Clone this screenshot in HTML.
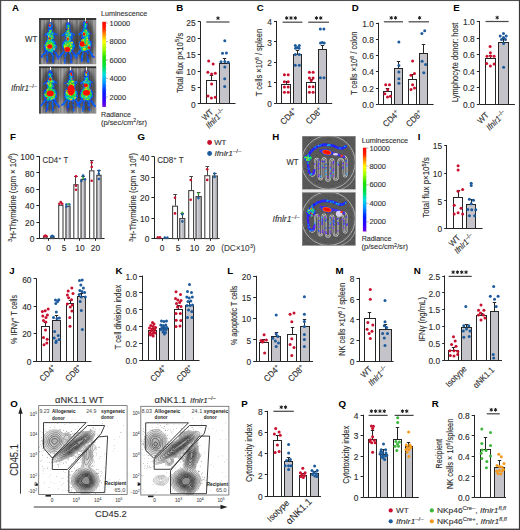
<!DOCTYPE html>
<html><head><meta charset="utf-8"><style>
html,body{margin:0;padding:0;background:#fff;}
svg{display:block;font-family:"Liberation Sans", sans-serif;}
</style></head><body>
<svg width="520" height="530" viewBox="0 0 520 530">
<rect width="520" height="530" fill="#fff"/>
<defs><filter id="blur04" x="-20%" y="-20%" width="140%" height="140%"><feGaussianBlur stdDeviation="0.4"/></filter><filter id="blur06" x="-20%" y="-20%" width="140%" height="140%"><feGaussianBlur stdDeviation="0.55"/></filter><filter id="blur1" x="-30%" y="-30%" width="160%" height="160%"><feGaussianBlur stdDeviation="1.2"/></filter><filter id="blur15" x="-30%" y="-30%" width="160%" height="160%"><feGaussianBlur stdDeviation="1.8"/></filter></defs>
<text x="12.10" y="10.80" font-size="9.7" fill="#000" font-weight="bold" >A</text>
<defs><clipPath id="clipA1"><rect x="39.1" y="18.1" width="57.199999999999996" height="46.49999999999999"/></clipPath></defs>
<g clip-path="url(#clipA1)">
<rect x="39.10" y="18.10" width="57.20" height="46.50" fill="#828282"/>
<rect x="39.1" y="18.1" width="0.7" height="46.49999999999999" fill="#626262" opacity="0.75"/>
<rect x="40.7" y="18.1" width="0.8" height="46.49999999999999" fill="#a4a4a4" opacity="0.75"/>
<rect x="42.0" y="18.1" width="1.4" height="46.49999999999999" fill="#a4a4a4" opacity="0.75"/>
<rect x="45.1" y="18.1" width="0.7" height="46.49999999999999" fill="#b8b8b8" opacity="0.75"/>
<rect x="46.4" y="18.1" width="0.5" height="46.49999999999999" fill="#9c9c9c" opacity="0.75"/>
<rect x="48.6" y="18.1" width="1.0" height="46.49999999999999" fill="#787878" opacity="0.75"/>
<rect x="51.0" y="18.1" width="0.8" height="46.49999999999999" fill="#787878" opacity="0.75"/>
<rect x="53.1" y="18.1" width="1.0" height="46.49999999999999" fill="#626262" opacity="0.75"/>
<rect x="55.5" y="18.1" width="0.9" height="46.49999999999999" fill="#acacac" opacity="0.75"/>
<rect x="56.7" y="18.1" width="0.9" height="46.49999999999999" fill="#acacac" opacity="0.75"/>
<rect x="58.9" y="18.1" width="1.2" height="46.49999999999999" fill="#9c9c9c" opacity="0.75"/>
<rect x="60.3" y="18.1" width="1.3" height="46.49999999999999" fill="#6c6c6c" opacity="0.75"/>
<rect x="62.1" y="18.1" width="1.5" height="46.49999999999999" fill="#acacac" opacity="0.75"/>
<rect x="64.0" y="18.1" width="1.3" height="46.49999999999999" fill="#acacac" opacity="0.75"/>
<rect x="66.3" y="18.1" width="0.7" height="46.49999999999999" fill="#6c6c6c" opacity="0.75"/>
<rect x="68.0" y="18.1" width="1.4" height="46.49999999999999" fill="#6c6c6c" opacity="0.75"/>
<rect x="70.8" y="18.1" width="0.7" height="46.49999999999999" fill="#a4a4a4" opacity="0.75"/>
<rect x="73.2" y="18.1" width="1.3" height="46.49999999999999" fill="#a4a4a4" opacity="0.75"/>
<rect x="76.1" y="18.1" width="1.6" height="46.49999999999999" fill="#6c6c6c" opacity="0.75"/>
<rect x="78.1" y="18.1" width="1.0" height="46.49999999999999" fill="#a4a4a4" opacity="0.75"/>
<rect x="80.0" y="18.1" width="0.9" height="46.49999999999999" fill="#787878" opacity="0.75"/>
<rect x="82.5" y="18.1" width="1.0" height="46.49999999999999" fill="#9c9c9c" opacity="0.75"/>
<rect x="85.1" y="18.1" width="1.1" height="46.49999999999999" fill="#9c9c9c" opacity="0.75"/>
<rect x="88.0" y="18.1" width="0.9" height="46.49999999999999" fill="#6c6c6c" opacity="0.75"/>
<rect x="90.4" y="18.1" width="0.7" height="46.49999999999999" fill="#626262" opacity="0.75"/>
<rect x="92.9" y="18.1" width="1.0" height="46.49999999999999" fill="#acacac" opacity="0.75"/>
<rect x="94.3" y="18.1" width="1.2" height="46.49999999999999" fill="#b8b8b8" opacity="0.75"/>
<rect x="96.0" y="18.1" width="1.2" height="46.49999999999999" fill="#b8b8b8" opacity="0.75"/>
<rect x="39.1" y="18.1" width="57.199999999999996" height="1.8" fill="#2e2e2e"/>
<rect x="39.1" y="18.1" width="1.6" height="46.49999999999999" fill="#3a3a3a"/>
<ellipse cx="50.3" cy="42.6" rx="9.5" ry="21" fill="#2a2a2a" opacity="0.6" filter="url(#blur15)"/>
<ellipse cx="68.3" cy="42.6" rx="9.5" ry="21" fill="#2a2a2a" opacity="0.6" filter="url(#blur15)"/>
<ellipse cx="85.2" cy="41.6" rx="9.5" ry="21" fill="#2a2a2a" opacity="0.6" filter="url(#blur15)"/>
<line x1="50.50" y1="19.00" x2="50.50" y2="23.20" stroke="#f4f4f4" stroke-width="1.0"/>
<g filter="url(#blur04)">
<g opacity="0.55">
<ellipse cx="50.3" cy="26.2" rx="2.3" ry="4.1" fill="#2a2aff"/>
<ellipse cx="50.3" cy="31.1" rx="2.5" ry="2.9" fill="#2a2aff"/>
<ellipse cx="50.6" cy="37.1" rx="4.0" ry="5.5" fill="#2a2aff"/>
<ellipse cx="50.3" cy="46.1" rx="6.5" ry="7.1" fill="#2a2aff"/>
<line x1="48.3" y1="32.6" x2="44.5" y2="35.4" stroke="#2a2aff" stroke-width="1.5" stroke-linecap="round"/>
<line x1="52.6" y1="32.4" x2="56.3" y2="34.6" stroke="#2a2aff" stroke-width="1.5" stroke-linecap="round"/>
<line x1="46.3" y1="51.1" x2="41.3" y2="57.1" stroke="#2a2aff" stroke-width="1.5" stroke-linecap="round"/>
<line x1="47.8" y1="53.1" x2="46.8" y2="62.6" stroke="#2a2aff" stroke-width="1.4" stroke-linecap="round"/>
<line x1="54.3" y1="51.1" x2="58.8" y2="58.6" stroke="#2a2aff" stroke-width="1.5" stroke-linecap="round"/>
<line x1="52.3" y1="53.6" x2="53.3" y2="62.6" stroke="#2a2aff" stroke-width="1.3" stroke-linecap="round"/>
</g>
<path fill="#006eff" d="M50.0 22.7h1.35v1.35h-1.35zM51.3 25.8h1.35v1.35h-1.35zM48.2 28.7h1.35v1.35h-1.35zM50.2 29.0h1.35v1.35h-1.35zM50.9 30.6h1.35v1.35h-1.35zM45.2 33.1h1.35v1.35h-1.35zM54.2 33.2h1.35v1.35h-1.35zM45.8 34.0h1.35v1.35h-1.35zM54.1 33.7h1.35v1.35h-1.35zM46.9 35.8h1.35v1.35h-1.35zM52.6 36.2h1.35v1.35h-1.35zM51.2 37.2h1.35v1.35h-1.35zM53.0 37.3h1.35v1.35h-1.35zM47.0 38.1h1.35v1.35h-1.35zM47.2 39.2h1.35v1.35h-1.35zM53.6 40.5h1.35v1.35h-1.35zM54.1 41.6h1.35v1.35h-1.35zM55.6 45.8h1.35v1.35h-1.35zM44.0 46.4h1.35v1.35h-1.35zM48.4 48.9h1.35v1.35h-1.35zM53.4 50.1h1.35v1.35h-1.35zM46.3 50.5h1.35v1.35h-1.35zM47.2 50.9h1.35v1.35h-1.35zM44.0 52.8h1.35v1.35h-1.35zM46.7 52.8h1.35v1.35h-1.35zM51.3 52.8h1.35v1.35h-1.35zM41.7 54.1h1.35v1.35h-1.35zM43.0 53.7h1.35v1.35h-1.35zM51.3 54.0h1.35v1.35h-1.35zM52.5 54.8h1.35v1.35h-1.35zM46.2 55.8h1.35v1.35h-1.35zM46.9 57.0h1.35v1.35h-1.35zM52.4 57.4h1.35v1.35h-1.35zM46.9 57.9h1.35v1.35h-1.35z"/>
<path fill="#caf000" d="M49.2 23.8h1.35v1.35h-1.35zM48.2 38.5h1.35v1.35h-1.35zM46.8 43.7h1.35v1.35h-1.35zM47.2 45.9h1.35v1.35h-1.35zM51.2 45.7h1.35v1.35h-1.35zM52.6 45.2h1.35v1.35h-1.35zM53.3 45.6h1.35v1.35h-1.35zM47.9 47.5h1.35v1.35h-1.35zM48.9 47.7h1.35v1.35h-1.35z"/>
<path fill="#ff2f00" d="M49.3 24.8h1.35v1.35h-1.35zM49.2 44.6h1.35v1.35h-1.35zM50.0 44.7h1.35v1.35h-1.35zM48.9 45.4h1.35v1.35h-1.35z"/>
<path fill="#00e646" d="M50.2 24.4h1.35v1.35h-1.35zM49.3 30.7h1.35v1.35h-1.35zM48.0 33.1h1.35v1.35h-1.35zM51.5 34.1h1.35v1.35h-1.35zM50.2 36.4h1.35v1.35h-1.35zM48.3 37.4h1.35v1.35h-1.35zM49.9 40.5h1.35v1.35h-1.35zM52.3 40.3h1.35v1.35h-1.35zM46.3 41.6h1.35v1.35h-1.35zM47.8 42.7h1.35v1.35h-1.35zM49.3 42.6h1.35v1.35h-1.35zM52.5 42.2h1.35v1.35h-1.35zM48.3 43.2h1.35v1.35h-1.35zM52.5 43.8h1.35v1.35h-1.35zM52.3 44.4h1.35v1.35h-1.35zM53.3 44.3h1.35v1.35h-1.35zM52.6 47.9h1.35v1.35h-1.35zM49.4 48.6h1.35v1.35h-1.35zM51.9 49.5h1.35v1.35h-1.35z"/>
<path fill="#0555ff" d="M51.5 24.6h1.35v1.35h-1.35zM47.9 25.5h1.35v1.35h-1.35zM48.2 27.0h1.35v1.35h-1.35zM50.5 26.6h1.35v1.35h-1.35zM49.9 28.0h1.35v1.35h-1.35zM51.0 27.8h1.35v1.35h-1.35zM49.0 28.7h1.35v1.35h-1.35zM48.3 29.6h1.35v1.35h-1.35zM51.0 29.5h1.35v1.35h-1.35zM47.0 31.7h1.35v1.35h-1.35zM52.0 31.6h1.35v1.35h-1.35zM53.7 32.6h1.35v1.35h-1.35zM52.3 33.9h1.35v1.35h-1.35zM55.3 33.7h1.35v1.35h-1.35zM56.2 33.8h1.35v1.35h-1.35zM47.2 35.1h1.35v1.35h-1.35zM53.5 36.4h1.35v1.35h-1.35zM52.5 38.4h1.35v1.35h-1.35zM46.3 40.3h1.35v1.35h-1.35zM45.2 41.3h1.35v1.35h-1.35zM53.2 41.0h1.35v1.35h-1.35zM44.8 43.3h1.35v1.35h-1.35zM54.3 43.6h1.35v1.35h-1.35zM43.9 44.4h1.35v1.35h-1.35zM43.6 45.4h1.35v1.35h-1.35zM54.5 45.8h1.35v1.35h-1.35zM55.6 46.9h1.35v1.35h-1.35zM44.8 48.0h1.35v1.35h-1.35zM54.6 47.6h1.35v1.35h-1.35zM44.6 48.7h1.35v1.35h-1.35zM54.2 48.9h1.35v1.35h-1.35zM44.8 49.5h1.35v1.35h-1.35zM44.9 50.6h1.35v1.35h-1.35zM44.7 51.9h1.35v1.35h-1.35zM47.2 52.2h1.35v1.35h-1.35zM49.0 51.6h1.35v1.35h-1.35zM50.2 52.1h1.35v1.35h-1.35zM51.0 52.0h1.35v1.35h-1.35zM54.4 51.9h1.35v1.35h-1.35zM55.3 51.9h1.35v1.35h-1.35zM43.0 53.2h1.35v1.35h-1.35zM55.6 52.8h1.35v1.35h-1.35zM56.2 54.2h1.35v1.35h-1.35zM56.5 55.1h1.35v1.35h-1.35zM41.0 55.8h1.35v1.35h-1.35zM41.7 56.2h1.35v1.35h-1.35zM52.4 56.0h1.35v1.35h-1.35zM56.7 55.9h1.35v1.35h-1.35zM51.9 57.9h1.35v1.35h-1.35zM57.4 58.2h1.35v1.35h-1.35zM52.5 59.5h1.35v1.35h-1.35zM46.9 60.1h1.35v1.35h-1.35zM52.2 60.2h1.35v1.35h-1.35zM52.5 61.3h1.35v1.35h-1.35z"/>
<path fill="#ff7400" d="M49.3 25.5h1.35v1.35h-1.35zM49.0 33.9h1.35v1.35h-1.35zM49.3 37.5h1.35v1.35h-1.35zM50.3 45.9h1.35v1.35h-1.35zM50.0 46.9h1.35v1.35h-1.35z"/>
<path fill="#00e2c4" d="M49.3 26.6h1.35v1.35h-1.35zM47.0 33.9h1.35v1.35h-1.35zM52.2 35.4h1.35v1.35h-1.35zM49.0 39.1h1.35v1.35h-1.35zM51.3 39.4h1.35v1.35h-1.35zM48.8 40.1h1.35v1.35h-1.35zM47.3 41.7h1.35v1.35h-1.35zM52.0 41.6h1.35v1.35h-1.35zM46.2 43.8h1.35v1.35h-1.35zM53.4 43.7h1.35v1.35h-1.35zM46.7 49.6h1.35v1.35h-1.35zM50.3 50.7h1.35v1.35h-1.35z"/>
<path fill="#00e485" d="M49.0 30.1h1.35v1.35h-1.35zM50.4 31.0h1.35v1.35h-1.35zM51.5 33.2h1.35v1.35h-1.35zM48.4 34.3h1.35v1.35h-1.35zM49.0 35.4h1.35v1.35h-1.35zM50.3 38.2h1.35v1.35h-1.35zM50.2 39.2h1.35v1.35h-1.35zM46.9 40.3h1.35v1.35h-1.35zM49.1 41.3h1.35v1.35h-1.35zM51.1 41.2h1.35v1.35h-1.35zM51.3 42.4h1.35v1.35h-1.35zM53.5 42.2h1.35v1.35h-1.35zM45.6 44.6h1.35v1.35h-1.35zM54.5 44.8h1.35v1.35h-1.35zM46.0 47.5h1.35v1.35h-1.35zM45.9 48.6h1.35v1.35h-1.35zM50.3 48.7h1.35v1.35h-1.35zM50.0 49.6h1.35v1.35h-1.35z"/>
<path fill="#88ef06" d="M50.3 29.7h1.35v1.35h-1.35zM48.2 32.2h1.35v1.35h-1.35zM50.0 31.6h1.35v1.35h-1.35zM51.2 35.2h1.35v1.35h-1.35zM50.3 37.2h1.35v1.35h-1.35zM52.1 37.4h1.35v1.35h-1.35zM47.0 42.5h1.35v1.35h-1.35zM50.5 42.4h1.35v1.35h-1.35zM49.4 43.6h1.35v1.35h-1.35zM50.3 43.3h1.35v1.35h-1.35zM51.2 43.8h1.35v1.35h-1.35zM44.8 44.5h1.35v1.35h-1.35zM47.2 44.4h1.35v1.35h-1.35zM51.5 44.7h1.35v1.35h-1.35zM46.0 45.3h1.35v1.35h-1.35zM51.1 46.4h1.35v1.35h-1.35zM49.3 49.4h1.35v1.35h-1.35z"/>
<path fill="#44ea26" d="M48.8 31.9h1.35v1.35h-1.35zM52.3 32.7h1.35v1.35h-1.35zM50.0 34.4h1.35v1.35h-1.35zM51.2 36.2h1.35v1.35h-1.35zM51.1 37.9h1.35v1.35h-1.35zM47.9 40.2h1.35v1.35h-1.35zM47.9 41.7h1.35v1.35h-1.35zM50.4 41.3h1.35v1.35h-1.35zM45.8 42.5h1.35v1.35h-1.35zM52.3 46.6h1.35v1.35h-1.35zM54.3 47.0h1.35v1.35h-1.35zM47.1 47.5h1.35v1.35h-1.35zM51.0 47.4h1.35v1.35h-1.35zM46.9 49.1h1.35v1.35h-1.35zM48.1 50.1h1.35v1.35h-1.35zM51.4 51.1h1.35v1.35h-1.35z"/>
<path fill="#009df6" d="M51.0 32.0h1.35v1.35h-1.35zM47.2 32.8h1.35v1.35h-1.35zM50.0 32.9h1.35v1.35h-1.35zM45.1 45.9h1.35v1.35h-1.35zM53.1 46.4h1.35v1.35h-1.35z"/>
<path fill="#00cdee" d="M48.9 33.2h1.35v1.35h-1.35zM48.0 34.9h1.35v1.35h-1.35zM50.0 35.4h1.35v1.35h-1.35zM48.8 35.8h1.35v1.35h-1.35zM51.0 40.4h1.35v1.35h-1.35zM53.1 47.8h1.35v1.35h-1.35zM51.1 48.5h1.35v1.35h-1.35zM52.2 48.9h1.35v1.35h-1.35zM51.3 50.0h1.35v1.35h-1.35z"/>
<path fill="#ffe500" d="M48.0 35.8h1.35v1.35h-1.35zM48.3 44.3h1.35v1.35h-1.35zM45.8 47.0h1.35v1.35h-1.35zM50.0 47.6h1.35v1.35h-1.35zM53.6 48.5h1.35v1.35h-1.35z"/>
<path fill="#ffad00" d="M49.0 38.4h1.35v1.35h-1.35zM47.8 45.6h1.35v1.35h-1.35zM47.3 46.5h1.35v1.35h-1.35zM47.8 46.3h1.35v1.35h-1.35z"/>
<path fill="#0b3cff" d="M52.0 39.3h1.35v1.35h-1.35zM54.2 42.7h1.35v1.35h-1.35zM46.3 50.0h1.35v1.35h-1.35z"/>
<path fill="#ff0c00" d="M49.1 46.9h1.35v1.35h-1.35z"/>
<ellipse cx="49.8" cy="25.6" rx="1.0" ry="1.2" fill="#ff0a00"/>
<ellipse cx="49.8" cy="38.5" rx="0.9" ry="1.0" fill="#ff0a00"/>
<ellipse cx="49.8" cy="46.5" rx="2.5" ry="2.2" fill="#ff0a00"/>
</g>
<line x1="68.50" y1="19.00" x2="68.50" y2="23.20" stroke="#f4f4f4" stroke-width="1.0"/>
<g filter="url(#blur04)">
<g opacity="0.55">
<ellipse cx="68.3" cy="26.2" rx="2.3" ry="4.1" fill="#2a2aff"/>
<ellipse cx="68.3" cy="31.1" rx="2.5" ry="2.9" fill="#2a2aff"/>
<ellipse cx="68.6" cy="37.1" rx="4.0" ry="5.5" fill="#2a2aff"/>
<ellipse cx="68.3" cy="46.1" rx="6.5" ry="7.1" fill="#2a2aff"/>
<line x1="66.3" y1="32.6" x2="62.5" y2="35.4" stroke="#2a2aff" stroke-width="1.5" stroke-linecap="round"/>
<line x1="70.6" y1="32.4" x2="74.3" y2="34.6" stroke="#2a2aff" stroke-width="1.5" stroke-linecap="round"/>
<line x1="64.3" y1="51.1" x2="59.3" y2="57.1" stroke="#2a2aff" stroke-width="1.5" stroke-linecap="round"/>
<line x1="65.8" y1="53.1" x2="64.8" y2="62.6" stroke="#2a2aff" stroke-width="1.4" stroke-linecap="round"/>
<line x1="72.3" y1="51.1" x2="76.8" y2="58.6" stroke="#2a2aff" stroke-width="1.5" stroke-linecap="round"/>
<line x1="70.3" y1="53.6" x2="71.3" y2="62.6" stroke="#2a2aff" stroke-width="1.3" stroke-linecap="round"/>
</g>
<path fill="#0555ff" d="M67.0 22.5h1.35v1.35h-1.35zM68.5 23.5h1.35v1.35h-1.35zM66.3 24.6h1.35v1.35h-1.35zM69.0 24.6h1.35v1.35h-1.35zM66.8 26.5h1.35v1.35h-1.35zM67.3 28.4h1.35v1.35h-1.35zM68.2 28.4h1.35v1.35h-1.35zM65.8 30.2h1.35v1.35h-1.35zM69.6 29.5h1.35v1.35h-1.35zM66.0 30.8h1.35v1.35h-1.35zM64.3 32.2h1.35v1.35h-1.35zM70.5 31.9h1.35v1.35h-1.35zM63.6 33.1h1.35v1.35h-1.35zM71.2 32.9h1.35v1.35h-1.35zM73.6 34.3h1.35v1.35h-1.35zM61.6 35.1h1.35v1.35h-1.35zM62.8 34.7h1.35v1.35h-1.35zM70.3 34.9h1.35v1.35h-1.35zM70.4 36.4h1.35v1.35h-1.35zM65.0 37.1h1.35v1.35h-1.35zM70.2 38.5h1.35v1.35h-1.35zM71.1 38.0h1.35v1.35h-1.35zM63.9 40.4h1.35v1.35h-1.35zM64.7 40.1h1.35v1.35h-1.35zM71.3 40.4h1.35v1.35h-1.35zM64.0 41.2h1.35v1.35h-1.35zM72.6 41.5h1.35v1.35h-1.35zM62.1 42.4h1.35v1.35h-1.35zM63.2 42.2h1.35v1.35h-1.35zM72.6 42.1h1.35v1.35h-1.35zM72.6 43.3h1.35v1.35h-1.35zM62.1 44.3h1.35v1.35h-1.35zM73.7 45.3h1.35v1.35h-1.35zM61.9 46.3h1.35v1.35h-1.35zM72.5 46.6h1.35v1.35h-1.35zM73.6 46.4h1.35v1.35h-1.35zM72.5 47.4h1.35v1.35h-1.35zM70.5 50.7h1.35v1.35h-1.35zM71.0 50.6h1.35v1.35h-1.35zM72.1 52.0h1.35v1.35h-1.35zM61.1 52.7h1.35v1.35h-1.35zM59.9 54.0h1.35v1.35h-1.35zM60.6 54.1h1.35v1.35h-1.35zM65.3 54.2h1.35v1.35h-1.35zM70.0 54.2h1.35v1.35h-1.35zM74.6 54.1h1.35v1.35h-1.35zM64.2 55.1h1.35v1.35h-1.35zM70.2 55.0h1.35v1.35h-1.35zM58.5 55.7h1.35v1.35h-1.35zM70.6 56.3h1.35v1.35h-1.35zM70.3 57.3h1.35v1.35h-1.35zM75.5 57.4h1.35v1.35h-1.35zM70.2 58.2h1.35v1.35h-1.35zM64.3 59.3h1.35v1.35h-1.35zM63.8 60.2h1.35v1.35h-1.35zM70.4 60.4h1.35v1.35h-1.35z"/>
<path fill="#006eff" d="M66.4 23.5h1.35v1.35h-1.35zM66.8 23.4h1.35v1.35h-1.35zM66.8 24.2h1.35v1.35h-1.35zM66.1 25.9h1.35v1.35h-1.35zM66.0 27.0h1.35v1.35h-1.35zM68.9 26.3h1.35v1.35h-1.35zM68.3 30.5h1.35v1.35h-1.35zM64.7 31.9h1.35v1.35h-1.35zM64.9 32.7h1.35v1.35h-1.35zM69.3 33.2h1.35v1.35h-1.35zM72.3 32.9h1.35v1.35h-1.35zM62.0 33.9h1.35v1.35h-1.35zM70.5 34.3h1.35v1.35h-1.35zM64.9 35.4h1.35v1.35h-1.35zM71.2 35.1h1.35v1.35h-1.35zM71.2 35.9h1.35v1.35h-1.35zM71.5 37.1h1.35v1.35h-1.35zM63.2 41.4h1.35v1.35h-1.35zM61.8 43.8h1.35v1.35h-1.35zM62.9 43.4h1.35v1.35h-1.35zM73.6 44.5h1.35v1.35h-1.35zM72.0 48.6h1.35v1.35h-1.35zM62.2 51.7h1.35v1.35h-1.35zM62.6 51.6h1.35v1.35h-1.35zM66.1 52.0h1.35v1.35h-1.35zM69.1 51.7h1.35v1.35h-1.35zM62.2 52.9h1.35v1.35h-1.35zM65.1 52.8h1.35v1.35h-1.35zM69.3 52.8h1.35v1.35h-1.35zM73.4 54.2h1.35v1.35h-1.35zM59.5 55.0h1.35v1.35h-1.35zM74.5 54.7h1.35v1.35h-1.35zM59.5 56.4h1.35v1.35h-1.35zM64.7 55.9h1.35v1.35h-1.35zM64.8 60.0h1.35v1.35h-1.35zM70.5 61.3h1.35v1.35h-1.35zM71.1 61.6h1.35v1.35h-1.35zM64.0 62.4h1.35v1.35h-1.35z"/>
<path fill="#00e646" d="M67.8 24.8h1.35v1.35h-1.35zM66.8 30.0h1.35v1.35h-1.35zM65.1 33.8h1.35v1.35h-1.35zM66.1 41.2h1.35v1.35h-1.35zM69.1 41.6h1.35v1.35h-1.35zM68.5 42.2h1.35v1.35h-1.35zM65.9 43.2h1.35v1.35h-1.35zM69.3 43.2h1.35v1.35h-1.35zM72.1 44.9h1.35v1.35h-1.35zM63.1 45.3h1.35v1.35h-1.35zM66.9 45.4h1.35v1.35h-1.35zM68.1 45.4h1.35v1.35h-1.35zM71.0 45.8h1.35v1.35h-1.35zM63.1 46.5h1.35v1.35h-1.35zM69.1 46.3h1.35v1.35h-1.35zM70.0 46.5h1.35v1.35h-1.35zM69.4 48.0h1.35v1.35h-1.35zM71.1 47.9h1.35v1.35h-1.35zM69.3 50.0h1.35v1.35h-1.35z"/>
<path fill="#44ea26" d="M67.2 25.4h1.35v1.35h-1.35zM67.9 26.9h1.35v1.35h-1.35zM67.9 27.8h1.35v1.35h-1.35zM68.2 29.7h1.35v1.35h-1.35zM67.2 35.2h1.35v1.35h-1.35zM68.3 35.0h1.35v1.35h-1.35zM65.9 37.3h1.35v1.35h-1.35zM69.4 38.5h1.35v1.35h-1.35zM67.1 40.4h1.35v1.35h-1.35zM64.8 41.4h1.35v1.35h-1.35zM70.3 42.3h1.35v1.35h-1.35zM67.0 43.3h1.35v1.35h-1.35zM64.0 44.7h1.35v1.35h-1.35zM66.1 44.2h1.35v1.35h-1.35zM64.8 45.8h1.35v1.35h-1.35zM70.3 45.7h1.35v1.35h-1.35zM64.7 46.9h1.35v1.35h-1.35zM71.1 46.7h1.35v1.35h-1.35zM65.0 50.7h1.35v1.35h-1.35zM69.4 51.0h1.35v1.35h-1.35z"/>
<path fill="#00e485" d="M68.2 25.5h1.35v1.35h-1.35zM67.9 32.1h1.35v1.35h-1.35zM67.4 33.9h1.35v1.35h-1.35zM69.4 34.8h1.35v1.35h-1.35zM66.8 36.4h1.35v1.35h-1.35zM68.4 38.0h1.35v1.35h-1.35zM68.3 40.3h1.35v1.35h-1.35zM67.3 41.6h1.35v1.35h-1.35zM68.1 41.5h1.35v1.35h-1.35zM70.4 41.2h1.35v1.35h-1.35zM64.3 42.3h1.35v1.35h-1.35zM67.3 42.1h1.35v1.35h-1.35zM64.3 43.3h1.35v1.35h-1.35zM70.2 43.4h1.35v1.35h-1.35zM63.2 44.3h1.35v1.35h-1.35zM68.3 44.2h1.35v1.35h-1.35zM69.3 44.2h1.35v1.35h-1.35zM71.3 44.7h1.35v1.35h-1.35z"/>
<path fill="#ffad00" d="M67.5 27.9h1.35v1.35h-1.35zM66.9 39.1h1.35v1.35h-1.35zM64.0 46.8h1.35v1.35h-1.35zM65.2 47.7h1.35v1.35h-1.35zM67.5 47.7h1.35v1.35h-1.35z"/>
<path fill="#caf000" d="M67.4 30.9h1.35v1.35h-1.35zM66.3 33.8h1.35v1.35h-1.35zM69.5 34.1h1.35v1.35h-1.35zM65.9 36.0h1.35v1.35h-1.35zM67.9 37.3h1.35v1.35h-1.35zM66.3 39.0h1.35v1.35h-1.35zM69.3 42.3h1.35v1.35h-1.35zM71.4 42.3h1.35v1.35h-1.35zM67.2 44.2h1.35v1.35h-1.35zM65.7 46.9h1.35v1.35h-1.35zM64.2 47.7h1.35v1.35h-1.35zM68.1 47.4h1.35v1.35h-1.35zM69.0 48.7h1.35v1.35h-1.35zM66.9 50.7h1.35v1.35h-1.35z"/>
<path fill="#88ef06" d="M66.4 31.6h1.35v1.35h-1.35zM68.9 32.2h1.35v1.35h-1.35zM67.8 32.8h1.35v1.35h-1.35zM68.1 36.4h1.35v1.35h-1.35zM67.8 39.1h1.35v1.35h-1.35zM66.4 42.7h1.35v1.35h-1.35zM64.8 43.2h1.35v1.35h-1.35zM68.0 43.6h1.35v1.35h-1.35zM64.9 44.8h1.35v1.35h-1.35zM69.1 45.8h1.35v1.35h-1.35zM68.1 46.7h1.35v1.35h-1.35zM64.3 48.9h1.35v1.35h-1.35zM70.2 50.0h1.35v1.35h-1.35zM68.2 50.5h1.35v1.35h-1.35z"/>
<path fill="#009df6" d="M67.2 32.0h1.35v1.35h-1.35zM67.1 33.3h1.35v1.35h-1.35zM70.5 33.1h1.35v1.35h-1.35zM69.3 36.1h1.35v1.35h-1.35zM69.2 37.0h1.35v1.35h-1.35zM65.9 40.3h1.35v1.35h-1.35zM72.5 45.4h1.35v1.35h-1.35zM71.1 48.6h1.35v1.35h-1.35z"/>
<path fill="#00cdee" d="M66.4 32.9h1.35v1.35h-1.35zM66.4 35.4h1.35v1.35h-1.35zM69.3 39.6h1.35v1.35h-1.35zM69.1 40.0h1.35v1.35h-1.35z"/>
<path fill="#00e2c4" d="M68.3 34.3h1.35v1.35h-1.35zM65.9 38.4h1.35v1.35h-1.35zM65.2 42.5h1.35v1.35h-1.35zM71.0 43.3h1.35v1.35h-1.35zM70.4 49.0h1.35v1.35h-1.35z"/>
<path fill="#0b3cff" d="M65.2 36.4h1.35v1.35h-1.35zM70.6 40.4h1.35v1.35h-1.35zM62.9 47.7h1.35v1.35h-1.35zM71.3 49.7h1.35v1.35h-1.35zM73.4 52.6h1.35v1.35h-1.35zM70.3 62.0h1.35v1.35h-1.35z"/>
<path fill="#ffe500" d="M67.1 37.3h1.35v1.35h-1.35zM71.3 41.7h1.35v1.35h-1.35zM70.0 44.6h1.35v1.35h-1.35zM64.1 45.7h1.35v1.35h-1.35zM66.1 45.5h1.35v1.35h-1.35zM67.0 46.9h1.35v1.35h-1.35zM70.5 47.9h1.35v1.35h-1.35zM65.1 49.5h1.35v1.35h-1.35zM68.3 50.0h1.35v1.35h-1.35z"/>
<path fill="#ff2f00" d="M66.8 38.2h1.35v1.35h-1.35zM67.4 48.7h1.35v1.35h-1.35zM68.3 49.0h1.35v1.35h-1.35z"/>
<path fill="#ff7400" d="M66.0 47.8h1.35v1.35h-1.35zM65.2 48.9h1.35v1.35h-1.35zM65.8 49.7h1.35v1.35h-1.35zM67.0 49.8h1.35v1.35h-1.35z"/>
<path fill="#ff0000" d="M66.4 48.4h1.35v1.35h-1.35z"/>
<ellipse cx="67.8" cy="39.0" rx="0.9" ry="1.5" fill="#ff0a00"/>
<ellipse cx="67.4" cy="49.5" rx="2.8" ry="2.4" fill="#ff0a00"/>
</g>
<line x1="85.50" y1="18.00" x2="85.50" y2="22.20" stroke="#f4f4f4" stroke-width="1.0"/>
<g filter="url(#blur04)">
<g opacity="0.55">
<ellipse cx="85.2" cy="25.2" rx="2.4" ry="4.1" fill="#2a2aff"/>
<ellipse cx="85.2" cy="30.1" rx="2.6" ry="2.9" fill="#2a2aff"/>
<ellipse cx="85.5" cy="36.1" rx="4.2" ry="5.5" fill="#2a2aff"/>
<ellipse cx="85.2" cy="45.1" rx="6.8" ry="7.1" fill="#2a2aff"/>
<line x1="83.2" y1="31.6" x2="79.4" y2="34.4" stroke="#2a2aff" stroke-width="1.5" stroke-linecap="round"/>
<line x1="87.5" y1="31.4" x2="91.2" y2="33.6" stroke="#2a2aff" stroke-width="1.5" stroke-linecap="round"/>
<line x1="81.2" y1="50.1" x2="76.2" y2="56.1" stroke="#2a2aff" stroke-width="1.5" stroke-linecap="round"/>
<line x1="82.7" y1="52.1" x2="81.7" y2="61.6" stroke="#2a2aff" stroke-width="1.4" stroke-linecap="round"/>
<line x1="89.2" y1="50.1" x2="93.7" y2="57.6" stroke="#2a2aff" stroke-width="1.5" stroke-linecap="round"/>
<line x1="87.2" y1="52.6" x2="88.2" y2="61.6" stroke="#2a2aff" stroke-width="1.3" stroke-linecap="round"/>
</g>
<path fill="#0555ff" d="M83.1 21.7h1.35v1.35h-1.35zM83.8 21.7h1.35v1.35h-1.35zM85.3 21.7h1.35v1.35h-1.35zM83.3 22.5h1.35v1.35h-1.35zM82.9 28.1h1.35v1.35h-1.35zM84.2 27.5h1.35v1.35h-1.35zM85.9 28.5h1.35v1.35h-1.35zM81.7 30.8h1.35v1.35h-1.35zM79.9 32.0h1.35v1.35h-1.35zM78.7 33.1h1.35v1.35h-1.35zM87.0 33.1h1.35v1.35h-1.35zM88.0 34.8h1.35v1.35h-1.35zM82.0 36.2h1.35v1.35h-1.35zM81.8 37.4h1.35v1.35h-1.35zM82.0 38.0h1.35v1.35h-1.35zM87.1 38.0h1.35v1.35h-1.35zM89.5 40.7h1.35v1.35h-1.35zM79.6 41.4h1.35v1.35h-1.35zM88.9 41.3h1.35v1.35h-1.35zM90.2 41.1h1.35v1.35h-1.35zM89.5 42.8h1.35v1.35h-1.35zM79.1 43.3h1.35v1.35h-1.35zM79.0 45.9h1.35v1.35h-1.35zM79.6 50.1h1.35v1.35h-1.35zM83.2 49.8h1.35v1.35h-1.35zM85.3 50.6h1.35v1.35h-1.35zM85.8 51.1h1.35v1.35h-1.35zM78.6 52.2h1.35v1.35h-1.35zM87.0 52.1h1.35v1.35h-1.35zM89.6 51.7h1.35v1.35h-1.35zM76.7 53.1h1.35v1.35h-1.35zM78.5 52.9h1.35v1.35h-1.35zM87.2 53.0h1.35v1.35h-1.35zM91.1 52.9h1.35v1.35h-1.35zM91.6 55.3h1.35v1.35h-1.35zM75.9 56.0h1.35v1.35h-1.35zM81.1 55.8h1.35v1.35h-1.35zM86.4 56.3h1.35v1.35h-1.35zM92.1 55.8h1.35v1.35h-1.35zM80.9 56.9h1.35v1.35h-1.35zM87.2 57.2h1.35v1.35h-1.35zM81.7 58.0h1.35v1.35h-1.35zM80.7 59.3h1.35v1.35h-1.35zM81.8 59.3h1.35v1.35h-1.35zM81.0 60.3h1.35v1.35h-1.35zM86.9 60.1h1.35v1.35h-1.35zM87.2 61.5h1.35v1.35h-1.35z"/>
<path fill="#00cdee" d="M84.3 22.6h1.35v1.35h-1.35zM85.2 24.6h1.35v1.35h-1.35zM87.2 35.4h1.35v1.35h-1.35zM83.3 35.9h1.35v1.35h-1.35zM86.4 35.9h1.35v1.35h-1.35zM83.9 40.4h1.35v1.35h-1.35zM87.3 48.6h1.35v1.35h-1.35z"/>
<path fill="#00e646" d="M85.0 22.7h1.35v1.35h-1.35zM83.9 24.9h1.35v1.35h-1.35zM84.3 26.9h1.35v1.35h-1.35zM83.9 28.8h1.35v1.35h-1.35zM85.3 28.7h1.35v1.35h-1.35zM86.4 31.7h1.35v1.35h-1.35zM86.3 33.9h1.35v1.35h-1.35zM83.7 35.1h1.35v1.35h-1.35zM85.2 36.3h1.35v1.35h-1.35zM84.3 37.5h1.35v1.35h-1.35zM86.9 37.2h1.35v1.35h-1.35zM84.0 39.6h1.35v1.35h-1.35zM82.1 40.5h1.35v1.35h-1.35zM85.2 40.1h1.35v1.35h-1.35zM85.8 43.6h1.35v1.35h-1.35zM87.2 43.4h1.35v1.35h-1.35zM83.9 44.3h1.35v1.35h-1.35zM85.3 45.4h1.35v1.35h-1.35zM81.0 47.0h1.35v1.35h-1.35zM83.0 47.0h1.35v1.35h-1.35zM85.3 46.5h1.35v1.35h-1.35zM80.6 47.5h1.35v1.35h-1.35zM81.7 47.5h1.35v1.35h-1.35zM86.3 47.7h1.35v1.35h-1.35zM87.5 47.8h1.35v1.35h-1.35zM82.2 49.1h1.35v1.35h-1.35zM85.0 49.7h1.35v1.35h-1.35z"/>
<path fill="#0b3cff" d="M86.0 22.5h1.35v1.35h-1.35zM82.8 24.6h1.35v1.35h-1.35zM81.2 37.0h1.35v1.35h-1.35zM84.3 50.6h1.35v1.35h-1.35zM93.4 56.2h1.35v1.35h-1.35z"/>
<path fill="#006eff" d="M83.7 23.3h1.35v1.35h-1.35zM86.0 23.3h1.35v1.35h-1.35zM85.8 25.4h1.35v1.35h-1.35zM85.2 26.6h1.35v1.35h-1.35zM85.1 27.6h1.35v1.35h-1.35zM83.2 28.6h1.35v1.35h-1.35zM82.9 29.5h1.35v1.35h-1.35zM87.5 30.7h1.35v1.35h-1.35zM81.1 32.3h1.35v1.35h-1.35zM81.6 31.8h1.35v1.35h-1.35zM78.7 33.8h1.35v1.35h-1.35zM88.2 34.2h1.35v1.35h-1.35zM81.8 35.2h1.35v1.35h-1.35zM84.3 36.3h1.35v1.35h-1.35zM88.3 36.2h1.35v1.35h-1.35zM82.9 36.9h1.35v1.35h-1.35zM88.5 36.9h1.35v1.35h-1.35zM88.0 39.2h1.35v1.35h-1.35zM79.1 41.3h1.35v1.35h-1.35zM78.6 42.3h1.35v1.35h-1.35zM90.3 42.5h1.35v1.35h-1.35zM90.5 43.5h1.35v1.35h-1.35zM78.7 44.9h1.35v1.35h-1.35zM78.9 46.4h1.35v1.35h-1.35zM79.7 47.9h1.35v1.35h-1.35zM89.6 47.5h1.35v1.35h-1.35zM80.9 50.0h1.35v1.35h-1.35zM86.2 50.0h1.35v1.35h-1.35zM88.4 49.9h1.35v1.35h-1.35zM78.6 50.8h1.35v1.35h-1.35zM79.7 51.1h1.35v1.35h-1.35zM77.8 52.1h1.35v1.35h-1.35zM90.1 51.6h1.35v1.35h-1.35zM82.2 52.8h1.35v1.35h-1.35zM90.2 53.1h1.35v1.35h-1.35zM82.2 53.7h1.35v1.35h-1.35zM91.3 54.1h1.35v1.35h-1.35zM74.8 55.3h1.35v1.35h-1.35zM75.4 55.0h1.35v1.35h-1.35zM76.5 55.2h1.35v1.35h-1.35zM81.1 55.4h1.35v1.35h-1.35zM81.7 55.1h1.35v1.35h-1.35zM81.7 56.2h1.35v1.35h-1.35zM87.3 59.0h1.35v1.35h-1.35zM88.0 60.3h1.35v1.35h-1.35z"/>
<path fill="#88ef06" d="M84.9 23.9h1.35v1.35h-1.35zM85.1 31.9h1.35v1.35h-1.35zM88.3 33.2h1.35v1.35h-1.35zM83.2 34.8h1.35v1.35h-1.35zM86.0 38.3h1.35v1.35h-1.35zM81.7 39.3h1.35v1.35h-1.35zM86.1 40.2h1.35v1.35h-1.35zM82.8 41.4h1.35v1.35h-1.35zM88.5 41.4h1.35v1.35h-1.35zM84.1 43.3h1.35v1.35h-1.35zM88.0 45.6h1.35v1.35h-1.35zM84.8 47.5h1.35v1.35h-1.35zM83.0 48.6h1.35v1.35h-1.35zM84.8 48.8h1.35v1.35h-1.35z"/>
<path fill="#009df6" d="M84.3 25.5h1.35v1.35h-1.35zM83.9 45.9h1.35v1.35h-1.35zM80.0 46.6h1.35v1.35h-1.35zM86.4 46.7h1.35v1.35h-1.35z"/>
<path fill="#00e2c4" d="M84.8 25.8h1.35v1.35h-1.35zM83.2 31.2h1.35v1.35h-1.35zM86.4 31.2h1.35v1.35h-1.35zM87.3 32.3h1.35v1.35h-1.35zM81.9 32.9h1.35v1.35h-1.35zM86.2 32.9h1.35v1.35h-1.35zM85.4 35.4h1.35v1.35h-1.35zM86.5 35.2h1.35v1.35h-1.35zM87.0 36.4h1.35v1.35h-1.35zM83.9 38.1h1.35v1.35h-1.35zM88.1 40.4h1.35v1.35h-1.35zM88.5 42.8h1.35v1.35h-1.35zM88.3 43.6h1.35v1.35h-1.35zM89.2 43.7h1.35v1.35h-1.35zM89.2 44.3h1.35v1.35h-1.35zM86.0 45.5h1.35v1.35h-1.35zM87.5 45.7h1.35v1.35h-1.35zM89.1 45.6h1.35v1.35h-1.35zM84.3 46.4h1.35v1.35h-1.35z"/>
<path fill="#44ea26" d="M84.3 30.1h1.35v1.35h-1.35zM85.2 30.8h1.35v1.35h-1.35zM85.0 33.2h1.35v1.35h-1.35zM85.0 38.5h1.35v1.35h-1.35zM85.9 39.3h1.35v1.35h-1.35zM84.7 41.2h1.35v1.35h-1.35zM86.9 41.4h1.35v1.35h-1.35zM83.7 42.3h1.35v1.35h-1.35zM87.5 44.3h1.35v1.35h-1.35zM87.2 47.0h1.35v1.35h-1.35zM86.4 48.6h1.35v1.35h-1.35zM84.0 49.6h1.35v1.35h-1.35z"/>
<path fill="#caf000" d="M85.8 30.2h1.35v1.35h-1.35zM85.0 34.2h1.35v1.35h-1.35zM86.4 37.1h1.35v1.35h-1.35zM81.0 40.4h1.35v1.35h-1.35zM83.0 40.4h1.35v1.35h-1.35zM83.2 42.3h1.35v1.35h-1.35zM85.3 43.4h1.35v1.35h-1.35zM79.6 44.7h1.35v1.35h-1.35zM82.7 44.8h1.35v1.35h-1.35zM81.2 45.3h1.35v1.35h-1.35zM83.2 45.7h1.35v1.35h-1.35zM84.0 47.5h1.35v1.35h-1.35zM88.5 47.9h1.35v1.35h-1.35z"/>
<path fill="#00e485" d="M84.2 30.9h1.35v1.35h-1.35zM83.7 31.8h1.35v1.35h-1.35zM86.9 33.9h1.35v1.35h-1.35zM85.0 37.0h1.35v1.35h-1.35zM84.8 39.3h1.35v1.35h-1.35zM87.1 40.5h1.35v1.35h-1.35zM83.8 41.5h1.35v1.35h-1.35zM84.8 42.3h1.35v1.35h-1.35zM87.3 42.5h1.35v1.35h-1.35zM86.1 44.7h1.35v1.35h-1.35zM79.9 45.7h1.35v1.35h-1.35zM82.1 46.9h1.35v1.35h-1.35zM81.0 48.7h1.35v1.35h-1.35zM82.1 50.1h1.35v1.35h-1.35z"/>
<path fill="#ffad00" d="M83.2 32.1h1.35v1.35h-1.35zM83.2 34.1h1.35v1.35h-1.35zM84.1 33.9h1.35v1.35h-1.35zM81.2 41.6h1.35v1.35h-1.35zM82.1 41.8h1.35v1.35h-1.35zM79.7 42.6h1.35v1.35h-1.35zM86.3 42.8h1.35v1.35h-1.35zM79.7 43.6h1.35v1.35h-1.35zM82.0 44.6h1.35v1.35h-1.35zM83.7 49.1h1.35v1.35h-1.35z"/>
<path fill="#ff2f00" d="M83.8 33.3h1.35v1.35h-1.35zM85.0 44.4h1.35v1.35h-1.35z"/>
<path fill="#ffe500" d="M82.9 39.2h1.35v1.35h-1.35zM86.9 39.1h1.35v1.35h-1.35zM86.0 41.5h1.35v1.35h-1.35zM83.2 43.6h1.35v1.35h-1.35zM88.1 44.8h1.35v1.35h-1.35zM81.8 45.4h1.35v1.35h-1.35zM82.9 48.1h1.35v1.35h-1.35z"/>
<path fill="#ff0000" d="M81.1 42.5h1.35v1.35h-1.35zM82.2 42.8h1.35v1.35h-1.35z"/>
<path fill="#ff0c00" d="M80.9 43.6h1.35v1.35h-1.35zM82.3 43.6h1.35v1.35h-1.35zM88.1 46.9h1.35v1.35h-1.35z"/>
<path fill="#ff7400" d="M80.5 44.5h1.35v1.35h-1.35z"/>
<ellipse cx="86.5" cy="22.4" rx="0.8" ry="1.0" fill="#ff0a00"/>
<ellipse cx="84.0" cy="34.0" rx="1.2" ry="1.5" fill="#ff0a00"/>
<ellipse cx="82.2" cy="43.9" rx="2.4" ry="2.7" fill="#ff0a00"/>
<ellipse cx="89.0" cy="47.6" rx="1.4" ry="1.4" fill="#ff0a00"/>
</g>
</g>
<rect x="39.10" y="64.60" width="57.20" height="1.70" fill="#ececec"/>
<defs><clipPath id="clipA2"><rect x="39.1" y="66.3" width="57.199999999999996" height="47.400000000000006"/></clipPath></defs>
<g clip-path="url(#clipA2)">
<rect x="39.10" y="66.30" width="57.20" height="47.40" fill="#828282"/>
<rect x="39.1" y="66.3" width="1.6" height="47.400000000000006" fill="#787878" opacity="0.75"/>
<rect x="41.2" y="66.3" width="1.2" height="47.400000000000006" fill="#acacac" opacity="0.75"/>
<rect x="42.9" y="66.3" width="0.6" height="47.400000000000006" fill="#626262" opacity="0.75"/>
<rect x="45.1" y="66.3" width="1.4" height="47.400000000000006" fill="#6c6c6c" opacity="0.75"/>
<rect x="47.1" y="66.3" width="1.6" height="47.400000000000006" fill="#9c9c9c" opacity="0.75"/>
<rect x="50.4" y="66.3" width="0.7" height="47.400000000000006" fill="#b8b8b8" opacity="0.75"/>
<rect x="52.4" y="66.3" width="1.5" height="47.400000000000006" fill="#626262" opacity="0.75"/>
<rect x="55.5" y="66.3" width="1.1" height="47.400000000000006" fill="#6c6c6c" opacity="0.75"/>
<rect x="57.8" y="66.3" width="0.8" height="47.400000000000006" fill="#787878" opacity="0.75"/>
<rect x="59.1" y="66.3" width="0.6" height="47.400000000000006" fill="#b8b8b8" opacity="0.75"/>
<rect x="61.5" y="66.3" width="1.4" height="47.400000000000006" fill="#b8b8b8" opacity="0.75"/>
<rect x="63.1" y="66.3" width="0.9" height="47.400000000000006" fill="#9c9c9c" opacity="0.75"/>
<rect x="64.6" y="66.3" width="1.6" height="47.400000000000006" fill="#9c9c9c" opacity="0.75"/>
<rect x="67.8" y="66.3" width="1.5" height="47.400000000000006" fill="#626262" opacity="0.75"/>
<rect x="70.3" y="66.3" width="0.8" height="47.400000000000006" fill="#9c9c9c" opacity="0.75"/>
<rect x="72.3" y="66.3" width="0.7" height="47.400000000000006" fill="#6c6c6c" opacity="0.75"/>
<rect x="73.8" y="66.3" width="1.5" height="47.400000000000006" fill="#acacac" opacity="0.75"/>
<rect x="77.0" y="66.3" width="1.1" height="47.400000000000006" fill="#b8b8b8" opacity="0.75"/>
<rect x="79.6" y="66.3" width="0.9" height="47.400000000000006" fill="#787878" opacity="0.75"/>
<rect x="81.3" y="66.3" width="0.9" height="47.400000000000006" fill="#b8b8b8" opacity="0.75"/>
<rect x="82.4" y="66.3" width="1.1" height="47.400000000000006" fill="#b8b8b8" opacity="0.75"/>
<rect x="84.6" y="66.3" width="1.0" height="47.400000000000006" fill="#626262" opacity="0.75"/>
<rect x="87.2" y="66.3" width="1.0" height="47.400000000000006" fill="#6c6c6c" opacity="0.75"/>
<rect x="90.0" y="66.3" width="0.9" height="47.400000000000006" fill="#acacac" opacity="0.75"/>
<rect x="92.3" y="66.3" width="0.6" height="47.400000000000006" fill="#a4a4a4" opacity="0.75"/>
<rect x="94.6" y="66.3" width="1.1" height="47.400000000000006" fill="#acacac" opacity="0.75"/>
<rect x="95.9" y="66.3" width="1.0" height="47.400000000000006" fill="#787878" opacity="0.75"/>
<rect x="39.1" y="66.3" width="57.199999999999996" height="1.8" fill="#2e2e2e"/>
<rect x="39.1" y="66.3" width="1.6" height="47.400000000000006" fill="#3a3a3a"/>
<ellipse cx="50.2" cy="90.8" rx="9.5" ry="21" fill="#2a2a2a" opacity="0.6" filter="url(#blur15)"/>
<ellipse cx="71.0" cy="90.8" rx="9.5" ry="21" fill="#2a2a2a" opacity="0.6" filter="url(#blur15)"/>
<ellipse cx="86.5" cy="90.8" rx="9.5" ry="21" fill="#2a2a2a" opacity="0.6" filter="url(#blur15)"/>
<line x1="50.50" y1="67.20" x2="50.50" y2="71.40" stroke="#f4f4f4" stroke-width="1.0"/>
<g filter="url(#blur04)">
<g opacity="0.55">
<ellipse cx="50.2" cy="74.4" rx="2.4" ry="4.1" fill="#2a2aff"/>
<ellipse cx="50.2" cy="79.3" rx="2.6" ry="2.9" fill="#2a2aff"/>
<ellipse cx="50.5" cy="85.3" rx="4.2" ry="5.5" fill="#2a2aff"/>
<ellipse cx="50.2" cy="94.3" rx="6.8" ry="7.1" fill="#2a2aff"/>
<line x1="48.2" y1="80.8" x2="44.4" y2="83.6" stroke="#2a2aff" stroke-width="1.5" stroke-linecap="round"/>
<line x1="52.5" y1="80.6" x2="56.2" y2="82.8" stroke="#2a2aff" stroke-width="1.5" stroke-linecap="round"/>
<line x1="46.2" y1="99.3" x2="41.2" y2="105.3" stroke="#2a2aff" stroke-width="1.5" stroke-linecap="round"/>
<line x1="47.7" y1="101.3" x2="46.7" y2="110.8" stroke="#2a2aff" stroke-width="1.4" stroke-linecap="round"/>
<line x1="54.2" y1="99.3" x2="58.7" y2="106.8" stroke="#2a2aff" stroke-width="1.5" stroke-linecap="round"/>
<line x1="52.2" y1="101.8" x2="53.2" y2="110.8" stroke="#2a2aff" stroke-width="1.3" stroke-linecap="round"/>
</g>
<path fill="#0555ff" d="M49.2 70.3h1.35v1.35h-1.35zM49.0 71.4h1.35v1.35h-1.35zM50.3 71.4h1.35v1.35h-1.35zM50.9 72.6h1.35v1.35h-1.35zM48.2 73.6h1.35v1.35h-1.35zM50.4 74.6h1.35v1.35h-1.35zM47.7 75.7h1.35v1.35h-1.35zM50.8 76.2h1.35v1.35h-1.35zM46.8 80.0h1.35v1.35h-1.35zM54.1 81.5h1.35v1.35h-1.35zM55.0 81.5h1.35v1.35h-1.35zM44.5 82.3h1.35v1.35h-1.35zM46.2 83.1h1.35v1.35h-1.35zM47.0 84.6h1.35v1.35h-1.35zM47.3 85.5h1.35v1.35h-1.35zM47.0 86.3h1.35v1.35h-1.35zM47.6 87.3h1.35v1.35h-1.35zM53.1 88.2h1.35v1.35h-1.35zM44.5 89.9h1.35v1.35h-1.35zM45.6 89.3h1.35v1.35h-1.35zM43.7 90.8h1.35v1.35h-1.35zM54.1 90.4h1.35v1.35h-1.35zM44.6 91.5h1.35v1.35h-1.35zM55.7 91.5h1.35v1.35h-1.35zM43.7 94.1h1.35v1.35h-1.35zM43.6 95.6h1.35v1.35h-1.35zM55.4 95.9h1.35v1.35h-1.35zM44.1 97.3h1.35v1.35h-1.35zM44.9 97.0h1.35v1.35h-1.35zM54.4 96.9h1.35v1.35h-1.35zM45.9 99.2h1.35v1.35h-1.35zM53.4 98.8h1.35v1.35h-1.35zM47.7 100.1h1.35v1.35h-1.35zM50.3 100.0h1.35v1.35h-1.35zM54.5 101.1h1.35v1.35h-1.35zM42.9 102.1h1.35v1.35h-1.35zM55.0 102.3h1.35v1.35h-1.35zM56.1 102.3h1.35v1.35h-1.35zM41.8 103.3h1.35v1.35h-1.35zM55.6 103.0h1.35v1.35h-1.35zM47.2 104.1h1.35v1.35h-1.35zM40.4 105.1h1.35v1.35h-1.35zM52.5 105.1h1.35v1.35h-1.35zM45.9 106.0h1.35v1.35h-1.35zM58.2 106.7h1.35v1.35h-1.35zM46.9 108.2h1.35v1.35h-1.35zM51.9 108.3h1.35v1.35h-1.35zM53.0 109.6h1.35v1.35h-1.35zM45.6 110.5h1.35v1.35h-1.35z"/>
<path fill="#006eff" d="M49.8 70.6h1.35v1.35h-1.35zM51.3 73.6h1.35v1.35h-1.35zM47.8 74.8h1.35v1.35h-1.35zM48.8 76.8h1.35v1.35h-1.35zM50.9 76.9h1.35v1.35h-1.35zM51.0 77.8h1.35v1.35h-1.35zM47.8 79.1h1.35v1.35h-1.35zM52.0 80.2h1.35v1.35h-1.35zM53.3 80.1h1.35v1.35h-1.35zM51.4 82.4h1.35v1.35h-1.35zM55.6 82.5h1.35v1.35h-1.35zM43.6 83.2h1.35v1.35h-1.35zM52.9 84.2h1.35v1.35h-1.35zM52.5 86.5h1.35v1.35h-1.35zM55.0 90.4h1.35v1.35h-1.35zM55.1 92.7h1.35v1.35h-1.35zM55.6 93.7h1.35v1.35h-1.35zM55.4 95.1h1.35v1.35h-1.35zM55.3 96.7h1.35v1.35h-1.35zM46.0 98.0h1.35v1.35h-1.35zM48.7 98.1h1.35v1.35h-1.35zM54.1 97.9h1.35v1.35h-1.35zM54.2 98.7h1.35v1.35h-1.35zM43.7 100.1h1.35v1.35h-1.35zM44.7 99.9h1.35v1.35h-1.35zM46.8 100.0h1.35v1.35h-1.35zM49.3 100.1h1.35v1.35h-1.35zM55.1 99.9h1.35v1.35h-1.35zM43.8 101.5h1.35v1.35h-1.35zM52.0 101.0h1.35v1.35h-1.35zM52.3 102.2h1.35v1.35h-1.35zM46.8 103.4h1.35v1.35h-1.35zM51.4 103.4h1.35v1.35h-1.35zM40.9 104.0h1.35v1.35h-1.35zM51.9 104.3h1.35v1.35h-1.35zM56.0 104.0h1.35v1.35h-1.35zM57.7 104.3h1.35v1.35h-1.35zM47.0 105.0h1.35v1.35h-1.35zM46.9 106.1h1.35v1.35h-1.35zM51.9 106.4h1.35v1.35h-1.35zM52.2 109.8h1.35v1.35h-1.35z"/>
<path fill="#ff7400" d="M49.4 73.0h1.35v1.35h-1.35zM48.9 82.1h1.35v1.35h-1.35zM50.3 90.5h1.35v1.35h-1.35zM47.7 91.7h1.35v1.35h-1.35zM51.0 91.9h1.35v1.35h-1.35zM51.5 93.8h1.35v1.35h-1.35zM54.2 93.7h1.35v1.35h-1.35zM49.2 94.6h1.35v1.35h-1.35z"/>
<path fill="#0b3cff" d="M50.2 72.5h1.35v1.35h-1.35zM49.1 76.1h1.35v1.35h-1.35zM45.6 81.2h1.35v1.35h-1.35zM53.0 82.3h1.35v1.35h-1.35zM52.5 83.1h1.35v1.35h-1.35zM44.8 99.3h1.35v1.35h-1.35zM54.2 100.4h1.35v1.35h-1.35zM47.0 101.9h1.35v1.35h-1.35zM58.3 105.6h1.35v1.35h-1.35zM46.0 108.8h1.35v1.35h-1.35z"/>
<path fill="#44ea26" d="M48.8 73.6h1.35v1.35h-1.35zM50.2 79.2h1.35v1.35h-1.35zM50.2 79.9h1.35v1.35h-1.35zM49.9 82.3h1.35v1.35h-1.35zM51.0 83.4h1.35v1.35h-1.35zM50.8 88.6h1.35v1.35h-1.35zM51.4 89.4h1.35v1.35h-1.35zM46.0 90.7h1.35v1.35h-1.35zM47.3 90.7h1.35v1.35h-1.35zM53.0 91.0h1.35v1.35h-1.35zM53.3 93.7h1.35v1.35h-1.35zM44.6 95.1h1.35v1.35h-1.35zM47.0 95.2h1.35v1.35h-1.35zM52.1 94.9h1.35v1.35h-1.35zM54.3 94.5h1.35v1.35h-1.35zM51.4 96.9h1.35v1.35h-1.35zM52.1 97.1h1.35v1.35h-1.35zM48.0 98.0h1.35v1.35h-1.35zM50.3 97.9h1.35v1.35h-1.35z"/>
<path fill="#00e485" d="M50.2 74.0h1.35v1.35h-1.35zM49.3 74.9h1.35v1.35h-1.35zM49.7 76.3h1.35v1.35h-1.35zM51.0 79.4h1.35v1.35h-1.35zM49.1 81.0h1.35v1.35h-1.35zM51.2 81.4h1.35v1.35h-1.35zM51.9 81.1h1.35v1.35h-1.35zM49.3 83.2h1.35v1.35h-1.35zM50.9 84.3h1.35v1.35h-1.35zM47.7 86.5h1.35v1.35h-1.35zM49.9 87.6h1.35v1.35h-1.35zM53.4 89.6h1.35v1.35h-1.35zM45.2 95.9h1.35v1.35h-1.35zM46.0 95.6h1.35v1.35h-1.35zM48.3 96.0h1.35v1.35h-1.35zM47.1 97.2h1.35v1.35h-1.35zM48.1 96.6h1.35v1.35h-1.35zM49.8 97.0h1.35v1.35h-1.35zM46.9 97.8h1.35v1.35h-1.35zM52.0 97.8h1.35v1.35h-1.35z"/>
<path fill="#88ef06" d="M49.8 77.2h1.35v1.35h-1.35zM48.0 80.1h1.35v1.35h-1.35zM49.9 81.0h1.35v1.35h-1.35zM49.9 83.5h1.35v1.35h-1.35zM47.7 84.1h1.35v1.35h-1.35zM49.2 84.6h1.35v1.35h-1.35zM50.3 84.4h1.35v1.35h-1.35zM50.1 86.5h1.35v1.35h-1.35zM46.7 88.7h1.35v1.35h-1.35zM48.0 88.3h1.35v1.35h-1.35zM50.3 88.6h1.35v1.35h-1.35zM51.1 90.4h1.35v1.35h-1.35zM46.2 92.8h1.35v1.35h-1.35zM45.9 94.0h1.35v1.35h-1.35zM53.2 95.1h1.35v1.35h-1.35zM47.0 96.0h1.35v1.35h-1.35zM49.2 95.7h1.35v1.35h-1.35zM50.4 96.0h1.35v1.35h-1.35zM52.0 95.8h1.35v1.35h-1.35zM53.3 95.9h1.35v1.35h-1.35zM53.5 97.1h1.35v1.35h-1.35zM50.3 99.0h1.35v1.35h-1.35z"/>
<path fill="#ffad00" d="M49.0 78.3h1.35v1.35h-1.35zM48.9 90.7h1.35v1.35h-1.35zM50.0 94.6h1.35v1.35h-1.35z"/>
<path fill="#caf000" d="M50.3 77.8h1.35v1.35h-1.35zM51.1 80.3h1.35v1.35h-1.35zM49.1 85.6h1.35v1.35h-1.35zM49.8 85.3h1.35v1.35h-1.35zM47.1 89.8h1.35v1.35h-1.35zM47.1 91.5h1.35v1.35h-1.35zM44.5 93.8h1.35v1.35h-1.35zM51.9 93.8h1.35v1.35h-1.35zM47.7 94.5h1.35v1.35h-1.35z"/>
<path fill="#ff2f00" d="M49.0 79.0h1.35v1.35h-1.35zM50.1 91.4h1.35v1.35h-1.35zM51.8 92.5h1.35v1.35h-1.35zM47.7 93.5h1.35v1.35h-1.35zM46.0 97.1h1.35v1.35h-1.35z"/>
<path fill="#009df6" d="M48.7 80.4h1.35v1.35h-1.35z"/>
<path fill="#00cdee" d="M48.1 80.9h1.35v1.35h-1.35zM53.0 81.4h1.35v1.35h-1.35zM50.8 87.4h1.35v1.35h-1.35zM49.1 96.8h1.35v1.35h-1.35zM52.9 97.8h1.35v1.35h-1.35z"/>
<path fill="#ffe500" d="M46.7 82.4h1.35v1.35h-1.35zM47.7 83.0h1.35v1.35h-1.35zM52.1 91.7h1.35v1.35h-1.35zM47.0 93.0h1.35v1.35h-1.35zM53.1 93.0h1.35v1.35h-1.35zM47.2 93.8h1.35v1.35h-1.35zM50.8 94.8h1.35v1.35h-1.35zM51.4 97.9h1.35v1.35h-1.35z"/>
<path fill="#00e2c4" d="M48.0 82.1h1.35v1.35h-1.35zM51.3 85.6h1.35v1.35h-1.35zM52.5 89.9h1.35v1.35h-1.35zM54.2 92.7h1.35v1.35h-1.35zM51.1 95.9h1.35v1.35h-1.35zM50.8 98.8h1.35v1.35h-1.35z"/>
<path fill="#00e646" d="M48.0 85.7h1.35v1.35h-1.35zM52.0 85.5h1.35v1.35h-1.35zM48.8 86.4h1.35v1.35h-1.35zM50.8 86.5h1.35v1.35h-1.35zM48.9 87.8h1.35v1.35h-1.35zM49.2 88.2h1.35v1.35h-1.35zM52.3 88.9h1.35v1.35h-1.35zM48.3 89.7h1.35v1.35h-1.35zM49.2 89.8h1.35v1.35h-1.35zM50.0 89.8h1.35v1.35h-1.35zM47.7 90.5h1.35v1.35h-1.35zM52.3 90.8h1.35v1.35h-1.35zM45.9 92.0h1.35v1.35h-1.35zM53.3 91.5h1.35v1.35h-1.35zM54.2 91.7h1.35v1.35h-1.35zM44.6 92.4h1.35v1.35h-1.35zM45.9 94.6h1.35v1.35h-1.35zM47.1 99.1h1.35v1.35h-1.35zM47.7 98.7h1.35v1.35h-1.35z"/>
<path fill="#ff0000" d="M49.3 91.9h1.35v1.35h-1.35zM48.9 92.9h1.35v1.35h-1.35zM49.9 92.8h1.35v1.35h-1.35zM50.0 93.6h1.35v1.35h-1.35z"/>
<path fill="#ff0c00" d="M48.1 93.0h1.35v1.35h-1.35zM50.9 92.6h1.35v1.35h-1.35zM49.2 93.8h1.35v1.35h-1.35z"/>
<ellipse cx="50.2" cy="79.2" rx="1.1" ry="1.5" fill="#ff0a00"/>
<ellipse cx="50.2" cy="93.4" rx="3.6" ry="2.8" fill="#ff0a00"/>
</g>
<line x1="70.50" y1="67.20" x2="70.50" y2="71.40" stroke="#f4f4f4" stroke-width="1.0"/>
<g filter="url(#blur04)">
<g opacity="0.55">
<ellipse cx="71.0" cy="74.4" rx="2.5" ry="4.1" fill="#2a2aff"/>
<ellipse cx="71.0" cy="79.3" rx="2.7" ry="2.9" fill="#2a2aff"/>
<ellipse cx="71.3" cy="85.3" rx="4.4" ry="5.5" fill="#2a2aff"/>
<ellipse cx="71.0" cy="94.3" rx="7.1" ry="7.1" fill="#2a2aff"/>
<line x1="69.0" y1="80.8" x2="65.2" y2="83.6" stroke="#2a2aff" stroke-width="1.5" stroke-linecap="round"/>
<line x1="73.3" y1="80.6" x2="77.0" y2="82.8" stroke="#2a2aff" stroke-width="1.5" stroke-linecap="round"/>
<line x1="67.0" y1="99.3" x2="62.0" y2="105.3" stroke="#2a2aff" stroke-width="1.5" stroke-linecap="round"/>
<line x1="68.5" y1="101.3" x2="67.5" y2="110.8" stroke="#2a2aff" stroke-width="1.4" stroke-linecap="round"/>
<line x1="75.0" y1="99.3" x2="79.5" y2="106.8" stroke="#2a2aff" stroke-width="1.5" stroke-linecap="round"/>
<line x1="73.0" y1="101.8" x2="74.0" y2="110.8" stroke="#2a2aff" stroke-width="1.3" stroke-linecap="round"/>
</g>
<path fill="#0555ff" d="M70.0 70.7h1.35v1.35h-1.35zM70.6 70.8h1.35v1.35h-1.35zM71.7 73.0h1.35v1.35h-1.35zM69.1 75.1h1.35v1.35h-1.35zM71.6 74.7h1.35v1.35h-1.35zM69.6 75.9h1.35v1.35h-1.35zM72.1 76.0h1.35v1.35h-1.35zM68.8 77.0h1.35v1.35h-1.35zM71.1 77.1h1.35v1.35h-1.35zM72.1 78.4h1.35v1.35h-1.35zM67.6 80.0h1.35v1.35h-1.35zM73.0 80.3h1.35v1.35h-1.35zM74.1 81.1h1.35v1.35h-1.35zM64.2 82.4h1.35v1.35h-1.35zM74.2 84.1h1.35v1.35h-1.35zM73.7 87.5h1.35v1.35h-1.35zM66.6 88.4h1.35v1.35h-1.35zM74.2 88.5h1.35v1.35h-1.35zM64.9 90.9h1.35v1.35h-1.35zM64.6 92.0h1.35v1.35h-1.35zM75.9 91.3h1.35v1.35h-1.35zM64.7 92.4h1.35v1.35h-1.35zM76.4 92.5h1.35v1.35h-1.35zM64.5 93.8h1.35v1.35h-1.35zM74.9 95.8h1.35v1.35h-1.35zM76.3 96.1h1.35v1.35h-1.35zM64.7 96.8h1.35v1.35h-1.35zM65.9 99.1h1.35v1.35h-1.35zM71.9 99.1h1.35v1.35h-1.35zM73.2 98.9h1.35v1.35h-1.35zM75.0 98.8h1.35v1.35h-1.35zM64.8 99.8h1.35v1.35h-1.35zM67.8 99.9h1.35v1.35h-1.35zM68.7 100.2h1.35v1.35h-1.35zM72.7 99.9h1.35v1.35h-1.35zM76.1 101.1h1.35v1.35h-1.35zM76.0 102.0h1.35v1.35h-1.35zM77.3 103.2h1.35v1.35h-1.35zM61.4 104.1h1.35v1.35h-1.35zM68.0 104.3h1.35v1.35h-1.35zM72.2 104.4h1.35v1.35h-1.35zM68.0 105.3h1.35v1.35h-1.35zM67.7 106.3h1.35v1.35h-1.35zM73.0 106.7h1.35v1.35h-1.35zM79.3 106.1h1.35v1.35h-1.35zM72.7 108.6h1.35v1.35h-1.35z"/>
<path fill="#0b3cff" d="M69.7 71.4h1.35v1.35h-1.35zM66.6 84.4h1.35v1.35h-1.35zM75.8 99.8h1.35v1.35h-1.35zM66.7 106.3h1.35v1.35h-1.35z"/>
<path fill="#006eff" d="M71.0 71.5h1.35v1.35h-1.35zM71.7 73.7h1.35v1.35h-1.35zM68.8 75.7h1.35v1.35h-1.35zM68.9 77.9h1.35v1.35h-1.35zM69.8 78.9h1.35v1.35h-1.35zM75.4 80.9h1.35v1.35h-1.35zM75.3 82.3h1.35v1.35h-1.35zM75.8 82.1h1.35v1.35h-1.35zM67.6 83.6h1.35v1.35h-1.35zM74.3 83.6h1.35v1.35h-1.35zM74.0 85.2h1.35v1.35h-1.35zM74.0 86.7h1.35v1.35h-1.35zM73.2 87.2h1.35v1.35h-1.35zM65.5 88.8h1.35v1.35h-1.35zM65.7 89.5h1.35v1.35h-1.35zM76.2 95.0h1.35v1.35h-1.35zM64.2 95.9h1.35v1.35h-1.35zM74.3 95.9h1.35v1.35h-1.35zM76.0 97.0h1.35v1.35h-1.35zM65.8 97.8h1.35v1.35h-1.35zM69.1 97.8h1.35v1.35h-1.35zM72.9 98.0h1.35v1.35h-1.35zM74.8 97.8h1.35v1.35h-1.35zM67.4 98.8h1.35v1.35h-1.35zM65.6 99.9h1.35v1.35h-1.35zM70.7 99.9h1.35v1.35h-1.35zM75.3 100.0h1.35v1.35h-1.35zM64.3 101.3h1.35v1.35h-1.35zM68.0 101.1h1.35v1.35h-1.35zM72.1 100.8h1.35v1.35h-1.35zM64.3 101.8h1.35v1.35h-1.35zM77.0 101.9h1.35v1.35h-1.35zM62.4 103.0h1.35v1.35h-1.35zM63.4 103.3h1.35v1.35h-1.35zM67.5 102.9h1.35v1.35h-1.35zM62.5 104.0h1.35v1.35h-1.35zM72.9 104.5h1.35v1.35h-1.35zM78.6 105.0h1.35v1.35h-1.35zM78.2 106.2h1.35v1.35h-1.35zM72.7 109.3h1.35v1.35h-1.35zM72.9 110.2h1.35v1.35h-1.35z"/>
<path fill="#88ef06" d="M69.9 73.1h1.35v1.35h-1.35zM72.2 80.4h1.35v1.35h-1.35zM73.3 81.1h1.35v1.35h-1.35zM66.8 83.0h1.35v1.35h-1.35zM72.7 83.3h1.35v1.35h-1.35zM68.5 84.3h1.35v1.35h-1.35zM72.1 84.5h1.35v1.35h-1.35zM72.8 86.7h1.35v1.35h-1.35zM74.3 91.6h1.35v1.35h-1.35zM66.6 92.8h1.35v1.35h-1.35zM74.1 92.6h1.35v1.35h-1.35zM66.3 94.1h1.35v1.35h-1.35zM70.6 94.7h1.35v1.35h-1.35zM73.1 95.6h1.35v1.35h-1.35zM68.5 97.0h1.35v1.35h-1.35zM74.3 96.9h1.35v1.35h-1.35zM67.8 97.7h1.35v1.35h-1.35zM74.0 98.1h1.35v1.35h-1.35z"/>
<path fill="#ff7400" d="M70.6 72.9h1.35v1.35h-1.35zM70.8 73.8h1.35v1.35h-1.35zM71.2 77.8h1.35v1.35h-1.35zM69.9 86.4h1.35v1.35h-1.35zM71.2 86.2h1.35v1.35h-1.35zM72.1 86.7h1.35v1.35h-1.35zM71.9 87.7h1.35v1.35h-1.35zM65.7 90.3h1.35v1.35h-1.35zM71.0 91.6h1.35v1.35h-1.35zM68.8 92.6h1.35v1.35h-1.35z"/>
<path fill="#44ea26" d="M69.5 74.0h1.35v1.35h-1.35zM70.6 81.1h1.35v1.35h-1.35zM68.7 83.1h1.35v1.35h-1.35zM69.8 83.5h1.35v1.35h-1.35zM70.5 83.3h1.35v1.35h-1.35zM71.8 83.3h1.35v1.35h-1.35zM69.9 84.0h1.35v1.35h-1.35zM73.3 84.1h1.35v1.35h-1.35zM68.6 85.0h1.35v1.35h-1.35zM73.8 89.8h1.35v1.35h-1.35zM74.3 90.3h1.35v1.35h-1.35zM66.4 91.5h1.35v1.35h-1.35zM72.0 94.1h1.35v1.35h-1.35zM75.2 94.1h1.35v1.35h-1.35zM66.5 94.8h1.35v1.35h-1.35zM73.2 94.8h1.35v1.35h-1.35zM74.1 94.6h1.35v1.35h-1.35zM71.6 96.8h1.35v1.35h-1.35z"/>
<path fill="#00e2c4" d="M70.0 74.5h1.35v1.35h-1.35zM67.9 81.3h1.35v1.35h-1.35zM65.8 93.5h1.35v1.35h-1.35zM65.9 96.8h1.35v1.35h-1.35zM72.8 97.3h1.35v1.35h-1.35zM71.8 98.3h1.35v1.35h-1.35z"/>
<path fill="#ff2f00" d="M71.0 74.9h1.35v1.35h-1.35zM69.5 87.3h1.35v1.35h-1.35zM68.6 88.4h1.35v1.35h-1.35zM72.3 88.7h1.35v1.35h-1.35zM68.9 90.9h1.35v1.35h-1.35zM69.8 90.8h1.35v1.35h-1.35z"/>
<path fill="#00cdee" d="M70.8 75.9h1.35v1.35h-1.35zM69.9 77.9h1.35v1.35h-1.35zM75.0 92.4h1.35v1.35h-1.35zM74.8 94.5h1.35v1.35h-1.35z"/>
<path fill="#00e485" d="M70.2 76.7h1.35v1.35h-1.35zM69.0 79.9h1.35v1.35h-1.35zM75.4 91.7h1.35v1.35h-1.35zM65.4 93.0h1.35v1.35h-1.35zM65.4 94.5h1.35v1.35h-1.35zM68.5 95.1h1.35v1.35h-1.35zM68.4 95.6h1.35v1.35h-1.35zM67.0 96.9h1.35v1.35h-1.35zM67.5 96.7h1.35v1.35h-1.35zM70.9 98.0h1.35v1.35h-1.35z"/>
<path fill="#caf000" d="M71.0 79.4h1.35v1.35h-1.35zM72.8 85.1h1.35v1.35h-1.35zM66.7 89.9h1.35v1.35h-1.35zM68.0 89.6h1.35v1.35h-1.35zM73.3 89.6h1.35v1.35h-1.35zM68.0 90.8h1.35v1.35h-1.35zM73.0 90.7h1.35v1.35h-1.35zM67.8 91.9h1.35v1.35h-1.35zM67.8 92.7h1.35v1.35h-1.35zM70.8 93.0h1.35v1.35h-1.35zM72.1 92.6h1.35v1.35h-1.35zM68.6 93.5h1.35v1.35h-1.35zM69.9 94.0h1.35v1.35h-1.35z"/>
<path fill="#00e646" d="M70.1 80.4h1.35v1.35h-1.35zM71.2 80.1h1.35v1.35h-1.35zM69.0 81.0h1.35v1.35h-1.35zM69.8 81.0h1.35v1.35h-1.35zM68.6 82.4h1.35v1.35h-1.35zM70.6 82.2h1.35v1.35h-1.35zM72.0 82.3h1.35v1.35h-1.35zM67.9 85.2h1.35v1.35h-1.35zM66.4 90.4h1.35v1.35h-1.35zM73.3 94.1h1.35v1.35h-1.35zM74.3 94.1h1.35v1.35h-1.35zM67.5 94.8h1.35v1.35h-1.35zM72.3 94.5h1.35v1.35h-1.35zM68.1 95.7h1.35v1.35h-1.35zM69.9 95.9h1.35v1.35h-1.35zM70.6 95.6h1.35v1.35h-1.35zM71.9 95.6h1.35v1.35h-1.35zM70.7 96.7h1.35v1.35h-1.35zM66.7 97.9h1.35v1.35h-1.35zM68.5 98.7h1.35v1.35h-1.35z"/>
<path fill="#ffe500" d="M71.6 81.1h1.35v1.35h-1.35zM70.9 84.2h1.35v1.35h-1.35zM72.0 85.2h1.35v1.35h-1.35zM72.7 88.3h1.35v1.35h-1.35zM65.7 91.9h1.35v1.35h-1.35zM72.7 91.7h1.35v1.35h-1.35zM69.7 92.8h1.35v1.35h-1.35zM73.2 93.0h1.35v1.35h-1.35zM67.9 93.7h1.35v1.35h-1.35zM70.9 93.7h1.35v1.35h-1.35zM69.7 94.6h1.35v1.35h-1.35zM74.8 96.7h1.35v1.35h-1.35zM69.9 98.0h1.35v1.35h-1.35zM69.6 98.9h1.35v1.35h-1.35z"/>
<path fill="#ffad00" d="M69.7 82.6h1.35v1.35h-1.35zM69.8 85.7h1.35v1.35h-1.35zM70.5 85.3h1.35v1.35h-1.35zM68.7 86.6h1.35v1.35h-1.35zM68.5 87.2h1.35v1.35h-1.35zM67.9 88.6h1.35v1.35h-1.35zM68.8 89.7h1.35v1.35h-1.35zM68.9 91.7h1.35v1.35h-1.35zM71.8 91.6h1.35v1.35h-1.35zM70.8 98.9h1.35v1.35h-1.35z"/>
<path fill="#ff0000" d="M71.2 87.5h1.35v1.35h-1.35zM71.2 88.7h1.35v1.35h-1.35zM69.6 89.7h1.35v1.35h-1.35zM70.8 89.3h1.35v1.35h-1.35zM71.9 90.6h1.35v1.35h-1.35z"/>
<path fill="#ff0c00" d="M69.6 88.4h1.35v1.35h-1.35zM71.9 89.7h1.35v1.35h-1.35zM70.7 90.4h1.35v1.35h-1.35zM70.0 91.4h1.35v1.35h-1.35z"/>
<path fill="#009df6" d="M75.2 90.9h1.35v1.35h-1.35zM65.5 96.0h1.35v1.35h-1.35zM67.0 95.9h1.35v1.35h-1.35zM69.6 97.1h1.35v1.35h-1.35z"/>
<ellipse cx="71.3" cy="74.0" rx="0.9" ry="1.4" fill="#ff0a00"/>
<ellipse cx="71.1" cy="90.0" rx="3.6" ry="5.6" fill="#ff0a00"/>
</g>
<line x1="86.50" y1="67.20" x2="86.50" y2="71.40" stroke="#f4f4f4" stroke-width="1.0"/>
<g filter="url(#blur04)">
<g opacity="0.55">
<ellipse cx="86.5" cy="74.4" rx="2.4" ry="4.1" fill="#2a2aff"/>
<ellipse cx="86.5" cy="79.3" rx="2.6" ry="2.9" fill="#2a2aff"/>
<ellipse cx="86.8" cy="85.3" rx="4.2" ry="5.5" fill="#2a2aff"/>
<ellipse cx="86.5" cy="94.3" rx="6.8" ry="7.1" fill="#2a2aff"/>
<line x1="84.5" y1="80.8" x2="80.7" y2="83.6" stroke="#2a2aff" stroke-width="1.5" stroke-linecap="round"/>
<line x1="88.8" y1="80.6" x2="92.5" y2="82.8" stroke="#2a2aff" stroke-width="1.5" stroke-linecap="round"/>
<line x1="82.5" y1="99.3" x2="77.5" y2="105.3" stroke="#2a2aff" stroke-width="1.5" stroke-linecap="round"/>
<line x1="84.0" y1="101.3" x2="83.0" y2="110.8" stroke="#2a2aff" stroke-width="1.4" stroke-linecap="round"/>
<line x1="90.5" y1="99.3" x2="95.0" y2="106.8" stroke="#2a2aff" stroke-width="1.5" stroke-linecap="round"/>
<line x1="88.5" y1="101.8" x2="89.5" y2="110.8" stroke="#2a2aff" stroke-width="1.3" stroke-linecap="round"/>
</g>
<path fill="#0555ff" d="M84.0 72.1h1.35v1.35h-1.35zM85.3 71.5h1.35v1.35h-1.35zM84.5 72.8h1.35v1.35h-1.35zM87.6 72.8h1.35v1.35h-1.35zM84.0 73.7h1.35v1.35h-1.35zM84.4 74.6h1.35v1.35h-1.35zM86.7 74.8h1.35v1.35h-1.35zM86.3 76.2h1.35v1.35h-1.35zM87.7 78.2h1.35v1.35h-1.35zM87.5 79.2h1.35v1.35h-1.35zM83.4 80.5h1.35v1.35h-1.35zM91.3 81.3h1.35v1.35h-1.35zM80.4 82.2h1.35v1.35h-1.35zM82.1 81.9h1.35v1.35h-1.35zM83.3 85.1h1.35v1.35h-1.35zM84.1 87.6h1.35v1.35h-1.35zM88.3 87.2h1.35v1.35h-1.35zM81.3 90.6h1.35v1.35h-1.35zM90.7 90.6h1.35v1.35h-1.35zM80.9 91.6h1.35v1.35h-1.35zM91.7 92.0h1.35v1.35h-1.35zM80.3 92.4h1.35v1.35h-1.35zM91.8 92.5h1.35v1.35h-1.35zM91.5 95.6h1.35v1.35h-1.35zM80.3 97.0h1.35v1.35h-1.35zM91.3 97.0h1.35v1.35h-1.35zM81.3 98.3h1.35v1.35h-1.35zM82.0 99.0h1.35v1.35h-1.35zM88.4 99.0h1.35v1.35h-1.35zM81.4 100.2h1.35v1.35h-1.35zM85.4 100.1h1.35v1.35h-1.35zM90.2 100.4h1.35v1.35h-1.35zM91.3 100.3h1.35v1.35h-1.35zM80.0 101.3h1.35v1.35h-1.35zM90.9 101.1h1.35v1.35h-1.35zM78.2 102.1h1.35v1.35h-1.35zM79.2 102.0h1.35v1.35h-1.35zM79.9 102.1h1.35v1.35h-1.35zM83.2 102.3h1.35v1.35h-1.35zM87.4 101.9h1.35v1.35h-1.35zM91.7 102.2h1.35v1.35h-1.35zM78.8 103.2h1.35v1.35h-1.35zM92.5 104.0h1.35v1.35h-1.35zM93.7 104.6h1.35v1.35h-1.35zM76.6 105.2h1.35v1.35h-1.35zM94.6 105.3h1.35v1.35h-1.35zM82.0 106.4h1.35v1.35h-1.35zM83.2 108.3h1.35v1.35h-1.35zM88.2 108.6h1.35v1.35h-1.35z"/>
<path fill="#caf000" d="M86.2 71.5h1.35v1.35h-1.35zM83.3 82.0h1.35v1.35h-1.35zM86.3 82.5h1.35v1.35h-1.35zM84.3 83.4h1.35v1.35h-1.35zM85.0 83.4h1.35v1.35h-1.35zM84.5 86.2h1.35v1.35h-1.35zM87.4 87.4h1.35v1.35h-1.35zM85.6 88.2h1.35v1.35h-1.35zM88.7 91.7h1.35v1.35h-1.35zM89.4 91.4h1.35v1.35h-1.35zM88.6 92.7h1.35v1.35h-1.35zM86.4 95.6h1.35v1.35h-1.35zM89.3 95.5h1.35v1.35h-1.35zM85.3 98.7h1.35v1.35h-1.35z"/>
<path fill="#88ef06" d="M85.2 72.7h1.35v1.35h-1.35zM85.1 73.5h1.35v1.35h-1.35zM86.6 85.5h1.35v1.35h-1.35zM86.2 86.2h1.35v1.35h-1.35zM87.6 86.1h1.35v1.35h-1.35zM85.3 87.2h1.35v1.35h-1.35zM88.5 88.4h1.35v1.35h-1.35zM86.7 89.6h1.35v1.35h-1.35zM87.6 90.3h1.35v1.35h-1.35zM83.3 92.7h1.35v1.35h-1.35zM82.5 94.1h1.35v1.35h-1.35zM83.2 93.9h1.35v1.35h-1.35zM81.3 94.9h1.35v1.35h-1.35zM85.1 94.8h1.35v1.35h-1.35zM86.3 95.1h1.35v1.35h-1.35zM87.5 95.1h1.35v1.35h-1.35zM82.0 96.0h1.35v1.35h-1.35zM85.6 96.9h1.35v1.35h-1.35zM87.3 96.6h1.35v1.35h-1.35zM86.7 99.0h1.35v1.35h-1.35zM87.5 99.2h1.35v1.35h-1.35z"/>
<path fill="#00e485" d="M86.3 74.1h1.35v1.35h-1.35zM87.4 83.1h1.35v1.35h-1.35zM87.5 84.6h1.35v1.35h-1.35zM88.3 86.1h1.35v1.35h-1.35zM87.6 88.5h1.35v1.35h-1.35zM82.1 89.7h1.35v1.35h-1.35zM89.7 90.3h1.35v1.35h-1.35zM90.5 92.5h1.35v1.35h-1.35zM82.1 94.7h1.35v1.35h-1.35zM83.4 94.6h1.35v1.35h-1.35zM88.8 94.9h1.35v1.35h-1.35zM87.4 96.2h1.35v1.35h-1.35zM86.1 97.8h1.35v1.35h-1.35zM84.6 98.8h1.35v1.35h-1.35z"/>
<path fill="#006eff" d="M87.2 73.7h1.35v1.35h-1.35zM87.6 74.8h1.35v1.35h-1.35zM84.1 77.1h1.35v1.35h-1.35zM87.6 77.0h1.35v1.35h-1.35zM84.5 78.1h1.35v1.35h-1.35zM84.0 79.8h1.35v1.35h-1.35zM88.6 80.5h1.35v1.35h-1.35zM81.8 81.2h1.35v1.35h-1.35zM85.4 81.4h1.35v1.35h-1.35zM87.5 81.4h1.35v1.35h-1.35zM80.8 82.1h1.35v1.35h-1.35zM89.2 82.3h1.35v1.35h-1.35zM89.6 83.1h1.35v1.35h-1.35zM83.5 84.1h1.35v1.35h-1.35zM88.7 85.5h1.35v1.35h-1.35zM83.3 87.3h1.35v1.35h-1.35zM82.4 88.8h1.35v1.35h-1.35zM90.3 89.6h1.35v1.35h-1.35zM91.5 95.2h1.35v1.35h-1.35zM79.8 95.6h1.35v1.35h-1.35zM81.1 97.0h1.35v1.35h-1.35zM90.2 97.1h1.35v1.35h-1.35zM81.0 99.0h1.35v1.35h-1.35zM79.8 99.9h1.35v1.35h-1.35zM83.5 100.2h1.35v1.35h-1.35zM87.2 100.0h1.35v1.35h-1.35zM79.3 101.0h1.35v1.35h-1.35zM83.3 101.0h1.35v1.35h-1.35zM88.4 101.1h1.35v1.35h-1.35zM88.3 102.0h1.35v1.35h-1.35zM92.5 102.4h1.35v1.35h-1.35zM77.2 103.2h1.35v1.35h-1.35zM88.3 103.4h1.35v1.35h-1.35zM93.0 103.5h1.35v1.35h-1.35zM77.7 104.0h1.35v1.35h-1.35zM83.2 104.0h1.35v1.35h-1.35zM87.6 104.5h1.35v1.35h-1.35zM88.3 104.1h1.35v1.35h-1.35zM88.5 105.2h1.35v1.35h-1.35zM94.0 105.0h1.35v1.35h-1.35zM83.5 106.1h1.35v1.35h-1.35zM82.1 108.6h1.35v1.35h-1.35zM89.4 109.6h1.35v1.35h-1.35zM81.9 110.4h1.35v1.35h-1.35z"/>
<path fill="#ffe500" d="M85.7 74.6h1.35v1.35h-1.35zM85.2 79.8h1.35v1.35h-1.35zM85.4 86.4h1.35v1.35h-1.35zM84.5 88.7h1.35v1.35h-1.35zM86.1 88.6h1.35v1.35h-1.35zM84.4 89.9h1.35v1.35h-1.35zM88.4 90.8h1.35v1.35h-1.35zM82.9 91.6h1.35v1.35h-1.35zM84.0 93.8h1.35v1.35h-1.35zM87.6 94.0h1.35v1.35h-1.35zM85.4 96.1h1.35v1.35h-1.35zM84.5 96.8h1.35v1.35h-1.35z"/>
<path fill="#0b3cff" d="M85.2 76.3h1.35v1.35h-1.35zM89.6 80.3h1.35v1.35h-1.35zM89.8 84.6h1.35v1.35h-1.35zM78.1 103.5h1.35v1.35h-1.35zM87.6 103.2h1.35v1.35h-1.35z"/>
<path fill="#00cdee" d="M85.6 77.3h1.35v1.35h-1.35zM83.0 81.3h1.35v1.35h-1.35zM86.3 81.4h1.35v1.35h-1.35zM85.1 82.1h1.35v1.35h-1.35zM87.4 82.2h1.35v1.35h-1.35zM84.5 95.9h1.35v1.35h-1.35zM81.9 96.6h1.35v1.35h-1.35zM86.7 97.1h1.35v1.35h-1.35zM88.7 97.3h1.35v1.35h-1.35zM89.6 96.8h1.35v1.35h-1.35zM85.0 97.9h1.35v1.35h-1.35z"/>
<path fill="#009df6" d="M86.1 76.8h1.35v1.35h-1.35zM85.3 79.0h1.35v1.35h-1.35zM88.2 95.7h1.35v1.35h-1.35zM84.2 97.7h1.35v1.35h-1.35z"/>
<path fill="#00e2c4" d="M85.4 78.1h1.35v1.35h-1.35zM86.2 80.2h1.35v1.35h-1.35zM84.1 81.1h1.35v1.35h-1.35zM81.1 92.5h1.35v1.35h-1.35zM89.2 94.7h1.35v1.35h-1.35zM83.3 95.9h1.35v1.35h-1.35z"/>
<path fill="#44ea26" d="M86.6 77.8h1.35v1.35h-1.35zM87.8 80.4h1.35v1.35h-1.35zM88.4 81.2h1.35v1.35h-1.35zM88.3 84.5h1.35v1.35h-1.35zM86.6 87.5h1.35v1.35h-1.35zM83.3 88.2h1.35v1.35h-1.35zM83.3 89.8h1.35v1.35h-1.35zM88.2 89.6h1.35v1.35h-1.35zM81.8 91.4h1.35v1.35h-1.35zM82.1 92.8h1.35v1.35h-1.35zM89.5 92.5h1.35v1.35h-1.35zM80.8 93.9h1.35v1.35h-1.35zM88.2 93.6h1.35v1.35h-1.35zM90.4 93.5h1.35v1.35h-1.35zM84.1 94.8h1.35v1.35h-1.35zM81.2 95.9h1.35v1.35h-1.35zM83.0 96.8h1.35v1.35h-1.35zM87.3 97.8h1.35v1.35h-1.35zM88.4 98.3h1.35v1.35h-1.35z"/>
<path fill="#00e646" d="M86.3 78.8h1.35v1.35h-1.35zM89.6 81.4h1.35v1.35h-1.35zM86.5 83.2h1.35v1.35h-1.35zM87.4 89.4h1.35v1.35h-1.35zM82.5 90.4h1.35v1.35h-1.35zM83.3 90.6h1.35v1.35h-1.35zM89.5 93.7h1.35v1.35h-1.35zM90.5 95.1h1.35v1.35h-1.35zM83.2 97.9h1.35v1.35h-1.35z"/>
<path fill="#ff7400" d="M84.0 84.2h1.35v1.35h-1.35zM86.2 84.5h1.35v1.35h-1.35zM85.2 85.4h1.35v1.35h-1.35zM84.3 91.4h1.35v1.35h-1.35zM87.2 92.5h1.35v1.35h-1.35zM83.5 98.8h1.35v1.35h-1.35z"/>
<path fill="#ffad00" d="M85.5 84.1h1.35v1.35h-1.35zM84.4 85.4h1.35v1.35h-1.35zM87.2 85.3h1.35v1.35h-1.35zM85.6 89.5h1.35v1.35h-1.35zM89.2 89.7h1.35v1.35h-1.35zM85.0 90.3h1.35v1.35h-1.35zM86.4 90.3h1.35v1.35h-1.35zM85.6 93.7h1.35v1.35h-1.35zM86.7 93.7h1.35v1.35h-1.35z"/>
<path fill="#ff2f00" d="M84.2 90.9h1.35v1.35h-1.35zM87.4 91.7h1.35v1.35h-1.35zM84.6 92.4h1.35v1.35h-1.35z"/>
<path fill="#ff0000" d="M85.0 92.0h1.35v1.35h-1.35zM86.5 91.7h1.35v1.35h-1.35z"/>
<path fill="#ff0c00" d="M85.1 92.7h1.35v1.35h-1.35zM86.3 92.5h1.35v1.35h-1.35z"/>
<ellipse cx="86.3" cy="72.5" rx="0.8" ry="1.1" fill="#ff0a00"/>
<ellipse cx="85.8" cy="85.4" rx="2.0" ry="1.8" fill="#ff0a00"/>
<ellipse cx="86.5" cy="92.8" rx="3.6" ry="2.8" fill="#ff0a00"/>
</g>
</g>
<text x="37.20" y="42.00" font-size="8.2" fill="#333" stroke="#333" stroke-width="0.12" text-anchor="end" textLength="12.20" lengthAdjust="spacingAndGlyphs" >WT</text>
<text x="37.00" y="90.60" font-size="8.2" fill="#333" stroke="#333" stroke-width="0.12" text-anchor="end" textLength="26.00" lengthAdjust="spacingAndGlyphs" ><tspan font-style="italic">Ifnlr1</tspan><tspan dy="-2.95" font-size="5.74">–/–</tspan></text>
<defs><linearGradient id="cbA" x1="0" y1="0" x2="0" y2="1"><stop offset="0" stop-color="#ff0000"/><stop offset="0.08" stop-color="#ff2000"/><stop offset="0.15" stop-color="#ff9000"/><stop offset="0.23" stop-color="#ffff00"/><stop offset="0.32" stop-color="#a0ff00"/><stop offset="0.42" stop-color="#20e000"/><stop offset="0.52" stop-color="#00e040"/><stop offset="0.62" stop-color="#00e0e0"/><stop offset="0.72" stop-color="#0090ff"/><stop offset="0.82" stop-color="#0020ff"/><stop offset="0.92" stop-color="#3000ff"/><stop offset="1" stop-color="#7000e0"/></linearGradient></defs>
<rect x="102.30" y="21.80" width="3.60" height="85.10" fill="url(#cbA)"/>
<line x1="105.90" y1="21.80" x2="106.80" y2="21.80" stroke="#999" stroke-width="0.4"/>
<line x1="105.90" y1="26.05" x2="106.80" y2="26.05" stroke="#999" stroke-width="0.4"/>
<line x1="105.90" y1="30.31" x2="106.80" y2="30.31" stroke="#999" stroke-width="0.4"/>
<line x1="105.90" y1="34.56" x2="106.80" y2="34.56" stroke="#999" stroke-width="0.4"/>
<line x1="105.90" y1="38.82" x2="106.80" y2="38.82" stroke="#999" stroke-width="0.4"/>
<line x1="105.90" y1="43.08" x2="106.80" y2="43.08" stroke="#999" stroke-width="0.4"/>
<line x1="105.90" y1="47.33" x2="106.80" y2="47.33" stroke="#999" stroke-width="0.4"/>
<line x1="105.90" y1="51.59" x2="106.80" y2="51.59" stroke="#999" stroke-width="0.4"/>
<line x1="105.90" y1="55.84" x2="106.80" y2="55.84" stroke="#999" stroke-width="0.4"/>
<line x1="105.90" y1="60.09" x2="106.80" y2="60.09" stroke="#999" stroke-width="0.4"/>
<line x1="105.90" y1="64.35" x2="106.80" y2="64.35" stroke="#999" stroke-width="0.4"/>
<line x1="105.90" y1="68.61" x2="106.80" y2="68.61" stroke="#999" stroke-width="0.4"/>
<line x1="105.90" y1="72.86" x2="106.80" y2="72.86" stroke="#999" stroke-width="0.4"/>
<line x1="105.90" y1="77.12" x2="106.80" y2="77.12" stroke="#999" stroke-width="0.4"/>
<line x1="105.90" y1="81.37" x2="106.80" y2="81.37" stroke="#999" stroke-width="0.4"/>
<line x1="105.90" y1="85.63" x2="106.80" y2="85.63" stroke="#999" stroke-width="0.4"/>
<line x1="105.90" y1="89.88" x2="106.80" y2="89.88" stroke="#999" stroke-width="0.4"/>
<line x1="105.90" y1="94.14" x2="106.80" y2="94.14" stroke="#999" stroke-width="0.4"/>
<line x1="105.90" y1="98.39" x2="106.80" y2="98.39" stroke="#999" stroke-width="0.4"/>
<line x1="105.90" y1="102.64" x2="106.80" y2="102.64" stroke="#999" stroke-width="0.4"/>
<line x1="105.90" y1="106.90" x2="106.80" y2="106.90" stroke="#999" stroke-width="0.4"/>
<line x1="105.90" y1="23.00" x2="108.10" y2="23.00" stroke="#777" stroke-width="0.5"/>
<text x="109.60" y="25.60" font-size="7.3" fill="#333" stroke="#333" stroke-width="0.12" textLength="20.60" lengthAdjust="spacingAndGlyphs" >10000</text>
<line x1="105.90" y1="41.50" x2="108.10" y2="41.50" stroke="#777" stroke-width="0.5"/>
<text x="109.60" y="44.10" font-size="7.3" fill="#333" stroke="#333" stroke-width="0.12" textLength="16.50" lengthAdjust="spacingAndGlyphs" >8000</text>
<line x1="105.90" y1="60.00" x2="108.10" y2="60.00" stroke="#777" stroke-width="0.5"/>
<text x="109.60" y="62.60" font-size="7.3" fill="#333" stroke="#333" stroke-width="0.12" textLength="16.50" lengthAdjust="spacingAndGlyphs" >6000</text>
<line x1="105.90" y1="78.50" x2="108.10" y2="78.50" stroke="#777" stroke-width="0.5"/>
<text x="109.60" y="81.10" font-size="7.3" fill="#333" stroke="#333" stroke-width="0.12" textLength="16.50" lengthAdjust="spacingAndGlyphs" >4000</text>
<line x1="105.90" y1="97.00" x2="108.10" y2="97.00" stroke="#777" stroke-width="0.5"/>
<text x="109.60" y="99.60" font-size="7.3" fill="#333" stroke="#333" stroke-width="0.12" textLength="16.50" lengthAdjust="spacingAndGlyphs" >2000</text>
<text x="101.10" y="15.50" font-size="7.2" fill="#333" stroke="#333" stroke-width="0.12" textLength="46.20" lengthAdjust="spacingAndGlyphs" >Luminescence</text>
<text x="101.10" y="116.90" font-size="7.2" fill="#333" stroke="#333" stroke-width="0.12" textLength="29.80" lengthAdjust="spacingAndGlyphs" >Radiance</text>
<text x="100.90" y="124.70" font-size="7.2" fill="#333" stroke="#333" stroke-width="0.12" textLength="46.20" lengthAdjust="spacingAndGlyphs" >(p/sec/cm<tspan dy="-2.59" font-size="5.04">2</tspan><tspan dy="2.59">/sr)</tspan></text>
<text x="176.20" y="10.80" font-size="9.7" fill="#000" font-weight="bold" >B</text>
<line x1="200.50" y1="21.40" x2="200.50" y2="103.90" stroke="#262626" stroke-width="1"/>
<line x1="197.70" y1="103.50" x2="200.50" y2="103.50" stroke="#262626" stroke-width="1"/>
<text x="195.60" y="107.52" font-size="8.4" fill="#2c2c2c" stroke="#2c2c2c" stroke-width="0.12" text-anchor="end" >0</text>
<line x1="197.70" y1="87.50" x2="200.50" y2="87.50" stroke="#262626" stroke-width="1"/>
<text x="195.60" y="91.12" font-size="8.4" fill="#2c2c2c" stroke="#2c2c2c" stroke-width="0.12" text-anchor="end" >5</text>
<line x1="197.70" y1="71.50" x2="200.50" y2="71.50" stroke="#262626" stroke-width="1"/>
<text x="195.60" y="74.72" font-size="8.4" fill="#2c2c2c" stroke="#2c2c2c" stroke-width="0.12" text-anchor="end" >10</text>
<line x1="197.70" y1="54.50" x2="200.50" y2="54.50" stroke="#262626" stroke-width="1"/>
<text x="195.60" y="58.32" font-size="8.4" fill="#2c2c2c" stroke="#2c2c2c" stroke-width="0.12" text-anchor="end" >15</text>
<line x1="197.70" y1="38.50" x2="200.50" y2="38.50" stroke="#262626" stroke-width="1"/>
<text x="195.60" y="41.92" font-size="8.4" fill="#2c2c2c" stroke="#2c2c2c" stroke-width="0.12" text-anchor="end" >20</text>
<line x1="197.70" y1="21.50" x2="200.50" y2="21.50" stroke="#262626" stroke-width="1"/>
<text x="195.60" y="25.52" font-size="8.4" fill="#2c2c2c" stroke="#2c2c2c" stroke-width="0.12" text-anchor="end" >25</text>
<line x1="200.50" y1="103.50" x2="235.50" y2="103.50" stroke="#262626" stroke-width="1"/>
<rect x="206.50" y="80.50" width="10.00" height="23.00" fill="#fff" stroke="#262626" stroke-width="1"/>
<line x1="211.50" y1="75.30" x2="211.50" y2="80.50" stroke="#262626" stroke-width="1"/>
<line x1="209.80" y1="75.50" x2="213.20" y2="75.50" stroke="#262626" stroke-width="1"/>
<rect x="219.50" y="63.50" width="10.00" height="40.00" fill="#c3c3c9" stroke="#262626" stroke-width="1"/>
<line x1="224.50" y1="58.20" x2="224.50" y2="63.50" stroke="#262626" stroke-width="1"/>
<line x1="222.80" y1="58.50" x2="226.20" y2="58.50" stroke="#262626" stroke-width="1"/>
<circle cx="208.70" cy="61.10" r="1.5" fill="#c8102e"/>
<circle cx="213.20" cy="64.00" r="1.5" fill="#c8102e"/>
<circle cx="207.90" cy="72.30" r="1.5" fill="#c8102e"/>
<circle cx="211.60" cy="73.90" r="1.5" fill="#c8102e"/>
<circle cx="215.30" cy="73.20" r="1.5" fill="#c8102e"/>
<circle cx="211.60" cy="84.00" r="1.5" fill="#c8102e"/>
<circle cx="208.00" cy="95.90" r="1.5" fill="#c8102e"/>
<circle cx="211.40" cy="98.10" r="1.5" fill="#c8102e"/>
<circle cx="215.30" cy="97.20" r="1.5" fill="#c8102e"/>
<circle cx="224.80" cy="40.70" r="1.5" fill="#1d5b9c"/>
<circle cx="222.50" cy="53.20" r="1.5" fill="#1d5b9c"/>
<circle cx="226.40" cy="52.90" r="1.5" fill="#1d5b9c"/>
<circle cx="221.00" cy="61.80" r="1.5" fill="#1d5b9c"/>
<circle cx="224.80" cy="61.50" r="1.5" fill="#1d5b9c"/>
<circle cx="228.20" cy="62.20" r="1.5" fill="#1d5b9c"/>
<circle cx="224.80" cy="66.90" r="1.5" fill="#1d5b9c"/>
<circle cx="224.70" cy="78.80" r="1.5" fill="#1d5b9c"/>
<circle cx="224.70" cy="86.60" r="1.5" fill="#1d5b9c"/>
<line x1="206.30" y1="22.00" x2="229.50" y2="22.00" stroke="#4a4a4a" stroke-width="1.25"/>
<text x="217.90" y="23.40" font-size="7.5" fill="#333" stroke="#333" stroke-width="0.12" text-anchor="middle" ></text>
<path d="M218.00,16.75L218.00,19.65M219.26,17.48L216.74,18.93M219.26,18.93L216.74,17.48" stroke="#222" stroke-width="1.0" stroke-linecap="round"/>
<circle cx="218.00" cy="18.20" r="0.8" fill="#222"/>
<text x="0" y="0" font-size="8.8" fill="#2c2c2c" stroke="#2c2c2c" stroke-width="0.12" text-anchor="middle" textLength="60.20" lengthAdjust="spacingAndGlyphs" transform="translate(182.50,63.00) rotate(-90)" >Total flux p×10<tspan dy="-3.17" font-size="6.16">5</tspan><tspan dy="3.17">/s</tspan></text>
<text x="0" y="0" font-size="8.6" fill="#2c2c2c" stroke="#2c2c2c" stroke-width="0.12" text-anchor="end" textLength="12.20" lengthAdjust="spacingAndGlyphs" transform="translate(213.90,112.50) rotate(-45)" >WT</text>
<text x="0" y="0" font-size="8.6" fill="#2c2c2c" stroke="#2c2c2c" stroke-width="0.12" text-anchor="end" textLength="23.80" lengthAdjust="spacingAndGlyphs" transform="translate(226.10,112.20) rotate(-45)" ><tspan font-style="italic">Ifnlr1</tspan><tspan dy="-3.10" font-size="6.02">–/–</tspan></text>
<text x="256.80" y="10.80" font-size="9.7" fill="#000" font-weight="bold" >C</text>
<line x1="276.50" y1="20.90" x2="276.50" y2="103.40" stroke="#262626" stroke-width="1"/>
<line x1="274.00" y1="103.50" x2="276.80" y2="103.50" stroke="#262626" stroke-width="1"/>
<text x="271.90" y="107.02" font-size="8.4" fill="#2c2c2c" stroke="#2c2c2c" stroke-width="0.12" text-anchor="end" >0</text>
<line x1="274.00" y1="82.50" x2="276.80" y2="82.50" stroke="#262626" stroke-width="1"/>
<text x="271.90" y="86.52" font-size="8.4" fill="#2c2c2c" stroke="#2c2c2c" stroke-width="0.12" text-anchor="end" >1</text>
<line x1="274.00" y1="62.50" x2="276.80" y2="62.50" stroke="#262626" stroke-width="1"/>
<text x="271.90" y="66.02" font-size="8.4" fill="#2c2c2c" stroke="#2c2c2c" stroke-width="0.12" text-anchor="end" >2</text>
<line x1="274.00" y1="41.50" x2="276.80" y2="41.50" stroke="#262626" stroke-width="1"/>
<text x="271.90" y="45.52" font-size="8.4" fill="#2c2c2c" stroke="#2c2c2c" stroke-width="0.12" text-anchor="end" >3</text>
<line x1="274.00" y1="21.50" x2="276.80" y2="21.50" stroke="#262626" stroke-width="1"/>
<text x="271.90" y="25.02" font-size="8.4" fill="#2c2c2c" stroke="#2c2c2c" stroke-width="0.12" text-anchor="end" >4</text>
<line x1="276.80" y1="103.50" x2="332.20" y2="103.50" stroke="#262626" stroke-width="1"/>
<rect x="281.50" y="84.50" width="9.00" height="19.00" fill="#fff" stroke="#262626" stroke-width="1"/>
<line x1="286.50" y1="81.50" x2="286.50" y2="84.50" stroke="#262626" stroke-width="1"/>
<line x1="284.80" y1="81.50" x2="288.20" y2="81.50" stroke="#262626" stroke-width="1"/>
<rect x="293.50" y="54.50" width="8.00" height="49.00" fill="#c3c3c9" stroke="#262626" stroke-width="1"/>
<line x1="297.50" y1="50.50" x2="297.50" y2="54.50" stroke="#262626" stroke-width="1"/>
<line x1="295.80" y1="50.50" x2="299.20" y2="50.50" stroke="#262626" stroke-width="1"/>
<rect x="306.50" y="82.50" width="9.00" height="21.00" fill="#fff" stroke="#262626" stroke-width="1"/>
<line x1="311.50" y1="79.70" x2="311.50" y2="82.50" stroke="#262626" stroke-width="1"/>
<line x1="309.80" y1="79.50" x2="313.20" y2="79.50" stroke="#262626" stroke-width="1"/>
<rect x="318.50" y="49.50" width="8.00" height="54.00" fill="#c3c3c9" stroke="#262626" stroke-width="1"/>
<line x1="322.50" y1="45.40" x2="322.50" y2="49.50" stroke="#262626" stroke-width="1"/>
<line x1="320.80" y1="45.50" x2="324.20" y2="45.50" stroke="#262626" stroke-width="1"/>
<circle cx="284.40" cy="74.70" r="1.5" fill="#c8102e"/>
<circle cx="288.20" cy="74.70" r="1.5" fill="#c8102e"/>
<circle cx="284.40" cy="81.70" r="1.5" fill="#c8102e"/>
<circle cx="288.20" cy="81.70" r="1.5" fill="#c8102e"/>
<circle cx="284.40" cy="87.10" r="1.5" fill="#c8102e"/>
<circle cx="288.20" cy="87.10" r="1.5" fill="#c8102e"/>
<circle cx="284.40" cy="92.20" r="1.5" fill="#c8102e"/>
<circle cx="288.20" cy="92.20" r="1.5" fill="#c8102e"/>
<circle cx="295.30" cy="45.40" r="1.5" fill="#1d5b9c"/>
<circle cx="299.30" cy="45.40" r="1.5" fill="#1d5b9c"/>
<circle cx="297.30" cy="47.50" r="1.5" fill="#1d5b9c"/>
<circle cx="295.60" cy="48.20" r="1.5" fill="#1d5b9c"/>
<circle cx="299.00" cy="48.20" r="1.5" fill="#1d5b9c"/>
<circle cx="295.30" cy="54.50" r="1.5" fill="#1d5b9c"/>
<circle cx="299.30" cy="54.50" r="1.5" fill="#1d5b9c"/>
<circle cx="295.30" cy="65.20" r="1.5" fill="#1d5b9c"/>
<circle cx="299.30" cy="65.20" r="1.5" fill="#1d5b9c"/>
<circle cx="309.40" cy="72.30" r="1.5" fill="#c8102e"/>
<circle cx="313.10" cy="72.30" r="1.5" fill="#c8102e"/>
<circle cx="309.40" cy="78.00" r="1.5" fill="#c8102e"/>
<circle cx="313.10" cy="78.00" r="1.5" fill="#c8102e"/>
<circle cx="311.20" cy="80.50" r="1.5" fill="#c8102e"/>
<circle cx="309.40" cy="86.70" r="1.5" fill="#c8102e"/>
<circle cx="313.10" cy="86.70" r="1.5" fill="#c8102e"/>
<circle cx="309.40" cy="92.20" r="1.5" fill="#c8102e"/>
<circle cx="313.10" cy="92.20" r="1.5" fill="#c8102e"/>
<circle cx="320.30" cy="28.90" r="1.5" fill="#1d5b9c"/>
<circle cx="323.90" cy="28.90" r="1.5" fill="#1d5b9c"/>
<circle cx="320.50" cy="43.00" r="1.5" fill="#1d5b9c"/>
<circle cx="322.30" cy="42.60" r="1.5" fill="#1d5b9c"/>
<circle cx="324.20" cy="43.00" r="1.5" fill="#1d5b9c"/>
<circle cx="320.40" cy="77.70" r="1.5" fill="#1d5b9c"/>
<circle cx="324.00" cy="77.70" r="1.5" fill="#1d5b9c"/>
<line x1="282.60" y1="22.20" x2="302.40" y2="22.20" stroke="#4a4a4a" stroke-width="1.25"/>
<text x="292.50" y="23.60" font-size="7.5" fill="#333" stroke="#333" stroke-width="0.12" text-anchor="middle" ></text>
<path d="M286.70,16.55L286.70,19.45M287.96,17.27L285.44,18.73M287.96,18.72L285.44,17.28" stroke="#222" stroke-width="1.0" stroke-linecap="round"/>
<circle cx="286.70" cy="18.00" r="0.8" fill="#222"/>
<path d="M291.00,16.55L291.00,19.45M292.26,17.27L289.74,18.73M292.26,18.72L289.74,17.28" stroke="#222" stroke-width="1.0" stroke-linecap="round"/>
<circle cx="291.00" cy="18.00" r="0.8" fill="#222"/>
<path d="M295.30,16.55L295.30,19.45M296.56,17.27L294.04,18.73M296.56,18.72L294.04,17.28" stroke="#222" stroke-width="1.0" stroke-linecap="round"/>
<circle cx="295.30" cy="18.00" r="0.8" fill="#222"/>
<line x1="308.20" y1="22.20" x2="329.00" y2="22.20" stroke="#4a4a4a" stroke-width="1.25"/>
<text x="318.60" y="23.60" font-size="7.5" fill="#333" stroke="#333" stroke-width="0.12" text-anchor="middle" ></text>
<path d="M316.45,16.55L316.45,19.45M317.71,17.27L315.19,18.73M317.71,18.72L315.19,17.28" stroke="#222" stroke-width="1.0" stroke-linecap="round"/>
<circle cx="316.45" cy="18.00" r="0.8" fill="#222"/>
<path d="M320.75,16.55L320.75,19.45M322.01,17.27L319.49,18.73M322.01,18.72L319.49,17.28" stroke="#222" stroke-width="1.0" stroke-linecap="round"/>
<circle cx="320.75" cy="18.00" r="0.8" fill="#222"/>
<text x="0" y="0" font-size="8.8" fill="#2c2c2c" stroke="#2c2c2c" stroke-width="0.12" text-anchor="middle" textLength="67.40" lengthAdjust="spacingAndGlyphs" transform="translate(262.20,62.55) rotate(-90)" >T cells ×10<tspan dy="-3.17" font-size="6.16">6</tspan><tspan dy="3.17"> / spleen</tspan></text>
<text x="0" y="0" font-size="8.6" fill="#2c2c2c" stroke="#2c2c2c" stroke-width="0.12" text-anchor="end" textLength="19.20" lengthAdjust="spacingAndGlyphs" transform="translate(297.20,111.70) rotate(-45)" >CD4<tspan dy="-3.10" font-size="6.02">+</tspan></text>
<text x="0" y="0" font-size="8.6" fill="#2c2c2c" stroke="#2c2c2c" stroke-width="0.12" text-anchor="end" textLength="19.20" lengthAdjust="spacingAndGlyphs" transform="translate(322.90,111.20) rotate(-45)" >CD8<tspan dy="-3.10" font-size="6.02">+</tspan></text>
<text x="351.80" y="10.80" font-size="9.7" fill="#000" font-weight="bold" >D</text>
<line x1="378.50" y1="22.70" x2="378.50" y2="104.20" stroke="#262626" stroke-width="1"/>
<line x1="375.90" y1="104.50" x2="378.70" y2="104.50" stroke="#262626" stroke-width="1"/>
<text x="373.80" y="107.82" font-size="8.4" fill="#2c2c2c" stroke="#2c2c2c" stroke-width="0.12" text-anchor="end" >0.0</text>
<line x1="375.90" y1="88.50" x2="378.70" y2="88.50" stroke="#262626" stroke-width="1"/>
<text x="373.80" y="91.62" font-size="8.4" fill="#2c2c2c" stroke="#2c2c2c" stroke-width="0.12" text-anchor="end" >0.2</text>
<line x1="375.90" y1="71.50" x2="378.70" y2="71.50" stroke="#262626" stroke-width="1"/>
<text x="373.80" y="75.42" font-size="8.4" fill="#2c2c2c" stroke="#2c2c2c" stroke-width="0.12" text-anchor="end" >0.4</text>
<line x1="375.90" y1="55.50" x2="378.70" y2="55.50" stroke="#262626" stroke-width="1"/>
<text x="373.80" y="59.22" font-size="8.4" fill="#2c2c2c" stroke="#2c2c2c" stroke-width="0.12" text-anchor="end" >0.6</text>
<line x1="375.90" y1="39.50" x2="378.70" y2="39.50" stroke="#262626" stroke-width="1"/>
<text x="373.80" y="43.02" font-size="8.4" fill="#2c2c2c" stroke="#2c2c2c" stroke-width="0.12" text-anchor="end" >0.8</text>
<line x1="375.90" y1="23.50" x2="378.70" y2="23.50" stroke="#262626" stroke-width="1"/>
<text x="373.80" y="26.82" font-size="8.4" fill="#2c2c2c" stroke="#2c2c2c" stroke-width="0.12" text-anchor="end" >1.0</text>
<line x1="378.70" y1="104.50" x2="433.60" y2="104.50" stroke="#262626" stroke-width="1"/>
<rect x="383.50" y="91.50" width="8.00" height="13.00" fill="#fff" stroke="#262626" stroke-width="1"/>
<line x1="387.50" y1="88.50" x2="387.50" y2="91.50" stroke="#262626" stroke-width="1"/>
<line x1="385.80" y1="88.50" x2="389.20" y2="88.50" stroke="#262626" stroke-width="1"/>
<rect x="394.50" y="68.50" width="8.00" height="36.00" fill="#c3c3c9" stroke="#262626" stroke-width="1"/>
<line x1="398.50" y1="61.10" x2="398.50" y2="68.50" stroke="#262626" stroke-width="1"/>
<line x1="396.80" y1="61.50" x2="400.20" y2="61.50" stroke="#262626" stroke-width="1"/>
<rect x="408.50" y="79.50" width="8.00" height="25.00" fill="#fff" stroke="#262626" stroke-width="1"/>
<line x1="412.50" y1="74.30" x2="412.50" y2="79.50" stroke="#262626" stroke-width="1"/>
<line x1="410.80" y1="74.50" x2="414.20" y2="74.50" stroke="#262626" stroke-width="1"/>
<rect x="419.50" y="53.50" width="8.00" height="51.00" fill="#c3c3c9" stroke="#262626" stroke-width="1"/>
<line x1="423.50" y1="44.40" x2="423.50" y2="53.50" stroke="#262626" stroke-width="1"/>
<line x1="421.80" y1="44.50" x2="425.20" y2="44.50" stroke="#262626" stroke-width="1"/>
<circle cx="385.70" cy="84.80" r="1.5" fill="#c8102e"/>
<circle cx="389.50" cy="84.80" r="1.5" fill="#c8102e"/>
<circle cx="384.80" cy="93.80" r="1.5" fill="#c8102e"/>
<circle cx="387.50" cy="96.90" r="1.5" fill="#c8102e"/>
<circle cx="390.40" cy="96.30" r="1.5" fill="#c8102e"/>
<circle cx="387.70" cy="89.80" r="1.5" fill="#c8102e"/>
<circle cx="398.90" cy="42.00" r="1.5" fill="#1d5b9c"/>
<circle cx="398.90" cy="65.60" r="1.5" fill="#1d5b9c"/>
<circle cx="398.90" cy="72.00" r="1.5" fill="#1d5b9c"/>
<circle cx="398.90" cy="78.80" r="1.5" fill="#1d5b9c"/>
<circle cx="398.90" cy="83.30" r="1.5" fill="#1d5b9c"/>
<circle cx="412.60" cy="60.90" r="1.5" fill="#c8102e"/>
<circle cx="411.00" cy="75.30" r="1.5" fill="#c8102e"/>
<circle cx="414.50" cy="73.60" r="1.5" fill="#c8102e"/>
<circle cx="412.60" cy="84.80" r="1.5" fill="#c8102e"/>
<circle cx="411.00" cy="89.40" r="1.5" fill="#c8102e"/>
<circle cx="414.50" cy="88.00" r="1.5" fill="#c8102e"/>
<circle cx="422.10" cy="61.30" r="1.5" fill="#1d5b9c"/>
<circle cx="425.60" cy="64.50" r="1.5" fill="#1d5b9c"/>
<circle cx="423.80" cy="72.70" r="1.5" fill="#1d5b9c"/>
<circle cx="421.90" cy="33.60" r="1.5" fill="#1d5b9c"/>
<circle cx="424.70" cy="30.70" r="1.5" fill="#1d5b9c"/>
<line x1="383.90" y1="21.80" x2="403.00" y2="21.80" stroke="#4a4a4a" stroke-width="1.25"/>
<text x="393.45" y="23.20" font-size="7.5" fill="#333" stroke="#333" stroke-width="0.12" text-anchor="middle" ></text>
<path d="M391.25,16.35L391.25,19.25M392.51,17.07L389.99,18.53M392.51,18.52L389.99,17.08" stroke="#222" stroke-width="1.0" stroke-linecap="round"/>
<circle cx="391.25" cy="17.80" r="0.8" fill="#222"/>
<path d="M395.55,16.35L395.55,19.25M396.81,17.07L394.29,18.53M396.81,18.52L394.29,17.08" stroke="#222" stroke-width="1.0" stroke-linecap="round"/>
<circle cx="395.55" cy="17.80" r="0.8" fill="#222"/>
<line x1="408.60" y1="21.80" x2="429.00" y2="21.80" stroke="#4a4a4a" stroke-width="1.25"/>
<text x="418.80" y="23.20" font-size="7.5" fill="#333" stroke="#333" stroke-width="0.12" text-anchor="middle" ></text>
<path d="M419.60,16.35L419.60,19.25M420.86,17.07L418.34,18.53M420.86,18.52L418.34,17.08" stroke="#222" stroke-width="1.0" stroke-linecap="round"/>
<circle cx="419.60" cy="17.80" r="0.8" fill="#222"/>
<text x="0" y="0" font-size="8.8" fill="#2c2c2c" stroke="#2c2c2c" stroke-width="0.12" text-anchor="middle" textLength="63.40" lengthAdjust="spacingAndGlyphs" transform="translate(356.90,63.35) rotate(-90)" >T cells ×10<tspan dy="-3.17" font-size="6.16">6</tspan><tspan dy="3.17"> / colon</tspan></text>
<text x="0" y="0" font-size="8.6" fill="#2c2c2c" stroke="#2c2c2c" stroke-width="0.12" text-anchor="end" textLength="19.20" lengthAdjust="spacingAndGlyphs" transform="translate(399.90,114.00) rotate(-45)" >CD4<tspan dy="-3.10" font-size="6.02">+</tspan></text>
<text x="0" y="0" font-size="8.6" fill="#2c2c2c" stroke="#2c2c2c" stroke-width="0.12" text-anchor="end" textLength="19.20" lengthAdjust="spacingAndGlyphs" transform="translate(423.00,114.00) rotate(-45)" >CD8<tspan dy="-3.10" font-size="6.02">+</tspan></text>
<text x="453.30" y="10.80" font-size="9.7" fill="#000" font-weight="bold" >E</text>
<line x1="479.50" y1="20.95" x2="479.50" y2="104.20" stroke="#262626" stroke-width="1"/>
<line x1="476.80" y1="104.50" x2="479.60" y2="104.50" stroke="#262626" stroke-width="1"/>
<text x="474.70" y="107.82" font-size="8.4" fill="#2c2c2c" stroke="#2c2c2c" stroke-width="0.12" text-anchor="end" >0.0</text>
<line x1="476.80" y1="87.50" x2="479.60" y2="87.50" stroke="#262626" stroke-width="1"/>
<text x="474.70" y="91.27" font-size="8.4" fill="#2c2c2c" stroke="#2c2c2c" stroke-width="0.12" text-anchor="end" >0.2</text>
<line x1="476.80" y1="71.50" x2="479.60" y2="71.50" stroke="#262626" stroke-width="1"/>
<text x="474.70" y="74.72" font-size="8.4" fill="#2c2c2c" stroke="#2c2c2c" stroke-width="0.12" text-anchor="end" >0.4</text>
<line x1="476.80" y1="54.50" x2="479.60" y2="54.50" stroke="#262626" stroke-width="1"/>
<text x="474.70" y="58.17" font-size="8.4" fill="#2c2c2c" stroke="#2c2c2c" stroke-width="0.12" text-anchor="end" >0.6</text>
<line x1="476.80" y1="38.50" x2="479.60" y2="38.50" stroke="#262626" stroke-width="1"/>
<text x="474.70" y="41.62" font-size="8.4" fill="#2c2c2c" stroke="#2c2c2c" stroke-width="0.12" text-anchor="end" >0.8</text>
<line x1="476.80" y1="21.50" x2="479.60" y2="21.50" stroke="#262626" stroke-width="1"/>
<text x="474.70" y="25.07" font-size="8.4" fill="#2c2c2c" stroke="#2c2c2c" stroke-width="0.12" text-anchor="end" >1.0</text>
<line x1="479.60" y1="104.50" x2="514.90" y2="104.50" stroke="#262626" stroke-width="1"/>
<rect x="485.50" y="58.50" width="10.00" height="46.00" fill="#fff" stroke="#262626" stroke-width="1"/>
<line x1="490.50" y1="55.20" x2="490.50" y2="58.50" stroke="#262626" stroke-width="1"/>
<line x1="488.80" y1="55.50" x2="492.20" y2="55.50" stroke="#262626" stroke-width="1"/>
<rect x="498.50" y="42.50" width="10.00" height="62.00" fill="#c3c3c9" stroke="#262626" stroke-width="1"/>
<line x1="503.50" y1="38.40" x2="503.50" y2="42.50" stroke="#262626" stroke-width="1"/>
<line x1="501.80" y1="38.50" x2="505.20" y2="38.50" stroke="#262626" stroke-width="1"/>
<circle cx="490.10" cy="46.50" r="1.5" fill="#c8102e"/>
<circle cx="490.40" cy="52.80" r="1.5" fill="#c8102e"/>
<circle cx="487.00" cy="56.20" r="1.5" fill="#c8102e"/>
<circle cx="490.60" cy="55.90" r="1.5" fill="#c8102e"/>
<circle cx="494.10" cy="56.20" r="1.5" fill="#c8102e"/>
<circle cx="486.60" cy="63.60" r="1.5" fill="#c8102e"/>
<circle cx="490.40" cy="66.00" r="1.5" fill="#c8102e"/>
<circle cx="494.10" cy="64.00" r="1.5" fill="#c8102e"/>
<circle cx="503.50" cy="33.40" r="1.5" fill="#1d5b9c"/>
<circle cx="500.20" cy="36.10" r="1.5" fill="#1d5b9c"/>
<circle cx="506.20" cy="36.10" r="1.5" fill="#1d5b9c"/>
<circle cx="503.50" cy="37.50" r="1.5" fill="#1d5b9c"/>
<circle cx="501.50" cy="39.50" r="1.5" fill="#1d5b9c"/>
<circle cx="505.50" cy="39.50" r="1.5" fill="#1d5b9c"/>
<circle cx="503.60" cy="43.40" r="1.5" fill="#1d5b9c"/>
<circle cx="503.60" cy="67.20" r="1.5" fill="#1d5b9c"/>
<line x1="485.50" y1="21.50" x2="508.60" y2="21.50" stroke="#4a4a4a" stroke-width="1.25"/>
<text x="497.05" y="22.90" font-size="7.5" fill="#333" stroke="#333" stroke-width="0.12" text-anchor="middle" ></text>
<path d="M497.20,16.15L497.20,19.05M498.46,16.88L495.94,18.33M498.46,18.32L495.94,16.88" stroke="#222" stroke-width="1.0" stroke-linecap="round"/>
<circle cx="497.20" cy="17.60" r="0.8" fill="#222"/>
<text x="0" y="0" font-size="8.8" fill="#2c2c2c" stroke="#2c2c2c" stroke-width="0.12" text-anchor="middle" textLength="79.40" lengthAdjust="spacingAndGlyphs" transform="translate(458.00,62.35) rotate(-90)" >Lymphocyte donor: host</text>
<text x="0" y="0" font-size="8.6" fill="#2c2c2c" stroke="#2c2c2c" stroke-width="0.12" text-anchor="end" textLength="12.20" lengthAdjust="spacingAndGlyphs" transform="translate(489.40,115.70) rotate(-45)" >WT</text>
<text x="0" y="0" font-size="8.6" fill="#2c2c2c" stroke="#2c2c2c" stroke-width="0.12" text-anchor="end" textLength="23.80" lengthAdjust="spacingAndGlyphs" transform="translate(506.70,114.20) rotate(-45)" ><tspan font-style="italic">Ifnlr1</tspan><tspan dy="-3.10" font-size="6.02">–/–</tspan></text>
<text x="9.90" y="140.20" font-size="9.7" fill="#000" font-weight="bold" >F</text>
<line x1="39.50" y1="156.10" x2="39.50" y2="238.60" stroke="#262626" stroke-width="1"/>
<line x1="36.40" y1="238.50" x2="39.20" y2="238.50" stroke="#262626" stroke-width="1"/>
<text x="34.30" y="242.22" font-size="8.4" fill="#2c2c2c" stroke="#2c2c2c" stroke-width="0.12" text-anchor="end" >0</text>
<line x1="36.40" y1="222.50" x2="39.20" y2="222.50" stroke="#262626" stroke-width="1"/>
<text x="34.30" y="225.82" font-size="8.4" fill="#2c2c2c" stroke="#2c2c2c" stroke-width="0.12" text-anchor="end" >20</text>
<line x1="36.40" y1="205.50" x2="39.20" y2="205.50" stroke="#262626" stroke-width="1"/>
<text x="34.30" y="209.42" font-size="8.4" fill="#2c2c2c" stroke="#2c2c2c" stroke-width="0.12" text-anchor="end" >40</text>
<line x1="36.40" y1="189.50" x2="39.20" y2="189.50" stroke="#262626" stroke-width="1"/>
<text x="34.30" y="193.02" font-size="8.4" fill="#2c2c2c" stroke="#2c2c2c" stroke-width="0.12" text-anchor="end" >60</text>
<line x1="36.40" y1="172.50" x2="39.20" y2="172.50" stroke="#262626" stroke-width="1"/>
<text x="34.30" y="176.62" font-size="8.4" fill="#2c2c2c" stroke="#2c2c2c" stroke-width="0.12" text-anchor="end" >80</text>
<line x1="36.40" y1="156.50" x2="39.20" y2="156.50" stroke="#262626" stroke-width="1"/>
<text x="34.30" y="160.22" font-size="8.4" fill="#2c2c2c" stroke="#2c2c2c" stroke-width="0.12" text-anchor="end" >100</text>
<line x1="37.00" y1="238.50" x2="104.60" y2="238.50" stroke="#262626" stroke-width="1"/>
<line x1="48.50" y1="238.60" x2="48.50" y2="240.80" stroke="#262626" stroke-width="1"/>
<line x1="64.50" y1="238.60" x2="64.50" y2="240.80" stroke="#262626" stroke-width="1"/>
<line x1="79.50" y1="238.60" x2="79.50" y2="240.80" stroke="#262626" stroke-width="1"/>
<line x1="95.50" y1="238.60" x2="95.50" y2="240.80" stroke="#262626" stroke-width="1"/>
<rect x="43.50" y="237.10" width="3.70" height="1.50" fill="#fff" stroke="#444" stroke-width="1.1"/>
<rect x="50.50" y="237.30" width="3.60" height="1.30" fill="#bdbdc4" stroke="#444" stroke-width="1.1"/>
<rect x="51.60" y="238.00" width="1.00" height="0.10" fill="#d8d8de"/>
<rect x="58.70" y="205.30" width="4.30" height="33.30" fill="#fff" stroke="#444" stroke-width="1.1"/>
<rect x="65.90" y="206.40" width="4.20" height="32.20" fill="#bdbdc4" stroke="#444" stroke-width="1.1"/>
<rect x="67.00" y="207.10" width="1.00" height="31.00" fill="#d8d8de"/>
<rect x="73.80" y="184.70" width="4.30" height="53.90" fill="#fff" stroke="#444" stroke-width="1.1"/>
<line x1="75.50" y1="176.30" x2="75.50" y2="184.20" stroke="#444" stroke-width="1"/>
<line x1="74.15" y1="176.50" x2="77.75" y2="176.50" stroke="#444" stroke-width="1"/>
<rect x="81.00" y="179.40" width="4.10" height="59.20" fill="#bdbdc4" stroke="#444" stroke-width="1.1"/>
<rect x="82.10" y="180.10" width="1.00" height="58.00" fill="#d8d8de"/>
<line x1="83.50" y1="176.50" x2="83.50" y2="178.90" stroke="#444" stroke-width="1"/>
<line x1="81.25" y1="176.50" x2="84.85" y2="176.50" stroke="#444" stroke-width="1"/>
<rect x="89.60" y="170.80" width="4.30" height="67.80" fill="#fff" stroke="#444" stroke-width="1.1"/>
<line x1="91.50" y1="160.40" x2="91.50" y2="170.30" stroke="#444" stroke-width="1"/>
<line x1="89.95" y1="160.50" x2="93.55" y2="160.50" stroke="#444" stroke-width="1"/>
<rect x="96.80" y="175.30" width="4.30" height="63.30" fill="#bdbdc4" stroke="#444" stroke-width="1.1"/>
<rect x="97.90" y="176.00" width="1.00" height="62.10" fill="#d8d8de"/>
<line x1="98.50" y1="170.40" x2="98.50" y2="174.80" stroke="#444" stroke-width="1"/>
<line x1="97.15" y1="170.50" x2="100.75" y2="170.50" stroke="#444" stroke-width="1"/>
<circle cx="44.20" cy="236.20" r="1.2" fill="#c8102e"/>
<circle cx="45.40" cy="235.40" r="1.2" fill="#c8102e"/>
<circle cx="46.60" cy="236.20" r="1.2" fill="#c8102e"/>
<circle cx="51.20" cy="236.40" r="1.2" fill="#1d5b9c"/>
<circle cx="52.30" cy="235.60" r="1.2" fill="#1d5b9c"/>
<circle cx="53.40" cy="236.40" r="1.2" fill="#1d5b9c"/>
<circle cx="60.80" cy="202.10" r="1.3" fill="#c8102e"/>
<circle cx="59.30" cy="203.80" r="1.3" fill="#c8102e"/>
<circle cx="62.20" cy="203.80" r="1.3" fill="#c8102e"/>
<circle cx="66.40" cy="204.50" r="1.3" fill="#1d5b9c"/>
<circle cx="69.40" cy="204.50" r="1.3" fill="#1d5b9c"/>
<circle cx="66.40" cy="206.50" r="1.3" fill="#1d5b9c"/>
<circle cx="68.30" cy="204.00" r="1.1" fill="#3cb63c"/>
<circle cx="76.00" cy="176.30" r="1.3" fill="#c8102e"/>
<circle cx="76.00" cy="185.70" r="1.3" fill="#c8102e"/>
<circle cx="76.00" cy="189.80" r="1.3" fill="#c8102e"/>
<circle cx="83.10" cy="175.60" r="1.3" fill="#1d5b9c"/>
<circle cx="81.40" cy="180.90" r="1.3" fill="#1d5b9c"/>
<circle cx="85.00" cy="179.20" r="1.3" fill="#1d5b9c"/>
<circle cx="83.10" cy="178.00" r="1.1" fill="#3cb63c"/>
<circle cx="91.70" cy="166.90" r="1.3" fill="#c8102e"/>
<circle cx="91.70" cy="162.50" r="1.3" fill="#c8102e"/>
<circle cx="91.70" cy="180.70" r="1.3" fill="#c8102e"/>
<circle cx="98.90" cy="170.80" r="1.3" fill="#1d5b9c"/>
<circle cx="98.90" cy="173.70" r="1.3" fill="#1d5b9c"/>
<circle cx="98.90" cy="179.00" r="1.3" fill="#1d5b9c"/>
<text x="48.50" y="250.60" font-size="8.4" fill="#2c2c2c" stroke="#2c2c2c" stroke-width="0.12" text-anchor="middle" >0</text>
<text x="64.20" y="250.60" font-size="8.4" fill="#2c2c2c" stroke="#2c2c2c" stroke-width="0.12" text-anchor="middle" >5</text>
<text x="80.00" y="250.60" font-size="8.4" fill="#2c2c2c" stroke="#2c2c2c" stroke-width="0.12" text-anchor="middle" >10</text>
<text x="95.40" y="250.60" font-size="8.4" fill="#2c2c2c" stroke="#2c2c2c" stroke-width="0.12" text-anchor="middle" >20</text>
<text x="42.60" y="163.00" font-size="8.4" fill="#333" stroke="#333" stroke-width="0.12" textLength="25.60" lengthAdjust="spacingAndGlyphs" >CD4<tspan dy="-3.02" font-size="5.88">+</tspan><tspan dy="3.02"> T</tspan></text>
<text x="0" y="0" font-size="8.8" fill="#2c2c2c" stroke="#2c2c2c" stroke-width="0.12" text-anchor="middle" textLength="88.50" lengthAdjust="spacingAndGlyphs" transform="translate(15.60,197.50) rotate(-90)" ><tspan dy="-3.17" font-size="6.16">3</tspan><tspan dy="3.17">H-Thymidine (cpm × 10</tspan><tspan dy="-3.17" font-size="6.16">6</tspan><tspan dy="3.17">)</tspan></text>
<text x="137.60" y="140.20" font-size="9.7" fill="#000" font-weight="bold" >G</text>
<line x1="154.50" y1="156.50" x2="154.50" y2="238.60" stroke="#262626" stroke-width="1"/>
<line x1="151.40" y1="238.50" x2="154.20" y2="238.50" stroke="#262626" stroke-width="1"/>
<text x="149.30" y="242.22" font-size="8.4" fill="#2c2c2c" stroke="#2c2c2c" stroke-width="0.12" text-anchor="end" >0</text>
<line x1="151.40" y1="218.50" x2="154.20" y2="218.50" stroke="#262626" stroke-width="1"/>
<text x="149.30" y="221.82" font-size="8.4" fill="#2c2c2c" stroke="#2c2c2c" stroke-width="0.12" text-anchor="end" >10</text>
<line x1="151.40" y1="197.50" x2="154.20" y2="197.50" stroke="#262626" stroke-width="1"/>
<text x="149.30" y="201.42" font-size="8.4" fill="#2c2c2c" stroke="#2c2c2c" stroke-width="0.12" text-anchor="end" >20</text>
<line x1="151.40" y1="177.50" x2="154.20" y2="177.50" stroke="#262626" stroke-width="1"/>
<text x="149.30" y="181.02" font-size="8.4" fill="#2c2c2c" stroke="#2c2c2c" stroke-width="0.12" text-anchor="end" >30</text>
<line x1="151.40" y1="156.50" x2="154.20" y2="156.50" stroke="#262626" stroke-width="1"/>
<text x="149.30" y="160.62" font-size="8.4" fill="#2c2c2c" stroke="#2c2c2c" stroke-width="0.12" text-anchor="end" >40</text>
<line x1="152.00" y1="238.50" x2="219.60" y2="238.50" stroke="#262626" stroke-width="1"/>
<line x1="162.50" y1="238.60" x2="162.50" y2="240.80" stroke="#262626" stroke-width="1"/>
<line x1="178.50" y1="238.60" x2="178.50" y2="240.80" stroke="#262626" stroke-width="1"/>
<line x1="194.50" y1="238.60" x2="194.50" y2="240.80" stroke="#262626" stroke-width="1"/>
<line x1="210.50" y1="238.60" x2="210.50" y2="240.80" stroke="#262626" stroke-width="1"/>
<rect x="157.30" y="238.30" width="3.20" height="0.30" fill="#fff" stroke="#444" stroke-width="1.1"/>
<rect x="164.10" y="238.50" width="4.10" height="0.10" fill="#bdbdc4" stroke="#444" stroke-width="1.1"/>
<rect x="165.20" y="239.20" width="1.00" height="-1.10" fill="#d8d8de"/>
<rect x="172.60" y="206.20" width="4.90" height="32.40" fill="#fff" stroke="#444" stroke-width="1.1"/>
<line x1="175.50" y1="194.20" x2="175.50" y2="205.70" stroke="#444" stroke-width="1"/>
<line x1="173.25" y1="194.50" x2="176.85" y2="194.50" stroke="#444" stroke-width="1"/>
<rect x="179.70" y="218.50" width="5.10" height="20.10" fill="#bdbdc4" stroke="#444" stroke-width="1.1"/>
<rect x="180.80" y="219.20" width="1.00" height="18.90" fill="#d8d8de"/>
<line x1="182.50" y1="213.40" x2="182.50" y2="218.00" stroke="#444" stroke-width="1"/>
<line x1="180.45" y1="213.50" x2="184.05" y2="213.50" stroke="#444" stroke-width="1"/>
<rect x="188.70" y="190.60" width="4.90" height="48.00" fill="#fff" stroke="#444" stroke-width="1.1"/>
<line x1="191.50" y1="176.20" x2="191.50" y2="190.10" stroke="#444" stroke-width="1"/>
<line x1="189.35" y1="176.50" x2="192.95" y2="176.50" stroke="#444" stroke-width="1"/>
<rect x="196.00" y="196.60" width="5.30" height="42.00" fill="#bdbdc4" stroke="#444" stroke-width="1.1"/>
<rect x="197.10" y="197.30" width="1.00" height="40.80" fill="#d8d8de"/>
<line x1="198.50" y1="193.00" x2="198.50" y2="196.10" stroke="#444" stroke-width="1"/>
<line x1="196.85" y1="192.50" x2="200.45" y2="192.50" stroke="#444" stroke-width="1"/>
<rect x="204.80" y="175.70" width="5.00" height="62.90" fill="#fff" stroke="#444" stroke-width="1.1"/>
<line x1="207.50" y1="167.00" x2="207.50" y2="175.20" stroke="#444" stroke-width="1"/>
<line x1="205.50" y1="166.50" x2="209.10" y2="166.50" stroke="#444" stroke-width="1"/>
<rect x="212.50" y="176.00" width="4.90" height="62.60" fill="#bdbdc4" stroke="#444" stroke-width="1.1"/>
<rect x="213.60" y="176.70" width="1.00" height="61.40" fill="#d8d8de"/>
<line x1="214.50" y1="173.10" x2="214.50" y2="175.50" stroke="#444" stroke-width="1"/>
<line x1="213.15" y1="173.50" x2="216.75" y2="173.50" stroke="#444" stroke-width="1"/>
<circle cx="157.80" cy="237.30" r="1.2" fill="#c8102e"/>
<circle cx="160.00" cy="237.30" r="1.2" fill="#c8102e"/>
<circle cx="164.80" cy="237.50" r="1.2" fill="#1d5b9c"/>
<circle cx="167.40" cy="237.50" r="1.2" fill="#1d5b9c"/>
<circle cx="175.00" cy="197.80" r="1.3" fill="#c8102e"/>
<circle cx="175.00" cy="213.40" r="1.3" fill="#c8102e"/>
<circle cx="182.30" cy="214.20" r="1.3" fill="#1d5b9c"/>
<circle cx="182.30" cy="221.40" r="1.3" fill="#1d5b9c"/>
<circle cx="182.30" cy="212.60" r="1.1" fill="#3cb63c"/>
<circle cx="190.70" cy="180.00" r="1.3" fill="#c8102e"/>
<circle cx="190.70" cy="199.80" r="1.3" fill="#c8102e"/>
<circle cx="198.40" cy="198.10" r="1.3" fill="#1d5b9c"/>
<circle cx="198.40" cy="193.60" r="1.1" fill="#3cb63c"/>
<circle cx="207.20" cy="169.20" r="1.3" fill="#c8102e"/>
<circle cx="207.20" cy="179.90" r="1.3" fill="#c8102e"/>
<circle cx="214.50" cy="173.50" r="1.3" fill="#1d5b9c"/>
<circle cx="214.50" cy="176.90" r="1.3" fill="#1d5b9c"/>
<text x="162.20" y="250.60" font-size="8.4" fill="#2c2c2c" stroke="#2c2c2c" stroke-width="0.12" text-anchor="middle" >0</text>
<text x="178.00" y="250.60" font-size="8.4" fill="#2c2c2c" stroke="#2c2c2c" stroke-width="0.12" text-anchor="middle" >5</text>
<text x="194.50" y="250.60" font-size="8.4" fill="#2c2c2c" stroke="#2c2c2c" stroke-width="0.12" text-anchor="middle" >10</text>
<text x="210.30" y="250.60" font-size="8.4" fill="#2c2c2c" stroke="#2c2c2c" stroke-width="0.12" text-anchor="middle" >20</text>
<text x="221.20" y="250.60" font-size="8.2" fill="#444" stroke="#444" stroke-width="0.12" textLength="34.40" lengthAdjust="spacingAndGlyphs" >(DC×10<tspan dy="-2.95" font-size="5.74">3</tspan><tspan dy="2.95">)</tspan></text>
<text x="157.20" y="163.10" font-size="8.4" fill="#333" stroke="#333" stroke-width="0.12" textLength="26.40" lengthAdjust="spacingAndGlyphs" >CD8<tspan dy="-3.02" font-size="5.88">+</tspan><tspan dy="3.02"> T</tspan></text>
<text x="0" y="0" font-size="8.8" fill="#2c2c2c" stroke="#2c2c2c" stroke-width="0.12" text-anchor="middle" textLength="88.80" lengthAdjust="spacingAndGlyphs" transform="translate(135.80,197.35) rotate(-90)" ><tspan dy="-3.17" font-size="6.16">3</tspan><tspan dy="3.17">H-Thymidine (cpm × 10</tspan><tspan dy="-3.17" font-size="6.16">6</tspan><tspan dy="3.17">)</tspan></text>
<circle cx="209.60" cy="142.50" r="2.4" fill="#c8102e"/>
<text x="214.20" y="145.10" font-size="7.2" fill="#333" stroke="#333" stroke-width="0.12" textLength="12.20" lengthAdjust="spacingAndGlyphs" >WT</text>
<circle cx="209.60" cy="153.50" r="2.4" fill="#1d5b9c"/>
<text x="214.40" y="156.10" font-size="7.4" fill="#333" stroke="#333" stroke-width="0.12" textLength="26.80" lengthAdjust="spacingAndGlyphs" ><tspan font-style="italic">Ifnlr1</tspan><tspan dy="-2.66" font-size="5.18">–/–</tspan></text>
<text x="272.20" y="140.20" font-size="9.7" fill="#000" font-weight="bold" >H</text>
<defs><clipPath id="clipH1"><rect x="302.0" y="136.0" width="53.7" height="53.7"/></clipPath></defs>
<g clip-path="url(#clipH1)">
<rect x="302.00" y="136.00" width="53.70" height="53.70" fill="#585858"/>
<path fill="#585858" d="M302.2 141.5h1v1h-1zM308.8 164.3h1v1h-1zM307.8 176.9h1v1h-1zM319.8 146.6h1v1h-1zM308.7 143.4h1v1h-1zM303.1 175.0h1v1h-1zM336.5 147.2h1v1h-1zM338.8 140.6h1v1h-1zM339.8 181.4h1v1h-1zM347.7 188.2h1v1h-1zM327.6 178.3h1v1h-1zM327.8 177.5h1v1h-1zM320.2 136.1h1v1h-1zM331.3 165.5h1v1h-1zM313.7 146.0h1v1h-1zM341.5 186.1h1v1h-1zM321.9 152.0h1v1h-1zM312.8 137.3h1v1h-1zM349.0 172.7h1v1h-1zM302.6 184.2h1v1h-1zM331.3 147.4h1v1h-1zM319.1 174.7h1v1h-1zM305.6 162.0h1v1h-1zM325.1 161.3h1v1h-1zM314.1 188.8h1v1h-1zM347.6 138.6h1v1h-1zM350.4 152.8h1v1h-1zM348.9 157.6h1v1h-1zM319.8 187.0h1v1h-1zM343.1 180.3h1v1h-1zM315.8 177.4h1v1h-1zM344.5 164.6h1v1h-1zM327.1 143.2h1v1h-1zM315.7 164.8h1v1h-1zM309.5 187.6h1v1h-1zM345.7 153.5h1v1h-1zM339.5 175.1h1v1h-1zM319.0 148.9h1v1h-1zM351.1 154.8h1v1h-1zM353.5 160.5h1v1h-1zM302.4 164.2h1v1h-1zM324.2 162.9h1v1h-1zM326.5 165.4h1v1h-1zM307.7 162.7h1v1h-1zM307.0 138.3h1v1h-1z"/>
<path fill="#3e3e3e" d="M309.1 137.8h1v1h-1zM309.4 175.3h1v1h-1zM329.7 146.5h1v1h-1zM340.4 157.9h1v1h-1zM353.1 187.9h1v1h-1zM325.4 177.9h1v1h-1zM315.9 182.4h1v1h-1zM335.7 137.5h1v1h-1zM332.8 159.4h1v1h-1zM308.6 166.0h1v1h-1zM332.6 144.4h1v1h-1zM350.9 150.0h1v1h-1zM317.5 160.9h1v1h-1zM316.2 141.3h1v1h-1zM312.4 147.3h1v1h-1zM338.2 180.5h1v1h-1zM324.5 165.4h1v1h-1zM345.6 158.1h1v1h-1zM345.2 187.3h1v1h-1zM318.3 181.0h1v1h-1zM320.1 181.6h1v1h-1zM345.2 139.0h1v1h-1zM323.7 151.5h1v1h-1zM353.2 157.0h1v1h-1zM310.2 137.5h1v1h-1zM347.8 173.4h1v1h-1zM340.7 167.8h1v1h-1zM312.3 157.8h1v1h-1zM327.9 163.7h1v1h-1zM301.5 162.5h1v1h-1zM342.0 156.8h1v1h-1zM338.8 169.1h1v1h-1zM302.9 156.8h1v1h-1zM307.9 149.1h1v1h-1zM305.2 147.1h1v1h-1zM329.6 138.5h1v1h-1z"/>
<path fill="#5a5a5a" d="M330.2 173.7h1v1h-1zM321.1 186.8h1v1h-1zM340.7 145.9h1v1h-1zM343.9 151.9h1v1h-1zM316.8 151.9h1v1h-1zM353.1 146.3h1v1h-1zM351.1 183.1h1v1h-1zM352.3 182.0h1v1h-1zM340.8 146.7h1v1h-1zM349.3 152.0h1v1h-1zM322.1 146.2h1v1h-1zM307.5 147.1h1v1h-1zM325.8 170.5h1v1h-1zM323.9 139.2h1v1h-1zM342.2 151.6h1v1h-1zM332.6 157.2h1v1h-1zM347.1 171.5h1v1h-1zM318.1 156.3h1v1h-1zM304.1 166.1h1v1h-1zM344.4 185.7h1v1h-1zM330.4 159.2h1v1h-1zM348.3 182.2h1v1h-1zM343.1 142.0h1v1h-1zM331.1 167.3h1v1h-1zM341.7 170.2h1v1h-1zM353.1 174.2h1v1h-1zM324.4 187.4h1v1h-1zM344.5 161.7h1v1h-1zM321.5 176.4h1v1h-1zM327.5 152.0h1v1h-1zM324.5 188.8h1v1h-1zM354.0 173.7h1v1h-1zM351.1 166.0h1v1h-1zM349.7 150.6h1v1h-1zM327.8 154.0h1v1h-1zM317.0 173.0h1v1h-1zM325.8 144.0h1v1h-1zM322.5 172.3h1v1h-1zM343.0 185.6h1v1h-1zM305.4 155.4h1v1h-1zM334.0 155.5h1v1h-1z"/>
<path fill="#444" d="M352.7 180.5h1v1h-1zM327.4 149.6h1v1h-1zM319.5 156.8h1v1h-1zM331.6 185.8h1v1h-1zM306.5 145.9h1v1h-1zM307.6 146.4h1v1h-1zM304.6 168.3h1v1h-1zM353.8 176.7h1v1h-1zM318.1 179.5h1v1h-1zM308.7 142.1h1v1h-1zM303.3 168.5h1v1h-1zM315.4 146.4h1v1h-1zM318.8 151.5h1v1h-1zM354.2 150.4h1v1h-1zM314.3 143.1h1v1h-1zM352.0 171.7h1v1h-1zM304.1 186.8h1v1h-1zM309.1 138.1h1v1h-1zM337.3 135.7h1v1h-1zM308.8 187.3h1v1h-1zM325.9 142.9h1v1h-1zM336.1 160.6h1v1h-1zM311.5 147.6h1v1h-1zM342.0 141.3h1v1h-1zM312.1 162.9h1v1h-1zM327.4 138.8h1v1h-1zM333.4 164.6h1v1h-1zM326.2 142.7h1v1h-1zM342.0 184.2h1v1h-1zM345.1 181.0h1v1h-1zM331.9 148.3h1v1h-1zM305.0 157.2h1v1h-1zM330.6 156.7h1v1h-1zM316.4 154.7h1v1h-1zM354.0 186.2h1v1h-1zM308.4 170.8h1v1h-1zM319.9 149.5h1v1h-1zM317.8 159.1h1v1h-1z"/>
<circle cx="328.4" cy="162.4" r="26.8" fill="none" stroke="#b8b8b8" stroke-width="0.9"/>
<circle cx="328.4" cy="162.4" r="25.5" fill="none" stroke="#6a6a6a" stroke-width="0.6"/>
<path d="M340.0,189.7 Q352.0,186.1 355.7,174.1" fill="none" stroke="#b0b0b0" stroke-width="0.8"/>
<path d="M310.0,174.6 Q314.6,177.6 315.0,172.1 L315.0,162.0 C315.0,157.7 318.6,157.7 318.6,162.0 L318.6,176.1 C318.6,180.6 322.4,180.6 322.4,176.1 L322.4,161.5 C322.4,157.3 325.8,157.3 325.8,161.5 L325.8,177.1 C325.8,182.1 330.2,182.1 330.2,177.1 L330.2,162.5 C330.2,158.3 333.6,158.3 333.6,162.5 L333.6,176.1 C333.6,181.1 338.0,181.1 338.0,176.1 L338.0,163.6 C338.0,157.6 343.6,157.6 343.6,163.6 L343.6,173.6 C343.6,177.6 346.8,177.6 346.8,173.6 L346.8,161.5 Q347.0,157.0 344.0,156.5" fill="none" stroke="#cdcdcd" stroke-width="2.0" stroke-linejoin="round" stroke-linecap="round"/>
<path d="M310.0,174.6 Q314.6,177.6 315.0,172.1 L315.0,162.0 C315.0,157.7 318.6,157.7 318.6,162.0 L318.6,176.1 C318.6,180.6 322.4,180.6 322.4,176.1 L322.4,161.5 C322.4,157.3 325.8,157.3 325.8,161.5 L325.8,177.1 C325.8,182.1 330.2,182.1 330.2,177.1 L330.2,162.5 C330.2,158.3 333.6,158.3 333.6,162.5 L333.6,176.1 C333.6,181.1 338.0,181.1 338.0,176.1 L338.0,163.6 C338.0,157.6 343.6,157.6 343.6,163.6 L343.6,173.6 C343.6,177.6 346.8,177.6 346.8,173.6 L346.8,161.5 Q347.0,157.0 344.0,156.5" fill="none" stroke="#5c5c5c" stroke-width="0.9" stroke-linejoin="round"/>
<g filter="url(#blur04)">
<path d="M307.8,157.0 L310.2,152.5 L313.5,149.0 L317.2,146.6 L321.0,145.2 L324.5,144.6 L329.0,145.0 L333.4,145.7 L337.9,147.9 L342.4,148.5 L345.7,146.3" fill="none" stroke="#2525ff" stroke-width="2.6" stroke-linecap="round" stroke-linejoin="round"/>
<path d="M307.8,160.0 L308.0,164.1 L308.4,167.5 L308.9,172.0 L310.6,174.4 L313.4,173.6 L314.4,170.1" fill="none" stroke="#3a20ff" stroke-width="2.3" stroke-linecap="round" stroke-linejoin="round"/>
<path d="M320.6,150.7 L324.0,151.3 L328.0,152.2 L332.0,153.2 L335.4,154.0 L338.5,154.8 L341.2,155.8 L344.0,157.0" fill="none" stroke="#4030f0" stroke-width="2.4" stroke-linecap="round" stroke-linejoin="round"/>
<path fill="#009df6" d="M306.7 156.5h1.3v1.3h-1.3zM314.4 146.6h1.3v1.3h-1.3zM320.2 144.4h1.3v1.3h-1.3zM339.4 147.6h1.3v1.3h-1.3zM308.4 168.2h1.3v1.3h-1.3z"/>
<path fill="#1023ff" d="M307.3 155.1h1.3v1.3h-1.3z"/>
<path fill="#00e2c4" d="M307.9 154.5h1.3v1.3h-1.3z"/>
<path fill="#1f10f9" d="M309.5 152.5h1.3v1.3h-1.3zM322.0 144.7h1.3v1.3h-1.3zM333.7 145.9h1.3v1.3h-1.3z"/>
<path fill="#0b3cff" d="M311.4 149.8h1.3v1.3h-1.3zM319.4 145.2h1.3v1.3h-1.3zM323.0 143.8h1.3v1.3h-1.3zM330.9 145.2h1.3v1.3h-1.3zM307.0 162.9h1.3v1.3h-1.3zM307.7 171.7h1.3v1.3h-1.3z"/>
<path fill="#00cdee" d="M317.9 145.0h1.3v1.3h-1.3zM327.0 144.7h1.3v1.3h-1.3zM328.1 143.9h1.3v1.3h-1.3zM329.2 144.8h1.3v1.3h-1.3zM344.2 145.8h1.3v1.3h-1.3zM311.0 173.1h1.3v1.3h-1.3z"/>
<path fill="#0555ff" d="M307.4 159.4h1.3v1.3h-1.3z"/>
<path fill="#00e485" d="M307.7 162.4h1.3v1.3h-1.3zM310.0 174.0h1.3v1.3h-1.3z"/>
<path fill="#006eff" d="M307.4 167.4h1.3v1.3h-1.3z"/>
<path fill="#8030ff" d="M313.9 163.3h1.4v1.4h-1.4zM318.2 162.7h1.4v1.4h-1.4zM318.3 174.2h1.4v1.4h-1.4zM327.3 175.9h1.4v1.4h-1.4zM329.8 166.8h1.4v1.4h-1.4zM332.5 170.0h1.4v1.4h-1.4zM332.7 175.1h1.4v1.4h-1.4zM346.2 163.8h1.4v1.4h-1.4z"/>
<path fill="#3030ff" d="M318.1 159.3h1.4v1.4h-1.4zM323.3 160.8h1.4v1.4h-1.4z"/>
<path fill="#2050ff" d="M317.8 163.7h1.4v1.4h-1.4zM325.1 163.7h1.4v1.4h-1.4zM325.4 167.1h1.4v1.4h-1.4zM342.5 167.4h1.4v1.4h-1.4zM345.6 160.3h1.4v1.4h-1.4z"/>
<path fill="#6020ff" d="M317.5 165.4h1.4v1.4h-1.4zM317.9 167.8h1.4v1.4h-1.4zM317.8 175.7h1.4v1.4h-1.4zM322.2 166.8h1.4v1.4h-1.4zM321.3 160.7h1.4v1.4h-1.4zM329.9 172.8h1.4v1.4h-1.4zM332.9 161.0h1.4v1.4h-1.4zM332.6 162.8h1.4v1.4h-1.4zM332.8 168.4h1.4v1.4h-1.4zM337.8 164.1h1.4v1.4h-1.4zM342.5 162.8h1.4v1.4h-1.4zM342.5 166.4h1.4v1.4h-1.4z"/>
<path fill="#20a0ff" d="M320.0 175.6h1.4v1.4h-1.4zM321.4 165.2h1.4v1.4h-1.4zM324.7 170.1h1.4v1.4h-1.4zM325.2 173.5h1.4v1.4h-1.4zM330.0 175.0h1.4v1.4h-1.4zM329.7 168.2h1.4v1.4h-1.4zM332.6 171.7h1.4v1.4h-1.4zM337.3 162.2h1.4v1.4h-1.4zM345.7 173.3h1.4v1.4h-1.4zM346.2 165.4h1.4v1.4h-1.4z"/>
<circle cx="307.8" cy="158.0" r="3.6" fill="#2a2aff"/>
<circle cx="310.7" cy="158.0" r="0.8" fill="#00e1d4"/>
<circle cx="308.4" cy="155.2" r="0.8" fill="#00e38d"/>
<circle cx="306.2" cy="157.5" r="0.8" fill="#c9f000"/>
<circle cx="308.8" cy="160.4" r="0.8" fill="#c5f000"/>
<circle cx="310.6" cy="157.6" r="0.8" fill="#00e483"/>
<circle cx="310.4" cy="157.0" r="0.8" fill="#00e388"/>
<circle cx="306.6" cy="159.3" r="0.8" fill="#00e2b3"/>
<circle cx="306.0" cy="157.2" r="0.8" fill="#b7f000"/>
<circle cx="310.2" cy="158.1" r="0.8" fill="#00e484"/>
<circle cx="310.9" cy="158.0" r="0.8" fill="#43ea26"/>
<circle cx="307.6" cy="156.2" r="0.8" fill="#3cea29"/>
<circle cx="307.9" cy="160.8" r="0.8" fill="#01e645"/>
<circle cx="308.0" cy="159.4" r="0.8" fill="#00e397"/>
<circle cx="306.4" cy="160.1" r="0.8" fill="#00e475"/>
<circle cx="309.5" cy="158.4" r="0.8" fill="#00e47a"/>
<circle cx="310.7" cy="157.9" r="0.8" fill="#15e73c"/>
<circle cx="309.0" cy="157.8" r="0.8" fill="#00e1e8"/>
<circle cx="308.7" cy="159.3" r="0.8" fill="#00e2c7"/>
<circle cx="305.0" cy="157.3" r="0.8" fill="#00e3a6"/>
<circle cx="306.9" cy="159.9" r="0.8" fill="#b2f000"/>
<circle cx="304.8" cy="157.9" r="0.8" fill="#00e2bb"/>
<circle cx="305.5" cy="157.3" r="0.8" fill="#46ea24"/>
<circle cx="308.3" cy="157.1" r="0.8" fill="#00e1e8"/>
<circle cx="309.9" cy="159.7" r="0.8" fill="#00e468"/>
<circle cx="307.2" cy="158.1" r="0.8" fill="#6ded12"/>
<circle cx="308.2" cy="158.0" r="0.8" fill="#c4f000"/>
<ellipse cx="326.8" cy="152.2" rx="6.0" ry="3.0" fill="#2a30ff" transform="rotate(12 326.8 152.2)"/>
<ellipse cx="326.8" cy="152.2" rx="4.6" ry="2.3" fill="#ff8000" transform="rotate(12 326.8 152.2)"/>
<ellipse cx="326.8" cy="152.2" rx="3.8" ry="1.8" fill="#ff0a00" transform="rotate(12 326.8 152.2)"/>
<ellipse cx="335.5" cy="154.2" rx="2.6" ry="1.3" fill="#d8d0ec"/>
<circle cx="341.6" cy="155.7" r="1.2" fill="#ff3000"/>
</g>
</g>
<rect x="302.3" y="136.3" width="53.1" height="53.1" fill="none" stroke="#9a9a9a" stroke-width="0.6"/>
<rect x="302.00" y="189.70" width="53.70" height="2.50" fill="#ececec"/>
<defs><clipPath id="clipH2"><rect x="302.0" y="192.2" width="53.7" height="53.5"/></clipPath></defs>
<g clip-path="url(#clipH2)">
<rect x="302.00" y="192.20" width="53.70" height="53.50" fill="#585858"/>
<path fill="#444" d="M305.7 203.1h1v1h-1zM340.2 197.1h1v1h-1zM330.2 235.2h1v1h-1zM333.0 204.0h1v1h-1zM305.7 227.2h1v1h-1zM308.6 205.6h1v1h-1zM327.8 218.7h1v1h-1zM313.6 211.8h1v1h-1zM333.9 235.7h1v1h-1zM333.3 243.5h1v1h-1zM326.0 196.2h1v1h-1zM324.8 242.0h1v1h-1zM308.5 228.7h1v1h-1zM301.8 236.1h1v1h-1zM302.4 195.4h1v1h-1zM314.8 208.7h1v1h-1zM311.5 244.4h1v1h-1zM353.2 235.1h1v1h-1zM308.9 243.4h1v1h-1zM347.2 222.6h1v1h-1zM305.8 224.7h1v1h-1zM307.9 236.4h1v1h-1zM352.5 242.6h1v1h-1zM352.2 232.5h1v1h-1zM339.2 206.1h1v1h-1zM347.3 207.6h1v1h-1zM312.3 229.1h1v1h-1zM308.8 215.3h1v1h-1zM330.3 214.3h1v1h-1zM308.0 209.3h1v1h-1zM314.6 206.3h1v1h-1zM316.8 229.3h1v1h-1zM349.5 242.5h1v1h-1zM331.4 234.0h1v1h-1zM314.5 213.0h1v1h-1zM331.6 216.2h1v1h-1zM346.4 202.8h1v1h-1zM347.3 240.1h1v1h-1z"/>
<path fill="#3e3e3e" d="M339.0 204.4h1v1h-1zM325.5 209.6h1v1h-1zM325.1 214.8h1v1h-1zM332.0 222.5h1v1h-1zM339.2 196.6h1v1h-1zM309.3 194.7h1v1h-1zM308.9 205.0h1v1h-1zM328.3 197.5h1v1h-1zM334.8 194.8h1v1h-1zM353.7 238.0h1v1h-1zM352.8 192.7h1v1h-1zM302.1 221.7h1v1h-1zM341.9 201.2h1v1h-1zM327.0 220.3h1v1h-1zM306.1 242.6h1v1h-1zM350.2 210.4h1v1h-1zM343.8 231.0h1v1h-1zM337.3 222.5h1v1h-1zM316.7 227.5h1v1h-1zM338.1 238.3h1v1h-1zM308.0 231.3h1v1h-1zM323.2 232.7h1v1h-1zM325.2 221.5h1v1h-1zM313.4 232.2h1v1h-1zM319.9 205.2h1v1h-1zM314.1 221.7h1v1h-1zM350.5 216.4h1v1h-1zM325.5 201.9h1v1h-1zM353.7 210.8h1v1h-1zM304.9 227.2h1v1h-1zM339.2 215.8h1v1h-1zM320.0 192.0h1v1h-1zM311.7 217.4h1v1h-1zM321.4 202.8h1v1h-1zM336.9 224.5h1v1h-1zM305.4 201.6h1v1h-1zM333.6 208.2h1v1h-1zM344.9 222.5h1v1h-1zM333.7 236.9h1v1h-1zM343.4 232.3h1v1h-1zM326.0 212.4h1v1h-1zM303.2 239.4h1v1h-1zM341.2 192.4h1v1h-1z"/>
<path fill="#585858" d="M346.8 219.7h1v1h-1zM331.3 203.8h1v1h-1zM324.4 195.4h1v1h-1zM327.4 240.2h1v1h-1zM337.7 232.7h1v1h-1zM346.6 193.8h1v1h-1zM303.0 211.5h1v1h-1zM316.6 198.8h1v1h-1zM329.6 217.9h1v1h-1zM332.0 221.8h1v1h-1zM305.4 224.5h1v1h-1zM311.0 213.6h1v1h-1zM320.1 199.1h1v1h-1zM337.5 210.9h1v1h-1zM339.9 203.5h1v1h-1zM326.0 236.2h1v1h-1zM350.8 227.1h1v1h-1zM335.2 207.9h1v1h-1zM322.2 239.0h1v1h-1zM354.7 234.7h1v1h-1zM352.4 229.7h1v1h-1zM317.6 202.7h1v1h-1zM325.0 228.0h1v1h-1zM340.2 192.3h1v1h-1zM322.6 192.1h1v1h-1zM331.7 233.0h1v1h-1zM318.1 213.0h1v1h-1zM301.9 244.7h1v1h-1zM341.2 221.5h1v1h-1zM326.8 197.9h1v1h-1zM316.2 207.1h1v1h-1zM328.4 221.4h1v1h-1z"/>
<path fill="#5a5a5a" d="M321.4 191.7h1v1h-1zM329.7 217.7h1v1h-1zM346.4 242.7h1v1h-1zM354.0 197.7h1v1h-1zM318.1 241.4h1v1h-1zM302.0 201.3h1v1h-1zM352.6 218.0h1v1h-1zM334.7 219.8h1v1h-1zM312.0 237.2h1v1h-1zM343.3 214.0h1v1h-1zM305.9 229.9h1v1h-1zM306.5 232.7h1v1h-1zM349.0 194.3h1v1h-1zM313.3 213.1h1v1h-1zM352.7 244.2h1v1h-1zM306.0 238.9h1v1h-1zM317.9 201.4h1v1h-1zM328.5 195.2h1v1h-1zM338.1 225.9h1v1h-1zM321.7 217.0h1v1h-1zM325.5 229.4h1v1h-1zM317.8 226.9h1v1h-1zM336.4 236.7h1v1h-1zM317.4 244.9h1v1h-1zM301.6 215.6h1v1h-1zM304.1 204.1h1v1h-1zM351.5 205.4h1v1h-1zM349.3 212.0h1v1h-1zM353.8 202.3h1v1h-1zM345.8 220.2h1v1h-1zM340.3 236.3h1v1h-1zM354.7 201.7h1v1h-1zM319.4 219.8h1v1h-1zM331.6 206.9h1v1h-1zM342.6 243.4h1v1h-1zM309.5 213.1h1v1h-1zM316.0 196.4h1v1h-1zM353.2 233.7h1v1h-1zM334.7 239.3h1v1h-1zM332.9 217.4h1v1h-1zM302.7 233.7h1v1h-1zM328.9 201.0h1v1h-1zM325.0 192.4h1v1h-1zM350.5 199.5h1v1h-1zM338.4 233.0h1v1h-1zM337.5 222.2h1v1h-1zM329.5 209.7h1v1h-1z"/>
<circle cx="328.4" cy="218.6" r="26.8" fill="none" stroke="#b8b8b8" stroke-width="0.9"/>
<circle cx="328.4" cy="218.6" r="25.5" fill="none" stroke="#6a6a6a" stroke-width="0.6"/>
<path d="M340.0,245.7 Q352.0,242.1 355.7,230.1" fill="none" stroke="#b0b0b0" stroke-width="0.8"/>
<path d="M310.0,230.6 Q314.6,233.6 315.0,228.1 L315.0,218.2 C315.0,213.8 318.6,213.8 318.6,218.2 L318.6,232.1 C318.6,236.7 322.4,236.7 322.4,232.1 L322.4,217.7 C322.4,213.4 325.8,213.4 325.8,217.7 L325.8,233.1 C325.8,238.1 330.2,238.1 330.2,233.1 L330.2,218.7 C330.2,214.4 333.6,214.4 333.6,218.7 L333.6,232.1 C333.6,237.1 338.0,237.1 338.0,232.1 L338.0,219.6 C338.0,213.7 343.6,213.7 343.6,219.6 L343.6,229.6 C343.6,233.7 346.8,233.7 346.8,229.6 L346.8,217.7 Q347.0,213.2 344.0,212.7" fill="none" stroke="#cdcdcd" stroke-width="2.0" stroke-linejoin="round" stroke-linecap="round"/>
<path d="M310.0,230.6 Q314.6,233.6 315.0,228.1 L315.0,218.2 C315.0,213.8 318.6,213.8 318.6,218.2 L318.6,232.1 C318.6,236.7 322.4,236.7 322.4,232.1 L322.4,217.7 C322.4,213.4 325.8,213.4 325.8,217.7 L325.8,233.1 C325.8,238.1 330.2,238.1 330.2,233.1 L330.2,218.7 C330.2,214.4 333.6,214.4 333.6,218.7 L333.6,232.1 C333.6,237.1 338.0,237.1 338.0,232.1 L338.0,219.6 C338.0,213.7 343.6,213.7 343.6,219.6 L343.6,229.6 C343.6,233.7 346.8,233.7 346.8,229.6 L346.8,217.7 Q347.0,213.2 344.0,212.7" fill="none" stroke="#5c5c5c" stroke-width="0.9" stroke-linejoin="round"/>
<g filter="url(#blur04)">
<path d="M307.8,213.2 L310.2,208.7 L313.5,205.2 L317.2,202.8 L321.0,201.4 L324.5,200.8 L329.0,201.2 L333.4,201.9 L337.9,204.1 L342.4,204.7 L345.7,202.5" fill="none" stroke="#2525ff" stroke-width="2.6" stroke-linecap="round" stroke-linejoin="round"/>
<path d="M307.8,216.2 L308.0,220.1 L308.4,223.5 L308.9,228.0 L310.6,230.4 L313.4,229.6 L314.4,226.1" fill="none" stroke="#3a20ff" stroke-width="2.3" stroke-linecap="round" stroke-linejoin="round"/>
<path d="M320.6,206.9 L324.0,207.5 L328.0,208.4 L332.0,209.4 L335.4,210.2 L338.5,211.0 L341.2,212.0 L344.0,213.2" fill="none" stroke="#4030f0" stroke-width="2.4" stroke-linecap="round" stroke-linejoin="round"/>
<path fill="#00e646" d="M308.1 211.5h1.3v1.3h-1.3z"/>
<path fill="#00cdee" d="M308.9 209.2h1.3v1.3h-1.3zM311.1 206.5h1.3v1.3h-1.3zM327.2 199.8h1.3v1.3h-1.3zM330.0 201.4h1.3v1.3h-1.3zM337.3 203.5h1.3v1.3h-1.3zM338.2 203.2h1.3v1.3h-1.3zM308.5 226.4h1.3v1.3h-1.3z"/>
<path fill="#0555ff" d="M310.2 207.4h1.3v1.3h-1.3z"/>
<path fill="#00e485" d="M311.7 205.3h1.3v1.3h-1.3zM345.0 202.4h1.3v1.3h-1.3zM309.4 229.7h1.3v1.3h-1.3z"/>
<path fill="#0b3cff" d="M312.6 204.1h1.3v1.3h-1.3zM309.1 228.9h1.3v1.3h-1.3z"/>
<path fill="#1f10f9" d="M313.7 204.1h1.3v1.3h-1.3z"/>
<path fill="#006eff" d="M315.8 202.7h1.3v1.3h-1.3zM328.5 200.0h1.3v1.3h-1.3zM331.7 201.4h1.3v1.3h-1.3zM341.3 204.4h1.3v1.3h-1.3z"/>
<path fill="#009df6" d="M326.3 200.6h1.3v1.3h-1.3zM332.8 201.1h1.3v1.3h-1.3zM307.5 223.9h1.3v1.3h-1.3zM311.6 229.7h1.3v1.3h-1.3z"/>
<path fill="#00e2c4" d="M335.7 203.0h1.3v1.3h-1.3z"/>
<path fill="#1023ff" d="M307.1 219.5h1.3v1.3h-1.3z"/>
<path fill="#8030ff" d="M314.1 226.0h1.4v1.4h-1.4zM318.0 215.1h1.4v1.4h-1.4zM318.3 226.2h1.4v1.4h-1.4zM319.4 231.2h1.4v1.4h-1.4zM322.0 229.7h1.4v1.4h-1.4zM324.6 216.7h1.4v1.4h-1.4zM324.8 231.0h1.4v1.4h-1.4zM329.4 230.4h1.4v1.4h-1.4zM329.7 223.9h1.4v1.4h-1.4zM332.9 217.3h1.4v1.4h-1.4zM332.7 227.7h1.4v1.4h-1.4zM337.1 230.2h1.4v1.4h-1.4zM341.3 218.7h1.4v1.4h-1.4zM342.9 227.4h1.4v1.4h-1.4z"/>
<path fill="#2050ff" d="M314.0 223.7h1.4v1.4h-1.4zM317.9 230.0h1.4v1.4h-1.4zM321.7 220.1h1.4v1.4h-1.4zM325.6 218.4h1.4v1.4h-1.4zM324.8 220.0h1.4v1.4h-1.4zM325.0 227.4h1.4v1.4h-1.4zM329.2 227.1h1.4v1.4h-1.4zM329.5 217.1h1.4v1.4h-1.4zM332.6 219.6h1.4v1.4h-1.4zM333.4 220.6h1.4v1.4h-1.4zM337.4 221.9h1.4v1.4h-1.4zM343.2 223.7h1.4v1.4h-1.4z"/>
<path fill="#20a0ff" d="M314.0 222.2h1.4v1.4h-1.4zM321.4 216.8h1.4v1.4h-1.4zM329.6 222.6h1.4v1.4h-1.4z"/>
<path fill="#3030ff" d="M318.1 219.9h1.4v1.4h-1.4zM321.4 221.8h1.4v1.4h-1.4zM332.8 222.3h1.4v1.4h-1.4zM333.1 224.0h1.4v1.4h-1.4zM337.0 218.1h1.4v1.4h-1.4zM343.4 222.4h1.4v1.4h-1.4zM346.6 223.4h1.4v1.4h-1.4zM345.8 216.4h1.4v1.4h-1.4z"/>
<path fill="#6020ff" d="M317.7 223.3h1.4v1.4h-1.4zM321.8 231.6h1.4v1.4h-1.4zM321.5 223.5h1.4v1.4h-1.4zM321.6 218.5h1.4v1.4h-1.4zM325.4 232.5h1.4v1.4h-1.4zM329.7 232.4h1.4v1.4h-1.4zM337.4 223.4h1.4v1.4h-1.4zM343.3 220.0h1.4v1.4h-1.4zM345.9 224.6h1.4v1.4h-1.4z"/>
<circle cx="311.0" cy="212.2" r="4.6" fill="#2a2aff"/>
<circle cx="312.6" cy="209.9" r="0.8" fill="#c8f000"/>
<circle cx="312.5" cy="212.8" r="0.8" fill="#bef000"/>
<circle cx="311.3" cy="208.5" r="0.8" fill="#46ea25"/>
<circle cx="310.3" cy="209.8" r="0.8" fill="#83ee08"/>
<circle cx="312.9" cy="215.4" r="0.8" fill="#ff1500"/>
<circle cx="310.7" cy="208.9" r="0.8" fill="#00e390"/>
<circle cx="308.1" cy="210.3" r="0.8" fill="#00b4f2"/>
<circle cx="313.5" cy="209.2" r="0.8" fill="#32e92e"/>
<circle cx="311.6" cy="216.0" r="0.8" fill="#ffa900"/>
<circle cx="307.7" cy="211.8" r="0.8" fill="#66ec16"/>
<circle cx="309.2" cy="210.8" r="0.8" fill="#f5f000"/>
<circle cx="313.0" cy="210.5" r="0.8" fill="#a6f000"/>
<circle cx="312.4" cy="208.6" r="0.8" fill="#00abf4"/>
<circle cx="309.2" cy="213.4" r="0.8" fill="#15e73c"/>
<circle cx="308.4" cy="209.6" r="0.8" fill="#9ef000"/>
<circle cx="310.3" cy="209.9" r="0.8" fill="#00e1cb"/>
<circle cx="312.5" cy="210.7" r="0.8" fill="#57eb1d"/>
<circle cx="308.7" cy="211.9" r="0.8" fill="#00bbf1"/>
<circle cx="314.2" cy="210.4" r="0.8" fill="#00a1f5"/>
<circle cx="309.3" cy="209.5" r="0.8" fill="#0081fb"/>
<circle cx="312.6" cy="210.6" r="0.8" fill="#ff4d00"/>
<circle cx="312.0" cy="210.8" r="0.8" fill="#a5f000"/>
<circle cx="312.3" cy="210.0" r="0.8" fill="#00e1d8"/>
<circle cx="311.9" cy="213.6" r="0.8" fill="#2be831"/>
<circle cx="311.3" cy="215.3" r="0.8" fill="#32e92e"/>
<circle cx="312.2" cy="209.9" r="0.8" fill="#00e46b"/>
<circle cx="311.3" cy="211.0" r="0.8" fill="#00e2b6"/>
<circle cx="310.7" cy="212.3" r="0.8" fill="#009df6"/>
<circle cx="312.2" cy="213.7" r="0.8" fill="#ff8b00"/>
<circle cx="312.0" cy="215.8" r="0.8" fill="#00e2c1"/>
<circle cx="310.8" cy="213.0" r="0.8" fill="#ff1000"/>
<circle cx="312.6" cy="212.0" r="0.8" fill="#00b3f2"/>
<circle cx="311.4" cy="208.4" r="0.8" fill="#ffa400"/>
<circle cx="313.6" cy="211.7" r="0.8" fill="#11e73d"/>
<circle cx="311.2" cy="208.7" r="0.8" fill="#ff5200"/>
<circle cx="313.5" cy="213.0" r="0.8" fill="#00b0f3"/>
<ellipse cx="327.0" cy="209.6" rx="6.0" ry="3.0" fill="#2a30ff" transform="rotate(12 327.0 209.6)"/>
<ellipse cx="327.0" cy="209.6" rx="4.6" ry="2.3" fill="#ff8000" transform="rotate(12 327.0 209.6)"/>
<ellipse cx="327.0" cy="209.6" rx="3.8" ry="1.8" fill="#ff0a00" transform="rotate(12 327.0 209.6)"/>
<ellipse cx="339.0" cy="213.7" rx="3.2" ry="3.0" fill="#d8d0ec"/>
<circle cx="341.6" cy="211.9" r="1.2" fill="#ff3000"/>
</g>
</g>
<rect x="302.3" y="192.5" width="53.1" height="52.9" fill="none" stroke="#9a9a9a" stroke-width="0.6"/>
<text x="298.50" y="165.00" font-size="8.2" fill="#333" stroke="#333" stroke-width="0.12" text-anchor="end" textLength="12.00" lengthAdjust="spacingAndGlyphs" >WT</text>
<text x="299.60" y="221.60" font-size="8.2" fill="#333" stroke="#333" stroke-width="0.12" text-anchor="end" textLength="27.00" lengthAdjust="spacingAndGlyphs" ><tspan font-style="italic">Ifnlr1</tspan><tspan dy="-2.95" font-size="5.74">–/–</tspan></text>
<defs><linearGradient id="cbH" x1="0" y1="0" x2="0" y2="1"><stop offset="0" stop-color="#ff0000"/><stop offset="0.08" stop-color="#ff2000"/><stop offset="0.15" stop-color="#ff9000"/><stop offset="0.23" stop-color="#ffff00"/><stop offset="0.32" stop-color="#a0ff00"/><stop offset="0.42" stop-color="#20e000"/><stop offset="0.52" stop-color="#00e040"/><stop offset="0.62" stop-color="#00e0e0"/><stop offset="0.72" stop-color="#0090ff"/><stop offset="0.82" stop-color="#0020ff"/><stop offset="0.92" stop-color="#3000ff"/><stop offset="1" stop-color="#7000e0"/></linearGradient></defs>
<rect x="362.90" y="147.70" width="3.40" height="83.80" fill="url(#cbH)"/>
<line x1="366.30" y1="147.70" x2="367.20" y2="147.70" stroke="#999" stroke-width="0.4"/>
<line x1="366.30" y1="151.89" x2="367.20" y2="151.89" stroke="#999" stroke-width="0.4"/>
<line x1="366.30" y1="156.08" x2="367.20" y2="156.08" stroke="#999" stroke-width="0.4"/>
<line x1="366.30" y1="160.27" x2="367.20" y2="160.27" stroke="#999" stroke-width="0.4"/>
<line x1="366.30" y1="164.46" x2="367.20" y2="164.46" stroke="#999" stroke-width="0.4"/>
<line x1="366.30" y1="168.65" x2="367.20" y2="168.65" stroke="#999" stroke-width="0.4"/>
<line x1="366.30" y1="172.84" x2="367.20" y2="172.84" stroke="#999" stroke-width="0.4"/>
<line x1="366.30" y1="177.03" x2="367.20" y2="177.03" stroke="#999" stroke-width="0.4"/>
<line x1="366.30" y1="181.22" x2="367.20" y2="181.22" stroke="#999" stroke-width="0.4"/>
<line x1="366.30" y1="185.41" x2="367.20" y2="185.41" stroke="#999" stroke-width="0.4"/>
<line x1="366.30" y1="189.60" x2="367.20" y2="189.60" stroke="#999" stroke-width="0.4"/>
<line x1="366.30" y1="193.79" x2="367.20" y2="193.79" stroke="#999" stroke-width="0.4"/>
<line x1="366.30" y1="197.98" x2="367.20" y2="197.98" stroke="#999" stroke-width="0.4"/>
<line x1="366.30" y1="202.17" x2="367.20" y2="202.17" stroke="#999" stroke-width="0.4"/>
<line x1="366.30" y1="206.36" x2="367.20" y2="206.36" stroke="#999" stroke-width="0.4"/>
<line x1="366.30" y1="210.55" x2="367.20" y2="210.55" stroke="#999" stroke-width="0.4"/>
<line x1="366.30" y1="214.74" x2="367.20" y2="214.74" stroke="#999" stroke-width="0.4"/>
<line x1="366.30" y1="218.93" x2="367.20" y2="218.93" stroke="#999" stroke-width="0.4"/>
<line x1="366.30" y1="223.12" x2="367.20" y2="223.12" stroke="#999" stroke-width="0.4"/>
<line x1="366.30" y1="227.31" x2="367.20" y2="227.31" stroke="#999" stroke-width="0.4"/>
<line x1="366.30" y1="231.50" x2="367.20" y2="231.50" stroke="#999" stroke-width="0.4"/>
<line x1="366.30" y1="148.10" x2="368.50" y2="148.10" stroke="#777" stroke-width="0.5"/>
<text x="369.40" y="150.70" font-size="7.3" fill="#333" stroke="#333" stroke-width="0.12" textLength="20.60" lengthAdjust="spacingAndGlyphs" >10000</text>
<line x1="366.30" y1="166.20" x2="368.50" y2="166.20" stroke="#777" stroke-width="0.5"/>
<text x="369.40" y="168.80" font-size="7.3" fill="#333" stroke="#333" stroke-width="0.12" textLength="16.50" lengthAdjust="spacingAndGlyphs" >8000</text>
<line x1="366.30" y1="184.80" x2="368.50" y2="184.80" stroke="#777" stroke-width="0.5"/>
<text x="369.40" y="187.40" font-size="7.3" fill="#333" stroke="#333" stroke-width="0.12" textLength="16.50" lengthAdjust="spacingAndGlyphs" >6000</text>
<line x1="366.30" y1="203.60" x2="368.50" y2="203.60" stroke="#777" stroke-width="0.5"/>
<text x="369.40" y="206.20" font-size="7.3" fill="#333" stroke="#333" stroke-width="0.12" textLength="16.50" lengthAdjust="spacingAndGlyphs" >4000</text>
<line x1="366.30" y1="221.80" x2="368.50" y2="221.80" stroke="#777" stroke-width="0.5"/>
<text x="369.40" y="224.40" font-size="7.3" fill="#333" stroke="#333" stroke-width="0.12" textLength="16.50" lengthAdjust="spacingAndGlyphs" >2000</text>
<text x="361.70" y="142.60" font-size="7.2" fill="#333" stroke="#333" stroke-width="0.12" textLength="46.40" lengthAdjust="spacingAndGlyphs" >Luminescence</text>
<text x="361.70" y="240.80" font-size="7.2" fill="#333" stroke="#333" stroke-width="0.12" textLength="29.80" lengthAdjust="spacingAndGlyphs" >Radiance</text>
<text x="361.50" y="249.20" font-size="7.2" fill="#333" stroke="#333" stroke-width="0.12" textLength="46.40" lengthAdjust="spacingAndGlyphs" >(p/sec/cm<tspan dy="-2.59" font-size="5.04">2</tspan><tspan dy="2.59">/sr)</tspan></text>
<text x="417.80" y="140.20" font-size="9.7" fill="#000" font-weight="bold" >I</text>
<line x1="446.50" y1="145.30" x2="446.50" y2="228.60" stroke="#262626" stroke-width="1"/>
<line x1="444.20" y1="228.50" x2="447.00" y2="228.50" stroke="#262626" stroke-width="1"/>
<text x="442.10" y="232.22" font-size="8.4" fill="#2c2c2c" stroke="#2c2c2c" stroke-width="0.12" text-anchor="end" >0</text>
<line x1="444.20" y1="200.50" x2="447.00" y2="200.50" stroke="#262626" stroke-width="1"/>
<text x="442.10" y="204.62" font-size="8.4" fill="#2c2c2c" stroke="#2c2c2c" stroke-width="0.12" text-anchor="end" >5</text>
<line x1="444.20" y1="173.50" x2="447.00" y2="173.50" stroke="#262626" stroke-width="1"/>
<text x="442.10" y="177.02" font-size="8.4" fill="#2c2c2c" stroke="#2c2c2c" stroke-width="0.12" text-anchor="end" >10</text>
<line x1="444.20" y1="145.50" x2="447.00" y2="145.50" stroke="#262626" stroke-width="1"/>
<text x="442.10" y="149.42" font-size="8.4" fill="#2c2c2c" stroke="#2c2c2c" stroke-width="0.12" text-anchor="end" >15</text>
<line x1="447.00" y1="228.50" x2="482.60" y2="228.50" stroke="#262626" stroke-width="1"/>
<rect x="453.50" y="197.50" width="9.00" height="31.00" fill="#fff" stroke="#262626" stroke-width="1"/>
<line x1="458.50" y1="190.80" x2="458.50" y2="197.50" stroke="#262626" stroke-width="1"/>
<line x1="456.80" y1="190.50" x2="460.20" y2="190.50" stroke="#262626" stroke-width="1"/>
<rect x="466.50" y="204.50" width="9.00" height="24.00" fill="#c3c3c9" stroke="#262626" stroke-width="1"/>
<line x1="471.50" y1="199.20" x2="471.50" y2="204.50" stroke="#262626" stroke-width="1"/>
<line x1="469.80" y1="199.50" x2="473.20" y2="199.50" stroke="#262626" stroke-width="1"/>
<circle cx="458.10" cy="165.80" r="1.5" fill="#c8102e"/>
<circle cx="458.10" cy="170.10" r="1.5" fill="#c8102e"/>
<circle cx="458.10" cy="191.20" r="1.5" fill="#c8102e"/>
<circle cx="462.60" cy="189.40" r="1.5" fill="#c8102e"/>
<circle cx="454.20" cy="205.30" r="1.5" fill="#c8102e"/>
<circle cx="461.00" cy="208.20" r="1.5" fill="#c8102e"/>
<circle cx="454.20" cy="213.90" r="1.5" fill="#c8102e"/>
<circle cx="458.10" cy="212.80" r="1.5" fill="#c8102e"/>
<circle cx="462.60" cy="213.90" r="1.5" fill="#c8102e"/>
<circle cx="471.20" cy="183.30" r="1.5" fill="#1d5b9c"/>
<circle cx="471.20" cy="185.60" r="1.5" fill="#1d5b9c"/>
<circle cx="469.40" cy="199.20" r="1.5" fill="#1d5b9c"/>
<circle cx="473.50" cy="200.30" r="1.5" fill="#1d5b9c"/>
<circle cx="467.80" cy="209.40" r="1.5" fill="#1d5b9c"/>
<circle cx="471.70" cy="209.80" r="1.5" fill="#1d5b9c"/>
<circle cx="475.80" cy="209.80" r="1.5" fill="#1d5b9c"/>
<circle cx="469.40" cy="215.70" r="1.5" fill="#1d5b9c"/>
<circle cx="474.60" cy="215.70" r="1.5" fill="#1d5b9c"/>
<circle cx="471.20" cy="203.70" r="1.5" fill="#1d5b9c"/>
<text x="0" y="0" font-size="8.8" fill="#2c2c2c" stroke="#2c2c2c" stroke-width="0.12" text-anchor="middle" textLength="60.40" lengthAdjust="spacingAndGlyphs" transform="translate(429.00,187.55) rotate(-90)" >Total flux p×10<tspan dy="-3.17" font-size="6.16">5</tspan><tspan dy="3.17">/s</tspan></text>
<text x="0" y="0" font-size="8.6" fill="#2c2c2c" stroke="#2c2c2c" stroke-width="0.12" text-anchor="end" textLength="12.20" lengthAdjust="spacingAndGlyphs" transform="translate(460.80,238.40) rotate(-45)" >WT</text>
<text x="0" y="0" font-size="8.6" fill="#2c2c2c" stroke="#2c2c2c" stroke-width="0.12" text-anchor="end" textLength="23.80" lengthAdjust="spacingAndGlyphs" transform="translate(474.50,237.40) rotate(-45)" ><tspan font-style="italic">Ifnlr1</tspan><tspan dy="-3.10" font-size="6.02">–/–</tspan></text>
<text x="9.30" y="273.60" font-size="9.7" fill="#000" font-weight="bold" >J</text>
<line x1="36.50" y1="278.40" x2="36.50" y2="361.10" stroke="#262626" stroke-width="1"/>
<line x1="33.60" y1="361.50" x2="36.40" y2="361.50" stroke="#262626" stroke-width="1"/>
<text x="31.50" y="364.72" font-size="8.4" fill="#2c2c2c" stroke="#2c2c2c" stroke-width="0.12" text-anchor="end" >0</text>
<line x1="33.60" y1="333.50" x2="36.40" y2="333.50" stroke="#262626" stroke-width="1"/>
<text x="31.50" y="337.32" font-size="8.4" fill="#2c2c2c" stroke="#2c2c2c" stroke-width="0.12" text-anchor="end" >20</text>
<line x1="33.60" y1="306.50" x2="36.40" y2="306.50" stroke="#262626" stroke-width="1"/>
<text x="31.50" y="309.92" font-size="8.4" fill="#2c2c2c" stroke="#2c2c2c" stroke-width="0.12" text-anchor="end" >40</text>
<line x1="33.60" y1="278.50" x2="36.40" y2="278.50" stroke="#262626" stroke-width="1"/>
<text x="31.50" y="282.52" font-size="8.4" fill="#2c2c2c" stroke="#2c2c2c" stroke-width="0.12" text-anchor="end" >60</text>
<line x1="33.00" y1="361.50" x2="91.50" y2="361.50" stroke="#262626" stroke-width="1"/>
<rect x="41.50" y="326.50" width="8.00" height="35.00" fill="#fff" stroke="#262626" stroke-width="1"/>
<line x1="45.50" y1="322.50" x2="45.50" y2="326.50" stroke="#262626" stroke-width="1"/>
<line x1="43.80" y1="322.50" x2="47.20" y2="322.50" stroke="#262626" stroke-width="1"/>
<rect x="52.50" y="320.50" width="8.00" height="41.00" fill="#c3c3c9" stroke="#262626" stroke-width="1"/>
<line x1="56.50" y1="315.60" x2="56.50" y2="320.50" stroke="#262626" stroke-width="1"/>
<line x1="54.80" y1="315.50" x2="58.20" y2="315.50" stroke="#262626" stroke-width="1"/>
<rect x="66.50" y="303.50" width="7.00" height="58.00" fill="#fff" stroke="#262626" stroke-width="1"/>
<line x1="70.50" y1="300.30" x2="70.50" y2="303.50" stroke="#262626" stroke-width="1"/>
<line x1="68.80" y1="300.50" x2="72.20" y2="300.50" stroke="#262626" stroke-width="1"/>
<rect x="77.50" y="296.50" width="8.00" height="65.00" fill="#c3c3c9" stroke="#262626" stroke-width="1"/>
<line x1="81.50" y1="293.40" x2="81.50" y2="296.50" stroke="#262626" stroke-width="1"/>
<line x1="79.80" y1="293.50" x2="83.20" y2="293.50" stroke="#262626" stroke-width="1"/>
<circle cx="42.40" cy="311.50" r="1.5" fill="#c8102e"/>
<circle cx="45.20" cy="310.80" r="1.5" fill="#c8102e"/>
<circle cx="48.20" cy="309.00" r="1.5" fill="#c8102e"/>
<circle cx="42.80" cy="316.00" r="1.5" fill="#c8102e"/>
<circle cx="46.00" cy="317.50" r="1.5" fill="#c8102e"/>
<circle cx="47.40" cy="315.00" r="1.5" fill="#c8102e"/>
<circle cx="43.50" cy="320.50" r="1.5" fill="#c8102e"/>
<circle cx="45.80" cy="322.00" r="1.5" fill="#c8102e"/>
<circle cx="45.50" cy="330.00" r="1.5" fill="#c8102e"/>
<circle cx="43.50" cy="337.60" r="1.5" fill="#c8102e"/>
<circle cx="47.20" cy="339.20" r="1.5" fill="#c8102e"/>
<circle cx="44.00" cy="344.80" r="1.5" fill="#c8102e"/>
<circle cx="46.80" cy="343.00" r="1.5" fill="#c8102e"/>
<circle cx="55.50" cy="300.00" r="1.5" fill="#1d5b9c"/>
<circle cx="57.60" cy="301.50" r="1.5" fill="#1d5b9c"/>
<circle cx="58.80" cy="299.80" r="1.5" fill="#1d5b9c"/>
<circle cx="55.80" cy="303.50" r="1.5" fill="#1d5b9c"/>
<circle cx="56.30" cy="312.00" r="1.5" fill="#1d5b9c"/>
<circle cx="53.50" cy="317.50" r="1.5" fill="#1d5b9c"/>
<circle cx="57.00" cy="318.50" r="1.5" fill="#1d5b9c"/>
<circle cx="59.40" cy="318.00" r="1.5" fill="#1d5b9c"/>
<circle cx="54.60" cy="331.50" r="1.5" fill="#1d5b9c"/>
<circle cx="54.20" cy="338.00" r="1.5" fill="#1d5b9c"/>
<circle cx="58.20" cy="335.50" r="1.5" fill="#1d5b9c"/>
<circle cx="56.30" cy="341.00" r="1.5" fill="#1d5b9c"/>
<circle cx="59.20" cy="339.50" r="1.5" fill="#1d5b9c"/>
<circle cx="55.90" cy="342.60" r="1.5" fill="#1d5b9c"/>
<circle cx="68.20" cy="291.00" r="1.5" fill="#c8102e"/>
<circle cx="71.80" cy="288.00" r="1.5" fill="#c8102e"/>
<circle cx="67.40" cy="295.00" r="1.5" fill="#c8102e"/>
<circle cx="73.00" cy="293.50" r="1.5" fill="#c8102e"/>
<circle cx="68.60" cy="297.80" r="1.5" fill="#c8102e"/>
<circle cx="71.50" cy="299.80" r="1.5" fill="#c8102e"/>
<circle cx="67.30" cy="304.00" r="1.5" fill="#c8102e"/>
<circle cx="72.30" cy="305.00" r="1.5" fill="#c8102e"/>
<circle cx="70.30" cy="307.00" r="1.5" fill="#c8102e"/>
<circle cx="71.90" cy="311.00" r="1.5" fill="#c8102e"/>
<circle cx="69.80" cy="317.50" r="1.5" fill="#c8102e"/>
<circle cx="70.00" cy="326.20" r="1.5" fill="#c8102e"/>
<circle cx="79.50" cy="280.50" r="1.5" fill="#1d5b9c"/>
<circle cx="82.20" cy="280.00" r="1.5" fill="#1d5b9c"/>
<circle cx="80.80" cy="285.00" r="1.5" fill="#1d5b9c"/>
<circle cx="83.40" cy="288.00" r="1.5" fill="#1d5b9c"/>
<circle cx="79.80" cy="290.50" r="1.5" fill="#1d5b9c"/>
<circle cx="82.00" cy="291.50" r="1.5" fill="#1d5b9c"/>
<circle cx="84.60" cy="292.60" r="1.5" fill="#1d5b9c"/>
<circle cx="79.20" cy="294.50" r="1.5" fill="#1d5b9c"/>
<circle cx="81.30" cy="297.00" r="1.5" fill="#1d5b9c"/>
<circle cx="85.30" cy="297.00" r="1.5" fill="#1d5b9c"/>
<circle cx="80.20" cy="301.50" r="1.5" fill="#1d5b9c"/>
<circle cx="81.30" cy="310.50" r="1.5" fill="#1d5b9c"/>
<circle cx="82.30" cy="329.50" r="1.5" fill="#1d5b9c"/>
<text x="0" y="0" font-size="8.8" fill="#2c2c2c" stroke="#2c2c2c" stroke-width="0.12" text-anchor="middle" textLength="49.00" lengthAdjust="spacingAndGlyphs" transform="translate(16.90,319.45) rotate(-90)" >% IFNγ<tspan dy="-3.17" font-size="6.16">+</tspan><tspan dy="3.17"> T cells</tspan></text>
<text x="0" y="0" font-size="8.6" fill="#2c2c2c" stroke="#2c2c2c" stroke-width="0.12" text-anchor="end" textLength="19.20" lengthAdjust="spacingAndGlyphs" transform="translate(56.60,368.40) rotate(-45)" >CD4<tspan dy="-3.10" font-size="6.02">+</tspan></text>
<text x="0" y="0" font-size="8.6" fill="#2c2c2c" stroke="#2c2c2c" stroke-width="0.12" text-anchor="end" textLength="19.20" lengthAdjust="spacingAndGlyphs" transform="translate(82.30,368.40) rotate(-45)" >CD8<tspan dy="-3.10" font-size="6.02">+</tspan></text>
<text x="115.50" y="273.60" font-size="9.7" fill="#000" font-weight="bold" >K</text>
<line x1="142.50" y1="275.55" x2="142.50" y2="360.80" stroke="#262626" stroke-width="1"/>
<line x1="139.20" y1="360.50" x2="142.00" y2="360.50" stroke="#262626" stroke-width="1"/>
<text x="137.10" y="364.42" font-size="8.4" fill="#2c2c2c" stroke="#2c2c2c" stroke-width="0.12" text-anchor="end" >0.0</text>
<line x1="139.20" y1="343.50" x2="142.00" y2="343.50" stroke="#262626" stroke-width="1"/>
<text x="137.10" y="347.47" font-size="8.4" fill="#2c2c2c" stroke="#2c2c2c" stroke-width="0.12" text-anchor="end" >0.2</text>
<line x1="139.20" y1="326.50" x2="142.00" y2="326.50" stroke="#262626" stroke-width="1"/>
<text x="137.10" y="330.52" font-size="8.4" fill="#2c2c2c" stroke="#2c2c2c" stroke-width="0.12" text-anchor="end" >0.4</text>
<line x1="139.20" y1="309.50" x2="142.00" y2="309.50" stroke="#262626" stroke-width="1"/>
<text x="137.10" y="313.57" font-size="8.4" fill="#2c2c2c" stroke="#2c2c2c" stroke-width="0.12" text-anchor="end" >0.6</text>
<line x1="139.20" y1="292.50" x2="142.00" y2="292.50" stroke="#262626" stroke-width="1"/>
<text x="137.10" y="296.62" font-size="8.4" fill="#2c2c2c" stroke="#2c2c2c" stroke-width="0.12" text-anchor="end" >0.8</text>
<line x1="139.20" y1="276.50" x2="142.00" y2="276.50" stroke="#262626" stroke-width="1"/>
<text x="137.10" y="279.67" font-size="8.4" fill="#2c2c2c" stroke="#2c2c2c" stroke-width="0.12" text-anchor="end" >1.0</text>
<line x1="142.00" y1="360.50" x2="199.50" y2="360.50" stroke="#262626" stroke-width="1"/>
<rect x="148.50" y="330.50" width="8.00" height="30.00" fill="#fff" stroke="#262626" stroke-width="1"/>
<line x1="152.50" y1="328.00" x2="152.50" y2="330.50" stroke="#262626" stroke-width="1"/>
<line x1="150.80" y1="328.50" x2="154.20" y2="328.50" stroke="#262626" stroke-width="1"/>
<rect x="159.50" y="328.50" width="9.00" height="32.00" fill="#c3c3c9" stroke="#262626" stroke-width="1"/>
<line x1="163.50" y1="325.80" x2="163.50" y2="328.50" stroke="#262626" stroke-width="1"/>
<line x1="161.80" y1="325.50" x2="165.20" y2="325.50" stroke="#262626" stroke-width="1"/>
<rect x="174.50" y="309.50" width="8.00" height="51.00" fill="#fff" stroke="#262626" stroke-width="1"/>
<line x1="178.50" y1="305.50" x2="178.50" y2="309.50" stroke="#262626" stroke-width="1"/>
<line x1="176.80" y1="305.50" x2="180.20" y2="305.50" stroke="#262626" stroke-width="1"/>
<rect x="185.50" y="305.50" width="8.00" height="55.00" fill="#c3c3c9" stroke="#262626" stroke-width="1"/>
<line x1="189.50" y1="301.50" x2="189.50" y2="305.50" stroke="#262626" stroke-width="1"/>
<line x1="187.80" y1="301.50" x2="191.20" y2="301.50" stroke="#262626" stroke-width="1"/>
<circle cx="152.50" cy="322.50" r="1.5" fill="#c8102e"/>
<circle cx="154.00" cy="324.00" r="1.5" fill="#c8102e"/>
<circle cx="150.80" cy="325.50" r="1.5" fill="#c8102e"/>
<circle cx="153.20" cy="326.50" r="1.5" fill="#c8102e"/>
<circle cx="155.60" cy="327.50" r="1.5" fill="#c8102e"/>
<circle cx="149.50" cy="328.00" r="1.5" fill="#c8102e"/>
<circle cx="152.00" cy="329.00" r="1.5" fill="#c8102e"/>
<circle cx="154.60" cy="329.50" r="1.5" fill="#c8102e"/>
<circle cx="151.00" cy="331.00" r="1.5" fill="#c8102e"/>
<circle cx="153.80" cy="331.50" r="1.5" fill="#c8102e"/>
<circle cx="149.80" cy="333.00" r="1.5" fill="#c8102e"/>
<circle cx="152.60" cy="333.50" r="1.5" fill="#c8102e"/>
<circle cx="155.00" cy="333.00" r="1.5" fill="#c8102e"/>
<circle cx="150.50" cy="335.00" r="1.5" fill="#c8102e"/>
<circle cx="153.20" cy="336.00" r="1.5" fill="#c8102e"/>
<circle cx="161.50" cy="321.00" r="1.5" fill="#1d5b9c"/>
<circle cx="164.00" cy="321.50" r="1.5" fill="#1d5b9c"/>
<circle cx="166.50" cy="321.00" r="1.5" fill="#1d5b9c"/>
<circle cx="160.80" cy="325.00" r="1.5" fill="#1d5b9c"/>
<circle cx="163.20" cy="325.50" r="1.5" fill="#1d5b9c"/>
<circle cx="165.80" cy="325.00" r="1.5" fill="#1d5b9c"/>
<circle cx="162.00" cy="327.50" r="1.5" fill="#1d5b9c"/>
<circle cx="164.60" cy="327.50" r="1.5" fill="#1d5b9c"/>
<circle cx="167.00" cy="327.50" r="1.5" fill="#1d5b9c"/>
<circle cx="161.20" cy="329.50" r="1.5" fill="#1d5b9c"/>
<circle cx="163.80" cy="330.00" r="1.5" fill="#1d5b9c"/>
<circle cx="166.20" cy="329.50" r="1.5" fill="#1d5b9c"/>
<circle cx="163.00" cy="332.00" r="1.5" fill="#1d5b9c"/>
<circle cx="165.50" cy="332.50" r="1.5" fill="#1d5b9c"/>
<circle cx="164.40" cy="334.00" r="1.5" fill="#1d5b9c"/>
<circle cx="176.00" cy="291.80" r="1.5" fill="#c8102e"/>
<circle cx="180.50" cy="294.50" r="1.5" fill="#c8102e"/>
<circle cx="175.50" cy="298.50" r="1.5" fill="#c8102e"/>
<circle cx="177.80" cy="300.00" r="1.5" fill="#c8102e"/>
<circle cx="181.00" cy="300.50" r="1.5" fill="#c8102e"/>
<circle cx="176.50" cy="303.50" r="1.5" fill="#c8102e"/>
<circle cx="179.60" cy="302.50" r="1.5" fill="#c8102e"/>
<circle cx="177.50" cy="307.00" r="1.5" fill="#c8102e"/>
<circle cx="181.00" cy="306.50" r="1.5" fill="#c8102e"/>
<circle cx="176.00" cy="313.50" r="1.5" fill="#c8102e"/>
<circle cx="180.30" cy="313.50" r="1.5" fill="#c8102e"/>
<circle cx="176.20" cy="320.20" r="1.5" fill="#c8102e"/>
<circle cx="180.80" cy="320.50" r="1.5" fill="#c8102e"/>
<circle cx="176.00" cy="326.50" r="1.5" fill="#c8102e"/>
<circle cx="180.00" cy="326.00" r="1.5" fill="#c8102e"/>
<circle cx="189.50" cy="284.50" r="1.5" fill="#1d5b9c"/>
<circle cx="187.50" cy="291.50" r="1.5" fill="#1d5b9c"/>
<circle cx="191.50" cy="292.50" r="1.5" fill="#1d5b9c"/>
<circle cx="186.80" cy="297.00" r="1.5" fill="#1d5b9c"/>
<circle cx="189.20" cy="298.00" r="1.5" fill="#1d5b9c"/>
<circle cx="192.30" cy="297.00" r="1.5" fill="#1d5b9c"/>
<circle cx="188.00" cy="301.50" r="1.5" fill="#1d5b9c"/>
<circle cx="190.80" cy="301.00" r="1.5" fill="#1d5b9c"/>
<circle cx="187.00" cy="305.50" r="1.5" fill="#1d5b9c"/>
<circle cx="190.00" cy="305.50" r="1.5" fill="#1d5b9c"/>
<circle cx="192.50" cy="305.00" r="1.5" fill="#1d5b9c"/>
<circle cx="188.50" cy="310.00" r="1.5" fill="#1d5b9c"/>
<circle cx="191.80" cy="311.50" r="1.5" fill="#1d5b9c"/>
<circle cx="187.50" cy="317.50" r="1.5" fill="#1d5b9c"/>
<circle cx="192.00" cy="317.50" r="1.5" fill="#1d5b9c"/>
<text x="0" y="0" font-size="8.8" fill="#2c2c2c" stroke="#2c2c2c" stroke-width="0.12" text-anchor="middle" textLength="64.40" lengthAdjust="spacingAndGlyphs" transform="translate(120.90,316.95) rotate(-90)" >T cell division index</text>
<text x="0" y="0" font-size="8.6" fill="#2c2c2c" stroke="#2c2c2c" stroke-width="0.12" text-anchor="end" textLength="19.20" lengthAdjust="spacingAndGlyphs" transform="translate(167.20,368.60) rotate(-45)" >CD4<tspan dy="-3.10" font-size="6.02">+</tspan></text>
<text x="0" y="0" font-size="8.6" fill="#2c2c2c" stroke="#2c2c2c" stroke-width="0.12" text-anchor="end" textLength="19.20" lengthAdjust="spacingAndGlyphs" transform="translate(193.50,368.60) rotate(-45)" >CD8<tspan dy="-3.10" font-size="6.02">+</tspan></text>
<text x="227.20" y="273.60" font-size="9.7" fill="#000" font-weight="bold" >L</text>
<line x1="256.50" y1="275.80" x2="256.50" y2="361.10" stroke="#262626" stroke-width="1"/>
<line x1="253.20" y1="361.50" x2="256.00" y2="361.50" stroke="#262626" stroke-width="1"/>
<text x="251.10" y="364.72" font-size="8.4" fill="#2c2c2c" stroke="#2c2c2c" stroke-width="0.12" text-anchor="end" >0</text>
<line x1="253.20" y1="339.50" x2="256.00" y2="339.50" stroke="#262626" stroke-width="1"/>
<text x="251.10" y="343.52" font-size="8.4" fill="#2c2c2c" stroke="#2c2c2c" stroke-width="0.12" text-anchor="end" >5</text>
<line x1="253.20" y1="318.50" x2="256.00" y2="318.50" stroke="#262626" stroke-width="1"/>
<text x="251.10" y="322.32" font-size="8.4" fill="#2c2c2c" stroke="#2c2c2c" stroke-width="0.12" text-anchor="end" >10</text>
<line x1="253.20" y1="297.50" x2="256.00" y2="297.50" stroke="#262626" stroke-width="1"/>
<text x="251.10" y="301.12" font-size="8.4" fill="#2c2c2c" stroke="#2c2c2c" stroke-width="0.12" text-anchor="end" >15</text>
<line x1="253.20" y1="276.50" x2="256.00" y2="276.50" stroke="#262626" stroke-width="1"/>
<text x="251.10" y="279.92" font-size="8.4" fill="#2c2c2c" stroke="#2c2c2c" stroke-width="0.12" text-anchor="end" >20</text>
<line x1="256.00" y1="361.50" x2="313.00" y2="361.50" stroke="#262626" stroke-width="1"/>
<rect x="259.50" y="342.50" width="9.00" height="19.00" fill="#fff" stroke="#262626" stroke-width="1"/>
<line x1="263.50" y1="339.90" x2="263.50" y2="342.50" stroke="#262626" stroke-width="1"/>
<line x1="261.80" y1="339.50" x2="265.20" y2="339.50" stroke="#262626" stroke-width="1"/>
<rect x="271.50" y="336.50" width="9.00" height="25.00" fill="#c3c3c9" stroke="#262626" stroke-width="1"/>
<line x1="276.50" y1="332.30" x2="276.50" y2="336.50" stroke="#262626" stroke-width="1"/>
<line x1="274.80" y1="332.50" x2="278.20" y2="332.50" stroke="#262626" stroke-width="1"/>
<rect x="287.50" y="334.50" width="9.00" height="27.00" fill="#fff" stroke="#262626" stroke-width="1"/>
<line x1="292.50" y1="327.10" x2="292.50" y2="334.50" stroke="#262626" stroke-width="1"/>
<line x1="290.80" y1="327.50" x2="294.20" y2="327.50" stroke="#262626" stroke-width="1"/>
<rect x="300.50" y="326.50" width="9.00" height="35.00" fill="#c3c3c9" stroke="#262626" stroke-width="1"/>
<line x1="304.50" y1="319.20" x2="304.50" y2="326.50" stroke="#262626" stroke-width="1"/>
<line x1="302.80" y1="319.50" x2="306.20" y2="319.50" stroke="#262626" stroke-width="1"/>
<circle cx="264.10" cy="334.70" r="1.5" fill="#c8102e"/>
<circle cx="261.00" cy="340.40" r="1.5" fill="#c8102e"/>
<circle cx="263.30" cy="341.00" r="1.5" fill="#c8102e"/>
<circle cx="266.40" cy="339.90" r="1.5" fill="#c8102e"/>
<circle cx="262.50" cy="342.00" r="1.5" fill="#c8102e"/>
<circle cx="264.60" cy="353.00" r="1.5" fill="#c8102e"/>
<circle cx="276.20" cy="315.00" r="1.5" fill="#1d5b9c"/>
<circle cx="272.80" cy="338.20" r="1.5" fill="#1d5b9c"/>
<circle cx="276.20" cy="334.00" r="1.5" fill="#1d5b9c"/>
<circle cx="278.00" cy="336.50" r="1.5" fill="#1d5b9c"/>
<circle cx="275.40" cy="341.00" r="1.5" fill="#1d5b9c"/>
<circle cx="278.50" cy="343.00" r="1.5" fill="#1d5b9c"/>
<circle cx="276.20" cy="346.50" r="1.5" fill="#1d5b9c"/>
<circle cx="290.10" cy="314.20" r="1.5" fill="#c8102e"/>
<circle cx="294.00" cy="313.10" r="1.5" fill="#c8102e"/>
<circle cx="291.80" cy="321.80" r="1.5" fill="#c8102e"/>
<circle cx="291.80" cy="338.70" r="1.5" fill="#c8102e"/>
<circle cx="290.10" cy="344.40" r="1.5" fill="#c8102e"/>
<circle cx="294.00" cy="347.40" r="1.5" fill="#c8102e"/>
<circle cx="291.80" cy="355.50" r="1.5" fill="#c8102e"/>
<circle cx="304.40" cy="296.70" r="1.5" fill="#1d5b9c"/>
<circle cx="304.40" cy="314.20" r="1.5" fill="#1d5b9c"/>
<circle cx="304.40" cy="321.40" r="1.5" fill="#1d5b9c"/>
<circle cx="304.40" cy="326.60" r="1.5" fill="#1d5b9c"/>
<circle cx="304.40" cy="334.40" r="1.5" fill="#1d5b9c"/>
<circle cx="304.40" cy="339.60" r="1.5" fill="#1d5b9c"/>
<circle cx="304.40" cy="346.50" r="1.5" fill="#1d5b9c"/>
<text x="0" y="0" font-size="8.8" fill="#2c2c2c" stroke="#2c2c2c" stroke-width="0.12" text-anchor="middle" textLength="59.40" lengthAdjust="spacingAndGlyphs" transform="translate(237.10,315.35) rotate(-90)" >% apoptotic T cells</text>
<text x="0" y="0" font-size="8.6" fill="#2c2c2c" stroke="#2c2c2c" stroke-width="0.12" text-anchor="end" textLength="19.20" lengthAdjust="spacingAndGlyphs" transform="translate(280.80,368.60) rotate(-45)" >CD4<tspan dy="-3.10" font-size="6.02">+</tspan></text>
<text x="0" y="0" font-size="8.6" fill="#2c2c2c" stroke="#2c2c2c" stroke-width="0.12" text-anchor="end" textLength="19.20" lengthAdjust="spacingAndGlyphs" transform="translate(305.00,368.60) rotate(-45)" >CD8<tspan dy="-3.10" font-size="6.02">+</tspan></text>
<text x="335.40" y="273.60" font-size="9.7" fill="#000" font-weight="bold" >M</text>
<line x1="359.50" y1="277.88" x2="359.50" y2="361.10" stroke="#262626" stroke-width="1"/>
<line x1="356.50" y1="361.50" x2="359.30" y2="361.50" stroke="#262626" stroke-width="1"/>
<text x="354.40" y="364.72" font-size="8.4" fill="#2c2c2c" stroke="#2c2c2c" stroke-width="0.12" text-anchor="end" >0</text>
<line x1="356.50" y1="340.50" x2="359.30" y2="340.50" stroke="#262626" stroke-width="1"/>
<text x="354.40" y="344.04" font-size="8.4" fill="#2c2c2c" stroke="#2c2c2c" stroke-width="0.12" text-anchor="end" >2</text>
<line x1="356.50" y1="319.50" x2="359.30" y2="319.50" stroke="#262626" stroke-width="1"/>
<text x="354.40" y="323.36" font-size="8.4" fill="#2c2c2c" stroke="#2c2c2c" stroke-width="0.12" text-anchor="end" >4</text>
<line x1="356.50" y1="299.50" x2="359.30" y2="299.50" stroke="#262626" stroke-width="1"/>
<text x="354.40" y="302.68" font-size="8.4" fill="#2c2c2c" stroke="#2c2c2c" stroke-width="0.12" text-anchor="end" >6</text>
<line x1="356.50" y1="278.50" x2="359.30" y2="278.50" stroke="#262626" stroke-width="1"/>
<text x="354.40" y="282.00" font-size="8.4" fill="#2c2c2c" stroke="#2c2c2c" stroke-width="0.12" text-anchor="end" >8</text>
<line x1="359.30" y1="361.50" x2="393.60" y2="361.50" stroke="#262626" stroke-width="1"/>
<rect x="364.50" y="318.50" width="11.00" height="43.00" fill="#fff" stroke="#262626" stroke-width="1"/>
<line x1="369.50" y1="312.80" x2="369.50" y2="318.50" stroke="#262626" stroke-width="1"/>
<line x1="367.80" y1="312.50" x2="371.20" y2="312.50" stroke="#262626" stroke-width="1"/>
<rect x="379.50" y="329.50" width="12.00" height="32.00" fill="#c3c3c9" stroke="#262626" stroke-width="1"/>
<line x1="385.50" y1="324.30" x2="385.50" y2="329.50" stroke="#262626" stroke-width="1"/>
<line x1="383.80" y1="324.50" x2="387.20" y2="324.50" stroke="#262626" stroke-width="1"/>
<circle cx="370.30" cy="289.40" r="1.5" fill="#c8102e"/>
<circle cx="370.30" cy="299.30" r="1.5" fill="#c8102e"/>
<circle cx="367.90" cy="322.60" r="1.5" fill="#c8102e"/>
<circle cx="372.80" cy="325.00" r="1.5" fill="#c8102e"/>
<circle cx="372.00" cy="331.20" r="1.5" fill="#c8102e"/>
<circle cx="367.10" cy="329.20" r="1.5" fill="#c8102e"/>
<circle cx="369.10" cy="333.60" r="1.5" fill="#c8102e"/>
<circle cx="370.30" cy="338.50" r="1.5" fill="#c8102e"/>
<circle cx="385.00" cy="300.50" r="1.5" fill="#1d5b9c"/>
<circle cx="385.00" cy="321.80" r="1.5" fill="#1d5b9c"/>
<circle cx="384.30" cy="325.80" r="1.5" fill="#1d5b9c"/>
<circle cx="386.70" cy="327.50" r="1.5" fill="#1d5b9c"/>
<circle cx="382.60" cy="333.60" r="1.5" fill="#1d5b9c"/>
<circle cx="387.50" cy="333.60" r="1.5" fill="#1d5b9c"/>
<circle cx="384.30" cy="338.00" r="1.5" fill="#1d5b9c"/>
<circle cx="385.00" cy="345.40" r="1.5" fill="#1d5b9c"/>
<text x="0" y="0" font-size="8.8" fill="#2c2c2c" stroke="#2c2c2c" stroke-width="0.12" text-anchor="middle" textLength="72.90" lengthAdjust="spacingAndGlyphs" transform="translate(344.90,319.40) rotate(-90)" >NK cells ×10<tspan dy="-3.17" font-size="6.16">6</tspan><tspan dy="3.17"> / spleen</tspan></text>
<text x="0" y="0" font-size="8.6" fill="#2c2c2c" stroke="#2c2c2c" stroke-width="0.12" text-anchor="end" textLength="12.20" lengthAdjust="spacingAndGlyphs" transform="translate(372.60,369.70) rotate(-45)" >WT</text>
<text x="0" y="0" font-size="8.6" fill="#2c2c2c" stroke="#2c2c2c" stroke-width="0.12" text-anchor="end" textLength="23.80" lengthAdjust="spacingAndGlyphs" transform="translate(388.60,369.70) rotate(-45)" ><tspan font-style="italic">Ifnlr1</tspan><tspan dy="-3.10" font-size="6.02">–/–</tspan></text>
<text x="413.70" y="273.60" font-size="9.7" fill="#000" font-weight="bold" >N</text>
<line x1="444.50" y1="275.50" x2="444.50" y2="360.50" stroke="#262626" stroke-width="1"/>
<line x1="442.20" y1="360.50" x2="445.00" y2="360.50" stroke="#262626" stroke-width="1"/>
<text x="440.10" y="364.12" font-size="8.4" fill="#2c2c2c" stroke="#2c2c2c" stroke-width="0.12" text-anchor="end" >0.0</text>
<line x1="442.20" y1="343.50" x2="445.00" y2="343.50" stroke="#262626" stroke-width="1"/>
<text x="440.10" y="347.22" font-size="8.4" fill="#2c2c2c" stroke="#2c2c2c" stroke-width="0.12" text-anchor="end" >0.5</text>
<line x1="442.20" y1="326.50" x2="445.00" y2="326.50" stroke="#262626" stroke-width="1"/>
<text x="440.10" y="330.32" font-size="8.4" fill="#2c2c2c" stroke="#2c2c2c" stroke-width="0.12" text-anchor="end" >1.0</text>
<line x1="442.20" y1="309.50" x2="445.00" y2="309.50" stroke="#262626" stroke-width="1"/>
<text x="440.10" y="313.42" font-size="8.4" fill="#2c2c2c" stroke="#2c2c2c" stroke-width="0.12" text-anchor="end" >1.5</text>
<line x1="442.20" y1="292.50" x2="445.00" y2="292.50" stroke="#262626" stroke-width="1"/>
<text x="440.10" y="296.52" font-size="8.4" fill="#2c2c2c" stroke="#2c2c2c" stroke-width="0.12" text-anchor="end" >2.0</text>
<line x1="442.20" y1="276.50" x2="445.00" y2="276.50" stroke="#262626" stroke-width="1"/>
<text x="440.10" y="279.62" font-size="8.4" fill="#2c2c2c" stroke="#2c2c2c" stroke-width="0.12" text-anchor="end" >2.5</text>
<line x1="445.00" y1="360.50" x2="502.00" y2="360.50" stroke="#262626" stroke-width="1"/>
<rect x="448.50" y="350.50" width="10.00" height="10.00" fill="#fff" stroke="#262626" stroke-width="1"/>
<line x1="453.50" y1="347.50" x2="453.50" y2="350.50" stroke="#262626" stroke-width="1"/>
<line x1="451.80" y1="347.50" x2="455.20" y2="347.50" stroke="#262626" stroke-width="1"/>
<rect x="461.50" y="327.50" width="10.00" height="33.00" fill="#c3c3c9" stroke="#262626" stroke-width="1"/>
<line x1="466.50" y1="325.00" x2="466.50" y2="327.50" stroke="#262626" stroke-width="1"/>
<line x1="464.80" y1="324.50" x2="468.20" y2="324.50" stroke="#262626" stroke-width="1"/>
<rect x="476.50" y="315.50" width="10.00" height="45.00" fill="#fff" stroke="#262626" stroke-width="1"/>
<line x1="481.50" y1="313.40" x2="481.50" y2="315.50" stroke="#262626" stroke-width="1"/>
<line x1="479.80" y1="313.50" x2="483.20" y2="313.50" stroke="#262626" stroke-width="1"/>
<rect x="490.50" y="311.50" width="8.00" height="49.00" fill="#c3c3c9" stroke="#262626" stroke-width="1"/>
<line x1="494.50" y1="302.20" x2="494.50" y2="311.50" stroke="#262626" stroke-width="1"/>
<line x1="492.80" y1="302.50" x2="496.20" y2="302.50" stroke="#262626" stroke-width="1"/>
<circle cx="453.50" cy="336.70" r="1.5" fill="#c8102e"/>
<circle cx="455.20" cy="340.90" r="1.5" fill="#c8102e"/>
<circle cx="451.60" cy="344.60" r="1.5" fill="#c8102e"/>
<circle cx="456.00" cy="346.30" r="1.5" fill="#c8102e"/>
<circle cx="449.90" cy="350.70" r="1.5" fill="#c8102e"/>
<circle cx="454.00" cy="350.70" r="1.5" fill="#c8102e"/>
<circle cx="457.70" cy="351.20" r="1.5" fill="#c8102e"/>
<circle cx="450.30" cy="355.60" r="1.5" fill="#c8102e"/>
<circle cx="454.00" cy="356.10" r="1.5" fill="#c8102e"/>
<circle cx="457.70" cy="354.40" r="1.5" fill="#c8102e"/>
<circle cx="465.80" cy="306.60" r="1.5" fill="#1d5b9c"/>
<circle cx="463.80" cy="325.70" r="1.5" fill="#1d5b9c"/>
<circle cx="468.70" cy="325.70" r="1.5" fill="#1d5b9c"/>
<circle cx="463.30" cy="331.10" r="1.5" fill="#1d5b9c"/>
<circle cx="470.00" cy="331.10" r="1.5" fill="#1d5b9c"/>
<circle cx="463.80" cy="337.20" r="1.5" fill="#1d5b9c"/>
<circle cx="469.20" cy="336.50" r="1.5" fill="#1d5b9c"/>
<circle cx="466.50" cy="329.00" r="1.5" fill="#1d5b9c"/>
<circle cx="481.00" cy="304.90" r="1.5" fill="#c8102e"/>
<circle cx="478.50" cy="310.20" r="1.5" fill="#c8102e"/>
<circle cx="483.90" cy="310.20" r="1.5" fill="#c8102e"/>
<circle cx="478.50" cy="315.10" r="1.5" fill="#c8102e"/>
<circle cx="483.40" cy="315.10" r="1.5" fill="#c8102e"/>
<circle cx="481.00" cy="320.00" r="1.5" fill="#c8102e"/>
<circle cx="480.50" cy="313.00" r="1.5" fill="#c8102e"/>
<circle cx="485.00" cy="318.00" r="1.5" fill="#c8102e"/>
<circle cx="493.70" cy="286.50" r="1.5" fill="#1d5b9c"/>
<circle cx="490.30" cy="296.30" r="1.5" fill="#1d5b9c"/>
<circle cx="498.10" cy="296.30" r="1.5" fill="#1d5b9c"/>
<circle cx="494.50" cy="299.20" r="1.5" fill="#1d5b9c"/>
<circle cx="496.20" cy="306.60" r="1.5" fill="#1d5b9c"/>
<circle cx="493.20" cy="354.40" r="1.5" fill="#1d5b9c"/>
<circle cx="493.70" cy="358.00" r="1.5" fill="#1d5b9c"/>
<line x1="448.60" y1="276.40" x2="471.70" y2="276.40" stroke="#4a4a4a" stroke-width="1.25"/>
<text x="460.15" y="277.80" font-size="7.5" fill="#333" stroke="#333" stroke-width="0.12" text-anchor="middle" ></text>
<path d="M453.15,270.75L453.15,273.65M454.41,271.48L451.89,272.93M454.41,272.93L451.89,271.48" stroke="#222" stroke-width="1.0" stroke-linecap="round"/>
<circle cx="453.15" cy="272.20" r="0.8" fill="#222"/>
<path d="M457.45,270.75L457.45,273.65M458.71,271.48L456.19,272.93M458.71,272.93L456.19,271.48" stroke="#222" stroke-width="1.0" stroke-linecap="round"/>
<circle cx="457.45" cy="272.20" r="0.8" fill="#222"/>
<path d="M461.75,270.75L461.75,273.65M463.01,271.48L460.49,272.93M463.01,272.93L460.49,271.48" stroke="#222" stroke-width="1.0" stroke-linecap="round"/>
<circle cx="461.75" cy="272.20" r="0.8" fill="#222"/>
<path d="M466.05,270.75L466.05,273.65M467.31,271.48L464.79,272.93M467.31,272.93L464.79,271.48" stroke="#222" stroke-width="1.0" stroke-linecap="round"/>
<circle cx="466.05" cy="272.20" r="0.8" fill="#222"/>
<text x="0" y="0" font-size="8.8" fill="#2c2c2c" stroke="#2c2c2c" stroke-width="0.12" text-anchor="middle" textLength="44.80" lengthAdjust="spacingAndGlyphs" transform="translate(425.00,319.45) rotate(-90)" >IFNγ (ng/mL)</text>
<text x="0" y="0" font-size="8.6" fill="#2c2c2c" stroke="#2c2c2c" stroke-width="0.12" text-anchor="end" textLength="26.00" lengthAdjust="spacingAndGlyphs" transform="translate(467.30,369.40) rotate(-45)" >Isotype</text>
<text x="0" y="0" font-size="8.6" fill="#2c2c2c" stroke="#2c2c2c" stroke-width="0.12" text-anchor="end" textLength="26.00" lengthAdjust="spacingAndGlyphs" transform="translate(494.80,370.40) rotate(-45)" >αNK1.1</text>
<text x="10.20" y="406.60" font-size="9.7" fill="#000" font-weight="bold" >O</text>
<line x1="20.50" y1="493.70" x2="20.50" y2="411.50" stroke="#222" stroke-width="0.9"/>
<polygon points="20.5,406.8 18.3,413.8 22.7,413.8" fill="#222"/>
<text x="0" y="0" font-size="10.6" fill="#2c2c2c" stroke="#2c2c2c" stroke-width="0.12" text-anchor="middle" textLength="31.70" lengthAdjust="spacingAndGlyphs" transform="translate(18.20,460.00) rotate(-90)" >CD45.1</text>
<line x1="33.80" y1="507.00" x2="222.00" y2="507.00" stroke="#222" stroke-width="0.9"/>
<polygon points="227.5,507 220.5,504.8 220.5,509.2" fill="#222"/>
<text x="95.00" y="516.90" font-size="9.4" fill="#333" stroke="#333" stroke-width="0.12" textLength="31.80" lengthAdjust="spacingAndGlyphs" >CD45.2</text>
<defs><clipPath id="clipO1"><rect x="38.3" y="405.2" width="89.2" height="89.60000000000002"/></clipPath></defs>
<rect x="38.30" y="405.20" width="89.20" height="89.60" fill="#fff"/>
<g clip-path="url(#clipO1)">
<path fill="#888" d="M62.3 432.5h0.6v0.6h-0.6zM60.6 449.5h0.6v0.6h-0.6zM57.7 438.7h0.6v0.6h-0.6zM43.3 431.8h0.6v0.6h-0.6zM59.7 430.4h0.6v0.6h-0.6zM69.5 440.9h0.6v0.6h-0.6zM88.9 487.5h0.6v0.6h-0.6zM85.2 473.6h0.6v0.6h-0.6zM84.5 477.2h0.6v0.6h-0.6zM72.5 480.0h0.6v0.6h-0.6zM90.4 433.6h0.6v0.6h-0.6zM54.4 440.3h0.6v0.6h-0.6zM67.7 441.5h0.6v0.6h-0.6zM58.1 455.6h0.6v0.6h-0.6zM38.6 446.3h0.6v0.6h-0.6zM86.0 486.4h0.6v0.6h-0.6zM56.7 437.3h0.6v0.6h-0.6zM68.7 432.1h0.6v0.6h-0.6zM51.0 431.7h0.6v0.6h-0.6zM83.0 443.4h0.6v0.6h-0.6zM52.4 438.1h0.6v0.6h-0.6zM84.8 460.3h0.6v0.6h-0.6zM41.3 445.8h0.6v0.6h-0.6zM78.1 478.5h0.6v0.6h-0.6zM78.4 479.5h0.6v0.6h-0.6zM71.9 448.7h0.6v0.6h-0.6zM60.8 432.6h0.6v0.6h-0.6zM70.4 445.9h0.6v0.6h-0.6zM69.4 486.6h0.6v0.6h-0.6zM65.4 452.5h0.6v0.6h-0.6zM95.0 480.2h0.6v0.6h-0.6zM88.1 464.5h0.6v0.6h-0.6zM87.9 481.6h0.6v0.6h-0.6zM85.3 436.8h0.6v0.6h-0.6zM68.8 450.4h0.6v0.6h-0.6zM97.1 476.4h0.6v0.6h-0.6zM78.5 441.7h0.6v0.6h-0.6zM78.7 481.8h0.6v0.6h-0.6zM87.3 439.0h0.6v0.6h-0.6zM87.0 450.2h0.6v0.6h-0.6zM94.3 483.0h0.6v0.6h-0.6zM103.7 487.2h0.6v0.6h-0.6zM57.5 445.3h0.6v0.6h-0.6zM70.7 451.5h0.6v0.6h-0.6zM47.6 442.8h0.6v0.6h-0.6zM55.3 453.6h0.6v0.6h-0.6zM85.1 487.6h0.6v0.6h-0.6zM79.7 479.0h0.6v0.6h-0.6zM63.9 448.2h0.6v0.6h-0.6zM93.5 433.5h0.6v0.6h-0.6zM52.1 440.1h0.6v0.6h-0.6zM84.9 459.9h0.6v0.6h-0.6zM72.3 483.1h0.6v0.6h-0.6zM78.3 443.9h0.6v0.6h-0.6zM69.8 475.1h0.6v0.6h-0.6zM81.9 455.2h0.6v0.6h-0.6zM61.4 459.6h0.6v0.6h-0.6zM55.7 447.5h0.6v0.6h-0.6zM55.8 441.6h0.6v0.6h-0.6zM81.5 482.4h0.6v0.6h-0.6zM76.4 480.6h0.6v0.6h-0.6zM79.1 428.5h0.6v0.6h-0.6zM86.2 476.3h0.6v0.6h-0.6zM81.4 443.1h0.6v0.6h-0.6zM40.5 431.2h0.6v0.6h-0.6zM76.5 442.2h0.6v0.6h-0.6zM87.0 437.2h0.6v0.6h-0.6zM85.6 487.0h0.6v0.6h-0.6zM49.4 441.6h0.6v0.6h-0.6zM79.2 446.5h0.6v0.6h-0.6zM83.6 460.8h0.6v0.6h-0.6zM67.2 442.2h0.6v0.6h-0.6zM84.6 483.0h0.6v0.6h-0.6zM90.5 450.0h0.6v0.6h-0.6zM63.6 444.8h0.6v0.6h-0.6zM79.4 462.4h0.6v0.6h-0.6zM92.5 457.6h0.6v0.6h-0.6zM92.1 490.3h0.6v0.6h-0.6zM85.4 455.1h0.6v0.6h-0.6zM69.1 444.0h0.6v0.6h-0.6zM68.0 454.8h0.6v0.6h-0.6zM80.5 451.4h0.6v0.6h-0.6zM60.7 462.4h0.6v0.6h-0.6zM70.8 431.5h0.6v0.6h-0.6zM93.8 483.5h0.6v0.6h-0.6zM91.7 477.5h0.6v0.6h-0.6zM84.8 440.6h0.6v0.6h-0.6zM80.0 430.7h0.6v0.6h-0.6zM54.6 452.6h0.6v0.6h-0.6zM100.4 476.0h0.6v0.6h-0.6zM78.0 439.1h0.6v0.6h-0.6zM52.3 433.8h0.6v0.6h-0.6zM91.5 473.9h0.6v0.6h-0.6zM78.2 443.2h0.6v0.6h-0.6zM60.9 457.2h0.6v0.6h-0.6zM71.5 449.5h0.6v0.6h-0.6zM84.9 475.7h0.6v0.6h-0.6zM101.1 471.0h0.6v0.6h-0.6zM91.3 488.8h0.6v0.6h-0.6zM55.7 450.5h0.6v0.6h-0.6zM91.5 485.2h0.6v0.6h-0.6zM69.1 448.6h0.6v0.6h-0.6zM92.7 466.3h0.6v0.6h-0.6zM79.7 480.6h0.6v0.6h-0.6zM47.2 435.8h0.6v0.6h-0.6zM88.4 440.6h0.6v0.6h-0.6zM81.7 487.0h0.6v0.6h-0.6zM103.2 491.2h0.6v0.6h-0.6zM96.0 477.7h0.6v0.6h-0.6zM92.7 484.6h0.6v0.6h-0.6zM78.3 441.2h0.6v0.6h-0.6zM49.7 445.4h0.6v0.6h-0.6zM76.6 476.7h0.6v0.6h-0.6zM71.6 489.0h0.6v0.6h-0.6zM60.9 435.1h0.6v0.6h-0.6zM70.0 434.0h0.6v0.6h-0.6zM91.8 460.1h0.6v0.6h-0.6zM88.3 481.0h0.6v0.6h-0.6zM97.0 473.0h0.6v0.6h-0.6zM86.5 436.3h0.6v0.6h-0.6zM52.7 448.4h0.6v0.6h-0.6zM55.7 438.7h0.6v0.6h-0.6zM77.4 463.2h0.6v0.6h-0.6zM81.8 484.5h0.6v0.6h-0.6zM65.5 448.7h0.6v0.6h-0.6zM67.2 441.1h0.6v0.6h-0.6zM77.1 445.5h0.6v0.6h-0.6zM80.0 475.6h0.6v0.6h-0.6zM86.0 450.6h0.6v0.6h-0.6zM92.5 445.6h0.6v0.6h-0.6zM96.7 481.9h0.6v0.6h-0.6zM79.3 475.7h0.6v0.6h-0.6zM65.8 448.1h0.6v0.6h-0.6zM72.3 439.8h0.6v0.6h-0.6zM88.4 483.2h0.6v0.6h-0.6zM68.0 435.1h0.6v0.6h-0.6zM87.8 438.7h0.6v0.6h-0.6zM52.9 443.8h0.6v0.6h-0.6zM70.6 434.4h0.6v0.6h-0.6zM72.4 445.0h0.6v0.6h-0.6zM42.8 470.6h0.6v0.6h-0.6zM59.6 461.3h0.6v0.6h-0.6zM94.0 447.7h0.6v0.6h-0.6zM85.5 435.5h0.6v0.6h-0.6zM58.8 434.7h0.6v0.6h-0.6zM92.9 476.3h0.6v0.6h-0.6zM55.6 437.6h0.6v0.6h-0.6zM89.7 453.2h0.6v0.6h-0.6zM83.2 455.2h0.6v0.6h-0.6zM73.9 493.1h0.6v0.6h-0.6zM68.5 457.1h0.6v0.6h-0.6zM67.3 444.4h0.6v0.6h-0.6zM66.0 458.5h0.6v0.6h-0.6zM57.9 439.7h0.6v0.6h-0.6zM67.2 451.0h0.6v0.6h-0.6zM44.1 446.9h0.6v0.6h-0.6zM56.9 459.6h0.6v0.6h-0.6zM61.4 460.4h0.6v0.6h-0.6zM48.2 441.1h0.6v0.6h-0.6zM82.4 437.5h0.6v0.6h-0.6zM76.0 478.6h0.6v0.6h-0.6zM83.1 485.8h0.6v0.6h-0.6zM69.0 452.9h0.6v0.6h-0.6zM79.2 472.7h0.6v0.6h-0.6zM76.9 448.2h0.6v0.6h-0.6zM85.6 468.3h0.6v0.6h-0.6zM67.7 490.2h0.6v0.6h-0.6zM73.1 484.7h0.6v0.6h-0.6zM88.2 437.3h0.6v0.6h-0.6zM89.4 478.7h0.6v0.6h-0.6zM91.2 480.8h0.6v0.6h-0.6zM61.6 435.2h0.6v0.6h-0.6zM94.0 440.1h0.6v0.6h-0.6zM64.7 457.8h0.6v0.6h-0.6zM90.9 471.0h0.6v0.6h-0.6zM75.0 444.2h0.6v0.6h-0.6zM94.3 473.8h0.6v0.6h-0.6zM59.2 451.2h0.6v0.6h-0.6zM99.4 447.3h0.6v0.6h-0.6zM52.8 432.5h0.6v0.6h-0.6zM92.8 427.1h0.6v0.6h-0.6zM43.1 449.8h0.6v0.6h-0.6zM79.7 474.4h0.6v0.6h-0.6zM86.0 437.4h0.6v0.6h-0.6zM89.4 445.1h0.6v0.6h-0.6zM59.9 447.0h0.6v0.6h-0.6zM91.1 483.7h0.6v0.6h-0.6zM89.5 467.8h0.6v0.6h-0.6zM82.9 473.1h0.6v0.6h-0.6zM80.4 481.6h0.6v0.6h-0.6zM83.4 479.5h0.6v0.6h-0.6zM83.6 484.3h0.6v0.6h-0.6zM86.3 480.7h0.6v0.6h-0.6zM72.4 439.2h0.6v0.6h-0.6zM78.0 446.6h0.6v0.6h-0.6zM78.2 473.2h0.6v0.6h-0.6zM70.5 451.9h0.6v0.6h-0.6zM77.5 447.9h0.6v0.6h-0.6zM90.5 441.7h0.6v0.6h-0.6zM44.2 444.8h0.6v0.6h-0.6zM61.1 447.0h0.6v0.6h-0.6zM85.0 479.7h0.6v0.6h-0.6zM54.5 456.4h0.6v0.6h-0.6zM89.5 481.9h0.6v0.6h-0.6zM50.2 435.4h0.6v0.6h-0.6zM63.5 447.8h0.6v0.6h-0.6zM80.6 475.7h0.6v0.6h-0.6zM87.0 479.6h0.6v0.6h-0.6zM59.1 429.1h0.6v0.6h-0.6zM50.9 437.5h0.6v0.6h-0.6zM66.5 448.8h0.6v0.6h-0.6zM85.6 480.7h0.6v0.6h-0.6zM91.0 485.4h0.6v0.6h-0.6zM57.8 451.3h0.6v0.6h-0.6zM59.3 455.8h0.6v0.6h-0.6zM82.9 441.6h0.6v0.6h-0.6zM90.7 468.8h0.6v0.6h-0.6zM80.5 486.4h0.6v0.6h-0.6zM56.5 438.9h0.6v0.6h-0.6zM64.4 437.7h0.6v0.6h-0.6zM86.3 476.3h0.6v0.6h-0.6zM90.8 474.1h0.6v0.6h-0.6zM77.5 479.7h0.6v0.6h-0.6zM88.6 448.5h0.6v0.6h-0.6zM96.0 453.1h0.6v0.6h-0.6zM43.0 445.5h0.6v0.6h-0.6zM84.9 471.8h0.6v0.6h-0.6zM84.6 479.9h0.6v0.6h-0.6zM91.1 476.1h0.6v0.6h-0.6zM44.8 433.0h0.6v0.6h-0.6zM82.3 433.0h0.6v0.6h-0.6zM72.4 444.1h0.6v0.6h-0.6zM76.2 478.6h0.6v0.6h-0.6zM83.7 464.9h0.6v0.6h-0.6zM71.2 454.2h0.6v0.6h-0.6zM88.9 484.6h0.6v0.6h-0.6zM86.5 472.7h0.6v0.6h-0.6zM51.1 439.1h0.6v0.6h-0.6zM64.0 440.3h0.6v0.6h-0.6zM71.7 441.0h0.6v0.6h-0.6zM81.8 490.9h0.6v0.6h-0.6zM69.6 444.7h0.6v0.6h-0.6zM80.7 471.3h0.6v0.6h-0.6zM81.9 480.1h0.6v0.6h-0.6zM93.6 478.3h0.6v0.6h-0.6zM62.7 453.6h0.6v0.6h-0.6zM74.2 481.4h0.6v0.6h-0.6zM87.1 477.3h0.6v0.6h-0.6zM64.4 440.0h0.6v0.6h-0.6zM76.5 450.8h0.6v0.6h-0.6zM66.6 451.7h0.6v0.6h-0.6zM81.1 466.3h0.6v0.6h-0.6zM58.9 455.3h0.6v0.6h-0.6zM73.3 437.8h0.6v0.6h-0.6zM62.5 439.9h0.6v0.6h-0.6zM82.4 485.5h0.6v0.6h-0.6zM95.2 441.8h0.6v0.6h-0.6zM61.1 451.9h0.6v0.6h-0.6zM83.4 477.1h0.6v0.6h-0.6zM65.7 437.0h0.6v0.6h-0.6zM49.4 438.0h0.6v0.6h-0.6zM77.4 485.4h0.6v0.6h-0.6zM43.1 447.4h0.6v0.6h-0.6zM62.3 437.1h0.6v0.6h-0.6zM57.3 453.1h0.6v0.6h-0.6zM87.1 471.3h0.6v0.6h-0.6zM86.1 447.9h0.6v0.6h-0.6zM92.4 451.5h0.6v0.6h-0.6zM52.8 442.0h0.6v0.6h-0.6zM53.6 441.0h0.6v0.6h-0.6zM74.9 450.9h0.6v0.6h-0.6zM81.1 478.4h0.6v0.6h-0.6zM98.4 447.3h0.6v0.6h-0.6zM86.9 482.8h0.6v0.6h-0.6zM89.3 481.7h0.6v0.6h-0.6zM73.1 445.8h0.6v0.6h-0.6zM87.9 439.9h0.6v0.6h-0.6zM88.5 474.9h0.6v0.6h-0.6zM78.5 476.2h0.6v0.6h-0.6zM56.9 439.3h0.6v0.6h-0.6zM68.5 450.5h0.6v0.6h-0.6zM47.9 446.9h0.6v0.6h-0.6zM77.3 432.5h0.6v0.6h-0.6zM75.3 489.4h0.6v0.6h-0.6zM72.1 480.9h0.6v0.6h-0.6zM76.3 442.7h0.6v0.6h-0.6zM40.3 461.4h0.6v0.6h-0.6zM84.1 481.1h0.6v0.6h-0.6zM84.4 445.8h0.6v0.6h-0.6zM89.8 454.7h0.6v0.6h-0.6zM85.1 474.5h0.6v0.6h-0.6zM68.2 453.9h0.6v0.6h-0.6zM88.0 439.6h0.6v0.6h-0.6zM84.5 479.2h0.6v0.6h-0.6zM68.3 450.9h0.6v0.6h-0.6zM81.4 445.5h0.6v0.6h-0.6zM94.8 452.0h0.6v0.6h-0.6zM52.7 445.9h0.6v0.6h-0.6zM57.1 464.3h0.6v0.6h-0.6zM85.9 455.9h0.6v0.6h-0.6zM88.9 485.4h0.6v0.6h-0.6z"/>
<path fill="#999" d="M88.4 482.8h0.6v0.6h-0.6zM86.3 476.6h0.6v0.6h-0.6zM80.4 439.6h0.6v0.6h-0.6zM91.4 482.8h0.6v0.6h-0.6zM87.8 479.7h0.6v0.6h-0.6zM92.6 480.0h0.6v0.6h-0.6zM79.5 444.4h0.6v0.6h-0.6zM80.4 484.4h0.6v0.6h-0.6zM67.5 448.6h0.6v0.6h-0.6zM81.3 476.7h0.6v0.6h-0.6zM94.4 478.1h0.6v0.6h-0.6zM82.9 488.7h0.6v0.6h-0.6zM88.9 466.9h0.6v0.6h-0.6zM104.9 499.4h0.6v0.6h-0.6zM85.6 482.6h0.6v0.6h-0.6zM81.9 432.3h0.6v0.6h-0.6zM72.6 488.2h0.6v0.6h-0.6zM73.3 452.1h0.6v0.6h-0.6zM81.7 461.9h0.6v0.6h-0.6zM62.9 443.1h0.6v0.6h-0.6zM73.5 438.0h0.6v0.6h-0.6zM78.2 482.3h0.6v0.6h-0.6zM86.7 475.3h0.6v0.6h-0.6zM70.0 448.8h0.6v0.6h-0.6zM62.0 458.0h0.6v0.6h-0.6zM86.5 478.4h0.6v0.6h-0.6zM81.4 437.2h0.6v0.6h-0.6zM49.4 446.7h0.6v0.6h-0.6zM84.0 467.5h0.6v0.6h-0.6zM89.9 439.0h0.6v0.6h-0.6zM85.7 427.8h0.6v0.6h-0.6zM81.9 437.5h0.6v0.6h-0.6zM55.8 443.7h0.6v0.6h-0.6zM68.8 451.2h0.6v0.6h-0.6zM68.7 444.5h0.6v0.6h-0.6zM75.4 453.4h0.6v0.6h-0.6zM92.2 434.5h0.6v0.6h-0.6zM76.6 448.4h0.6v0.6h-0.6zM65.4 438.6h0.6v0.6h-0.6zM65.8 438.6h0.6v0.6h-0.6zM84.0 483.6h0.6v0.6h-0.6zM96.3 489.8h0.6v0.6h-0.6zM80.3 475.2h0.6v0.6h-0.6zM82.0 439.3h0.6v0.6h-0.6zM67.1 453.2h0.6v0.6h-0.6zM54.5 449.5h0.6v0.6h-0.6zM76.3 477.7h0.6v0.6h-0.6zM75.0 429.6h0.6v0.6h-0.6zM70.8 456.3h0.6v0.6h-0.6zM60.1 430.7h0.6v0.6h-0.6zM60.7 463.8h0.6v0.6h-0.6zM45.6 441.1h0.6v0.6h-0.6zM67.4 447.3h0.6v0.6h-0.6zM101.9 423.1h0.6v0.6h-0.6zM88.4 476.4h0.6v0.6h-0.6zM80.2 446.4h0.6v0.6h-0.6zM65.4 450.8h0.6v0.6h-0.6zM48.9 441.2h0.6v0.6h-0.6zM56.1 445.0h0.6v0.6h-0.6zM81.6 485.5h0.6v0.6h-0.6zM85.3 474.6h0.6v0.6h-0.6zM70.8 448.8h0.6v0.6h-0.6zM52.0 458.4h0.6v0.6h-0.6zM56.2 448.0h0.6v0.6h-0.6zM80.2 455.8h0.6v0.6h-0.6zM71.2 480.3h0.6v0.6h-0.6zM76.3 484.2h0.6v0.6h-0.6zM62.3 438.5h0.6v0.6h-0.6zM74.3 445.2h0.6v0.6h-0.6zM62.5 456.5h0.6v0.6h-0.6zM54.0 447.6h0.6v0.6h-0.6zM79.9 490.6h0.6v0.6h-0.6zM68.7 449.0h0.6v0.6h-0.6zM49.0 454.3h0.6v0.6h-0.6zM66.8 448.2h0.6v0.6h-0.6zM60.3 444.6h0.6v0.6h-0.6zM87.1 465.6h0.6v0.6h-0.6zM93.0 481.3h0.6v0.6h-0.6zM73.1 443.9h0.6v0.6h-0.6zM80.2 439.2h0.6v0.6h-0.6zM71.1 445.5h0.6v0.6h-0.6zM48.8 445.7h0.6v0.6h-0.6zM76.4 447.5h0.6v0.6h-0.6zM99.1 481.4h0.6v0.6h-0.6zM67.4 481.0h0.6v0.6h-0.6zM67.5 441.9h0.6v0.6h-0.6zM86.4 484.7h0.6v0.6h-0.6zM56.0 452.6h0.6v0.6h-0.6zM63.6 452.0h0.6v0.6h-0.6zM75.5 443.7h0.6v0.6h-0.6zM93.2 485.2h0.6v0.6h-0.6zM84.1 483.1h0.6v0.6h-0.6zM83.3 486.9h0.6v0.6h-0.6zM85.4 439.9h0.6v0.6h-0.6zM68.9 456.2h0.6v0.6h-0.6zM89.4 485.7h0.6v0.6h-0.6zM86.4 475.6h0.6v0.6h-0.6zM77.7 456.8h0.6v0.6h-0.6zM84.9 486.9h0.6v0.6h-0.6zM59.8 447.2h0.6v0.6h-0.6zM72.9 433.4h0.6v0.6h-0.6zM78.8 481.5h0.6v0.6h-0.6zM95.1 477.2h0.6v0.6h-0.6zM92.4 492.0h0.6v0.6h-0.6zM90.5 459.7h0.6v0.6h-0.6zM87.1 480.5h0.6v0.6h-0.6zM70.6 445.5h0.6v0.6h-0.6zM85.1 432.3h0.6v0.6h-0.6zM88.4 441.6h0.6v0.6h-0.6zM85.1 459.9h0.6v0.6h-0.6zM86.8 476.0h0.6v0.6h-0.6zM75.4 458.7h0.6v0.6h-0.6zM71.9 438.8h0.6v0.6h-0.6zM76.1 441.2h0.6v0.6h-0.6zM83.7 441.0h0.6v0.6h-0.6zM78.2 471.7h0.6v0.6h-0.6zM83.2 482.7h0.6v0.6h-0.6zM79.6 478.9h0.6v0.6h-0.6zM61.1 440.5h0.6v0.6h-0.6zM93.2 433.4h0.6v0.6h-0.6zM48.4 438.6h0.6v0.6h-0.6zM85.3 461.4h0.6v0.6h-0.6zM95.2 428.8h0.6v0.6h-0.6zM86.0 475.1h0.6v0.6h-0.6zM86.4 435.1h0.6v0.6h-0.6zM87.5 475.2h0.6v0.6h-0.6zM76.1 452.5h0.6v0.6h-0.6zM45.9 436.4h0.6v0.6h-0.6zM56.9 444.3h0.6v0.6h-0.6zM48.0 444.6h0.6v0.6h-0.6zM53.2 447.4h0.6v0.6h-0.6zM88.3 482.2h0.6v0.6h-0.6zM81.8 458.0h0.6v0.6h-0.6zM43.9 450.0h0.6v0.6h-0.6zM84.6 442.5h0.6v0.6h-0.6zM78.3 480.6h0.6v0.6h-0.6zM83.1 456.3h0.6v0.6h-0.6zM63.1 451.7h0.6v0.6h-0.6zM92.7 481.7h0.6v0.6h-0.6zM86.9 457.4h0.6v0.6h-0.6zM80.4 483.6h0.6v0.6h-0.6zM81.6 477.7h0.6v0.6h-0.6zM74.5 449.5h0.6v0.6h-0.6zM74.6 435.4h0.6v0.6h-0.6zM80.1 483.8h0.6v0.6h-0.6zM63.9 436.1h0.6v0.6h-0.6zM71.6 447.0h0.6v0.6h-0.6zM71.7 449.5h0.6v0.6h-0.6zM59.6 445.5h0.6v0.6h-0.6zM77.5 443.4h0.6v0.6h-0.6zM83.1 459.0h0.6v0.6h-0.6zM57.9 433.9h0.6v0.6h-0.6zM86.8 473.1h0.6v0.6h-0.6zM91.8 451.9h0.6v0.6h-0.6zM64.7 444.0h0.6v0.6h-0.6zM47.0 438.6h0.6v0.6h-0.6zM90.4 463.4h0.6v0.6h-0.6zM90.1 474.2h0.6v0.6h-0.6zM43.2 435.0h0.6v0.6h-0.6zM46.8 462.2h0.6v0.6h-0.6zM91.0 472.5h0.6v0.6h-0.6zM91.1 437.5h0.6v0.6h-0.6zM86.2 444.7h0.6v0.6h-0.6zM67.4 448.6h0.6v0.6h-0.6zM58.8 463.5h0.6v0.6h-0.6zM87.0 445.7h0.6v0.6h-0.6zM61.2 447.0h0.6v0.6h-0.6zM69.3 448.5h0.6v0.6h-0.6zM62.7 438.9h0.6v0.6h-0.6zM62.8 452.2h0.6v0.6h-0.6zM50.4 438.6h0.6v0.6h-0.6zM86.3 431.7h0.6v0.6h-0.6zM74.9 488.6h0.6v0.6h-0.6zM79.6 442.1h0.6v0.6h-0.6zM86.0 485.1h0.6v0.6h-0.6zM58.3 439.3h0.6v0.6h-0.6zM76.9 444.3h0.6v0.6h-0.6zM59.5 436.3h0.6v0.6h-0.6zM75.4 435.3h0.6v0.6h-0.6zM56.6 447.3h0.6v0.6h-0.6zM67.4 480.5h0.6v0.6h-0.6zM88.9 453.9h0.6v0.6h-0.6zM62.7 458.2h0.6v0.6h-0.6zM78.3 446.5h0.6v0.6h-0.6zM85.2 448.4h0.6v0.6h-0.6zM100.6 481.9h0.6v0.6h-0.6zM80.4 480.4h0.6v0.6h-0.6zM84.7 446.0h0.6v0.6h-0.6zM87.2 487.5h0.6v0.6h-0.6zM81.7 482.9h0.6v0.6h-0.6zM73.3 455.4h0.6v0.6h-0.6zM60.7 457.8h0.6v0.6h-0.6zM68.7 457.8h0.6v0.6h-0.6zM57.3 441.0h0.6v0.6h-0.6zM54.1 433.0h0.6v0.6h-0.6zM79.2 444.6h0.6v0.6h-0.6zM70.3 447.9h0.6v0.6h-0.6zM49.2 432.3h0.6v0.6h-0.6zM69.1 447.1h0.6v0.6h-0.6zM79.7 487.0h0.6v0.6h-0.6zM53.8 439.4h0.6v0.6h-0.6zM79.9 448.2h0.6v0.6h-0.6zM80.3 476.9h0.6v0.6h-0.6zM84.3 484.6h0.6v0.6h-0.6zM48.0 439.8h0.6v0.6h-0.6zM79.8 444.7h0.6v0.6h-0.6zM85.0 485.0h0.6v0.6h-0.6zM83.4 468.7h0.6v0.6h-0.6zM91.2 466.0h0.6v0.6h-0.6zM59.8 431.6h0.6v0.6h-0.6zM81.0 443.5h0.6v0.6h-0.6zM93.6 463.6h0.6v0.6h-0.6zM42.9 468.6h0.6v0.6h-0.6zM84.0 465.3h0.6v0.6h-0.6zM85.4 457.5h0.6v0.6h-0.6zM91.6 481.7h0.6v0.6h-0.6zM78.1 476.3h0.6v0.6h-0.6zM92.3 489.8h0.6v0.6h-0.6zM40.1 441.7h0.6v0.6h-0.6zM82.6 479.6h0.6v0.6h-0.6zM89.4 487.8h0.6v0.6h-0.6zM78.0 438.0h0.6v0.6h-0.6zM71.3 445.6h0.6v0.6h-0.6zM80.5 470.5h0.6v0.6h-0.6zM95.4 449.8h0.6v0.6h-0.6zM52.2 463.3h0.6v0.6h-0.6zM86.4 482.8h0.6v0.6h-0.6zM88.3 468.0h0.6v0.6h-0.6zM76.9 462.5h0.6v0.6h-0.6zM90.2 459.1h0.6v0.6h-0.6zM102.0 472.0h0.6v0.6h-0.6zM43.9 441.6h0.6v0.6h-0.6zM87.2 434.2h0.6v0.6h-0.6zM88.0 473.5h0.6v0.6h-0.6zM81.6 476.5h0.6v0.6h-0.6zM61.8 441.3h0.6v0.6h-0.6zM88.9 478.8h0.6v0.6h-0.6zM77.7 444.7h0.6v0.6h-0.6zM88.9 472.4h0.6v0.6h-0.6zM93.9 485.6h0.6v0.6h-0.6zM85.8 493.9h0.6v0.6h-0.6zM84.8 455.7h0.6v0.6h-0.6zM86.9 450.3h0.6v0.6h-0.6zM85.1 440.4h0.6v0.6h-0.6zM72.8 476.6h0.6v0.6h-0.6zM42.2 444.7h0.6v0.6h-0.6zM77.8 483.6h0.6v0.6h-0.6zM85.6 439.9h0.6v0.6h-0.6zM81.0 442.4h0.6v0.6h-0.6zM69.5 452.6h0.6v0.6h-0.6zM61.6 456.3h0.6v0.6h-0.6zM57.3 437.3h0.6v0.6h-0.6zM78.8 439.6h0.6v0.6h-0.6zM81.5 486.7h0.6v0.6h-0.6zM76.3 439.0h0.6v0.6h-0.6zM84.0 476.2h0.6v0.6h-0.6zM86.4 474.8h0.6v0.6h-0.6zM85.7 441.2h0.6v0.6h-0.6zM73.4 485.1h0.6v0.6h-0.6zM88.2 473.1h0.6v0.6h-0.6zM49.1 437.5h0.6v0.6h-0.6zM83.6 429.7h0.6v0.6h-0.6zM59.7 433.1h0.6v0.6h-0.6zM79.5 451.4h0.6v0.6h-0.6zM48.8 440.6h0.6v0.6h-0.6zM65.2 451.2h0.6v0.6h-0.6zM77.6 489.2h0.6v0.6h-0.6zM78.2 444.6h0.6v0.6h-0.6zM78.5 479.7h0.6v0.6h-0.6zM86.7 479.2h0.6v0.6h-0.6zM88.4 476.4h0.6v0.6h-0.6zM66.2 448.5h0.6v0.6h-0.6zM65.5 449.5h0.6v0.6h-0.6zM86.0 485.7h0.6v0.6h-0.6zM89.9 478.4h0.6v0.6h-0.6zM71.5 484.0h0.6v0.6h-0.6zM70.5 444.4h0.6v0.6h-0.6zM94.1 479.7h0.6v0.6h-0.6zM57.9 434.7h0.6v0.6h-0.6zM49.7 448.2h0.6v0.6h-0.6zM56.0 439.2h0.6v0.6h-0.6zM84.3 457.3h0.6v0.6h-0.6zM62.9 441.9h0.6v0.6h-0.6zM55.6 442.2h0.6v0.6h-0.6zM84.4 463.9h0.6v0.6h-0.6zM76.7 439.0h0.6v0.6h-0.6zM44.2 440.6h0.6v0.6h-0.6zM49.8 443.6h0.6v0.6h-0.6zM93.9 481.7h0.6v0.6h-0.6zM92.7 434.2h0.6v0.6h-0.6zM94.2 465.5h0.6v0.6h-0.6zM59.0 441.7h0.6v0.6h-0.6zM101.3 482.6h0.6v0.6h-0.6zM77.0 467.5h0.6v0.6h-0.6zM77.8 442.9h0.6v0.6h-0.6zM80.9 475.5h0.6v0.6h-0.6zM77.8 447.6h0.6v0.6h-0.6zM82.1 474.9h0.6v0.6h-0.6zM87.9 470.5h0.6v0.6h-0.6zM94.4 479.2h0.6v0.6h-0.6zM54.3 439.5h0.6v0.6h-0.6zM84.4 471.0h0.6v0.6h-0.6zM76.6 487.9h0.6v0.6h-0.6zM85.6 433.1h0.6v0.6h-0.6zM81.0 478.1h0.6v0.6h-0.6zM96.3 449.1h0.6v0.6h-0.6zM72.6 447.3h0.6v0.6h-0.6zM91.2 480.7h0.6v0.6h-0.6zM73.0 484.7h0.6v0.6h-0.6zM89.0 479.2h0.6v0.6h-0.6zM80.8 480.9h0.6v0.6h-0.6zM77.6 444.5h0.6v0.6h-0.6zM87.4 422.3h0.6v0.6h-0.6zM44.0 468.5h0.6v0.6h-0.6zM61.4 437.9h0.6v0.6h-0.6zM67.4 457.7h0.6v0.6h-0.6zM67.0 434.2h0.6v0.6h-0.6zM75.3 442.7h0.6v0.6h-0.6zM100.1 480.1h0.6v0.6h-0.6zM103.9 477.0h0.6v0.6h-0.6zM106.3 454.6h0.6v0.6h-0.6zM96.0 455.5h0.6v0.6h-0.6zM71.8 434.7h0.6v0.6h-0.6zM82.3 467.4h0.6v0.6h-0.6zM91.2 451.1h0.6v0.6h-0.6zM66.2 452.1h0.6v0.6h-0.6zM100.3 470.9h0.6v0.6h-0.6zM123.4 425.1h0.6v0.6h-0.6zM105.4 462.7h0.6v0.6h-0.6zM50.0 474.2h0.6v0.6h-0.6zM84.5 493.4h0.6v0.6h-0.6zM38.3 447.5h0.6v0.6h-0.6zM84.9 422.2h0.6v0.6h-0.6zM87.6 452.5h0.6v0.6h-0.6zM121.5 492.2h0.6v0.6h-0.6zM98.6 472.0h0.6v0.6h-0.6zM125.1 463.7h0.6v0.6h-0.6zM64.4 424.4h0.6v0.6h-0.6zM114.3 448.2h0.6v0.6h-0.6zM45.7 433.0h0.6v0.6h-0.6zM65.5 490.2h0.6v0.6h-0.6zM120.3 432.3h0.6v0.6h-0.6zM52.3 461.5h0.6v0.6h-0.6zM126.7 473.6h0.6v0.6h-0.6zM88.6 487.5h0.6v0.6h-0.6zM116.9 488.4h0.6v0.6h-0.6zM53.8 483.4h0.6v0.6h-0.6zM121.4 431.9h0.6v0.6h-0.6zM71.8 418.8h0.6v0.6h-0.6zM75.3 434.5h0.6v0.6h-0.6zM108.8 478.9h0.6v0.6h-0.6zM80.8 446.8h0.6v0.6h-0.6zM91.0 475.4h0.6v0.6h-0.6zM80.2 453.9h0.6v0.6h-0.6zM93.9 429.4h0.6v0.6h-0.6zM81.4 457.9h0.6v0.6h-0.6zM75.4 418.7h0.6v0.6h-0.6zM62.7 490.4h0.6v0.6h-0.6zM93.4 456.2h0.6v0.6h-0.6zM104.2 455.7h0.6v0.6h-0.6zM88.6 466.6h0.6v0.6h-0.6zM57.4 423.1h0.6v0.6h-0.6zM43.1 472.9h0.6v0.6h-0.6zM107.3 425.8h0.6v0.6h-0.6zM59.5 481.7h0.6v0.6h-0.6zM48.6 494.3h0.6v0.6h-0.6zM112.8 450.7h0.6v0.6h-0.6zM114.2 445.3h0.6v0.6h-0.6zM60.9 484.8h0.6v0.6h-0.6zM97.7 439.0h0.6v0.6h-0.6zM92.2 453.8h0.6v0.6h-0.6zM54.7 455.8h0.6v0.6h-0.6zM49.4 431.5h0.6v0.6h-0.6zM74.6 453.0h0.6v0.6h-0.6zM99.9 456.1h0.6v0.6h-0.6zM86.9 439.9h0.6v0.6h-0.6zM78.3 444.9h0.6v0.6h-0.6zM116.5 481.3h0.6v0.6h-0.6zM85.7 450.7h0.6v0.6h-0.6zM50.2 456.0h0.6v0.6h-0.6zM69.7 423.1h0.6v0.6h-0.6zM71.0 463.6h0.6v0.6h-0.6zM50.5 482.4h0.6v0.6h-0.6zM104.6 453.3h0.6v0.6h-0.6zM39.0 475.5h0.6v0.6h-0.6zM104.3 467.5h0.6v0.6h-0.6zM44.0 482.8h0.6v0.6h-0.6zM87.8 443.0h0.6v0.6h-0.6zM48.9 476.6h0.6v0.6h-0.6zM71.4 477.3h0.6v0.6h-0.6zM61.2 478.5h0.6v0.6h-0.6zM48.7 454.1h0.6v0.6h-0.6zM81.7 489.0h0.6v0.6h-0.6zM63.4 470.9h0.6v0.6h-0.6zM57.8 488.6h0.6v0.6h-0.6zM56.0 476.1h0.6v0.6h-0.6zM69.3 471.6h0.6v0.6h-0.6zM84.4 474.0h0.6v0.6h-0.6zM119.0 478.9h0.6v0.6h-0.6zM80.7 435.4h0.6v0.6h-0.6zM114.1 439.5h0.6v0.6h-0.6zM119.6 486.7h0.6v0.6h-0.6zM48.7 487.3h0.6v0.6h-0.6zM119.4 436.6h0.6v0.6h-0.6zM71.6 482.3h0.6v0.6h-0.6zM64.8 472.1h0.6v0.6h-0.6zM117.0 420.7h0.6v0.6h-0.6zM41.2 440.7h0.6v0.6h-0.6z"/>
<path fill="#666" d="M85.1 431.6h0.6v0.6h-0.6zM59.4 458.1h0.6v0.6h-0.6zM55.9 438.7h0.6v0.6h-0.6zM85.5 475.7h0.6v0.6h-0.6zM76.9 446.5h0.6v0.6h-0.6zM70.7 440.0h0.6v0.6h-0.6zM82.0 479.1h0.6v0.6h-0.6zM51.6 437.9h0.6v0.6h-0.6zM81.0 436.3h0.6v0.6h-0.6zM83.6 432.9h0.6v0.6h-0.6zM71.9 447.0h0.6v0.6h-0.6zM76.3 438.3h0.6v0.6h-0.6zM73.0 484.0h0.6v0.6h-0.6zM85.4 474.0h0.6v0.6h-0.6zM90.0 479.8h0.6v0.6h-0.6zM73.9 449.2h0.6v0.6h-0.6zM75.5 442.7h0.6v0.6h-0.6zM45.5 443.2h0.6v0.6h-0.6zM52.5 465.4h0.6v0.6h-0.6zM88.5 455.7h0.6v0.6h-0.6zM73.4 444.4h0.6v0.6h-0.6zM59.7 455.5h0.6v0.6h-0.6zM85.2 484.9h0.6v0.6h-0.6zM78.3 474.7h0.6v0.6h-0.6zM90.5 477.8h0.6v0.6h-0.6zM52.3 457.5h0.6v0.6h-0.6zM84.0 481.7h0.6v0.6h-0.6zM97.2 434.7h0.6v0.6h-0.6zM54.7 445.8h0.6v0.6h-0.6zM76.0 446.4h0.6v0.6h-0.6zM54.6 437.8h0.6v0.6h-0.6zM70.9 447.9h0.6v0.6h-0.6zM62.5 452.1h0.6v0.6h-0.6zM79.9 452.9h0.6v0.6h-0.6zM62.8 455.3h0.6v0.6h-0.6zM79.1 440.0h0.6v0.6h-0.6zM86.0 447.8h0.6v0.6h-0.6zM90.2 489.2h0.6v0.6h-0.6zM86.1 434.8h0.6v0.6h-0.6zM62.1 448.0h0.6v0.6h-0.6zM84.2 477.0h0.6v0.6h-0.6zM97.2 484.8h0.6v0.6h-0.6zM90.2 484.0h0.6v0.6h-0.6zM83.3 457.0h0.6v0.6h-0.6zM74.9 482.3h0.6v0.6h-0.6zM83.3 483.0h0.6v0.6h-0.6zM91.5 437.8h0.6v0.6h-0.6zM58.3 436.2h0.6v0.6h-0.6zM75.7 445.8h0.6v0.6h-0.6zM89.6 465.1h0.6v0.6h-0.6zM93.8 488.7h0.6v0.6h-0.6zM79.5 471.2h0.6v0.6h-0.6zM81.0 477.1h0.6v0.6h-0.6zM61.7 438.0h0.6v0.6h-0.6zM91.5 439.5h0.6v0.6h-0.6zM67.9 448.6h0.6v0.6h-0.6zM69.8 449.8h0.6v0.6h-0.6zM88.1 433.1h0.6v0.6h-0.6zM82.7 475.2h0.6v0.6h-0.6zM44.9 436.2h0.6v0.6h-0.6zM89.4 480.5h0.6v0.6h-0.6zM75.5 481.0h0.6v0.6h-0.6zM91.3 476.6h0.6v0.6h-0.6zM79.5 438.1h0.6v0.6h-0.6zM95.1 484.4h0.6v0.6h-0.6zM85.3 479.8h0.6v0.6h-0.6zM92.2 445.2h0.6v0.6h-0.6zM87.9 458.7h0.6v0.6h-0.6zM85.0 485.1h0.6v0.6h-0.6zM90.1 448.5h0.6v0.6h-0.6zM82.9 478.8h0.6v0.6h-0.6zM89.8 464.4h0.6v0.6h-0.6zM56.6 438.0h0.6v0.6h-0.6zM40.9 440.4h0.6v0.6h-0.6zM86.4 469.1h0.6v0.6h-0.6zM73.8 440.8h0.6v0.6h-0.6zM73.5 444.7h0.6v0.6h-0.6zM78.5 480.7h0.6v0.6h-0.6zM78.4 482.2h0.6v0.6h-0.6zM52.8 443.2h0.6v0.6h-0.6zM51.8 438.7h0.6v0.6h-0.6zM79.3 484.1h0.6v0.6h-0.6zM59.9 455.2h0.6v0.6h-0.6zM87.4 459.5h0.6v0.6h-0.6zM83.4 467.4h0.6v0.6h-0.6zM96.3 486.9h0.6v0.6h-0.6zM69.0 481.5h0.6v0.6h-0.6zM90.6 433.4h0.6v0.6h-0.6zM61.3 435.5h0.6v0.6h-0.6zM74.5 483.3h0.6v0.6h-0.6zM85.2 436.5h0.6v0.6h-0.6zM60.9 444.4h0.6v0.6h-0.6zM70.2 448.3h0.6v0.6h-0.6zM67.7 451.4h0.6v0.6h-0.6zM86.0 466.4h0.6v0.6h-0.6zM66.1 446.8h0.6v0.6h-0.6zM78.7 439.9h0.6v0.6h-0.6zM81.2 438.3h0.6v0.6h-0.6zM46.5 447.2h0.6v0.6h-0.6zM88.9 452.3h0.6v0.6h-0.6zM90.2 430.2h0.6v0.6h-0.6zM91.7 488.6h0.6v0.6h-0.6zM93.2 481.2h0.6v0.6h-0.6zM79.4 469.9h0.6v0.6h-0.6zM87.9 433.3h0.6v0.6h-0.6zM88.0 480.3h0.6v0.6h-0.6zM53.5 439.5h0.6v0.6h-0.6zM49.9 450.0h0.6v0.6h-0.6zM77.8 425.9h0.6v0.6h-0.6zM59.0 456.0h0.6v0.6h-0.6zM53.5 449.8h0.6v0.6h-0.6zM90.4 462.0h0.6v0.6h-0.6zM61.5 440.7h0.6v0.6h-0.6zM73.8 445.0h0.6v0.6h-0.6zM69.0 448.4h0.6v0.6h-0.6zM66.9 444.3h0.6v0.6h-0.6zM96.0 474.8h0.6v0.6h-0.6zM52.6 437.1h0.6v0.6h-0.6zM84.6 475.7h0.6v0.6h-0.6zM61.9 458.8h0.6v0.6h-0.6zM98.9 457.9h0.6v0.6h-0.6zM81.4 437.8h0.6v0.6h-0.6zM76.9 445.7h0.6v0.6h-0.6zM83.0 450.0h0.6v0.6h-0.6zM77.5 441.7h0.6v0.6h-0.6zM53.4 439.4h0.6v0.6h-0.6zM42.0 448.4h0.6v0.6h-0.6zM90.2 484.1h0.6v0.6h-0.6zM77.1 445.0h0.6v0.6h-0.6zM88.4 478.4h0.6v0.6h-0.6zM49.4 442.5h0.6v0.6h-0.6zM73.7 484.2h0.6v0.6h-0.6zM56.2 432.1h0.6v0.6h-0.6zM71.2 447.4h0.6v0.6h-0.6zM81.7 459.5h0.6v0.6h-0.6zM91.8 484.1h0.6v0.6h-0.6zM71.9 448.1h0.6v0.6h-0.6zM68.4 447.0h0.6v0.6h-0.6zM85.3 437.3h0.6v0.6h-0.6zM91.1 456.3h0.6v0.6h-0.6zM68.1 459.7h0.6v0.6h-0.6zM84.1 443.1h0.6v0.6h-0.6zM86.4 462.7h0.6v0.6h-0.6zM52.1 435.9h0.6v0.6h-0.6zM96.0 473.5h0.6v0.6h-0.6zM49.2 439.2h0.6v0.6h-0.6zM57.7 434.0h0.6v0.6h-0.6zM80.3 441.6h0.6v0.6h-0.6zM49.0 451.5h0.6v0.6h-0.6zM69.4 447.5h0.6v0.6h-0.6zM80.8 435.3h0.6v0.6h-0.6zM88.4 461.6h0.6v0.6h-0.6zM35.1 436.2h0.6v0.6h-0.6zM99.5 428.9h0.6v0.6h-0.6zM92.0 481.9h0.6v0.6h-0.6zM75.4 480.2h0.6v0.6h-0.6zM70.7 454.5h0.6v0.6h-0.6zM89.3 449.5h0.6v0.6h-0.6zM57.2 440.0h0.6v0.6h-0.6zM76.7 444.4h0.6v0.6h-0.6zM66.7 455.9h0.6v0.6h-0.6zM81.3 487.6h0.6v0.6h-0.6zM90.7 476.8h0.6v0.6h-0.6zM69.7 439.5h0.6v0.6h-0.6zM83.9 498.9h0.6v0.6h-0.6zM72.4 471.5h0.6v0.6h-0.6zM83.7 478.0h0.6v0.6h-0.6zM92.7 474.2h0.6v0.6h-0.6zM90.8 473.0h0.6v0.6h-0.6zM54.4 448.4h0.6v0.6h-0.6zM53.7 442.9h0.6v0.6h-0.6zM84.6 475.4h0.6v0.6h-0.6zM63.0 448.4h0.6v0.6h-0.6zM82.3 440.1h0.6v0.6h-0.6zM54.9 445.6h0.6v0.6h-0.6zM69.7 482.4h0.6v0.6h-0.6zM54.8 441.2h0.6v0.6h-0.6zM70.5 442.7h0.6v0.6h-0.6zM68.4 440.2h0.6v0.6h-0.6zM83.6 456.2h0.6v0.6h-0.6zM86.2 480.7h0.6v0.6h-0.6zM86.2 452.0h0.6v0.6h-0.6zM69.4 490.4h0.6v0.6h-0.6zM83.8 444.3h0.6v0.6h-0.6zM53.3 462.2h0.6v0.6h-0.6zM80.7 439.1h0.6v0.6h-0.6zM57.2 455.0h0.6v0.6h-0.6zM96.0 447.7h0.6v0.6h-0.6zM80.8 448.0h0.6v0.6h-0.6zM89.3 477.3h0.6v0.6h-0.6zM82.7 436.7h0.6v0.6h-0.6zM88.5 488.1h0.6v0.6h-0.6zM42.4 454.8h0.6v0.6h-0.6zM87.0 443.6h0.6v0.6h-0.6zM82.8 441.7h0.6v0.6h-0.6zM83.0 441.5h0.6v0.6h-0.6zM93.4 449.9h0.6v0.6h-0.6zM82.1 441.3h0.6v0.6h-0.6zM92.6 486.9h0.6v0.6h-0.6zM53.6 447.6h0.6v0.6h-0.6zM47.8 439.5h0.6v0.6h-0.6zM90.6 429.3h0.6v0.6h-0.6zM87.2 446.7h0.6v0.6h-0.6zM84.2 461.6h0.6v0.6h-0.6zM96.6 473.1h0.6v0.6h-0.6zM64.0 440.0h0.6v0.6h-0.6zM85.8 442.6h0.6v0.6h-0.6zM80.3 481.4h0.6v0.6h-0.6zM44.2 444.0h0.6v0.6h-0.6zM89.2 489.6h0.6v0.6h-0.6zM58.6 453.2h0.6v0.6h-0.6zM69.1 451.0h0.6v0.6h-0.6zM79.3 447.2h0.6v0.6h-0.6zM85.1 485.2h0.6v0.6h-0.6zM88.3 445.1h0.6v0.6h-0.6zM59.4 435.6h0.6v0.6h-0.6zM86.6 484.2h0.6v0.6h-0.6zM84.9 482.7h0.6v0.6h-0.6zM84.9 432.3h0.6v0.6h-0.6zM66.8 449.6h0.6v0.6h-0.6zM86.4 474.3h0.6v0.6h-0.6zM42.2 440.7h0.6v0.6h-0.6zM50.0 426.9h0.6v0.6h-0.6zM83.0 484.4h0.6v0.6h-0.6zM47.6 442.6h0.6v0.6h-0.6zM60.8 445.5h0.6v0.6h-0.6zM75.3 481.4h0.6v0.6h-0.6zM51.7 436.6h0.6v0.6h-0.6zM84.3 451.9h0.6v0.6h-0.6zM77.4 438.3h0.6v0.6h-0.6zM97.5 480.0h0.6v0.6h-0.6zM79.3 445.9h0.6v0.6h-0.6zM97.2 481.3h0.6v0.6h-0.6zM49.0 449.3h0.6v0.6h-0.6zM83.1 475.5h0.6v0.6h-0.6zM98.9 485.8h0.6v0.6h-0.6zM88.2 473.0h0.6v0.6h-0.6zM86.2 486.9h0.6v0.6h-0.6zM87.4 487.0h0.6v0.6h-0.6zM48.0 436.1h0.6v0.6h-0.6zM80.2 472.8h0.6v0.6h-0.6zM87.6 451.1h0.6v0.6h-0.6zM90.9 441.8h0.6v0.6h-0.6zM86.3 449.4h0.6v0.6h-0.6zM47.4 432.4h0.6v0.6h-0.6zM88.6 438.8h0.6v0.6h-0.6zM71.0 491.8h0.6v0.6h-0.6zM48.6 446.0h0.6v0.6h-0.6zM78.0 440.9h0.6v0.6h-0.6zM77.7 481.5h0.6v0.6h-0.6zM82.7 434.5h0.6v0.6h-0.6zM55.7 441.6h0.6v0.6h-0.6zM59.3 459.9h0.6v0.6h-0.6zM83.6 478.5h0.6v0.6h-0.6zM92.7 487.8h0.6v0.6h-0.6zM75.0 446.3h0.6v0.6h-0.6zM57.3 436.1h0.6v0.6h-0.6zM47.8 444.3h0.6v0.6h-0.6zM93.7 479.4h0.6v0.6h-0.6zM47.2 442.3h0.6v0.6h-0.6zM50.4 452.4h0.6v0.6h-0.6zM67.1 451.0h0.6v0.6h-0.6zM96.3 478.8h0.6v0.6h-0.6zM88.1 486.9h0.6v0.6h-0.6zM65.6 451.3h0.6v0.6h-0.6zM85.8 496.1h0.6v0.6h-0.6zM66.5 434.1h0.6v0.6h-0.6zM39.2 451.6h0.6v0.6h-0.6zM68.7 448.8h0.6v0.6h-0.6zM69.8 437.3h0.6v0.6h-0.6zM54.5 427.4h0.6v0.6h-0.6zM80.9 493.8h0.6v0.6h-0.6zM83.9 485.7h0.6v0.6h-0.6zM90.4 429.0h0.6v0.6h-0.6zM42.2 443.3h0.6v0.6h-0.6zM76.9 444.0h0.6v0.6h-0.6zM85.3 458.3h0.6v0.6h-0.6zM73.3 480.1h0.6v0.6h-0.6zM84.5 472.1h0.6v0.6h-0.6zM48.2 450.8h0.6v0.6h-0.6zM81.0 481.4h0.6v0.6h-0.6zM89.9 449.4h0.6v0.6h-0.6zM71.2 451.5h0.6v0.6h-0.6zM72.0 486.7h0.6v0.6h-0.6zM61.3 457.7h0.6v0.6h-0.6zM92.4 479.6h0.6v0.6h-0.6zM79.8 473.5h0.6v0.6h-0.6zM44.8 434.9h0.6v0.6h-0.6zM74.1 441.0h0.6v0.6h-0.6zM86.9 459.9h0.6v0.6h-0.6zM96.1 469.1h0.6v0.6h-0.6zM79.9 483.9h0.6v0.6h-0.6zM77.7 433.8h0.6v0.6h-0.6zM88.5 474.0h0.6v0.6h-0.6zM58.5 453.3h0.6v0.6h-0.6zM59.2 432.4h0.6v0.6h-0.6zM75.2 470.6h0.6v0.6h-0.6zM89.4 481.1h0.6v0.6h-0.6zM47.4 457.3h0.6v0.6h-0.6zM79.1 472.6h0.6v0.6h-0.6zM74.2 447.7h0.6v0.6h-0.6zM74.6 486.1h0.6v0.6h-0.6zM59.6 441.1h0.6v0.6h-0.6z"/>
<path fill="#555" d="M53.3 436.4h0.6v0.6h-0.6zM50.1 453.0h0.6v0.6h-0.6zM60.6 441.3h0.6v0.6h-0.6zM78.2 443.9h0.6v0.6h-0.6zM83.8 433.4h0.6v0.6h-0.6zM67.7 432.4h0.6v0.6h-0.6zM77.4 445.7h0.6v0.6h-0.6zM82.6 454.9h0.6v0.6h-0.6zM93.1 483.2h0.6v0.6h-0.6zM86.4 479.9h0.6v0.6h-0.6zM78.2 436.3h0.6v0.6h-0.6zM91.7 436.5h0.6v0.6h-0.6zM70.8 453.4h0.6v0.6h-0.6zM63.3 462.8h0.6v0.6h-0.6zM59.3 437.0h0.6v0.6h-0.6zM89.8 468.3h0.6v0.6h-0.6zM72.9 444.0h0.6v0.6h-0.6zM97.8 469.6h0.6v0.6h-0.6zM79.6 444.7h0.6v0.6h-0.6zM58.9 459.0h0.6v0.6h-0.6zM90.0 479.8h0.6v0.6h-0.6zM54.1 449.7h0.6v0.6h-0.6zM80.8 478.2h0.6v0.6h-0.6zM85.5 477.4h0.6v0.6h-0.6zM53.7 441.4h0.6v0.6h-0.6zM80.3 480.1h0.6v0.6h-0.6zM90.4 441.4h0.6v0.6h-0.6zM87.4 469.6h0.6v0.6h-0.6zM69.8 433.7h0.6v0.6h-0.6zM89.1 480.5h0.6v0.6h-0.6zM84.6 468.8h0.6v0.6h-0.6zM77.8 444.1h0.6v0.6h-0.6zM69.5 474.5h0.6v0.6h-0.6zM78.9 474.9h0.6v0.6h-0.6zM92.5 456.6h0.6v0.6h-0.6zM89.2 431.5h0.6v0.6h-0.6zM68.5 434.3h0.6v0.6h-0.6zM89.2 486.9h0.6v0.6h-0.6zM56.7 432.8h0.6v0.6h-0.6zM88.8 491.9h0.6v0.6h-0.6zM64.0 452.7h0.6v0.6h-0.6zM85.0 476.4h0.6v0.6h-0.6zM87.7 435.2h0.6v0.6h-0.6zM91.6 465.8h0.6v0.6h-0.6zM71.5 433.9h0.6v0.6h-0.6zM73.4 446.1h0.6v0.6h-0.6zM72.7 483.7h0.6v0.6h-0.6zM74.0 432.9h0.6v0.6h-0.6zM54.3 460.6h0.6v0.6h-0.6zM87.3 476.2h0.6v0.6h-0.6zM87.6 477.5h0.6v0.6h-0.6zM71.6 446.1h0.6v0.6h-0.6zM54.3 454.7h0.6v0.6h-0.6zM93.9 490.6h0.6v0.6h-0.6zM91.2 486.1h0.6v0.6h-0.6zM69.0 452.3h0.6v0.6h-0.6zM64.2 448.4h0.6v0.6h-0.6zM75.0 458.7h0.6v0.6h-0.6zM81.8 485.0h0.6v0.6h-0.6zM85.7 486.7h0.6v0.6h-0.6zM81.5 455.0h0.6v0.6h-0.6zM76.8 441.3h0.6v0.6h-0.6zM63.2 453.0h0.6v0.6h-0.6zM83.2 478.0h0.6v0.6h-0.6zM68.5 450.3h0.6v0.6h-0.6zM73.7 446.0h0.6v0.6h-0.6zM50.6 431.9h0.6v0.6h-0.6zM63.8 435.1h0.6v0.6h-0.6zM69.2 447.5h0.6v0.6h-0.6zM75.5 484.1h0.6v0.6h-0.6zM85.6 438.5h0.6v0.6h-0.6zM65.8 447.6h0.6v0.6h-0.6zM70.7 474.7h0.6v0.6h-0.6zM82.8 450.3h0.6v0.6h-0.6zM77.9 442.2h0.6v0.6h-0.6zM71.6 447.3h0.6v0.6h-0.6zM83.4 431.4h0.6v0.6h-0.6zM53.0 442.6h0.6v0.6h-0.6zM67.0 476.7h0.6v0.6h-0.6zM82.0 475.7h0.6v0.6h-0.6zM54.8 446.4h0.6v0.6h-0.6zM87.4 433.1h0.6v0.6h-0.6zM88.8 473.6h0.6v0.6h-0.6zM56.9 446.5h0.6v0.6h-0.6zM83.3 480.0h0.6v0.6h-0.6zM83.5 486.6h0.6v0.6h-0.6zM77.2 480.1h0.6v0.6h-0.6zM58.5 464.6h0.6v0.6h-0.6zM49.5 444.7h0.6v0.6h-0.6zM81.7 489.7h0.6v0.6h-0.6zM80.7 489.2h0.6v0.6h-0.6zM86.2 474.7h0.6v0.6h-0.6zM89.2 466.8h0.6v0.6h-0.6zM53.4 439.3h0.6v0.6h-0.6zM86.5 491.6h0.6v0.6h-0.6zM82.7 488.1h0.6v0.6h-0.6zM59.7 439.5h0.6v0.6h-0.6zM44.4 443.6h0.6v0.6h-0.6zM72.4 433.5h0.6v0.6h-0.6zM81.4 490.8h0.6v0.6h-0.6zM77.0 482.0h0.6v0.6h-0.6zM46.1 445.4h0.6v0.6h-0.6zM41.4 459.9h0.6v0.6h-0.6zM76.2 470.3h0.6v0.6h-0.6zM83.1 471.7h0.6v0.6h-0.6zM88.3 491.7h0.6v0.6h-0.6zM84.0 489.3h0.6v0.6h-0.6zM78.1 434.2h0.6v0.6h-0.6zM69.1 446.6h0.6v0.6h-0.6zM76.7 442.9h0.6v0.6h-0.6zM89.9 440.6h0.6v0.6h-0.6zM70.0 482.9h0.6v0.6h-0.6zM81.9 487.8h0.6v0.6h-0.6zM82.0 479.9h0.6v0.6h-0.6zM48.6 448.4h0.6v0.6h-0.6zM52.8 446.1h0.6v0.6h-0.6zM55.0 437.2h0.6v0.6h-0.6zM87.7 436.2h0.6v0.6h-0.6zM82.1 440.0h0.6v0.6h-0.6zM81.2 439.1h0.6v0.6h-0.6zM81.6 444.8h0.6v0.6h-0.6zM84.3 438.8h0.6v0.6h-0.6zM79.0 454.3h0.6v0.6h-0.6zM52.5 432.7h0.6v0.6h-0.6zM85.6 484.2h0.6v0.6h-0.6zM81.5 440.2h0.6v0.6h-0.6zM80.7 491.0h0.6v0.6h-0.6zM83.2 491.8h0.6v0.6h-0.6zM80.8 478.3h0.6v0.6h-0.6zM92.0 477.7h0.6v0.6h-0.6zM64.9 453.5h0.6v0.6h-0.6zM93.4 455.0h0.6v0.6h-0.6zM53.7 447.7h0.6v0.6h-0.6zM83.7 482.9h0.6v0.6h-0.6zM79.3 445.3h0.6v0.6h-0.6zM47.2 467.8h0.6v0.6h-0.6zM69.8 441.7h0.6v0.6h-0.6zM82.4 482.2h0.6v0.6h-0.6zM74.5 444.8h0.6v0.6h-0.6zM86.3 462.2h0.6v0.6h-0.6zM85.4 487.9h0.6v0.6h-0.6zM73.5 479.7h0.6v0.6h-0.6zM79.9 442.4h0.6v0.6h-0.6zM72.8 441.2h0.6v0.6h-0.6zM83.1 474.3h0.6v0.6h-0.6zM79.8 475.3h0.6v0.6h-0.6zM89.5 456.4h0.6v0.6h-0.6zM60.5 457.9h0.6v0.6h-0.6zM87.2 435.4h0.6v0.6h-0.6zM86.9 431.7h0.6v0.6h-0.6zM78.9 479.2h0.6v0.6h-0.6zM84.8 456.6h0.6v0.6h-0.6zM81.0 485.4h0.6v0.6h-0.6zM82.3 484.6h0.6v0.6h-0.6zM72.3 443.5h0.6v0.6h-0.6zM63.7 449.8h0.6v0.6h-0.6zM70.6 451.6h0.6v0.6h-0.6zM46.9 440.9h0.6v0.6h-0.6zM88.1 434.6h0.6v0.6h-0.6zM94.3 461.0h0.6v0.6h-0.6zM85.4 450.4h0.6v0.6h-0.6zM81.4 485.6h0.6v0.6h-0.6zM88.0 462.5h0.6v0.6h-0.6zM85.7 453.7h0.6v0.6h-0.6zM58.7 454.3h0.6v0.6h-0.6zM76.3 490.9h0.6v0.6h-0.6zM56.0 432.5h0.6v0.6h-0.6zM88.6 477.7h0.6v0.6h-0.6zM92.7 427.8h0.6v0.6h-0.6zM80.1 469.8h0.6v0.6h-0.6zM62.0 446.9h0.6v0.6h-0.6zM47.9 445.6h0.6v0.6h-0.6zM82.5 479.3h0.6v0.6h-0.6zM87.9 474.9h0.6v0.6h-0.6zM89.7 484.9h0.6v0.6h-0.6zM89.9 477.6h0.6v0.6h-0.6zM76.1 444.1h0.6v0.6h-0.6zM56.3 431.7h0.6v0.6h-0.6zM86.0 455.5h0.6v0.6h-0.6zM77.0 439.4h0.6v0.6h-0.6zM89.4 481.5h0.6v0.6h-0.6zM75.4 478.3h0.6v0.6h-0.6zM94.6 431.1h0.6v0.6h-0.6zM82.8 477.0h0.6v0.6h-0.6zM91.3 485.9h0.6v0.6h-0.6zM62.8 456.6h0.6v0.6h-0.6zM81.3 475.0h0.6v0.6h-0.6zM81.7 474.9h0.6v0.6h-0.6zM83.3 472.1h0.6v0.6h-0.6zM85.7 476.0h0.6v0.6h-0.6zM88.2 480.5h0.6v0.6h-0.6zM87.8 436.5h0.6v0.6h-0.6zM87.5 477.9h0.6v0.6h-0.6zM42.9 434.3h0.6v0.6h-0.6zM92.9 477.3h0.6v0.6h-0.6zM87.7 474.5h0.6v0.6h-0.6zM60.2 429.0h0.6v0.6h-0.6zM78.2 489.7h0.6v0.6h-0.6zM80.5 483.6h0.6v0.6h-0.6zM53.1 459.3h0.6v0.6h-0.6zM58.9 453.9h0.6v0.6h-0.6zM85.1 459.5h0.6v0.6h-0.6zM78.1 468.8h0.6v0.6h-0.6zM89.0 487.3h0.6v0.6h-0.6zM74.2 436.1h0.6v0.6h-0.6zM55.1 438.8h0.6v0.6h-0.6zM85.3 447.2h0.6v0.6h-0.6zM52.4 458.8h0.6v0.6h-0.6zM74.5 478.6h0.6v0.6h-0.6zM62.6 451.6h0.6v0.6h-0.6zM64.9 432.2h0.6v0.6h-0.6zM78.4 432.1h0.6v0.6h-0.6zM41.6 451.5h0.6v0.6h-0.6zM54.3 440.6h0.6v0.6h-0.6zM79.8 451.4h0.6v0.6h-0.6zM85.0 460.2h0.6v0.6h-0.6zM59.0 437.6h0.6v0.6h-0.6zM75.3 484.0h0.6v0.6h-0.6zM85.5 474.7h0.6v0.6h-0.6zM48.3 436.8h0.6v0.6h-0.6zM73.0 451.5h0.6v0.6h-0.6zM82.1 485.7h0.6v0.6h-0.6zM66.3 437.1h0.6v0.6h-0.6zM77.7 483.5h0.6v0.6h-0.6zM79.7 440.2h0.6v0.6h-0.6zM83.9 471.3h0.6v0.6h-0.6zM67.4 438.4h0.6v0.6h-0.6zM80.5 490.0h0.6v0.6h-0.6zM96.6 485.2h0.6v0.6h-0.6zM84.8 483.6h0.6v0.6h-0.6zM74.4 475.9h0.6v0.6h-0.6zM75.5 484.0h0.6v0.6h-0.6zM37.7 433.8h0.6v0.6h-0.6zM55.1 444.9h0.6v0.6h-0.6zM93.3 483.4h0.6v0.6h-0.6zM81.7 438.7h0.6v0.6h-0.6zM76.5 444.7h0.6v0.6h-0.6zM88.5 436.9h0.6v0.6h-0.6zM60.9 455.6h0.6v0.6h-0.6zM75.4 435.0h0.6v0.6h-0.6zM88.6 458.6h0.6v0.6h-0.6zM87.9 472.1h0.6v0.6h-0.6zM74.2 483.2h0.6v0.6h-0.6zM84.8 478.9h0.6v0.6h-0.6zM58.4 441.3h0.6v0.6h-0.6zM87.5 468.8h0.6v0.6h-0.6zM77.5 442.9h0.6v0.6h-0.6zM60.7 455.0h0.6v0.6h-0.6zM40.5 443.9h0.6v0.6h-0.6zM88.8 450.3h0.6v0.6h-0.6zM78.0 446.0h0.6v0.6h-0.6zM71.1 431.1h0.6v0.6h-0.6zM90.9 491.5h0.6v0.6h-0.6zM85.0 437.4h0.6v0.6h-0.6zM42.0 466.5h0.6v0.6h-0.6zM57.0 444.5h0.6v0.6h-0.6zM77.4 437.3h0.6v0.6h-0.6zM76.2 468.9h0.6v0.6h-0.6zM67.6 432.7h0.6v0.6h-0.6zM83.6 468.3h0.6v0.6h-0.6zM81.9 450.5h0.6v0.6h-0.6zM88.7 465.1h0.6v0.6h-0.6zM41.4 437.2h0.6v0.6h-0.6zM84.1 485.9h0.6v0.6h-0.6zM93.0 446.2h0.6v0.6h-0.6zM87.0 489.7h0.6v0.6h-0.6zM81.2 477.6h0.6v0.6h-0.6zM71.8 442.2h0.6v0.6h-0.6zM81.2 450.4h0.6v0.6h-0.6zM41.9 432.2h0.6v0.6h-0.6zM84.2 485.2h0.6v0.6h-0.6zM90.2 475.5h0.6v0.6h-0.6zM65.8 462.6h0.6v0.6h-0.6zM62.3 438.1h0.6v0.6h-0.6zM81.6 443.4h0.6v0.6h-0.6zM86.4 484.9h0.6v0.6h-0.6zM92.8 444.6h0.6v0.6h-0.6zM63.6 434.5h0.6v0.6h-0.6zM74.2 452.4h0.6v0.6h-0.6zM67.6 490.5h0.6v0.6h-0.6zM45.2 442.2h0.6v0.6h-0.6zM93.9 442.0h0.6v0.6h-0.6zM72.0 480.0h0.6v0.6h-0.6zM56.9 437.8h0.6v0.6h-0.6zM65.1 449.1h0.6v0.6h-0.6zM78.7 476.0h0.6v0.6h-0.6zM97.1 479.8h0.6v0.6h-0.6zM66.3 431.3h0.6v0.6h-0.6zM79.9 471.0h0.6v0.6h-0.6zM35.0 437.7h0.6v0.6h-0.6zM87.5 473.9h0.6v0.6h-0.6zM90.9 482.3h0.6v0.6h-0.6zM65.5 435.5h0.6v0.6h-0.6zM71.6 481.3h0.6v0.6h-0.6zM58.4 466.6h0.6v0.6h-0.6zM68.2 446.1h0.6v0.6h-0.6zM85.0 473.4h0.6v0.6h-0.6zM62.4 455.9h0.6v0.6h-0.6zM89.9 473.1h0.6v0.6h-0.6zM87.5 470.7h0.6v0.6h-0.6zM49.4 462.2h0.6v0.6h-0.6zM76.6 447.2h0.6v0.6h-0.6zM76.1 490.6h0.6v0.6h-0.6z"/>
<path fill="#777" d="M49.3 444.1h0.6v0.6h-0.6zM78.7 473.5h0.6v0.6h-0.6zM51.7 448.1h0.6v0.6h-0.6zM55.6 446.7h0.6v0.6h-0.6zM65.2 442.5h0.6v0.6h-0.6zM39.4 446.9h0.6v0.6h-0.6zM83.2 468.2h0.6v0.6h-0.6zM53.8 436.1h0.6v0.6h-0.6zM81.3 474.4h0.6v0.6h-0.6zM61.3 433.3h0.6v0.6h-0.6zM75.4 473.6h0.6v0.6h-0.6zM83.7 438.1h0.6v0.6h-0.6zM47.8 454.5h0.6v0.6h-0.6zM70.9 490.2h0.6v0.6h-0.6zM82.2 468.4h0.6v0.6h-0.6zM55.7 450.4h0.6v0.6h-0.6zM63.3 438.7h0.6v0.6h-0.6zM86.8 479.2h0.6v0.6h-0.6zM96.3 477.4h0.6v0.6h-0.6zM90.1 482.3h0.6v0.6h-0.6zM87.4 448.4h0.6v0.6h-0.6zM57.6 456.9h0.6v0.6h-0.6zM80.2 480.5h0.6v0.6h-0.6zM73.8 442.0h0.6v0.6h-0.6zM65.2 434.4h0.6v0.6h-0.6zM87.4 447.9h0.6v0.6h-0.6zM84.2 479.1h0.6v0.6h-0.6zM86.2 469.9h0.6v0.6h-0.6zM67.1 446.2h0.6v0.6h-0.6zM83.9 442.5h0.6v0.6h-0.6zM36.9 445.8h0.6v0.6h-0.6zM70.5 439.9h0.6v0.6h-0.6zM67.0 452.2h0.6v0.6h-0.6zM51.5 462.3h0.6v0.6h-0.6zM49.0 431.9h0.6v0.6h-0.6zM76.1 449.2h0.6v0.6h-0.6zM90.6 470.9h0.6v0.6h-0.6zM76.8 428.7h0.6v0.6h-0.6zM58.3 436.7h0.6v0.6h-0.6zM94.4 442.2h0.6v0.6h-0.6zM59.7 433.0h0.6v0.6h-0.6zM52.7 458.3h0.6v0.6h-0.6zM91.3 446.9h0.6v0.6h-0.6zM83.2 487.8h0.6v0.6h-0.6zM77.6 487.0h0.6v0.6h-0.6zM89.5 478.7h0.6v0.6h-0.6zM94.2 474.8h0.6v0.6h-0.6zM56.3 444.2h0.6v0.6h-0.6zM63.2 430.1h0.6v0.6h-0.6zM93.1 459.7h0.6v0.6h-0.6zM54.2 438.7h0.6v0.6h-0.6zM85.0 441.6h0.6v0.6h-0.6zM66.3 443.6h0.6v0.6h-0.6zM89.0 484.0h0.6v0.6h-0.6zM60.0 443.5h0.6v0.6h-0.6zM77.8 474.9h0.6v0.6h-0.6zM91.6 471.7h0.6v0.6h-0.6zM82.6 477.7h0.6v0.6h-0.6zM53.6 435.4h0.6v0.6h-0.6zM81.9 450.5h0.6v0.6h-0.6zM82.9 484.9h0.6v0.6h-0.6zM55.0 451.3h0.6v0.6h-0.6zM56.1 438.8h0.6v0.6h-0.6zM91.5 477.9h0.6v0.6h-0.6zM65.2 461.2h0.6v0.6h-0.6zM93.1 478.0h0.6v0.6h-0.6zM71.2 471.3h0.6v0.6h-0.6zM85.8 443.1h0.6v0.6h-0.6zM57.2 434.3h0.6v0.6h-0.6zM56.4 443.4h0.6v0.6h-0.6zM44.7 429.6h0.6v0.6h-0.6zM44.6 425.4h0.6v0.6h-0.6zM87.6 478.8h0.6v0.6h-0.6zM56.3 443.2h0.6v0.6h-0.6zM79.2 479.7h0.6v0.6h-0.6zM54.4 446.7h0.6v0.6h-0.6zM92.2 464.9h0.6v0.6h-0.6zM82.5 478.2h0.6v0.6h-0.6zM82.6 483.0h0.6v0.6h-0.6zM78.3 445.5h0.6v0.6h-0.6zM70.9 435.9h0.6v0.6h-0.6zM83.5 439.8h0.6v0.6h-0.6zM79.9 487.4h0.6v0.6h-0.6zM75.0 477.4h0.6v0.6h-0.6zM44.1 434.7h0.6v0.6h-0.6zM52.5 431.9h0.6v0.6h-0.6zM51.9 437.6h0.6v0.6h-0.6zM66.6 435.0h0.6v0.6h-0.6zM66.8 450.1h0.6v0.6h-0.6zM85.4 455.9h0.6v0.6h-0.6zM67.9 458.5h0.6v0.6h-0.6zM49.3 442.6h0.6v0.6h-0.6zM95.4 481.2h0.6v0.6h-0.6zM86.4 482.8h0.6v0.6h-0.6zM88.5 478.7h0.6v0.6h-0.6zM60.2 456.7h0.6v0.6h-0.6zM84.5 481.9h0.6v0.6h-0.6zM99.0 489.7h0.6v0.6h-0.6zM60.0 449.6h0.6v0.6h-0.6zM88.7 473.4h0.6v0.6h-0.6zM86.1 487.3h0.6v0.6h-0.6zM83.1 435.2h0.6v0.6h-0.6zM52.9 435.7h0.6v0.6h-0.6zM95.6 478.9h0.6v0.6h-0.6zM78.4 443.6h0.6v0.6h-0.6zM88.4 435.6h0.6v0.6h-0.6zM67.1 447.5h0.6v0.6h-0.6zM93.3 484.1h0.6v0.6h-0.6zM68.6 431.9h0.6v0.6h-0.6zM79.0 444.2h0.6v0.6h-0.6zM85.8 478.4h0.6v0.6h-0.6zM44.9 440.9h0.6v0.6h-0.6zM55.7 433.8h0.6v0.6h-0.6zM95.2 477.0h0.6v0.6h-0.6zM76.1 442.8h0.6v0.6h-0.6zM75.7 449.8h0.6v0.6h-0.6zM70.9 449.7h0.6v0.6h-0.6zM84.5 480.0h0.6v0.6h-0.6zM44.6 436.8h0.6v0.6h-0.6zM56.2 461.8h0.6v0.6h-0.6zM58.6 455.9h0.6v0.6h-0.6zM81.1 470.6h0.6v0.6h-0.6zM58.9 440.9h0.6v0.6h-0.6zM77.3 445.3h0.6v0.6h-0.6zM55.5 441.0h0.6v0.6h-0.6zM74.4 443.4h0.6v0.6h-0.6zM72.0 444.2h0.6v0.6h-0.6zM81.2 465.2h0.6v0.6h-0.6zM81.1 488.7h0.6v0.6h-0.6zM92.6 434.8h0.6v0.6h-0.6zM82.7 473.1h0.6v0.6h-0.6zM67.6 459.1h0.6v0.6h-0.6zM69.5 446.6h0.6v0.6h-0.6zM94.7 447.7h0.6v0.6h-0.6zM74.2 467.8h0.6v0.6h-0.6zM83.1 450.6h0.6v0.6h-0.6zM51.2 445.5h0.6v0.6h-0.6zM76.8 484.1h0.6v0.6h-0.6zM75.7 483.3h0.6v0.6h-0.6zM56.6 443.9h0.6v0.6h-0.6zM70.9 487.5h0.6v0.6h-0.6zM73.1 444.2h0.6v0.6h-0.6zM89.8 496.2h0.6v0.6h-0.6zM53.7 425.7h0.6v0.6h-0.6zM79.0 447.4h0.6v0.6h-0.6zM70.9 456.5h0.6v0.6h-0.6zM81.5 437.4h0.6v0.6h-0.6zM57.6 445.9h0.6v0.6h-0.6zM63.1 483.5h0.6v0.6h-0.6zM100.7 475.5h0.6v0.6h-0.6zM64.4 453.6h0.6v0.6h-0.6zM89.3 444.7h0.6v0.6h-0.6zM73.6 439.4h0.6v0.6h-0.6zM53.8 449.8h0.6v0.6h-0.6zM88.0 435.0h0.6v0.6h-0.6zM77.4 444.3h0.6v0.6h-0.6zM89.5 436.6h0.6v0.6h-0.6zM86.9 485.6h0.6v0.6h-0.6zM81.2 482.0h0.6v0.6h-0.6zM67.4 450.5h0.6v0.6h-0.6zM89.8 487.7h0.6v0.6h-0.6zM77.5 442.5h0.6v0.6h-0.6zM89.3 485.5h0.6v0.6h-0.6zM84.9 439.9h0.6v0.6h-0.6zM63.7 450.4h0.6v0.6h-0.6zM69.5 450.8h0.6v0.6h-0.6zM88.5 475.6h0.6v0.6h-0.6zM81.9 475.2h0.6v0.6h-0.6zM64.3 439.8h0.6v0.6h-0.6zM101.3 473.4h0.6v0.6h-0.6zM44.5 446.3h0.6v0.6h-0.6zM89.1 438.2h0.6v0.6h-0.6zM60.4 435.3h0.6v0.6h-0.6zM88.8 492.6h0.6v0.6h-0.6zM60.1 440.4h0.6v0.6h-0.6zM58.4 452.4h0.6v0.6h-0.6zM66.3 451.6h0.6v0.6h-0.6zM89.5 481.5h0.6v0.6h-0.6zM56.0 444.2h0.6v0.6h-0.6zM85.9 442.5h0.6v0.6h-0.6zM74.3 446.8h0.6v0.6h-0.6zM81.9 442.9h0.6v0.6h-0.6zM90.8 480.7h0.6v0.6h-0.6zM92.8 476.9h0.6v0.6h-0.6zM93.3 421.7h0.6v0.6h-0.6zM56.7 435.2h0.6v0.6h-0.6zM73.0 439.4h0.6v0.6h-0.6zM46.8 422.0h0.6v0.6h-0.6zM82.3 462.2h0.6v0.6h-0.6zM99.2 481.0h0.6v0.6h-0.6zM89.3 478.0h0.6v0.6h-0.6zM49.4 428.9h0.6v0.6h-0.6zM85.2 440.5h0.6v0.6h-0.6zM69.9 477.8h0.6v0.6h-0.6zM79.8 479.5h0.6v0.6h-0.6zM87.8 476.5h0.6v0.6h-0.6zM83.9 466.5h0.6v0.6h-0.6zM83.2 479.6h0.6v0.6h-0.6zM85.5 468.8h0.6v0.6h-0.6zM91.8 479.9h0.6v0.6h-0.6zM95.3 493.3h0.6v0.6h-0.6zM85.3 478.8h0.6v0.6h-0.6zM86.2 441.1h0.6v0.6h-0.6zM47.1 444.9h0.6v0.6h-0.6zM91.2 435.4h0.6v0.6h-0.6zM79.7 480.0h0.6v0.6h-0.6zM86.2 448.5h0.6v0.6h-0.6zM82.3 477.6h0.6v0.6h-0.6zM80.1 459.8h0.6v0.6h-0.6zM84.6 459.8h0.6v0.6h-0.6zM82.4 441.5h0.6v0.6h-0.6zM73.3 443.3h0.6v0.6h-0.6zM93.6 475.8h0.6v0.6h-0.6zM54.2 452.7h0.6v0.6h-0.6zM69.7 446.9h0.6v0.6h-0.6zM60.6 449.9h0.6v0.6h-0.6zM98.3 473.3h0.6v0.6h-0.6zM66.4 444.5h0.6v0.6h-0.6zM90.1 435.5h0.6v0.6h-0.6zM61.7 453.1h0.6v0.6h-0.6zM53.9 433.3h0.6v0.6h-0.6zM84.2 484.3h0.6v0.6h-0.6zM81.1 442.5h0.6v0.6h-0.6zM93.9 485.3h0.6v0.6h-0.6zM62.6 452.0h0.6v0.6h-0.6zM88.0 456.0h0.6v0.6h-0.6zM73.2 457.8h0.6v0.6h-0.6zM77.5 449.6h0.6v0.6h-0.6zM91.0 473.9h0.6v0.6h-0.6zM65.1 447.3h0.6v0.6h-0.6zM85.2 434.0h0.6v0.6h-0.6zM62.7 477.8h0.6v0.6h-0.6zM81.6 438.6h0.6v0.6h-0.6zM71.4 486.9h0.6v0.6h-0.6zM94.4 476.9h0.6v0.6h-0.6zM87.4 436.8h0.6v0.6h-0.6zM85.8 475.6h0.6v0.6h-0.6zM87.7 495.3h0.6v0.6h-0.6zM92.5 489.2h0.6v0.6h-0.6zM45.7 431.1h0.6v0.6h-0.6zM81.7 443.9h0.6v0.6h-0.6zM59.2 439.6h0.6v0.6h-0.6zM85.6 439.6h0.6v0.6h-0.6zM60.6 448.6h0.6v0.6h-0.6zM87.5 434.1h0.6v0.6h-0.6zM54.4 436.6h0.6v0.6h-0.6zM89.7 469.6h0.6v0.6h-0.6zM55.6 445.2h0.6v0.6h-0.6zM84.7 458.4h0.6v0.6h-0.6zM94.3 434.7h0.6v0.6h-0.6zM55.6 461.4h0.6v0.6h-0.6zM78.9 483.7h0.6v0.6h-0.6zM77.7 434.9h0.6v0.6h-0.6zM54.6 432.1h0.6v0.6h-0.6zM67.6 440.2h0.6v0.6h-0.6zM79.9 477.3h0.6v0.6h-0.6zM83.8 444.7h0.6v0.6h-0.6zM52.2 438.3h0.6v0.6h-0.6zM89.6 483.2h0.6v0.6h-0.6zM90.4 452.2h0.6v0.6h-0.6zM85.8 485.8h0.6v0.6h-0.6zM78.7 484.5h0.6v0.6h-0.6zM64.6 453.1h0.6v0.6h-0.6zM84.6 452.1h0.6v0.6h-0.6zM84.0 471.0h0.6v0.6h-0.6zM85.8 469.5h0.6v0.6h-0.6zM61.8 447.1h0.6v0.6h-0.6zM91.7 438.4h0.6v0.6h-0.6zM60.3 436.3h0.6v0.6h-0.6zM64.8 450.7h0.6v0.6h-0.6zM77.2 480.3h0.6v0.6h-0.6zM75.0 460.4h0.6v0.6h-0.6zM51.6 436.2h0.6v0.6h-0.6zM94.8 439.9h0.6v0.6h-0.6zM55.3 435.9h0.6v0.6h-0.6z"/>
<polygon points="88.8,492.7 85.8,493.2 82.8,493.0 79.8,492.0 77.8,491.0 75.7,489.2 74.0,487.2 73.0,485.2 72.2,482.2 72.1,480.2 72.5,477.7 73.9,474.2 76.3,471.4 78.3,469.9 81.4,468.2 82.0,467.7 82.5,466.7 83.1,453.7 82.8,452.1 81.8,449.7 80.8,449.8 77.1,451.7 76.3,452.5 75.2,454.2 73.3,455.4 68.7,456.7 64.3,458.9 60.3,460.5 56.8,461.2 54.8,460.8 54.2,460.2 54.0,458.7 54.4,457.2 56.0,453.7 56.1,453.2 55.9,452.7 51.3,451.9 48.3,450.5 46.8,449.3 45.5,447.7 44.6,446.2 43.9,444.2 43.6,440.7 44.2,437.7 45.9,434.7 48.3,432.5 50.3,431.4 51.8,430.9 55.8,430.5 57.3,430.7 58.8,431.3 62.8,434.4 66.3,433.7 67.8,433.8 68.8,434.2 69.9,435.2 70.4,436.2 70.7,437.7 70.5,439.2 70.1,440.2 69.3,441.0 65.8,442.0 65.3,442.3 64.8,443.7 64.9,444.2 65.3,444.4 67.5,443.2 69.8,440.9 72.9,438.7 73.6,437.7 74.3,435.2 74.8,434.5 75.8,433.8 78.8,433.3 81.8,432.2 85.8,432.2 90.3,431.2 92.3,431.3 93.7,432.2 94.1,433.2 94.1,434.7 92.3,439.3 91.8,441.8 92.0,443.2 92.6,444.7 94.3,446.7 94.5,447.2 94.3,447.8 92.8,449.6 92.3,451.2 91.9,461.7 89.4,465.2 89.0,467.2 89.8,468.4 94.3,471.4 96.7,474.2 98.1,477.7 98.5,479.7 98.4,481.7 97.6,485.2 96.6,487.2 95.4,488.7 92.8,491.0 90.8,492.0 88.8,492.7" fill="#fff" fill-opacity="0.85"/>
<polygon points="86.8,493.8 84.3,493.8 81.8,493.4 79.3,492.5 76.8,491.1 74.8,489.2 73.0,486.7 72.1,484.7 71.5,482.2 71.4,480.2 71.7,478.2 72.4,475.7 73.5,473.7 75.8,471.0 77.8,469.5 80.9,467.7 81.8,466.5 82.1,465.2 82.2,460.2 82.6,454.7 82.5,453.2 81.8,451.7 81.3,450.9 80.8,450.6 80.3,450.7 78.8,451.2 77.3,452.2 76.9,453.2 78.5,454.7 78.9,455.7 78.6,456.7 77.8,457.4 77.3,457.5 76.3,457.4 74.8,456.0 73.8,455.8 69.8,456.7 62.8,460.1 58.8,461.5 55.8,462.0 54.8,462.0 53.8,461.6 53.0,460.7 52.9,459.7 53.2,458.2 54.7,454.7 54.8,454.2 54.6,453.7 53.8,453.3 49.8,452.3 48.3,451.5 46.8,450.4 45.3,448.9 44.2,447.2 43.5,445.7 42.9,443.7 42.7,441.7 42.8,440.2 43.0,438.7 43.7,436.7 44.5,435.2 45.6,433.7 46.8,432.6 48.3,431.5 50.3,430.5 52.8,429.9 55.8,429.8 57.8,430.2 59.8,431.1 62.8,433.4 63.8,433.6 66.8,433.2 68.3,433.5 69.3,434.0 70.1,434.7 70.7,435.7 71.1,436.7 71.3,438.2 71.8,438.7 72.8,437.9 73.6,435.2 74.3,434.2 75.3,433.4 76.3,433.0 78.8,432.7 81.8,431.6 85.8,431.8 90.8,430.6 92.8,430.7 93.8,431.2 94.4,431.7 94.8,432.7 94.8,434.2 94.6,435.2 92.8,439.4 92.5,441.7 93.0,443.7 93.8,444.7 95.6,446.2 95.8,446.7 95.9,447.7 95.3,448.7 93.4,450.2 92.9,451.2 92.7,453.2 92.8,461.7 92.3,462.7 90.3,465.0 89.8,466.7 90.2,467.7 90.7,468.2 93.3,469.8 95.3,471.4 97.4,474.2 98.4,476.2 98.9,478.2 99.2,480.2 99.1,482.2 98.5,484.7 97.6,486.7 96.7,488.2 95.3,489.8 93.3,491.4 91.3,492.5 88.8,493.4 86.8,493.8" fill="#000" fill-opacity="0.05" stroke="rgb(140,140,140)" stroke-width="0.6"/>
<polygon points="88.3,492.3 85.8,492.6 82.8,492.4 79.8,491.4 77.8,490.3 75.8,488.5 74.1,486.2 73.0,483.7 72.6,481.2 72.7,479.2 73.2,477.2 74.0,475.2 75.0,473.7 77.3,471.3 79.3,470.0 81.8,468.7 82.8,467.8 83.2,467.2 83.4,465.7 83.2,460.2 83.6,453.7 83.0,450.7 83.0,449.7 83.4,448.7 85.1,446.7 85.4,445.7 84.8,445.5 83.7,446.2 81.4,448.7 79.8,449.9 76.5,451.7 74.4,454.2 73.3,454.9 69.2,456.2 64.3,458.5 60.8,459.9 58.3,460.4 56.3,460.4 55.2,459.7 54.9,459.2 54.9,458.2 55.5,456.2 57.3,452.7 57.3,451.7 52.3,451.5 50.8,451.0 49.3,450.3 47.8,449.2 46.4,447.7 45.4,446.2 44.6,444.2 44.3,441.2 44.5,439.2 45.0,437.7 46.4,435.2 48.8,433.0 50.8,432.0 52.3,431.5 54.8,431.1 56.3,431.2 57.8,431.5 58.8,432.0 60.3,433.1 61.8,434.7 62.8,435.3 66.3,434.1 67.8,434.2 68.8,434.7 69.7,435.7 70.1,436.7 70.2,437.7 70.1,438.7 69.6,439.7 68.8,440.4 67.8,440.9 65.3,441.4 64.7,441.7 64.3,442.4 63.7,444.7 63.8,445.6 64.3,445.6 65.3,445.2 68.2,443.2 73.5,438.7 74.1,437.7 74.6,435.7 75.8,434.4 76.8,434.1 79.3,433.8 81.8,432.7 85.3,432.7 89.8,431.7 91.8,431.8 92.6,432.2 93.2,432.7 93.6,433.7 93.5,435.2 91.7,439.7 91.1,441.7 91.3,443.2 92.7,447.2 91.8,451.7 91.7,456.2 91.3,460.7 90.8,462.2 88.8,465.2 88.2,467.2 88.6,468.2 89.1,468.7 93.3,471.2 94.9,472.7 96.0,474.2 97.1,476.2 97.6,477.7 97.9,479.7 97.9,481.7 97.5,483.7 97.0,485.2 95.9,487.2 94.8,488.6 93.3,489.9 91.8,490.9 89.8,491.9 88.3,492.3" fill="#000" fill-opacity="0.05" stroke="rgb(120,120,120)" stroke-width="0.6"/>
<polygon points="56.3,449.8 54.8,450.1 52.8,450.0 50.8,449.3 49.3,448.4 47.8,446.9 46.7,445.2 46.2,443.7 45.9,441.7 46.1,439.7 46.5,438.2 47.4,436.7 48.7,435.2 50.3,434.0 51.8,433.4 53.8,432.8 55.8,432.5 57.8,432.9 59.3,434.1 62.6,438.2 63.0,438.7 63.1,439.7 62.9,441.7 62.6,443.2 61.0,446.2 59.8,447.7 58.8,448.5 56.3,449.8" fill="#000" fill-opacity="0.05" stroke="rgb(101,101,101)" stroke-width="0.6"/>
<polygon points="60.8,458.8 58.3,458.9 57.6,458.7 57.1,458.2 56.8,457.2 57.0,456.2 58.6,453.2 60.4,450.7 62.4,448.7 74.7,438.7 76.3,436.0 77.3,435.6 78.8,435.5 79.8,435.2 82.3,433.8 84.8,433.6 88.3,432.9 89.8,432.8 90.8,432.9 91.9,433.7 92.2,434.2 92.3,435.2 91.6,437.7 90.1,440.7 88.8,442.3 85.8,443.7 83.6,445.2 82.4,446.2 79.8,448.9 75.9,451.2 73.8,453.5 72.8,454.3 68.5,455.7 63.3,458.0 60.8,458.8" fill="#000" fill-opacity="0.05" stroke="rgb(101,101,101)" stroke-width="0.6"/>
<polygon points="67.3,439.9 66.3,440.0 65.3,439.7 64.4,439.2 63.9,438.7 63.8,438.2 64.0,437.2 64.6,436.2 65.3,435.6 66.3,435.2 67.3,435.2 68.3,435.7 68.8,436.3 69.1,437.2 69.1,438.2 68.8,438.7 68.3,439.3 67.3,439.9" fill="#000" fill-opacity="0.05" stroke="rgb(101,101,101)" stroke-width="0.6"/>
<polygon points="86.8,464.8 86.3,465.1 85.8,465.1 85.3,464.7 84.8,463.6 84.5,462.2 84.3,459.2 84.7,453.7 84.7,450.7 84.9,449.7 85.8,448.2 87.8,445.6 88.8,444.9 89.3,445.0 89.8,445.4 90.3,446.3 90.7,447.7 90.6,456.2 90.0,459.2 89.3,461.2 88.3,463.0 86.8,464.8" fill="#000" fill-opacity="0.05" stroke="rgb(101,101,101)" stroke-width="0.6"/>
<polygon points="87.8,491.2 85.8,491.5 83.3,491.3 80.8,490.6 78.8,489.5 76.8,487.9 75.4,486.2 74.4,484.2 73.8,482.2 73.8,480.2 74.1,478.2 75.1,475.7 76.5,473.7 77.8,472.4 79.8,471.1 83.3,469.5 85.3,468.8 86.3,469.0 89.8,470.4 91.8,471.5 92.8,472.3 94.2,473.7 95.5,475.7 96.1,477.2 96.6,479.2 96.7,481.2 96.4,483.2 95.7,485.2 94.5,487.2 93.0,488.7 91.3,489.9 89.8,490.6 87.8,491.2" fill="#000" fill-opacity="0.05" stroke="rgb(101,101,101)" stroke-width="0.6"/>
<polygon points="62.3,457.2 60.3,457.4 59.7,457.2 59.1,456.7 58.9,456.2 59.0,455.2 60.0,453.2 61.8,450.7 64.3,448.2 72.8,441.1 77.8,437.4 79.8,436.7 82.8,435.0 86.8,434.0 88.3,433.8 89.8,434.1 90.6,434.7 91.0,435.7 90.8,437.2 90.2,438.7 89.3,440.2 87.8,441.5 82.4,445.2 79.3,448.4 75.4,450.7 73.3,452.9 72.3,453.6 67.8,455.2 64.8,456.5 62.3,457.2" fill="#000" fill-opacity="0.05" stroke="rgb(81,81,81)" stroke-width="0.6"/>
<polygon points="55.8,448.3 54.3,448.6 52.8,448.4 51.4,447.7 50.3,446.9 49.2,445.7 48.3,444.2 47.8,442.7 47.7,441.2 48.3,438.7 48.9,437.7 49.8,436.6 50.8,435.8 52.3,435.1 54.3,434.4 55.8,434.2 57.3,434.6 58.8,435.9 60.9,438.7 61.5,440.7 61.2,442.7 60.0,444.7 57.8,447.1 55.8,448.3" fill="#000" fill-opacity="0.05" stroke="rgb(81,81,81)" stroke-width="0.6"/>
<polygon points="87.3,459.9 86.8,460.1 86.3,459.6 86.1,459.2 85.9,457.7 86.0,455.7 86.7,450.7 87.3,449.6 87.8,449.3 88.3,449.3 88.8,449.8 89.1,450.7 89.2,455.7 88.5,458.2 87.3,459.9" fill="#000" fill-opacity="0.05" stroke="rgb(81,81,81)" stroke-width="0.6"/>
<polygon points="86.3,490.2 84.3,490.2 82.3,489.9 80.3,489.0 78.8,488.1 77.3,486.7 76.1,485.2 75.1,483.2 74.8,481.7 75.0,479.7 75.5,477.7 76.5,475.7 77.7,474.2 79.3,472.8 80.8,471.9 82.8,471.1 84.8,470.7 86.8,470.8 89.3,471.4 90.8,472.1 92.3,473.2 93.5,474.7 94.6,476.7 95.1,478.2 95.5,480.2 95.5,481.7 95.1,483.7 94.5,485.2 93.3,486.9 91.8,488.2 90.3,489.1 88.3,489.9 86.3,490.2" fill="#000" fill-opacity="0.05" stroke="rgb(81,81,81)" stroke-width="0.6"/>
<polygon points="64.3,455.8 62.3,456.1 61.3,455.9 60.7,455.2 60.8,454.2 61.4,452.7 62.9,450.7 64.7,448.7 67.3,446.4 73.8,441.1 78.3,438.3 82.8,436.0 84.3,435.4 86.8,434.8 88.3,434.8 89.3,435.2 89.9,436.2 89.8,437.2 89.3,438.7 88.7,439.7 87.3,441.0 82.1,444.7 78.8,448.0 75.1,450.2 72.8,452.5 71.8,453.1 64.3,455.8" fill="#000" fill-opacity="0.05" stroke="rgb(62,62,62)" stroke-width="0.6"/>
<polygon points="55.3,446.8 54.3,447.0 53.3,446.9 52.3,446.4 51.5,445.7 50.0,443.7 49.6,442.7 49.4,441.2 49.9,439.2 51.0,437.7 52.8,436.6 55.3,436.2 56.8,436.6 58.3,437.7 59.6,439.2 60.1,440.7 59.8,442.2 58.9,443.7 56.8,445.8 55.3,446.8" fill="#000" fill-opacity="0.05" stroke="rgb(62,62,62)" stroke-width="0.6"/>
<polygon points="86.3,489.3 84.8,489.3 82.8,489.0 81.3,488.4 79.8,487.6 78.1,486.2 76.8,484.7 76.0,483.2 75.7,481.7 75.8,480.2 76.2,478.7 77.1,476.7 78.3,475.0 79.8,473.7 81.3,472.8 83.3,472.0 84.8,471.7 86.8,471.7 88.3,472.0 89.8,472.5 91.3,473.4 92.5,474.7 93.6,476.7 94.1,478.2 94.5,480.2 94.5,482.2 94.2,483.7 93.5,485.2 92.8,486.2 91.3,487.5 89.8,488.3 87.8,489.0 86.3,489.3" fill="#000" fill-opacity="0.05" stroke="rgb(62,62,62)" stroke-width="0.6"/>
<polygon points="65.8,454.3 63.8,454.6 62.8,454.2 62.6,453.2 63.3,451.7 64.8,449.7 66.7,447.7 73.3,442.3 78.8,439.0 83.8,436.5 85.3,435.9 86.8,435.7 87.8,435.8 88.4,436.2 88.7,436.7 88.7,437.7 88.4,438.7 87.6,439.7 81.3,444.5 78.3,447.6 74.8,449.6 72.3,452.0 71.3,452.6 65.8,454.3" fill="#000" fill-opacity="0.05" stroke="rgb(42,42,42)" stroke-width="0.6"/>
<polygon points="54.3,444.2 53.3,443.9 52.5,443.2 51.9,442.2 51.7,441.2 51.8,440.2 52.3,439.3 53.3,438.7 54.3,438.5 55.6,438.7 56.8,439.2 57.4,439.7 57.9,440.7 57.8,441.7 56.8,442.9 55.3,444.0 54.3,444.2" fill="#000" fill-opacity="0.05" stroke="rgb(42,42,42)" stroke-width="0.6"/>
<polygon points="86.8,488.2 85.3,488.3 83.8,488.2 82.3,487.7 80.8,487.0 79.3,486.0 77.8,484.6 76.9,483.2 76.6,482.2 76.6,480.7 77.0,479.2 78.0,477.2 79.1,475.7 81.3,473.9 82.8,473.2 84.8,472.8 86.8,472.7 88.3,472.9 89.8,473.4 90.8,474.1 91.7,475.2 92.5,476.7 93.5,480.2 93.6,481.7 93.4,483.2 92.8,484.7 92.1,485.7 91.3,486.5 89.8,487.4 86.8,488.2" fill="#000" fill-opacity="0.05" stroke="rgb(42,42,42)" stroke-width="0.6"/>
<polygon points="68.3,452.8 66.3,453.1 65.3,453.1 64.7,452.7 64.6,452.2 64.9,451.2 65.9,449.7 68.3,447.2 74.3,442.4 79.8,439.4 84.8,437.0 86.3,436.8 87.2,437.2 87.4,438.2 86.8,439.2 80.8,444.1 78.3,446.8 74.3,449.2 71.3,451.8 70.3,452.3 68.3,452.8" fill="#000" fill-opacity="0.05" stroke="rgb(23,23,23)" stroke-width="0.6"/>
<polygon points="87.3,487.2 85.8,487.4 84.3,487.3 81.8,486.4 78.8,484.3 77.9,483.2 77.5,482.2 77.4,481.2 77.8,479.7 78.5,478.2 79.6,476.7 80.5,475.7 81.8,474.8 84.3,473.8 87.3,473.6 88.8,473.8 89.8,474.4 90.7,475.2 91.4,476.2 92.3,479.2 92.7,482.2 92.4,483.7 91.9,484.7 91.0,485.7 89.8,486.4 87.3,487.2" fill="#000" fill-opacity="0.05" stroke="rgb(23,23,23)" stroke-width="0.6"/>
<polygon points="69.3,451.7 67.3,451.8 66.6,451.2 66.7,450.2 67.3,449.2 69.3,447.2 75.3,442.6 82.5,439.2 84.3,438.7 84.7,439.2 83.0,441.2 80.0,443.7 78.3,445.7 77.3,446.7 73.8,448.6 70.8,451.2 69.3,451.7" fill="#000" fill-opacity="0.05" stroke="rgb(15,15,15)" stroke-width="0.6"/>
<polygon points="87.8,486.3 85.3,486.5 82.8,485.8 79.8,483.9 79.1,483.2 78.5,482.2 78.4,481.2 78.6,480.2 80.0,477.7 81.8,476.0 83.8,474.9 86.3,474.4 88.3,474.6 89.8,475.4 90.9,477.2 91.7,480.7 91.8,482.2 91.7,483.2 91.3,484.2 90.3,485.2 89.3,485.8 87.8,486.3" fill="#000" fill-opacity="0.05" stroke="rgb(15,15,15)" stroke-width="0.6"/>
<polygon points="70.3,450.2 69.3,450.4 68.8,450.2 68.7,449.7 68.8,449.2 69.7,448.2 72.3,446.3 75.3,443.8 76.8,443.2 77.8,443.2 78.0,443.7 78.0,444.2 76.9,445.7 73.3,447.7 70.3,450.2" fill="#000" fill-opacity="0.05" stroke="rgb(15,15,15)" stroke-width="0.6"/>
<polygon points="88.3,485.3 86.3,485.6 83.8,485.1 81.4,483.7 80.0,482.2 79.7,481.2 80.1,479.7 81.3,477.9 82.8,476.6 84.8,475.7 86.8,475.3 88.3,475.6 89.6,476.7 90.1,477.7 90.7,480.2 90.9,482.7 90.2,484.2 89.3,484.9 88.3,485.3" fill="#000" fill-opacity="0.05" stroke="rgb(15,15,15)" stroke-width="0.6"/>
<polygon points="88.3,484.4 86.8,484.7 84.8,484.4 83.3,483.6 81.8,482.2 81.4,481.2 81.7,479.7 82.7,478.2 83.8,477.3 85.3,476.6 86.8,476.3 87.8,476.5 88.8,477.4 89.8,480.2 90.0,482.2 89.8,483.1 89.4,483.7 88.3,484.4" fill="#000" fill-opacity="0.05" stroke="rgb(15,15,15)" stroke-width="0.6"/>
</g>
<polygon points="43.5,422.6 86.1,422.6 52.3,458.0 43.5,448.0" fill="none" stroke="#2a2a2a" stroke-width="0.9" stroke-linejoin="miter"/>
<polygon points="87.5,425.5 104.7,425.5 101.1,433.6 67.4,469.5 52.3,469.5 52.3,458.9" fill="none" stroke="#2a2a2a" stroke-width="0.9" stroke-linejoin="miter"/>
<polygon points="98.5,436.9 107.6,436.1 104.7,492.6 68.8,492.6 68.8,470.4" fill="none" stroke="#2a2a2a" stroke-width="0.9" stroke-linejoin="miter"/>
<rect x="38.7" y="405.6" width="88.4" height="88.8" fill="none" stroke="#666" stroke-width="0.8"/>
<text x="39.40" y="413.40" font-size="5.4" fill="#555" stroke="#555" stroke-width="0.06" textLength="10.00" lengthAdjust="spacingAndGlyphs" >9.23</text>
<text x="52.00" y="413.40" font-size="5.4" fill="#222" font-weight="bold" textLength="23.50" lengthAdjust="spacingAndGlyphs" >Allogeneic</text>
<text x="52.00" y="419.90" font-size="5.4" fill="#222" font-weight="bold" textLength="12.80" lengthAdjust="spacingAndGlyphs" >donor</text>
<text x="86.20" y="413.40" font-size="5.4" fill="#555" stroke="#555" stroke-width="0.06" textLength="10.10" lengthAdjust="spacingAndGlyphs" >24.9</text>
<text x="101.00" y="413.40" font-size="5.4" fill="#222" font-weight="bold" textLength="24.00" lengthAdjust="spacingAndGlyphs" >syngeneic</text>
<text x="101.00" y="419.00" font-size="5.4" fill="#222" font-weight="bold" textLength="12.80" lengthAdjust="spacingAndGlyphs" >donor</text>
<text x="104.60" y="485.30" font-size="5.4" fill="#222" font-weight="bold" textLength="21.60" lengthAdjust="spacingAndGlyphs" >Recipient</text>
<text x="114.60" y="491.60" font-size="5.4" fill="#555" stroke="#555" stroke-width="0.06" textLength="10.60" lengthAdjust="spacingAndGlyphs" >65.0</text>
<text x="37.00" y="415.50" font-size="4.8" fill="#444" stroke="#444" stroke-width="0.06" text-anchor="end" >10<tspan dy="-1.73" font-size="3.36">5</tspan></text>
<text x="37.00" y="436.30" font-size="4.8" fill="#444" stroke="#444" stroke-width="0.06" text-anchor="end" >10<tspan dy="-1.73" font-size="3.36">4</tspan></text>
<text x="37.00" y="457.10" font-size="4.8" fill="#444" stroke="#444" stroke-width="0.06" text-anchor="end" >10<tspan dy="-1.73" font-size="3.36">3</tspan></text>
<text x="37.00" y="478.20" font-size="4.8" fill="#444" stroke="#444" stroke-width="0.06" text-anchor="end" >10<tspan dy="-1.73" font-size="3.36">2</tspan></text>
<text x="37.00" y="486.30" font-size="4.8" fill="#444" stroke="#444" stroke-width="0.06" text-anchor="end" >0</text>
<text x="37.00" y="493.20" font-size="4.8" fill="#444" stroke="#444" stroke-width="0.06" text-anchor="end" >-10<tspan dy="-1.73" font-size="3.36">2</tspan></text>
<text x="52.10" y="501.80" font-size="4.8" fill="#444" stroke="#444" stroke-width="0.06" text-anchor="middle" >0</text>
<text x="76.20" y="501.80" font-size="4.8" fill="#444" stroke="#444" stroke-width="0.06" text-anchor="middle" >10<tspan dy="-1.73" font-size="3.36">3</tspan></text>
<text x="97.70" y="501.80" font-size="4.8" fill="#444" stroke="#444" stroke-width="0.06" text-anchor="middle" >10<tspan dy="-1.73" font-size="3.36">4</tspan></text>
<text x="118.80" y="501.80" font-size="4.8" fill="#444" stroke="#444" stroke-width="0.06" text-anchor="middle" >10<tspan dy="-1.73" font-size="3.36">5</tspan></text>
<rect x="35.50" y="483.60" width="2.40" height="2.00" fill="#111"/>
<rect x="45.50" y="495.00" width="5.50" height="1.60" fill="#222"/>
<text x="55.00" y="402.80" font-size="8.6" fill="#333" stroke="#333" stroke-width="0.12" textLength="48.70" lengthAdjust="spacingAndGlyphs" >αNK1.1 WT</text>
<defs><clipPath id="clipO2"><rect x="140.4" y="405.9" width="88.9" height="89.5"/></clipPath></defs>
<rect x="140.40" y="405.90" width="88.90" height="89.50" fill="#fff"/>
<g clip-path="url(#clipO2)">
<path fill="#888" d="M170.6 483.4h0.6v0.6h-0.6zM185.3 454.3h0.6v0.6h-0.6zM198.8 482.1h0.6v0.6h-0.6zM190.3 449.1h0.6v0.6h-0.6zM193.1 435.4h0.6v0.6h-0.6zM163.2 462.4h0.6v0.6h-0.6zM184.1 439.4h0.6v0.6h-0.6zM194.2 470.1h0.6v0.6h-0.6zM146.3 453.9h0.6v0.6h-0.6zM155.3 434.8h0.6v0.6h-0.6zM192.5 479.9h0.6v0.6h-0.6zM181.5 453.0h0.6v0.6h-0.6zM172.0 453.4h0.6v0.6h-0.6zM148.2 443.2h0.6v0.6h-0.6zM158.1 429.1h0.6v0.6h-0.6zM155.9 444.8h0.6v0.6h-0.6zM186.6 439.2h0.6v0.6h-0.6zM188.5 454.3h0.6v0.6h-0.6zM180.0 437.7h0.6v0.6h-0.6zM156.6 458.0h0.6v0.6h-0.6zM184.4 438.5h0.6v0.6h-0.6zM178.6 448.7h0.6v0.6h-0.6zM200.8 432.8h0.6v0.6h-0.6zM186.8 467.7h0.6v0.6h-0.6zM192.7 469.8h0.6v0.6h-0.6zM179.1 443.5h0.6v0.6h-0.6zM157.8 443.4h0.6v0.6h-0.6zM178.7 490.4h0.6v0.6h-0.6zM179.7 484.1h0.6v0.6h-0.6zM192.6 485.9h0.6v0.6h-0.6zM189.7 484.9h0.6v0.6h-0.6zM190.3 462.3h0.6v0.6h-0.6zM192.6 478.3h0.6v0.6h-0.6zM171.1 453.7h0.6v0.6h-0.6zM181.0 450.2h0.6v0.6h-0.6zM179.3 484.9h0.6v0.6h-0.6zM186.4 439.1h0.6v0.6h-0.6zM182.9 490.1h0.6v0.6h-0.6zM194.9 453.3h0.6v0.6h-0.6zM156.7 445.4h0.6v0.6h-0.6zM182.9 478.6h0.6v0.6h-0.6zM178.1 482.7h0.6v0.6h-0.6zM196.3 433.9h0.6v0.6h-0.6zM170.0 458.9h0.6v0.6h-0.6zM164.6 444.2h0.6v0.6h-0.6zM164.8 459.6h0.6v0.6h-0.6zM170.2 454.2h0.6v0.6h-0.6zM191.1 482.9h0.6v0.6h-0.6zM183.4 487.8h0.6v0.6h-0.6zM189.9 485.2h0.6v0.6h-0.6zM191.0 438.3h0.6v0.6h-0.6zM183.5 445.8h0.6v0.6h-0.6zM179.1 447.4h0.6v0.6h-0.6zM166.8 454.0h0.6v0.6h-0.6zM192.6 453.5h0.6v0.6h-0.6zM174.4 443.1h0.6v0.6h-0.6zM156.8 444.4h0.6v0.6h-0.6zM160.6 438.8h0.6v0.6h-0.6zM149.2 437.2h0.6v0.6h-0.6zM183.5 441.0h0.6v0.6h-0.6zM165.1 442.8h0.6v0.6h-0.6zM170.9 440.4h0.6v0.6h-0.6zM187.5 480.0h0.6v0.6h-0.6zM197.1 446.2h0.6v0.6h-0.6zM179.2 438.4h0.6v0.6h-0.6zM175.4 441.8h0.6v0.6h-0.6zM193.8 437.0h0.6v0.6h-0.6zM199.7 455.0h0.6v0.6h-0.6zM190.4 464.0h0.6v0.6h-0.6zM202.2 480.0h0.6v0.6h-0.6zM172.2 459.0h0.6v0.6h-0.6zM178.0 445.1h0.6v0.6h-0.6zM149.2 451.1h0.6v0.6h-0.6zM190.7 447.9h0.6v0.6h-0.6zM184.6 445.0h0.6v0.6h-0.6zM170.0 429.8h0.6v0.6h-0.6zM140.8 454.5h0.6v0.6h-0.6zM189.5 483.7h0.6v0.6h-0.6zM154.8 430.3h0.6v0.6h-0.6zM175.3 444.6h0.6v0.6h-0.6zM163.2 450.9h0.6v0.6h-0.6zM196.1 460.0h0.6v0.6h-0.6zM190.7 452.5h0.6v0.6h-0.6zM182.2 444.4h0.6v0.6h-0.6zM188.5 439.7h0.6v0.6h-0.6zM188.0 458.6h0.6v0.6h-0.6zM180.6 462.1h0.6v0.6h-0.6zM157.0 454.4h0.6v0.6h-0.6zM165.5 446.8h0.6v0.6h-0.6zM148.7 467.6h0.6v0.6h-0.6zM176.6 441.5h0.6v0.6h-0.6zM150.5 443.7h0.6v0.6h-0.6zM195.0 491.2h0.6v0.6h-0.6zM181.7 449.9h0.6v0.6h-0.6zM166.4 454.8h0.6v0.6h-0.6zM170.9 450.5h0.6v0.6h-0.6zM191.6 487.1h0.6v0.6h-0.6zM177.3 476.4h0.6v0.6h-0.6zM197.7 483.2h0.6v0.6h-0.6zM169.0 463.8h0.6v0.6h-0.6zM159.1 429.6h0.6v0.6h-0.6zM198.8 489.4h0.6v0.6h-0.6zM171.7 433.0h0.6v0.6h-0.6zM157.4 449.7h0.6v0.6h-0.6zM197.0 472.9h0.6v0.6h-0.6zM177.3 447.7h0.6v0.6h-0.6zM192.1 480.4h0.6v0.6h-0.6zM191.8 477.1h0.6v0.6h-0.6zM186.8 495.4h0.6v0.6h-0.6zM162.1 451.3h0.6v0.6h-0.6zM148.1 436.9h0.6v0.6h-0.6zM145.3 437.4h0.6v0.6h-0.6zM181.7 484.1h0.6v0.6h-0.6zM184.2 474.0h0.6v0.6h-0.6zM167.2 430.5h0.6v0.6h-0.6zM182.8 450.4h0.6v0.6h-0.6zM186.3 488.4h0.6v0.6h-0.6zM164.4 456.1h0.6v0.6h-0.6zM156.1 439.6h0.6v0.6h-0.6zM180.6 474.1h0.6v0.6h-0.6zM165.3 432.9h0.6v0.6h-0.6zM191.6 494.3h0.6v0.6h-0.6zM196.7 482.5h0.6v0.6h-0.6zM191.8 451.6h0.6v0.6h-0.6zM185.6 477.5h0.6v0.6h-0.6zM182.1 479.8h0.6v0.6h-0.6zM168.6 461.0h0.6v0.6h-0.6zM191.4 464.2h0.6v0.6h-0.6zM179.2 494.9h0.6v0.6h-0.6zM149.0 465.9h0.6v0.6h-0.6zM192.5 445.7h0.6v0.6h-0.6zM182.8 475.9h0.6v0.6h-0.6zM182.0 488.7h0.6v0.6h-0.6zM178.4 449.5h0.6v0.6h-0.6zM180.9 477.3h0.6v0.6h-0.6zM168.3 428.9h0.6v0.6h-0.6zM185.9 464.5h0.6v0.6h-0.6zM194.7 442.2h0.6v0.6h-0.6zM189.2 481.5h0.6v0.6h-0.6zM175.9 447.9h0.6v0.6h-0.6zM180.2 484.9h0.6v0.6h-0.6zM165.4 456.3h0.6v0.6h-0.6zM183.5 444.1h0.6v0.6h-0.6zM161.2 439.8h0.6v0.6h-0.6zM186.2 483.1h0.6v0.6h-0.6zM190.4 455.1h0.6v0.6h-0.6zM192.0 494.2h0.6v0.6h-0.6zM172.8 443.2h0.6v0.6h-0.6zM176.5 486.6h0.6v0.6h-0.6zM150.4 440.6h0.6v0.6h-0.6zM198.2 477.9h0.6v0.6h-0.6zM177.4 496.4h0.6v0.6h-0.6zM187.3 486.4h0.6v0.6h-0.6zM174.5 450.2h0.6v0.6h-0.6zM192.1 484.9h0.6v0.6h-0.6zM187.7 480.7h0.6v0.6h-0.6zM183.6 461.0h0.6v0.6h-0.6zM187.3 455.1h0.6v0.6h-0.6zM190.9 477.9h0.6v0.6h-0.6zM161.5 460.9h0.6v0.6h-0.6zM197.8 448.2h0.6v0.6h-0.6zM188.7 473.8h0.6v0.6h-0.6zM146.4 441.4h0.6v0.6h-0.6zM174.1 480.3h0.6v0.6h-0.6zM187.3 457.9h0.6v0.6h-0.6zM182.3 469.2h0.6v0.6h-0.6zM195.4 466.4h0.6v0.6h-0.6zM167.3 451.9h0.6v0.6h-0.6zM184.4 442.7h0.6v0.6h-0.6zM185.6 485.8h0.6v0.6h-0.6zM174.3 483.0h0.6v0.6h-0.6zM194.4 470.9h0.6v0.6h-0.6zM187.8 480.6h0.6v0.6h-0.6zM185.2 489.2h0.6v0.6h-0.6zM154.2 457.7h0.6v0.6h-0.6zM169.0 438.2h0.6v0.6h-0.6zM199.1 481.6h0.6v0.6h-0.6zM199.4 435.0h0.6v0.6h-0.6zM160.1 425.3h0.6v0.6h-0.6zM188.9 486.7h0.6v0.6h-0.6zM179.5 476.8h0.6v0.6h-0.6zM187.9 491.8h0.6v0.6h-0.6zM191.6 478.1h0.6v0.6h-0.6zM186.1 484.2h0.6v0.6h-0.6zM177.9 483.3h0.6v0.6h-0.6zM174.9 448.0h0.6v0.6h-0.6zM163.8 449.1h0.6v0.6h-0.6zM163.4 448.2h0.6v0.6h-0.6zM157.9 419.6h0.6v0.6h-0.6zM190.5 447.1h0.6v0.6h-0.6zM178.5 451.7h0.6v0.6h-0.6zM187.6 439.5h0.6v0.6h-0.6zM198.8 471.1h0.6v0.6h-0.6zM177.2 492.9h0.6v0.6h-0.6zM191.6 447.6h0.6v0.6h-0.6zM191.5 476.1h0.6v0.6h-0.6zM184.9 445.3h0.6v0.6h-0.6zM144.6 447.9h0.6v0.6h-0.6zM154.3 453.7h0.6v0.6h-0.6zM182.5 470.0h0.6v0.6h-0.6zM181.6 455.2h0.6v0.6h-0.6zM185.2 449.8h0.6v0.6h-0.6zM185.1 488.7h0.6v0.6h-0.6zM188.3 462.7h0.6v0.6h-0.6zM189.1 468.2h0.6v0.6h-0.6zM189.4 457.0h0.6v0.6h-0.6zM182.1 454.7h0.6v0.6h-0.6zM170.0 485.4h0.6v0.6h-0.6zM149.6 451.6h0.6v0.6h-0.6zM183.1 448.2h0.6v0.6h-0.6zM192.0 494.6h0.6v0.6h-0.6zM153.3 435.5h0.6v0.6h-0.6zM185.1 485.4h0.6v0.6h-0.6zM155.7 441.2h0.6v0.6h-0.6zM183.4 480.0h0.6v0.6h-0.6zM194.8 450.9h0.6v0.6h-0.6zM195.6 456.0h0.6v0.6h-0.6zM190.8 483.8h0.6v0.6h-0.6zM188.2 444.7h0.6v0.6h-0.6zM176.6 447.2h0.6v0.6h-0.6zM165.5 455.7h0.6v0.6h-0.6zM184.2 484.2h0.6v0.6h-0.6zM160.9 459.2h0.6v0.6h-0.6zM151.8 429.7h0.6v0.6h-0.6zM186.9 479.6h0.6v0.6h-0.6zM168.0 477.0h0.6v0.6h-0.6zM186.6 435.9h0.6v0.6h-0.6zM151.6 444.4h0.6v0.6h-0.6zM174.3 454.3h0.6v0.6h-0.6zM182.8 447.8h0.6v0.6h-0.6zM177.8 483.4h0.6v0.6h-0.6zM185.5 477.8h0.6v0.6h-0.6zM176.2 478.2h0.6v0.6h-0.6zM190.2 456.0h0.6v0.6h-0.6zM187.7 439.9h0.6v0.6h-0.6zM167.4 458.1h0.6v0.6h-0.6zM189.1 437.8h0.6v0.6h-0.6zM181.0 492.2h0.6v0.6h-0.6zM190.4 478.2h0.6v0.6h-0.6zM179.0 474.3h0.6v0.6h-0.6zM176.8 492.8h0.6v0.6h-0.6zM183.2 484.5h0.6v0.6h-0.6zM174.4 450.3h0.6v0.6h-0.6zM153.2 430.8h0.6v0.6h-0.6zM187.6 464.5h0.6v0.6h-0.6zM177.5 446.6h0.6v0.6h-0.6zM191.1 476.6h0.6v0.6h-0.6zM154.4 459.6h0.6v0.6h-0.6zM193.2 451.1h0.6v0.6h-0.6zM188.4 436.8h0.6v0.6h-0.6zM187.2 451.2h0.6v0.6h-0.6zM185.3 476.2h0.6v0.6h-0.6zM196.9 460.7h0.6v0.6h-0.6zM153.8 435.6h0.6v0.6h-0.6zM178.2 483.8h0.6v0.6h-0.6zM170.3 453.8h0.6v0.6h-0.6zM177.3 452.8h0.6v0.6h-0.6zM157.5 452.0h0.6v0.6h-0.6zM183.0 460.6h0.6v0.6h-0.6zM183.1 440.3h0.6v0.6h-0.6zM187.8 429.6h0.6v0.6h-0.6zM171.0 466.5h0.6v0.6h-0.6zM158.0 447.4h0.6v0.6h-0.6zM189.5 445.9h0.6v0.6h-0.6zM157.0 442.2h0.6v0.6h-0.6zM187.3 459.6h0.6v0.6h-0.6zM194.3 435.6h0.6v0.6h-0.6zM184.9 462.8h0.6v0.6h-0.6zM164.3 448.4h0.6v0.6h-0.6zM179.1 476.0h0.6v0.6h-0.6zM191.3 473.9h0.6v0.6h-0.6zM191.2 485.2h0.6v0.6h-0.6zM200.2 466.3h0.6v0.6h-0.6zM193.6 455.6h0.6v0.6h-0.6zM174.5 452.0h0.6v0.6h-0.6zM194.8 488.9h0.6v0.6h-0.6zM140.7 439.6h0.6v0.6h-0.6zM189.3 435.3h0.6v0.6h-0.6zM180.4 443.2h0.6v0.6h-0.6zM192.0 446.5h0.6v0.6h-0.6zM180.4 488.2h0.6v0.6h-0.6zM188.9 450.6h0.6v0.6h-0.6zM177.4 440.3h0.6v0.6h-0.6zM142.9 443.0h0.6v0.6h-0.6zM192.6 451.0h0.6v0.6h-0.6zM175.8 448.2h0.6v0.6h-0.6zM186.8 437.8h0.6v0.6h-0.6zM184.3 438.2h0.6v0.6h-0.6zM176.1 449.5h0.6v0.6h-0.6zM151.1 438.0h0.6v0.6h-0.6zM162.5 450.6h0.6v0.6h-0.6zM154.2 437.7h0.6v0.6h-0.6zM152.6 444.0h0.6v0.6h-0.6zM176.3 483.0h0.6v0.6h-0.6zM186.0 480.8h0.6v0.6h-0.6zM163.1 455.9h0.6v0.6h-0.6zM196.0 484.9h0.6v0.6h-0.6zM190.4 485.2h0.6v0.6h-0.6zM186.7 444.3h0.6v0.6h-0.6zM179.8 480.4h0.6v0.6h-0.6zM190.3 480.5h0.6v0.6h-0.6z"/>
<path fill="#777" d="M187.7 454.1h0.6v0.6h-0.6zM189.5 472.6h0.6v0.6h-0.6zM185.0 487.1h0.6v0.6h-0.6zM197.4 437.9h0.6v0.6h-0.6zM158.8 441.9h0.6v0.6h-0.6zM148.3 435.6h0.6v0.6h-0.6zM179.8 481.0h0.6v0.6h-0.6zM178.6 458.1h0.6v0.6h-0.6zM185.1 436.4h0.6v0.6h-0.6zM142.1 443.3h0.6v0.6h-0.6zM146.4 435.5h0.6v0.6h-0.6zM156.4 437.1h0.6v0.6h-0.6zM188.4 472.6h0.6v0.6h-0.6zM161.5 427.3h0.6v0.6h-0.6zM197.4 481.7h0.6v0.6h-0.6zM167.0 456.3h0.6v0.6h-0.6zM174.6 444.5h0.6v0.6h-0.6zM138.8 434.3h0.6v0.6h-0.6zM156.0 442.8h0.6v0.6h-0.6zM159.3 450.7h0.6v0.6h-0.6zM176.6 451.7h0.6v0.6h-0.6zM179.2 481.8h0.6v0.6h-0.6zM191.4 447.2h0.6v0.6h-0.6zM184.7 453.5h0.6v0.6h-0.6zM189.2 456.2h0.6v0.6h-0.6zM145.6 444.4h0.6v0.6h-0.6zM169.7 465.7h0.6v0.6h-0.6zM189.7 492.0h0.6v0.6h-0.6zM183.7 453.3h0.6v0.6h-0.6zM175.0 453.6h0.6v0.6h-0.6zM156.1 431.5h0.6v0.6h-0.6zM188.4 483.3h0.6v0.6h-0.6zM181.9 478.7h0.6v0.6h-0.6zM184.4 439.0h0.6v0.6h-0.6zM184.1 432.2h0.6v0.6h-0.6zM185.9 484.1h0.6v0.6h-0.6zM187.4 475.1h0.6v0.6h-0.6zM177.9 436.4h0.6v0.6h-0.6zM187.2 481.2h0.6v0.6h-0.6zM181.9 489.6h0.6v0.6h-0.6zM177.0 447.7h0.6v0.6h-0.6zM187.5 486.6h0.6v0.6h-0.6zM171.2 477.3h0.6v0.6h-0.6zM176.5 475.7h0.6v0.6h-0.6zM179.5 448.3h0.6v0.6h-0.6zM195.2 448.0h0.6v0.6h-0.6zM170.7 461.3h0.6v0.6h-0.6zM173.2 483.5h0.6v0.6h-0.6zM202.2 472.6h0.6v0.6h-0.6zM168.7 450.3h0.6v0.6h-0.6zM192.3 453.0h0.6v0.6h-0.6zM190.0 468.5h0.6v0.6h-0.6zM197.5 446.9h0.6v0.6h-0.6zM143.1 431.1h0.6v0.6h-0.6zM174.9 446.8h0.6v0.6h-0.6zM176.8 478.9h0.6v0.6h-0.6zM179.7 474.6h0.6v0.6h-0.6zM185.6 484.5h0.6v0.6h-0.6zM192.0 473.2h0.6v0.6h-0.6zM147.6 464.9h0.6v0.6h-0.6zM182.1 477.5h0.6v0.6h-0.6zM179.4 447.7h0.6v0.6h-0.6zM185.7 489.6h0.6v0.6h-0.6zM187.6 486.8h0.6v0.6h-0.6zM166.4 444.2h0.6v0.6h-0.6zM178.3 478.5h0.6v0.6h-0.6zM141.4 441.5h0.6v0.6h-0.6zM195.2 459.0h0.6v0.6h-0.6zM166.0 446.2h0.6v0.6h-0.6zM191.8 448.8h0.6v0.6h-0.6zM154.6 440.9h0.6v0.6h-0.6zM191.2 464.0h0.6v0.6h-0.6zM173.6 454.5h0.6v0.6h-0.6zM174.7 442.7h0.6v0.6h-0.6zM182.1 479.7h0.6v0.6h-0.6zM184.4 496.0h0.6v0.6h-0.6zM182.5 438.9h0.6v0.6h-0.6zM193.7 486.7h0.6v0.6h-0.6zM151.9 433.8h0.6v0.6h-0.6zM177.7 472.8h0.6v0.6h-0.6zM144.2 441.6h0.6v0.6h-0.6zM155.9 449.7h0.6v0.6h-0.6zM176.2 477.6h0.6v0.6h-0.6zM185.6 491.0h0.6v0.6h-0.6zM172.8 487.9h0.6v0.6h-0.6zM188.2 468.6h0.6v0.6h-0.6zM197.7 454.9h0.6v0.6h-0.6zM195.0 433.5h0.6v0.6h-0.6zM186.2 464.7h0.6v0.6h-0.6zM158.6 437.6h0.6v0.6h-0.6zM161.4 439.2h0.6v0.6h-0.6zM187.7 481.2h0.6v0.6h-0.6zM182.3 438.5h0.6v0.6h-0.6zM191.0 457.0h0.6v0.6h-0.6zM180.6 488.4h0.6v0.6h-0.6zM190.1 446.0h0.6v0.6h-0.6zM136.2 425.8h0.6v0.6h-0.6zM189.2 437.2h0.6v0.6h-0.6zM140.0 439.9h0.6v0.6h-0.6zM183.5 481.2h0.6v0.6h-0.6zM187.2 441.0h0.6v0.6h-0.6zM170.9 449.2h0.6v0.6h-0.6zM158.0 436.7h0.6v0.6h-0.6zM149.6 432.4h0.6v0.6h-0.6zM191.3 442.2h0.6v0.6h-0.6zM160.0 457.4h0.6v0.6h-0.6zM190.4 483.2h0.6v0.6h-0.6zM183.9 445.3h0.6v0.6h-0.6zM180.2 456.2h0.6v0.6h-0.6zM157.7 433.7h0.6v0.6h-0.6zM190.0 486.6h0.6v0.6h-0.6zM190.3 450.7h0.6v0.6h-0.6zM164.1 441.9h0.6v0.6h-0.6zM180.7 479.8h0.6v0.6h-0.6zM182.2 477.6h0.6v0.6h-0.6zM191.5 475.8h0.6v0.6h-0.6zM194.0 485.0h0.6v0.6h-0.6zM144.5 432.1h0.6v0.6h-0.6zM150.8 444.5h0.6v0.6h-0.6zM187.3 471.9h0.6v0.6h-0.6zM146.4 439.0h0.6v0.6h-0.6zM189.9 482.0h0.6v0.6h-0.6zM183.8 447.8h0.6v0.6h-0.6zM184.7 433.8h0.6v0.6h-0.6zM185.9 444.7h0.6v0.6h-0.6zM188.7 492.6h0.6v0.6h-0.6zM190.7 458.5h0.6v0.6h-0.6zM141.2 475.0h0.6v0.6h-0.6zM180.1 480.9h0.6v0.6h-0.6zM194.0 475.7h0.6v0.6h-0.6zM190.1 454.8h0.6v0.6h-0.6zM189.8 467.8h0.6v0.6h-0.6zM186.3 475.4h0.6v0.6h-0.6zM152.1 444.5h0.6v0.6h-0.6zM192.6 469.9h0.6v0.6h-0.6zM189.0 461.1h0.6v0.6h-0.6zM173.4 461.1h0.6v0.6h-0.6zM201.9 483.0h0.6v0.6h-0.6zM196.6 486.0h0.6v0.6h-0.6zM196.4 447.8h0.6v0.6h-0.6zM194.6 482.7h0.6v0.6h-0.6zM161.5 455.0h0.6v0.6h-0.6zM157.7 444.7h0.6v0.6h-0.6zM174.7 448.7h0.6v0.6h-0.6zM186.4 478.5h0.6v0.6h-0.6zM174.2 477.6h0.6v0.6h-0.6zM192.9 457.0h0.6v0.6h-0.6zM188.6 444.1h0.6v0.6h-0.6zM182.0 477.5h0.6v0.6h-0.6zM192.3 451.7h0.6v0.6h-0.6zM195.3 454.9h0.6v0.6h-0.6zM178.5 477.5h0.6v0.6h-0.6zM188.9 440.0h0.6v0.6h-0.6zM203.8 479.6h0.6v0.6h-0.6zM197.6 433.6h0.6v0.6h-0.6zM187.8 468.6h0.6v0.6h-0.6zM191.2 451.3h0.6v0.6h-0.6zM203.6 434.8h0.6v0.6h-0.6zM182.7 443.8h0.6v0.6h-0.6zM161.1 459.8h0.6v0.6h-0.6zM194.2 458.6h0.6v0.6h-0.6zM183.4 475.2h0.6v0.6h-0.6zM191.9 436.4h0.6v0.6h-0.6zM168.9 454.8h0.6v0.6h-0.6zM169.2 476.5h0.6v0.6h-0.6zM144.7 465.6h0.6v0.6h-0.6zM179.8 479.7h0.6v0.6h-0.6zM189.4 482.9h0.6v0.6h-0.6zM180.4 480.9h0.6v0.6h-0.6zM171.9 448.9h0.6v0.6h-0.6zM151.4 438.1h0.6v0.6h-0.6zM191.5 453.0h0.6v0.6h-0.6zM180.3 439.0h0.6v0.6h-0.6zM184.7 484.8h0.6v0.6h-0.6zM184.2 478.0h0.6v0.6h-0.6zM160.7 444.0h0.6v0.6h-0.6zM167.1 442.9h0.6v0.6h-0.6zM150.5 448.6h0.6v0.6h-0.6zM144.6 467.8h0.6v0.6h-0.6zM150.1 448.1h0.6v0.6h-0.6zM181.7 475.9h0.6v0.6h-0.6zM190.6 476.7h0.6v0.6h-0.6zM177.8 455.4h0.6v0.6h-0.6zM148.3 437.9h0.6v0.6h-0.6zM174.6 478.1h0.6v0.6h-0.6zM175.4 485.1h0.6v0.6h-0.6zM182.6 477.5h0.6v0.6h-0.6zM187.2 451.6h0.6v0.6h-0.6zM150.6 446.8h0.6v0.6h-0.6zM152.9 443.6h0.6v0.6h-0.6zM155.1 432.7h0.6v0.6h-0.6zM183.1 475.1h0.6v0.6h-0.6zM195.0 487.6h0.6v0.6h-0.6zM187.2 473.3h0.6v0.6h-0.6zM168.0 452.7h0.6v0.6h-0.6zM181.9 481.6h0.6v0.6h-0.6zM194.1 475.9h0.6v0.6h-0.6zM183.8 447.1h0.6v0.6h-0.6zM156.4 437.2h0.6v0.6h-0.6zM180.8 490.7h0.6v0.6h-0.6zM155.8 448.7h0.6v0.6h-0.6zM190.0 435.6h0.6v0.6h-0.6zM181.4 479.3h0.6v0.6h-0.6zM157.1 435.2h0.6v0.6h-0.6zM183.6 477.8h0.6v0.6h-0.6zM157.9 434.9h0.6v0.6h-0.6zM155.9 446.0h0.6v0.6h-0.6zM160.9 447.4h0.6v0.6h-0.6zM156.3 444.3h0.6v0.6h-0.6zM183.2 492.6h0.6v0.6h-0.6zM178.9 487.4h0.6v0.6h-0.6zM192.9 477.9h0.6v0.6h-0.6zM188.4 456.9h0.6v0.6h-0.6zM174.1 435.9h0.6v0.6h-0.6zM179.5 486.0h0.6v0.6h-0.6zM180.5 448.6h0.6v0.6h-0.6zM190.4 480.1h0.6v0.6h-0.6zM165.0 429.8h0.6v0.6h-0.6zM168.7 465.2h0.6v0.6h-0.6zM165.6 451.1h0.6v0.6h-0.6zM143.0 428.6h0.6v0.6h-0.6zM193.7 479.9h0.6v0.6h-0.6zM184.3 429.2h0.6v0.6h-0.6zM170.9 480.2h0.6v0.6h-0.6zM190.1 492.0h0.6v0.6h-0.6zM192.4 477.2h0.6v0.6h-0.6zM186.4 472.6h0.6v0.6h-0.6zM193.2 450.9h0.6v0.6h-0.6zM183.8 439.7h0.6v0.6h-0.6zM198.1 434.0h0.6v0.6h-0.6zM168.7 458.2h0.6v0.6h-0.6zM189.7 477.1h0.6v0.6h-0.6zM145.5 444.3h0.6v0.6h-0.6zM190.0 447.7h0.6v0.6h-0.6zM198.6 442.6h0.6v0.6h-0.6zM178.4 445.9h0.6v0.6h-0.6zM193.4 453.8h0.6v0.6h-0.6zM182.6 478.9h0.6v0.6h-0.6zM178.0 478.1h0.6v0.6h-0.6zM197.6 481.5h0.6v0.6h-0.6zM159.4 440.9h0.6v0.6h-0.6zM186.1 495.7h0.6v0.6h-0.6zM154.6 441.6h0.6v0.6h-0.6zM192.8 490.2h0.6v0.6h-0.6zM150.6 445.4h0.6v0.6h-0.6zM193.8 463.9h0.6v0.6h-0.6zM189.5 447.0h0.6v0.6h-0.6zM158.3 455.2h0.6v0.6h-0.6zM192.6 437.9h0.6v0.6h-0.6zM187.5 482.3h0.6v0.6h-0.6zM187.0 447.6h0.6v0.6h-0.6zM182.5 482.2h0.6v0.6h-0.6zM197.7 470.4h0.6v0.6h-0.6zM153.6 434.4h0.6v0.6h-0.6zM159.0 448.1h0.6v0.6h-0.6zM190.4 482.9h0.6v0.6h-0.6zM156.3 446.6h0.6v0.6h-0.6zM186.9 478.9h0.6v0.6h-0.6zM191.4 455.4h0.6v0.6h-0.6zM166.7 438.5h0.6v0.6h-0.6zM184.0 464.3h0.6v0.6h-0.6zM187.9 444.2h0.6v0.6h-0.6zM175.6 448.2h0.6v0.6h-0.6zM180.8 436.3h0.6v0.6h-0.6zM146.2 451.1h0.6v0.6h-0.6zM199.6 456.3h0.6v0.6h-0.6zM181.7 480.9h0.6v0.6h-0.6zM171.3 483.8h0.6v0.6h-0.6zM198.4 471.3h0.6v0.6h-0.6zM158.7 454.1h0.6v0.6h-0.6zM178.1 442.4h0.6v0.6h-0.6zM191.3 439.8h0.6v0.6h-0.6zM186.7 460.5h0.6v0.6h-0.6zM166.4 458.9h0.6v0.6h-0.6zM186.8 461.9h0.6v0.6h-0.6zM172.0 489.7h0.6v0.6h-0.6zM191.8 457.8h0.6v0.6h-0.6zM143.7 455.2h0.6v0.6h-0.6zM187.9 443.5h0.6v0.6h-0.6zM168.8 451.2h0.6v0.6h-0.6zM182.4 435.0h0.6v0.6h-0.6zM191.7 475.5h0.6v0.6h-0.6zM187.6 473.3h0.6v0.6h-0.6zM173.9 448.3h0.6v0.6h-0.6zM169.7 452.8h0.6v0.6h-0.6zM181.5 482.3h0.6v0.6h-0.6zM204.4 495.6h0.6v0.6h-0.6zM167.9 478.9h0.6v0.6h-0.6zM198.3 486.1h0.6v0.6h-0.6zM188.6 486.6h0.6v0.6h-0.6zM153.4 441.3h0.6v0.6h-0.6zM199.7 456.2h0.6v0.6h-0.6zM193.0 429.3h0.6v0.6h-0.6zM138.0 447.8h0.6v0.6h-0.6zM187.0 468.5h0.6v0.6h-0.6zM170.7 450.3h0.6v0.6h-0.6zM184.3 440.9h0.6v0.6h-0.6zM180.3 484.4h0.6v0.6h-0.6zM173.0 485.0h0.6v0.6h-0.6zM147.9 455.5h0.6v0.6h-0.6zM182.9 464.0h0.6v0.6h-0.6zM191.3 480.3h0.6v0.6h-0.6zM196.6 452.8h0.6v0.6h-0.6zM185.8 432.9h0.6v0.6h-0.6z"/>
<path fill="#999" d="M194.1 451.8h0.6v0.6h-0.6zM180.2 479.4h0.6v0.6h-0.6zM175.0 486.4h0.6v0.6h-0.6zM185.0 483.1h0.6v0.6h-0.6zM194.2 471.0h0.6v0.6h-0.6zM191.3 473.4h0.6v0.6h-0.6zM161.5 440.6h0.6v0.6h-0.6zM206.6 484.8h0.6v0.6h-0.6zM188.3 478.4h0.6v0.6h-0.6zM191.2 445.3h0.6v0.6h-0.6zM145.1 425.8h0.6v0.6h-0.6zM197.1 478.7h0.6v0.6h-0.6zM169.8 475.1h0.6v0.6h-0.6zM180.7 470.7h0.6v0.6h-0.6zM182.9 472.5h0.6v0.6h-0.6zM175.5 476.3h0.6v0.6h-0.6zM185.6 483.5h0.6v0.6h-0.6zM161.5 452.8h0.6v0.6h-0.6zM155.3 434.8h0.6v0.6h-0.6zM165.3 443.9h0.6v0.6h-0.6zM180.5 482.9h0.6v0.6h-0.6zM206.5 479.5h0.6v0.6h-0.6zM157.6 424.2h0.6v0.6h-0.6zM138.2 456.2h0.6v0.6h-0.6zM162.2 457.0h0.6v0.6h-0.6zM190.4 494.4h0.6v0.6h-0.6zM154.4 436.8h0.6v0.6h-0.6zM173.2 442.0h0.6v0.6h-0.6zM190.6 481.6h0.6v0.6h-0.6zM179.3 486.9h0.6v0.6h-0.6zM193.1 445.1h0.6v0.6h-0.6zM154.7 441.1h0.6v0.6h-0.6zM193.4 494.6h0.6v0.6h-0.6zM173.1 482.0h0.6v0.6h-0.6zM194.8 471.0h0.6v0.6h-0.6zM179.2 483.5h0.6v0.6h-0.6zM189.7 475.8h0.6v0.6h-0.6zM156.9 440.9h0.6v0.6h-0.6zM189.9 484.1h0.6v0.6h-0.6zM151.1 445.9h0.6v0.6h-0.6zM191.5 435.8h0.6v0.6h-0.6zM193.3 431.4h0.6v0.6h-0.6zM157.3 441.1h0.6v0.6h-0.6zM176.1 476.8h0.6v0.6h-0.6zM175.1 476.5h0.6v0.6h-0.6zM190.9 480.3h0.6v0.6h-0.6zM189.2 482.7h0.6v0.6h-0.6zM179.8 477.9h0.6v0.6h-0.6zM192.3 481.9h0.6v0.6h-0.6zM183.4 434.0h0.6v0.6h-0.6zM163.8 435.5h0.6v0.6h-0.6zM179.8 490.9h0.6v0.6h-0.6zM193.0 461.1h0.6v0.6h-0.6zM191.8 492.5h0.6v0.6h-0.6zM194.7 448.0h0.6v0.6h-0.6zM178.8 481.6h0.6v0.6h-0.6zM180.9 479.5h0.6v0.6h-0.6zM197.1 457.5h0.6v0.6h-0.6zM182.8 483.8h0.6v0.6h-0.6zM184.0 452.0h0.6v0.6h-0.6zM154.8 435.0h0.6v0.6h-0.6zM162.0 455.9h0.6v0.6h-0.6zM146.6 437.9h0.6v0.6h-0.6zM172.8 459.1h0.6v0.6h-0.6zM165.4 451.3h0.6v0.6h-0.6zM186.5 482.4h0.6v0.6h-0.6zM195.1 431.5h0.6v0.6h-0.6zM181.4 446.5h0.6v0.6h-0.6zM173.0 428.8h0.6v0.6h-0.6zM186.6 444.1h0.6v0.6h-0.6zM176.5 477.7h0.6v0.6h-0.6zM189.0 485.5h0.6v0.6h-0.6zM166.9 450.5h0.6v0.6h-0.6zM199.7 445.3h0.6v0.6h-0.6zM155.4 461.3h0.6v0.6h-0.6zM185.4 475.1h0.6v0.6h-0.6zM160.3 453.1h0.6v0.6h-0.6zM176.9 454.6h0.6v0.6h-0.6zM155.7 438.4h0.6v0.6h-0.6zM194.6 475.0h0.6v0.6h-0.6zM179.4 481.9h0.6v0.6h-0.6zM187.2 479.2h0.6v0.6h-0.6zM181.6 485.0h0.6v0.6h-0.6zM182.3 444.6h0.6v0.6h-0.6zM157.2 448.4h0.6v0.6h-0.6zM190.5 479.5h0.6v0.6h-0.6zM183.6 485.9h0.6v0.6h-0.6zM143.4 444.8h0.6v0.6h-0.6zM172.8 481.6h0.6v0.6h-0.6zM184.5 478.9h0.6v0.6h-0.6zM175.7 438.1h0.6v0.6h-0.6zM192.3 436.8h0.6v0.6h-0.6zM154.3 443.5h0.6v0.6h-0.6zM152.4 453.6h0.6v0.6h-0.6zM182.2 485.4h0.6v0.6h-0.6zM183.3 433.7h0.6v0.6h-0.6zM155.3 444.1h0.6v0.6h-0.6zM183.5 491.0h0.6v0.6h-0.6zM196.1 433.1h0.6v0.6h-0.6zM181.0 487.6h0.6v0.6h-0.6zM197.9 458.4h0.6v0.6h-0.6zM194.2 481.5h0.6v0.6h-0.6zM183.2 490.0h0.6v0.6h-0.6zM201.3 473.4h0.6v0.6h-0.6zM198.2 455.5h0.6v0.6h-0.6zM182.1 481.7h0.6v0.6h-0.6zM189.7 435.4h0.6v0.6h-0.6zM178.6 448.2h0.6v0.6h-0.6zM151.8 441.1h0.6v0.6h-0.6zM177.8 443.9h0.6v0.6h-0.6zM150.1 433.2h0.6v0.6h-0.6zM191.9 446.2h0.6v0.6h-0.6zM189.1 437.5h0.6v0.6h-0.6zM187.1 471.4h0.6v0.6h-0.6zM172.8 442.8h0.6v0.6h-0.6zM183.4 455.3h0.6v0.6h-0.6zM185.8 481.3h0.6v0.6h-0.6zM186.7 435.5h0.6v0.6h-0.6zM160.6 431.2h0.6v0.6h-0.6zM183.1 480.5h0.6v0.6h-0.6zM152.1 430.7h0.6v0.6h-0.6zM157.4 454.5h0.6v0.6h-0.6zM165.5 446.1h0.6v0.6h-0.6zM189.7 494.0h0.6v0.6h-0.6zM177.8 442.8h0.6v0.6h-0.6zM153.2 466.4h0.6v0.6h-0.6zM151.9 430.2h0.6v0.6h-0.6zM191.0 437.9h0.6v0.6h-0.6zM185.1 432.6h0.6v0.6h-0.6zM196.6 442.1h0.6v0.6h-0.6zM175.1 448.6h0.6v0.6h-0.6zM188.3 468.1h0.6v0.6h-0.6zM188.1 451.5h0.6v0.6h-0.6zM190.2 458.6h0.6v0.6h-0.6zM194.3 442.5h0.6v0.6h-0.6zM155.8 448.1h0.6v0.6h-0.6zM187.1 445.4h0.6v0.6h-0.6zM154.0 437.5h0.6v0.6h-0.6zM191.0 461.3h0.6v0.6h-0.6zM147.6 454.9h0.6v0.6h-0.6zM152.5 430.5h0.6v0.6h-0.6zM189.9 453.3h0.6v0.6h-0.6zM173.2 487.0h0.6v0.6h-0.6zM150.8 440.1h0.6v0.6h-0.6zM196.5 453.8h0.6v0.6h-0.6zM152.3 435.7h0.6v0.6h-0.6zM149.2 442.2h0.6v0.6h-0.6zM176.5 484.5h0.6v0.6h-0.6zM198.9 435.9h0.6v0.6h-0.6zM172.2 453.0h0.6v0.6h-0.6zM177.8 450.4h0.6v0.6h-0.6zM180.0 459.0h0.6v0.6h-0.6zM171.8 450.4h0.6v0.6h-0.6zM188.4 438.0h0.6v0.6h-0.6zM158.1 441.5h0.6v0.6h-0.6zM162.5 440.5h0.6v0.6h-0.6zM180.1 467.3h0.6v0.6h-0.6zM158.2 426.8h0.6v0.6h-0.6zM148.4 451.8h0.6v0.6h-0.6zM210.5 482.3h0.6v0.6h-0.6zM166.8 450.4h0.6v0.6h-0.6zM168.5 441.5h0.6v0.6h-0.6zM178.1 452.4h0.6v0.6h-0.6zM155.2 438.8h0.6v0.6h-0.6zM193.1 449.3h0.6v0.6h-0.6zM149.8 429.6h0.6v0.6h-0.6zM184.1 486.1h0.6v0.6h-0.6zM194.8 434.1h0.6v0.6h-0.6zM192.6 454.8h0.6v0.6h-0.6zM174.7 442.9h0.6v0.6h-0.6zM154.8 436.4h0.6v0.6h-0.6zM177.0 446.8h0.6v0.6h-0.6zM179.7 439.2h0.6v0.6h-0.6zM175.9 444.6h0.6v0.6h-0.6zM184.5 460.6h0.6v0.6h-0.6zM192.6 479.2h0.6v0.6h-0.6zM190.0 476.8h0.6v0.6h-0.6zM193.2 478.5h0.6v0.6h-0.6zM179.3 474.0h0.6v0.6h-0.6zM181.9 478.5h0.6v0.6h-0.6zM181.1 445.1h0.6v0.6h-0.6zM189.2 482.2h0.6v0.6h-0.6zM193.2 452.0h0.6v0.6h-0.6zM176.0 484.3h0.6v0.6h-0.6zM189.6 437.0h0.6v0.6h-0.6zM176.8 448.7h0.6v0.6h-0.6zM195.0 448.1h0.6v0.6h-0.6zM144.1 447.0h0.6v0.6h-0.6zM190.7 480.5h0.6v0.6h-0.6zM184.0 476.6h0.6v0.6h-0.6zM156.4 456.5h0.6v0.6h-0.6zM174.2 457.5h0.6v0.6h-0.6zM179.7 436.9h0.6v0.6h-0.6zM199.3 453.8h0.6v0.6h-0.6zM169.0 456.2h0.6v0.6h-0.6zM165.1 464.9h0.6v0.6h-0.6zM187.6 436.8h0.6v0.6h-0.6zM184.1 477.5h0.6v0.6h-0.6zM193.1 474.6h0.6v0.6h-0.6zM186.4 444.5h0.6v0.6h-0.6zM157.6 442.1h0.6v0.6h-0.6zM190.3 475.0h0.6v0.6h-0.6zM183.6 474.3h0.6v0.6h-0.6zM168.1 458.1h0.6v0.6h-0.6zM199.3 432.5h0.6v0.6h-0.6zM167.1 459.5h0.6v0.6h-0.6zM186.1 476.3h0.6v0.6h-0.6zM196.0 462.5h0.6v0.6h-0.6zM184.1 482.1h0.6v0.6h-0.6zM199.7 436.0h0.6v0.6h-0.6zM188.3 463.0h0.6v0.6h-0.6zM193.7 471.0h0.6v0.6h-0.6zM179.5 491.0h0.6v0.6h-0.6zM174.8 468.6h0.6v0.6h-0.6zM189.6 487.6h0.6v0.6h-0.6zM150.8 461.0h0.6v0.6h-0.6zM200.3 456.2h0.6v0.6h-0.6zM172.5 446.1h0.6v0.6h-0.6zM161.4 442.0h0.6v0.6h-0.6zM180.4 477.4h0.6v0.6h-0.6zM177.9 478.8h0.6v0.6h-0.6zM174.1 453.0h0.6v0.6h-0.6zM171.2 446.7h0.6v0.6h-0.6zM159.4 440.3h0.6v0.6h-0.6zM195.7 478.8h0.6v0.6h-0.6zM193.3 467.7h0.6v0.6h-0.6zM168.3 456.0h0.6v0.6h-0.6zM201.2 474.3h0.6v0.6h-0.6zM187.1 486.1h0.6v0.6h-0.6zM176.2 490.7h0.6v0.6h-0.6zM139.7 448.5h0.6v0.6h-0.6zM191.4 455.8h0.6v0.6h-0.6zM194.6 473.7h0.6v0.6h-0.6zM144.0 457.9h0.6v0.6h-0.6zM181.2 476.7h0.6v0.6h-0.6zM166.7 454.1h0.6v0.6h-0.6zM186.8 475.9h0.6v0.6h-0.6zM154.6 446.5h0.6v0.6h-0.6zM187.9 427.4h0.6v0.6h-0.6zM160.3 444.7h0.6v0.6h-0.6zM175.3 453.9h0.6v0.6h-0.6zM192.0 432.8h0.6v0.6h-0.6zM193.7 464.7h0.6v0.6h-0.6zM190.0 459.5h0.6v0.6h-0.6zM180.0 442.0h0.6v0.6h-0.6zM197.2 461.0h0.6v0.6h-0.6zM155.0 439.8h0.6v0.6h-0.6zM145.2 442.7h0.6v0.6h-0.6zM180.6 480.8h0.6v0.6h-0.6zM182.6 482.0h0.6v0.6h-0.6zM195.5 483.8h0.6v0.6h-0.6zM152.5 460.4h0.6v0.6h-0.6zM169.8 452.1h0.6v0.6h-0.6zM141.2 444.0h0.6v0.6h-0.6zM195.6 455.2h0.6v0.6h-0.6zM198.5 475.3h0.6v0.6h-0.6zM183.8 443.3h0.6v0.6h-0.6zM156.8 447.2h0.6v0.6h-0.6zM193.7 484.0h0.6v0.6h-0.6zM163.2 441.0h0.6v0.6h-0.6zM213.5 466.2h0.6v0.6h-0.6zM150.7 438.2h0.6v0.6h-0.6zM156.1 463.0h0.6v0.6h-0.6zM168.2 460.4h0.6v0.6h-0.6zM186.0 480.3h0.6v0.6h-0.6zM185.9 473.7h0.6v0.6h-0.6zM188.3 461.3h0.6v0.6h-0.6zM198.4 473.8h0.6v0.6h-0.6zM180.1 479.0h0.6v0.6h-0.6zM184.4 443.1h0.6v0.6h-0.6zM151.5 448.7h0.6v0.6h-0.6zM185.8 491.6h0.6v0.6h-0.6zM175.0 480.0h0.6v0.6h-0.6zM175.3 448.4h0.6v0.6h-0.6zM177.4 497.4h0.6v0.6h-0.6zM167.3 459.9h0.6v0.6h-0.6zM142.7 444.6h0.6v0.6h-0.6zM190.2 445.6h0.6v0.6h-0.6zM155.7 442.6h0.6v0.6h-0.6zM179.9 486.7h0.6v0.6h-0.6zM184.8 476.5h0.6v0.6h-0.6zM182.5 484.0h0.6v0.6h-0.6zM195.7 460.5h0.6v0.6h-0.6zM194.6 455.4h0.6v0.6h-0.6zM158.8 444.1h0.6v0.6h-0.6zM178.3 477.9h0.6v0.6h-0.6zM181.0 442.6h0.6v0.6h-0.6zM151.8 437.0h0.6v0.6h-0.6zM182.0 481.5h0.6v0.6h-0.6zM162.8 449.7h0.6v0.6h-0.6zM161.8 447.9h0.6v0.6h-0.6zM192.6 486.8h0.6v0.6h-0.6zM185.8 476.1h0.6v0.6h-0.6zM183.5 433.9h0.6v0.6h-0.6zM178.7 452.3h0.6v0.6h-0.6zM197.9 471.7h0.6v0.6h-0.6zM165.0 456.1h0.6v0.6h-0.6zM181.4 470.9h0.6v0.6h-0.6zM148.0 439.1h0.6v0.6h-0.6zM174.1 490.7h0.6v0.6h-0.6zM167.5 455.9h0.6v0.6h-0.6zM166.7 451.8h0.6v0.6h-0.6zM164.9 457.7h0.6v0.6h-0.6zM180.1 455.4h0.6v0.6h-0.6zM192.5 436.5h0.6v0.6h-0.6zM201.0 479.8h0.6v0.6h-0.6zM204.0 452.6h0.6v0.6h-0.6zM178.1 480.8h0.6v0.6h-0.6zM177.9 450.4h0.6v0.6h-0.6zM193.7 470.0h0.6v0.6h-0.6zM164.5 454.6h0.6v0.6h-0.6zM185.9 477.5h0.6v0.6h-0.6zM194.7 442.1h0.6v0.6h-0.6zM189.4 478.3h0.6v0.6h-0.6zM200.8 454.8h0.6v0.6h-0.6zM155.9 449.7h0.6v0.6h-0.6zM180.2 478.7h0.6v0.6h-0.6zM159.5 435.5h0.6v0.6h-0.6zM176.3 486.1h0.6v0.6h-0.6zM186.7 493.8h0.6v0.6h-0.6zM207.2 476.2h0.6v0.6h-0.6zM159.5 450.8h0.6v0.6h-0.6zM197.5 452.0h0.6v0.6h-0.6zM172.2 470.6h0.6v0.6h-0.6zM148.3 451.7h0.6v0.6h-0.6zM179.2 489.7h0.6v0.6h-0.6zM150.1 451.7h0.6v0.6h-0.6zM163.3 485.3h0.6v0.6h-0.6zM216.4 430.0h0.6v0.6h-0.6zM166.1 472.5h0.6v0.6h-0.6zM157.9 461.6h0.6v0.6h-0.6zM162.7 473.9h0.6v0.6h-0.6zM167.9 488.9h0.6v0.6h-0.6zM193.9 468.9h0.6v0.6h-0.6zM171.4 460.6h0.6v0.6h-0.6zM172.2 448.7h0.6v0.6h-0.6zM187.0 423.7h0.6v0.6h-0.6zM199.7 493.5h0.6v0.6h-0.6zM153.7 493.7h0.6v0.6h-0.6zM182.6 460.4h0.6v0.6h-0.6zM221.9 455.6h0.6v0.6h-0.6zM211.2 483.0h0.6v0.6h-0.6zM186.0 481.8h0.6v0.6h-0.6zM161.3 477.8h0.6v0.6h-0.6zM146.6 468.3h0.6v0.6h-0.6zM222.3 430.5h0.6v0.6h-0.6zM188.7 443.1h0.6v0.6h-0.6zM177.7 446.5h0.6v0.6h-0.6zM192.5 418.3h0.6v0.6h-0.6zM172.5 431.6h0.6v0.6h-0.6zM221.4 480.6h0.6v0.6h-0.6zM152.3 461.0h0.6v0.6h-0.6zM208.7 452.2h0.6v0.6h-0.6zM196.1 470.8h0.6v0.6h-0.6zM156.0 491.0h0.6v0.6h-0.6zM167.6 424.1h0.6v0.6h-0.6zM226.0 459.0h0.6v0.6h-0.6zM225.7 439.0h0.6v0.6h-0.6zM182.5 424.4h0.6v0.6h-0.6zM201.2 423.8h0.6v0.6h-0.6zM141.6 430.5h0.6v0.6h-0.6zM222.0 472.2h0.6v0.6h-0.6zM220.4 439.0h0.6v0.6h-0.6zM165.6 461.1h0.6v0.6h-0.6zM197.0 432.0h0.6v0.6h-0.6zM228.2 490.3h0.6v0.6h-0.6zM178.8 424.4h0.6v0.6h-0.6zM206.6 486.1h0.6v0.6h-0.6zM210.1 490.4h0.6v0.6h-0.6zM224.4 461.6h0.6v0.6h-0.6zM218.1 456.0h0.6v0.6h-0.6zM180.5 483.5h0.6v0.6h-0.6zM182.7 416.8h0.6v0.6h-0.6zM142.7 489.5h0.6v0.6h-0.6zM144.6 491.4h0.6v0.6h-0.6zM158.2 477.3h0.6v0.6h-0.6zM175.8 478.0h0.6v0.6h-0.6zM154.8 439.7h0.6v0.6h-0.6zM147.0 460.7h0.6v0.6h-0.6zM166.0 424.3h0.6v0.6h-0.6zM166.8 423.5h0.6v0.6h-0.6zM166.9 461.4h0.6v0.6h-0.6zM208.8 477.2h0.6v0.6h-0.6zM184.3 446.6h0.6v0.6h-0.6zM152.7 484.3h0.6v0.6h-0.6zM185.0 437.9h0.6v0.6h-0.6zM156.3 429.3h0.6v0.6h-0.6zM169.6 468.4h0.6v0.6h-0.6zM197.7 431.1h0.6v0.6h-0.6zM209.5 482.8h0.6v0.6h-0.6zM151.9 427.4h0.6v0.6h-0.6zM199.9 419.6h0.6v0.6h-0.6zM182.6 484.2h0.6v0.6h-0.6zM210.9 464.0h0.6v0.6h-0.6zM193.4 425.4h0.6v0.6h-0.6zM228.2 492.3h0.6v0.6h-0.6zM208.5 428.6h0.6v0.6h-0.6zM150.7 458.2h0.6v0.6h-0.6zM154.6 455.3h0.6v0.6h-0.6zM200.9 422.5h0.6v0.6h-0.6zM157.5 458.7h0.6v0.6h-0.6zM173.8 424.5h0.6v0.6h-0.6zM201.2 427.0h0.6v0.6h-0.6zM171.3 431.8h0.6v0.6h-0.6zM197.6 482.3h0.6v0.6h-0.6zM155.7 492.0h0.6v0.6h-0.6zM173.1 479.9h0.6v0.6h-0.6zM225.2 476.5h0.6v0.6h-0.6zM153.6 466.1h0.6v0.6h-0.6zM142.8 433.8h0.6v0.6h-0.6zM212.6 427.9h0.6v0.6h-0.6zM225.1 422.6h0.6v0.6h-0.6zM195.4 466.2h0.6v0.6h-0.6z"/>
<path fill="#666" d="M140.0 464.3h0.6v0.6h-0.6zM200.8 483.6h0.6v0.6h-0.6zM186.1 473.6h0.6v0.6h-0.6zM160.0 440.7h0.6v0.6h-0.6zM193.0 472.7h0.6v0.6h-0.6zM183.9 436.6h0.6v0.6h-0.6zM195.0 455.4h0.6v0.6h-0.6zM189.1 480.2h0.6v0.6h-0.6zM184.1 439.8h0.6v0.6h-0.6zM155.9 438.7h0.6v0.6h-0.6zM184.1 490.2h0.6v0.6h-0.6zM197.2 449.1h0.6v0.6h-0.6zM185.2 437.6h0.6v0.6h-0.6zM184.5 478.5h0.6v0.6h-0.6zM198.2 445.9h0.6v0.6h-0.6zM171.4 450.3h0.6v0.6h-0.6zM145.0 449.8h0.6v0.6h-0.6zM183.0 433.8h0.6v0.6h-0.6zM188.9 443.2h0.6v0.6h-0.6zM147.2 443.6h0.6v0.6h-0.6zM189.8 436.7h0.6v0.6h-0.6zM176.5 444.9h0.6v0.6h-0.6zM143.7 443.8h0.6v0.6h-0.6zM188.6 458.4h0.6v0.6h-0.6zM188.3 492.8h0.6v0.6h-0.6zM156.5 427.5h0.6v0.6h-0.6zM150.0 437.6h0.6v0.6h-0.6zM187.1 478.0h0.6v0.6h-0.6zM191.6 480.6h0.6v0.6h-0.6zM192.5 468.9h0.6v0.6h-0.6zM193.8 479.1h0.6v0.6h-0.6zM184.2 474.5h0.6v0.6h-0.6zM166.9 435.3h0.6v0.6h-0.6zM150.0 446.2h0.6v0.6h-0.6zM171.2 459.4h0.6v0.6h-0.6zM164.5 457.5h0.6v0.6h-0.6zM152.7 437.0h0.6v0.6h-0.6zM185.1 479.6h0.6v0.6h-0.6zM165.3 453.7h0.6v0.6h-0.6zM181.5 498.0h0.6v0.6h-0.6zM197.4 490.5h0.6v0.6h-0.6zM194.0 454.4h0.6v0.6h-0.6zM179.7 472.8h0.6v0.6h-0.6zM184.1 483.7h0.6v0.6h-0.6zM156.8 459.2h0.6v0.6h-0.6zM202.6 419.7h0.6v0.6h-0.6zM159.9 448.3h0.6v0.6h-0.6zM182.1 449.1h0.6v0.6h-0.6zM176.6 485.2h0.6v0.6h-0.6zM192.0 449.6h0.6v0.6h-0.6zM160.5 450.8h0.6v0.6h-0.6zM170.4 483.5h0.6v0.6h-0.6zM197.9 458.2h0.6v0.6h-0.6zM186.9 446.5h0.6v0.6h-0.6zM173.3 446.9h0.6v0.6h-0.6zM201.9 476.6h0.6v0.6h-0.6zM148.9 447.6h0.6v0.6h-0.6zM187.6 489.6h0.6v0.6h-0.6zM178.1 483.8h0.6v0.6h-0.6zM168.4 478.5h0.6v0.6h-0.6zM182.0 486.3h0.6v0.6h-0.6zM191.6 456.6h0.6v0.6h-0.6zM192.6 471.8h0.6v0.6h-0.6zM181.1 440.0h0.6v0.6h-0.6zM178.8 449.4h0.6v0.6h-0.6zM187.2 467.4h0.6v0.6h-0.6zM155.6 457.0h0.6v0.6h-0.6zM187.0 471.6h0.6v0.6h-0.6zM167.0 438.4h0.6v0.6h-0.6zM165.7 458.5h0.6v0.6h-0.6zM193.4 490.8h0.6v0.6h-0.6zM192.3 458.7h0.6v0.6h-0.6zM189.0 437.5h0.6v0.6h-0.6zM187.0 436.6h0.6v0.6h-0.6zM153.9 446.8h0.6v0.6h-0.6zM181.7 449.3h0.6v0.6h-0.6zM179.8 433.9h0.6v0.6h-0.6zM158.2 442.2h0.6v0.6h-0.6zM184.8 441.8h0.6v0.6h-0.6zM161.7 458.7h0.6v0.6h-0.6zM181.0 428.3h0.6v0.6h-0.6zM189.6 481.1h0.6v0.6h-0.6zM187.3 474.7h0.6v0.6h-0.6zM187.3 440.6h0.6v0.6h-0.6zM189.0 432.1h0.6v0.6h-0.6zM189.7 467.1h0.6v0.6h-0.6zM192.6 485.0h0.6v0.6h-0.6zM190.5 466.1h0.6v0.6h-0.6zM195.5 490.6h0.6v0.6h-0.6zM173.4 443.3h0.6v0.6h-0.6zM197.9 447.7h0.6v0.6h-0.6zM153.1 435.2h0.6v0.6h-0.6zM191.3 437.8h0.6v0.6h-0.6zM180.4 446.0h0.6v0.6h-0.6zM197.3 462.2h0.6v0.6h-0.6zM168.3 441.6h0.6v0.6h-0.6zM192.8 452.3h0.6v0.6h-0.6zM171.2 444.0h0.6v0.6h-0.6zM148.5 458.0h0.6v0.6h-0.6zM183.6 492.6h0.6v0.6h-0.6zM186.6 493.0h0.6v0.6h-0.6zM188.7 429.7h0.6v0.6h-0.6zM165.0 434.8h0.6v0.6h-0.6zM188.4 450.7h0.6v0.6h-0.6zM179.1 489.0h0.6v0.6h-0.6zM184.2 438.1h0.6v0.6h-0.6zM174.4 453.1h0.6v0.6h-0.6zM192.0 493.1h0.6v0.6h-0.6zM176.6 476.4h0.6v0.6h-0.6zM199.3 479.7h0.6v0.6h-0.6zM195.4 446.3h0.6v0.6h-0.6zM159.4 459.0h0.6v0.6h-0.6zM190.3 449.1h0.6v0.6h-0.6zM190.1 439.7h0.6v0.6h-0.6zM195.6 431.1h0.6v0.6h-0.6zM179.2 483.7h0.6v0.6h-0.6zM187.1 469.1h0.6v0.6h-0.6zM176.3 482.1h0.6v0.6h-0.6zM186.9 485.0h0.6v0.6h-0.6zM192.1 451.6h0.6v0.6h-0.6zM173.4 485.3h0.6v0.6h-0.6zM175.5 451.0h0.6v0.6h-0.6zM187.6 458.7h0.6v0.6h-0.6zM147.5 432.4h0.6v0.6h-0.6zM180.0 461.5h0.6v0.6h-0.6zM196.1 483.0h0.6v0.6h-0.6zM187.6 491.2h0.6v0.6h-0.6zM191.3 452.5h0.6v0.6h-0.6zM181.8 473.0h0.6v0.6h-0.6zM181.5 444.6h0.6v0.6h-0.6zM187.8 460.0h0.6v0.6h-0.6zM186.2 442.8h0.6v0.6h-0.6zM180.4 486.6h0.6v0.6h-0.6zM189.2 475.3h0.6v0.6h-0.6zM186.8 446.3h0.6v0.6h-0.6zM156.8 440.0h0.6v0.6h-0.6zM175.2 444.1h0.6v0.6h-0.6zM185.7 485.3h0.6v0.6h-0.6zM175.1 441.0h0.6v0.6h-0.6zM156.9 435.0h0.6v0.6h-0.6zM164.1 450.9h0.6v0.6h-0.6zM190.6 488.2h0.6v0.6h-0.6zM163.7 462.3h0.6v0.6h-0.6zM156.4 455.3h0.6v0.6h-0.6zM196.3 483.3h0.6v0.6h-0.6zM182.6 446.9h0.6v0.6h-0.6zM189.0 470.5h0.6v0.6h-0.6zM150.5 444.5h0.6v0.6h-0.6zM189.1 488.8h0.6v0.6h-0.6zM190.3 461.0h0.6v0.6h-0.6zM144.0 436.1h0.6v0.6h-0.6zM188.9 480.9h0.6v0.6h-0.6zM177.5 489.2h0.6v0.6h-0.6zM174.1 444.8h0.6v0.6h-0.6zM177.2 479.1h0.6v0.6h-0.6zM163.9 459.0h0.6v0.6h-0.6zM183.4 437.8h0.6v0.6h-0.6zM155.9 436.6h0.6v0.6h-0.6zM172.0 454.9h0.6v0.6h-0.6zM195.7 433.6h0.6v0.6h-0.6zM197.7 458.8h0.6v0.6h-0.6zM184.0 480.9h0.6v0.6h-0.6zM183.7 445.1h0.6v0.6h-0.6zM190.7 462.4h0.6v0.6h-0.6zM163.3 446.2h0.6v0.6h-0.6zM144.5 439.0h0.6v0.6h-0.6zM178.1 473.6h0.6v0.6h-0.6zM174.5 451.2h0.6v0.6h-0.6zM177.1 477.6h0.6v0.6h-0.6zM181.9 438.2h0.6v0.6h-0.6zM156.6 442.9h0.6v0.6h-0.6zM191.5 481.3h0.6v0.6h-0.6zM183.6 470.1h0.6v0.6h-0.6zM175.2 471.6h0.6v0.6h-0.6zM171.2 479.4h0.6v0.6h-0.6zM150.5 467.3h0.6v0.6h-0.6zM153.9 436.7h0.6v0.6h-0.6zM193.1 493.6h0.6v0.6h-0.6zM188.6 484.0h0.6v0.6h-0.6zM191.9 432.3h0.6v0.6h-0.6zM183.7 447.3h0.6v0.6h-0.6zM186.7 446.5h0.6v0.6h-0.6zM169.3 451.0h0.6v0.6h-0.6zM133.5 443.9h0.6v0.6h-0.6zM199.5 480.1h0.6v0.6h-0.6zM174.0 448.9h0.6v0.6h-0.6zM187.8 431.3h0.6v0.6h-0.6zM192.2 434.0h0.6v0.6h-0.6zM183.8 476.4h0.6v0.6h-0.6zM170.0 456.7h0.6v0.6h-0.6zM152.6 445.3h0.6v0.6h-0.6zM187.3 470.4h0.6v0.6h-0.6zM185.3 490.4h0.6v0.6h-0.6zM184.0 471.4h0.6v0.6h-0.6zM189.9 480.6h0.6v0.6h-0.6zM178.8 445.0h0.6v0.6h-0.6zM164.3 438.0h0.6v0.6h-0.6zM181.2 437.2h0.6v0.6h-0.6zM165.4 464.0h0.6v0.6h-0.6zM170.1 457.6h0.6v0.6h-0.6zM190.0 455.9h0.6v0.6h-0.6zM191.9 454.4h0.6v0.6h-0.6zM177.1 449.5h0.6v0.6h-0.6zM189.8 453.8h0.6v0.6h-0.6zM170.3 454.6h0.6v0.6h-0.6zM183.9 446.9h0.6v0.6h-0.6zM198.2 488.3h0.6v0.6h-0.6zM184.1 432.8h0.6v0.6h-0.6zM189.2 467.1h0.6v0.6h-0.6zM182.5 465.5h0.6v0.6h-0.6zM174.8 482.5h0.6v0.6h-0.6zM158.6 434.8h0.6v0.6h-0.6zM193.8 477.1h0.6v0.6h-0.6zM173.7 478.9h0.6v0.6h-0.6zM149.9 431.9h0.6v0.6h-0.6zM152.1 456.0h0.6v0.6h-0.6zM189.1 462.8h0.6v0.6h-0.6zM189.3 466.1h0.6v0.6h-0.6zM177.0 447.0h0.6v0.6h-0.6zM176.7 450.4h0.6v0.6h-0.6zM175.4 444.3h0.6v0.6h-0.6zM182.5 438.8h0.6v0.6h-0.6zM178.7 474.2h0.6v0.6h-0.6zM179.5 448.7h0.6v0.6h-0.6zM162.8 446.2h0.6v0.6h-0.6zM186.5 456.4h0.6v0.6h-0.6zM187.6 443.4h0.6v0.6h-0.6zM188.0 457.8h0.6v0.6h-0.6zM185.5 477.5h0.6v0.6h-0.6zM194.9 475.5h0.6v0.6h-0.6zM182.9 483.9h0.6v0.6h-0.6zM155.9 434.7h0.6v0.6h-0.6zM198.7 471.1h0.6v0.6h-0.6zM144.8 441.7h0.6v0.6h-0.6zM171.7 448.6h0.6v0.6h-0.6zM155.8 437.2h0.6v0.6h-0.6zM182.2 437.4h0.6v0.6h-0.6zM165.0 457.3h0.6v0.6h-0.6zM147.4 463.4h0.6v0.6h-0.6zM192.2 454.0h0.6v0.6h-0.6zM181.8 444.4h0.6v0.6h-0.6zM183.2 440.8h0.6v0.6h-0.6zM193.7 434.9h0.6v0.6h-0.6zM199.7 433.9h0.6v0.6h-0.6zM187.3 482.3h0.6v0.6h-0.6zM174.2 473.1h0.6v0.6h-0.6zM199.7 427.0h0.6v0.6h-0.6zM160.3 441.9h0.6v0.6h-0.6zM160.1 454.1h0.6v0.6h-0.6zM194.1 445.7h0.6v0.6h-0.6zM166.8 456.7h0.6v0.6h-0.6zM193.4 463.9h0.6v0.6h-0.6zM144.3 446.7h0.6v0.6h-0.6zM182.8 476.8h0.6v0.6h-0.6zM153.1 442.4h0.6v0.6h-0.6zM153.5 442.3h0.6v0.6h-0.6zM186.3 469.2h0.6v0.6h-0.6zM182.1 460.8h0.6v0.6h-0.6zM197.5 490.4h0.6v0.6h-0.6zM181.4 488.5h0.6v0.6h-0.6zM156.8 444.4h0.6v0.6h-0.6zM181.3 484.6h0.6v0.6h-0.6zM174.7 448.3h0.6v0.6h-0.6zM184.6 480.2h0.6v0.6h-0.6zM180.0 441.0h0.6v0.6h-0.6zM161.3 441.2h0.6v0.6h-0.6zM176.0 439.7h0.6v0.6h-0.6zM188.5 437.7h0.6v0.6h-0.6zM185.9 452.4h0.6v0.6h-0.6zM153.7 449.7h0.6v0.6h-0.6zM192.1 463.0h0.6v0.6h-0.6zM159.0 433.9h0.6v0.6h-0.6zM154.7 428.9h0.6v0.6h-0.6zM161.5 450.0h0.6v0.6h-0.6zM153.6 437.7h0.6v0.6h-0.6zM159.4 435.9h0.6v0.6h-0.6zM181.4 449.7h0.6v0.6h-0.6zM162.1 436.4h0.6v0.6h-0.6zM168.4 455.8h0.6v0.6h-0.6zM177.4 480.0h0.6v0.6h-0.6zM188.8 451.1h0.6v0.6h-0.6zM168.0 464.5h0.6v0.6h-0.6zM163.2 458.3h0.6v0.6h-0.6zM170.4 444.1h0.6v0.6h-0.6zM142.6 475.6h0.6v0.6h-0.6zM183.1 479.6h0.6v0.6h-0.6z"/>
<path fill="#555" d="M180.8 443.2h0.6v0.6h-0.6zM183.9 445.4h0.6v0.6h-0.6zM156.1 445.9h0.6v0.6h-0.6zM181.2 481.9h0.6v0.6h-0.6zM183.6 453.0h0.6v0.6h-0.6zM183.5 441.1h0.6v0.6h-0.6zM187.0 485.8h0.6v0.6h-0.6zM195.6 440.4h0.6v0.6h-0.6zM172.3 482.7h0.6v0.6h-0.6zM160.5 444.6h0.6v0.6h-0.6zM189.5 485.7h0.6v0.6h-0.6zM183.5 439.6h0.6v0.6h-0.6zM163.4 433.9h0.6v0.6h-0.6zM193.3 484.3h0.6v0.6h-0.6zM174.8 478.1h0.6v0.6h-0.6zM165.5 448.7h0.6v0.6h-0.6zM174.9 445.8h0.6v0.6h-0.6zM196.1 495.1h0.6v0.6h-0.6zM180.2 451.3h0.6v0.6h-0.6zM188.4 486.0h0.6v0.6h-0.6zM193.1 456.6h0.6v0.6h-0.6zM191.2 470.4h0.6v0.6h-0.6zM195.3 462.5h0.6v0.6h-0.6zM156.7 449.9h0.6v0.6h-0.6zM190.7 442.5h0.6v0.6h-0.6zM189.1 461.6h0.6v0.6h-0.6zM192.9 479.8h0.6v0.6h-0.6zM159.7 443.5h0.6v0.6h-0.6zM187.1 470.0h0.6v0.6h-0.6zM169.4 446.6h0.6v0.6h-0.6zM152.1 447.0h0.6v0.6h-0.6zM149.4 446.1h0.6v0.6h-0.6zM165.2 454.1h0.6v0.6h-0.6zM196.6 436.7h0.6v0.6h-0.6zM176.4 428.2h0.6v0.6h-0.6zM179.5 471.3h0.6v0.6h-0.6zM178.9 483.6h0.6v0.6h-0.6zM187.2 472.7h0.6v0.6h-0.6zM179.0 474.5h0.6v0.6h-0.6zM165.8 441.5h0.6v0.6h-0.6zM190.4 470.8h0.6v0.6h-0.6zM183.8 477.4h0.6v0.6h-0.6zM182.2 453.4h0.6v0.6h-0.6zM195.3 439.4h0.6v0.6h-0.6zM184.1 485.5h0.6v0.6h-0.6zM143.8 438.7h0.6v0.6h-0.6zM192.4 459.9h0.6v0.6h-0.6zM186.1 430.9h0.6v0.6h-0.6zM181.4 439.8h0.6v0.6h-0.6zM185.9 478.9h0.6v0.6h-0.6zM181.0 483.8h0.6v0.6h-0.6zM164.1 453.2h0.6v0.6h-0.6zM190.7 461.5h0.6v0.6h-0.6zM197.3 435.8h0.6v0.6h-0.6zM185.3 485.1h0.6v0.6h-0.6zM152.9 443.0h0.6v0.6h-0.6zM187.0 476.7h0.6v0.6h-0.6zM172.0 448.2h0.6v0.6h-0.6zM174.2 440.9h0.6v0.6h-0.6zM183.4 460.6h0.6v0.6h-0.6zM185.2 471.9h0.6v0.6h-0.6zM178.1 474.6h0.6v0.6h-0.6zM177.5 445.5h0.6v0.6h-0.6zM184.7 456.3h0.6v0.6h-0.6zM152.8 447.2h0.6v0.6h-0.6zM154.1 445.1h0.6v0.6h-0.6zM191.9 479.0h0.6v0.6h-0.6zM157.4 433.8h0.6v0.6h-0.6zM155.0 446.2h0.6v0.6h-0.6zM187.8 441.8h0.6v0.6h-0.6zM190.0 444.6h0.6v0.6h-0.6zM185.3 489.5h0.6v0.6h-0.6zM166.6 457.0h0.6v0.6h-0.6zM190.9 483.3h0.6v0.6h-0.6zM197.2 453.2h0.6v0.6h-0.6zM156.4 452.7h0.6v0.6h-0.6zM181.9 483.6h0.6v0.6h-0.6zM197.2 479.2h0.6v0.6h-0.6zM161.1 463.2h0.6v0.6h-0.6zM193.6 448.5h0.6v0.6h-0.6zM183.9 481.6h0.6v0.6h-0.6zM188.0 448.0h0.6v0.6h-0.6zM177.1 452.0h0.6v0.6h-0.6zM165.5 453.1h0.6v0.6h-0.6zM186.2 445.7h0.6v0.6h-0.6zM185.8 477.4h0.6v0.6h-0.6zM191.3 454.3h0.6v0.6h-0.6zM204.4 477.3h0.6v0.6h-0.6zM188.6 458.1h0.6v0.6h-0.6zM194.1 467.3h0.6v0.6h-0.6zM158.2 448.1h0.6v0.6h-0.6zM169.6 455.2h0.6v0.6h-0.6zM155.6 458.2h0.6v0.6h-0.6zM188.5 481.4h0.6v0.6h-0.6zM154.9 455.4h0.6v0.6h-0.6zM182.6 476.0h0.6v0.6h-0.6zM193.0 444.2h0.6v0.6h-0.6zM195.6 454.4h0.6v0.6h-0.6zM193.2 452.6h0.6v0.6h-0.6zM175.0 483.9h0.6v0.6h-0.6zM169.6 455.6h0.6v0.6h-0.6zM192.2 457.1h0.6v0.6h-0.6zM178.7 479.6h0.6v0.6h-0.6zM191.3 461.2h0.6v0.6h-0.6zM186.4 469.8h0.6v0.6h-0.6zM179.1 446.6h0.6v0.6h-0.6zM181.2 476.7h0.6v0.6h-0.6zM194.3 485.9h0.6v0.6h-0.6zM157.6 441.1h0.6v0.6h-0.6zM180.6 442.0h0.6v0.6h-0.6zM187.2 446.2h0.6v0.6h-0.6zM187.3 478.8h0.6v0.6h-0.6zM151.6 449.3h0.6v0.6h-0.6zM195.4 467.0h0.6v0.6h-0.6zM151.0 449.8h0.6v0.6h-0.6zM176.2 473.9h0.6v0.6h-0.6zM193.5 474.4h0.6v0.6h-0.6zM192.5 477.9h0.6v0.6h-0.6zM200.5 478.7h0.6v0.6h-0.6zM141.6 441.5h0.6v0.6h-0.6zM159.4 421.9h0.6v0.6h-0.6zM153.1 443.7h0.6v0.6h-0.6zM192.5 464.1h0.6v0.6h-0.6zM163.7 443.6h0.6v0.6h-0.6zM165.5 430.3h0.6v0.6h-0.6zM159.0 451.8h0.6v0.6h-0.6zM190.0 490.9h0.6v0.6h-0.6zM183.6 447.7h0.6v0.6h-0.6zM178.5 483.5h0.6v0.6h-0.6zM163.6 442.7h0.6v0.6h-0.6zM191.8 456.3h0.6v0.6h-0.6zM171.1 474.6h0.6v0.6h-0.6zM188.0 483.2h0.6v0.6h-0.6zM189.6 474.9h0.6v0.6h-0.6zM169.4 447.0h0.6v0.6h-0.6zM178.1 485.2h0.6v0.6h-0.6zM158.7 458.1h0.6v0.6h-0.6zM190.4 447.0h0.6v0.6h-0.6zM187.8 457.7h0.6v0.6h-0.6zM139.7 435.0h0.6v0.6h-0.6zM183.7 441.0h0.6v0.6h-0.6zM187.9 495.0h0.6v0.6h-0.6zM190.3 439.5h0.6v0.6h-0.6zM163.4 448.6h0.6v0.6h-0.6zM187.0 441.7h0.6v0.6h-0.6zM157.7 433.0h0.6v0.6h-0.6zM180.9 451.4h0.6v0.6h-0.6zM159.6 457.2h0.6v0.6h-0.6zM187.2 439.3h0.6v0.6h-0.6zM192.6 453.8h0.6v0.6h-0.6zM179.1 447.8h0.6v0.6h-0.6zM148.7 455.0h0.6v0.6h-0.6zM155.0 434.6h0.6v0.6h-0.6zM187.7 482.4h0.6v0.6h-0.6zM159.6 429.7h0.6v0.6h-0.6zM187.4 493.8h0.6v0.6h-0.6zM183.0 487.8h0.6v0.6h-0.6zM188.4 437.8h0.6v0.6h-0.6zM187.9 438.1h0.6v0.6h-0.6zM178.4 443.9h0.6v0.6h-0.6zM189.0 475.4h0.6v0.6h-0.6zM147.5 466.6h0.6v0.6h-0.6zM197.6 479.0h0.6v0.6h-0.6zM156.2 449.7h0.6v0.6h-0.6zM147.2 452.3h0.6v0.6h-0.6zM190.6 437.9h0.6v0.6h-0.6zM195.4 435.3h0.6v0.6h-0.6zM194.3 451.5h0.6v0.6h-0.6zM180.9 443.7h0.6v0.6h-0.6zM177.8 474.8h0.6v0.6h-0.6zM182.7 490.0h0.6v0.6h-0.6zM183.8 469.6h0.6v0.6h-0.6zM140.1 443.7h0.6v0.6h-0.6zM180.2 431.8h0.6v0.6h-0.6zM177.6 478.5h0.6v0.6h-0.6zM175.6 474.3h0.6v0.6h-0.6zM170.3 462.3h0.6v0.6h-0.6zM159.4 442.1h0.6v0.6h-0.6zM163.2 459.7h0.6v0.6h-0.6zM191.5 450.7h0.6v0.6h-0.6zM151.7 430.2h0.6v0.6h-0.6zM185.7 483.7h0.6v0.6h-0.6zM157.2 429.6h0.6v0.6h-0.6zM190.1 477.9h0.6v0.6h-0.6zM151.3 452.4h0.6v0.6h-0.6zM161.4 434.4h0.6v0.6h-0.6zM182.4 489.1h0.6v0.6h-0.6zM191.9 427.2h0.6v0.6h-0.6zM201.1 461.3h0.6v0.6h-0.6zM164.6 446.0h0.6v0.6h-0.6zM188.9 433.2h0.6v0.6h-0.6zM173.9 475.2h0.6v0.6h-0.6zM171.3 459.6h0.6v0.6h-0.6zM149.6 438.6h0.6v0.6h-0.6zM180.8 451.0h0.6v0.6h-0.6zM165.3 458.4h0.6v0.6h-0.6zM186.3 438.5h0.6v0.6h-0.6zM176.5 445.7h0.6v0.6h-0.6zM187.5 480.0h0.6v0.6h-0.6zM160.5 453.1h0.6v0.6h-0.6zM184.4 485.8h0.6v0.6h-0.6zM153.1 442.4h0.6v0.6h-0.6zM191.4 457.8h0.6v0.6h-0.6zM179.4 475.7h0.6v0.6h-0.6zM196.2 459.8h0.6v0.6h-0.6zM190.5 458.5h0.6v0.6h-0.6zM181.1 446.4h0.6v0.6h-0.6zM156.0 438.8h0.6v0.6h-0.6zM153.2 441.1h0.6v0.6h-0.6zM187.8 483.8h0.6v0.6h-0.6zM189.9 455.8h0.6v0.6h-0.6zM167.5 465.7h0.6v0.6h-0.6zM184.0 455.3h0.6v0.6h-0.6zM151.4 454.4h0.6v0.6h-0.6zM184.1 444.0h0.6v0.6h-0.6zM194.2 485.9h0.6v0.6h-0.6zM159.5 444.7h0.6v0.6h-0.6zM179.3 436.4h0.6v0.6h-0.6zM174.9 481.0h0.6v0.6h-0.6zM191.1 449.5h0.6v0.6h-0.6zM187.4 431.9h0.6v0.6h-0.6zM170.4 451.2h0.6v0.6h-0.6zM199.3 476.5h0.6v0.6h-0.6zM200.8 453.7h0.6v0.6h-0.6zM179.5 475.8h0.6v0.6h-0.6zM156.2 436.4h0.6v0.6h-0.6zM155.9 446.2h0.6v0.6h-0.6zM193.3 478.1h0.6v0.6h-0.6zM193.1 445.8h0.6v0.6h-0.6zM174.5 486.1h0.6v0.6h-0.6zM163.8 475.6h0.6v0.6h-0.6zM172.2 448.4h0.6v0.6h-0.6zM187.5 477.5h0.6v0.6h-0.6zM188.5 473.8h0.6v0.6h-0.6zM197.6 433.8h0.6v0.6h-0.6zM189.3 446.3h0.6v0.6h-0.6zM196.3 439.6h0.6v0.6h-0.6zM192.0 458.2h0.6v0.6h-0.6zM178.5 446.4h0.6v0.6h-0.6zM174.1 446.5h0.6v0.6h-0.6zM186.1 437.9h0.6v0.6h-0.6zM205.7 480.4h0.6v0.6h-0.6zM198.0 440.2h0.6v0.6h-0.6zM192.4 449.2h0.6v0.6h-0.6zM187.9 478.5h0.6v0.6h-0.6zM147.4 435.8h0.6v0.6h-0.6zM159.4 455.4h0.6v0.6h-0.6zM149.9 444.7h0.6v0.6h-0.6zM174.7 487.4h0.6v0.6h-0.6zM187.3 485.7h0.6v0.6h-0.6zM170.3 445.9h0.6v0.6h-0.6zM196.8 447.5h0.6v0.6h-0.6zM202.8 479.3h0.6v0.6h-0.6zM191.0 470.4h0.6v0.6h-0.6zM163.9 426.3h0.6v0.6h-0.6zM185.9 464.0h0.6v0.6h-0.6zM195.6 456.5h0.6v0.6h-0.6zM181.6 477.3h0.6v0.6h-0.6zM168.9 452.4h0.6v0.6h-0.6zM166.2 459.2h0.6v0.6h-0.6zM191.8 427.1h0.6v0.6h-0.6zM182.3 482.1h0.6v0.6h-0.6zM188.4 480.1h0.6v0.6h-0.6zM163.6 428.3h0.6v0.6h-0.6zM142.4 449.4h0.6v0.6h-0.6zM164.7 461.2h0.6v0.6h-0.6zM184.5 477.6h0.6v0.6h-0.6zM156.8 449.2h0.6v0.6h-0.6zM173.7 454.2h0.6v0.6h-0.6zM164.8 437.8h0.6v0.6h-0.6zM178.8 471.8h0.6v0.6h-0.6zM191.6 441.1h0.6v0.6h-0.6zM190.1 445.8h0.6v0.6h-0.6zM196.4 482.5h0.6v0.6h-0.6zM160.1 456.6h0.6v0.6h-0.6zM181.3 442.2h0.6v0.6h-0.6zM188.1 442.7h0.6v0.6h-0.6zM171.3 460.1h0.6v0.6h-0.6zM190.2 474.2h0.6v0.6h-0.6zM143.3 463.2h0.6v0.6h-0.6zM197.2 462.4h0.6v0.6h-0.6zM186.2 488.4h0.6v0.6h-0.6zM195.8 481.5h0.6v0.6h-0.6zM174.7 487.3h0.6v0.6h-0.6zM160.9 448.0h0.6v0.6h-0.6zM183.2 443.0h0.6v0.6h-0.6z"/>
<polygon points="191.4,494.1 189.9,494.3 188.4,494.1 181.4,492.6 177.9,491.1 175.5,489.4 173.7,487.4 172.5,485.4 171.7,482.9 171.5,480.4 171.8,478.4 172.7,475.9 174.1,473.9 175.9,472.1 177.9,470.7 182.9,468.7 183.9,467.9 184.2,466.9 184.4,465.4 184.4,460.4 184.1,459.4 180.9,458.8 177.9,456.6 173.4,457.4 172.7,457.9 172.6,458.4 173.2,460.9 172.8,462.9 171.4,464.4 169.9,465.0 168.4,464.9 167.4,464.5 166.4,463.6 165.4,462.3 164.4,461.8 158.4,463.3 156.4,463.3 155.3,462.9 154.7,461.9 154.8,460.9 155.3,459.4 157.1,455.9 157.2,455.4 157.0,454.9 151.9,453.8 150.4,453.0 148.9,451.9 147.4,450.4 146.4,448.9 145.5,446.9 145.0,444.9 144.8,441.4 145.6,437.9 147.2,434.9 148.4,433.5 149.9,432.3 151.9,431.2 153.4,430.7 156.4,430.6 158.4,431.0 159.9,431.6 162.9,433.6 164.6,435.4 165.6,437.4 166.2,440.4 166.2,445.4 166.4,446.1 166.9,446.5 167.4,446.3 169.9,444.1 174.0,442.4 178.4,439.4 179.4,437.9 180.5,434.4 181.4,433.2 182.4,432.5 189.4,431.2 192.7,431.9 196.4,432.0 197.4,432.3 198.1,432.9 198.6,433.9 198.5,434.9 196.7,439.4 196.4,440.9 197.3,444.9 197.9,451.2 199.3,454.4 199.5,456.4 199.1,457.9 197.8,460.9 195.9,464.2 195.2,467.4 194.4,469.9 194.7,470.9 197.4,473.5 199.1,475.9 200.1,478.9 200.3,481.9 199.7,484.4 198.2,487.4 194.1,492.4 192.9,493.4 191.4,494.1" fill="#fff" fill-opacity="0.85"/>
<polygon points="185.1,451.9 185.4,451.8 185.9,450.9 185.9,450.4 185.4,449.7 184.4,450.1 183.7,450.9 183.9,451.4 185.1,451.9" fill="#fff" fill-opacity="0.85"/>
<polygon points="191.4,494.5 188.9,494.7 182.9,493.6 179.9,492.8 177.4,491.6 175.0,489.9 173.2,487.9 171.7,485.4 171.0,483.4 170.8,480.9 171.0,478.4 171.7,476.4 173.2,473.9 174.9,472.0 176.9,470.5 179.4,469.2 182.4,468.2 183.4,467.4 183.8,466.4 183.9,464.4 184.0,460.9 183.6,459.9 180.4,459.1 177.9,457.2 176.9,457.1 173.9,457.7 173.5,457.9 173.2,458.4 173.7,461.4 173.0,463.4 171.9,464.6 170.9,465.2 169.9,465.4 168.4,465.4 167.4,465.0 166.4,464.3 164.9,462.6 164.4,462.4 163.4,462.5 159.4,463.7 156.9,464.2 154.9,464.1 153.8,463.4 153.5,462.4 153.6,461.4 155.7,456.9 155.8,456.4 155.6,455.9 150.9,454.3 149.4,453.4 147.9,452.1 146.8,450.9 145.5,448.9 144.7,446.9 144.1,444.4 144.0,442.4 144.1,440.4 145.1,436.9 147.0,433.9 149.4,431.6 150.9,430.7 152.4,430.1 154.4,429.7 155.9,429.7 158.9,430.2 160.9,431.1 162.4,432.2 164.7,434.4 166.1,436.9 166.8,439.4 167.1,443.9 167.4,444.9 167.9,444.9 170.9,443.2 174.2,441.9 177.9,439.4 178.9,438.1 179.6,435.4 180.2,433.9 181.4,432.5 182.4,432.0 183.4,431.7 185.9,431.5 188.4,430.8 189.4,430.7 192.4,431.4 195.9,431.3 197.4,431.5 198.4,431.8 199.1,432.4 199.4,433.4 199.3,434.9 197.4,439.1 197.1,440.9 197.8,444.9 198.3,450.9 199.8,454.4 200.0,456.4 199.6,457.9 198.3,460.9 196.4,464.1 195.1,469.9 195.7,470.9 198.6,473.9 199.8,475.9 200.8,478.9 201.0,481.9 200.3,484.9 198.6,487.9 194.2,492.9 192.9,493.9 191.4,494.5" fill="#000" fill-opacity="0.05" stroke="rgb(140,140,140)" stroke-width="0.6"/>
<polygon points="191.9,493.5 190.4,493.9 188.4,493.7 185.6,492.9 181.4,492.0 178.4,490.8 175.9,489.0 174.4,487.4 173.2,485.4 172.3,482.9 172.1,480.4 172.6,477.9 173.4,475.9 174.8,473.9 176.4,472.4 177.9,471.3 179.9,470.3 183.4,469.1 184.4,468.2 184.7,466.4 184.8,460.4 184.5,458.9 183.9,458.6 181.9,458.6 180.9,458.3 179.9,457.7 178.4,456.1 177.9,456.0 173.4,457.0 172.4,457.6 172.0,458.4 172.8,460.9 172.5,462.4 171.4,463.9 169.9,464.5 168.9,464.6 167.4,463.9 166.8,463.4 165.4,461.5 164.9,461.3 163.9,461.4 158.9,462.6 157.4,462.6 156.4,462.2 155.8,461.4 155.8,460.4 156.5,458.4 158.5,454.9 158.6,454.4 158.4,454.1 157.9,453.8 154.9,453.7 153.4,453.5 151.4,452.8 149.9,451.8 148.4,450.4 147.2,448.9 146.3,446.9 145.7,444.9 145.5,441.4 145.7,439.9 146.3,437.9 147.0,436.4 148.1,434.9 150.4,432.8 151.9,432.0 153.4,431.5 156.4,431.3 157.9,431.6 159.4,432.1 161.4,433.2 162.9,434.4 164.3,435.9 165.2,437.9 165.6,440.9 165.5,445.4 165.9,446.9 166.4,447.3 167.4,447.0 169.4,445.0 170.4,444.3 174.6,442.4 178.8,439.4 179.8,437.9 180.5,435.4 181.0,434.4 182.4,433.0 183.4,432.7 185.9,432.5 188.4,431.8 189.4,431.7 192.4,432.3 195.9,432.5 196.9,432.9 197.5,433.4 197.9,434.4 197.8,435.4 196.0,439.9 195.8,440.9 197.0,445.9 197.5,450.9 197.9,452.4 199.0,454.9 199.1,456.4 198.7,457.9 197.3,460.9 195.6,463.9 195.0,466.9 193.9,469.4 193.8,470.4 194.3,471.4 197.0,473.9 198.6,476.4 199.6,479.4 199.6,481.9 199.1,484.4 197.8,486.9 194.1,491.9 192.9,493.0 191.9,493.5" fill="#000" fill-opacity="0.05" stroke="rgb(120,120,120)" stroke-width="0.6"/>
<polygon points="185.6,452.4 186.0,451.9 186.3,450.4 186.0,449.4 185.4,449.2 184.7,449.4 183.4,450.4 183.0,450.9 182.9,451.4 184.9,452.6 185.4,452.6 185.6,452.4" fill="#000" fill-opacity="0.05" stroke="rgb(120,120,120)" stroke-width="0.6"/>
<polygon points="190.9,493.0 189.9,493.1 188.4,492.9 185.9,491.9 180.9,490.6 178.4,489.4 176.4,487.8 174.9,485.9 174.0,483.9 173.5,481.9 173.5,479.9 174.0,477.9 174.6,476.4 176.1,474.4 177.4,473.1 178.9,472.1 180.9,471.2 184.7,469.9 185.4,469.4 185.6,468.9 185.8,467.9 185.5,463.9 185.6,458.4 185.4,456.4 184.9,456.3 183.9,457.1 182.9,457.5 181.4,457.4 180.2,456.4 179.8,455.4 179.7,454.4 179.9,453.9 180.4,453.3 181.4,452.9 182.4,452.8 183.9,453.5 185.4,455.4 186.4,453.5 187.0,451.4 187.2,449.9 186.9,448.5 186.4,448.1 185.9,448.0 184.9,448.4 180.9,451.4 179.3,453.4 177.4,454.9 175.9,455.6 172.8,456.4 171.1,457.4 170.6,457.9 170.5,458.4 171.6,460.4 171.7,461.4 171.3,462.4 170.4,463.3 168.9,463.5 167.9,463.0 167.1,461.9 166.4,460.4 165.9,460.1 164.9,460.1 160.9,460.9 158.9,460.8 158.3,460.4 158.1,459.9 158.1,458.9 158.7,457.4 160.8,453.9 160.9,453.4 160.8,452.9 160.1,452.4 158.9,452.0 154.9,452.1 153.4,451.8 151.9,451.2 150.4,450.2 149.2,448.9 148.2,447.4 147.4,445.4 147.1,443.9 147.0,441.9 147.6,438.9 148.8,436.4 149.9,435.1 150.9,434.3 153.4,433.1 154.9,432.9 156.4,433.0 157.9,433.3 159.9,434.1 161.4,434.9 162.6,435.9 163.7,437.4 164.1,438.9 164.1,445.9 165.2,448.4 165.4,448.7 165.9,448.9 167.4,448.2 170.4,445.2 175.0,442.9 179.2,439.9 180.4,438.4 181.5,435.4 182.3,434.4 182.9,434.0 183.9,433.7 186.4,433.6 188.4,432.9 189.4,432.8 194.4,433.5 195.4,433.9 196.0,434.4 196.4,435.4 196.3,436.4 194.4,440.9 194.3,441.9 195.5,444.4 196.0,445.9 196.8,451.4 198.0,454.9 198.1,456.4 196.6,460.4 194.9,463.4 194.1,466.9 192.2,470.4 192.5,471.4 195.7,474.4 197.2,476.4 198.1,478.9 198.3,481.9 198.0,483.4 197.2,485.4 194.3,490.4 192.9,492.0 191.9,492.6 190.9,493.0" fill="#000" fill-opacity="0.05" stroke="rgb(101,101,101)" stroke-width="0.6"/>
<polygon points="191.4,491.9 190.4,492.2 188.9,492.1 185.9,490.7 181.4,489.6 179.4,488.6 177.4,487.0 176.2,485.4 175.2,483.4 174.8,481.4 175.0,479.4 175.6,477.4 176.5,475.9 177.9,474.4 180.4,472.7 181.9,472.1 186.3,470.9 187.3,470.4 187.7,469.9 186.6,465.4 186.3,461.4 186.7,455.9 188.2,449.4 188.1,447.9 187.7,446.9 186.9,446.6 185.9,446.9 184.9,447.5 179.5,451.4 177.4,453.6 176.4,454.4 172.0,455.9 167.9,458.2 163.9,459.1 161.9,459.3 160.7,458.9 160.4,457.9 161.1,455.9 163.9,451.5 167.4,449.3 170.9,445.8 175.4,443.4 179.7,440.4 181.0,438.9 182.3,436.4 182.9,435.6 183.9,435.1 186.4,435.0 188.9,434.1 189.9,434.0 193.4,434.6 194.4,435.2 194.8,435.9 194.7,437.4 194.1,438.9 191.3,443.4 191.9,443.9 193.4,444.3 194.1,444.9 194.7,445.9 195.2,447.4 196.9,455.4 196.7,456.9 195.7,459.9 193.9,463.4 193.0,466.9 192.3,467.9 190.0,469.9 189.7,470.4 190.2,471.4 193.9,474.3 195.3,475.9 196.6,478.4 197.0,480.4 196.9,481.9 196.6,483.4 194.7,487.9 193.2,490.4 192.4,491.3 191.4,491.9" fill="#000" fill-opacity="0.05" stroke="rgb(81,81,81)" stroke-width="0.6"/>
<polygon points="162.9,451.1 161.4,451.1 158.9,450.2 155.4,450.4 153.9,450.2 151.9,449.2 150.4,447.8 149.5,446.4 149.0,444.9 148.7,443.4 148.6,441.9 149.0,439.9 149.5,438.4 150.3,436.9 151.4,435.8 153.4,434.8 155.9,434.7 157.9,435.2 159.9,435.9 160.9,436.4 162.0,437.4 162.5,438.4 162.7,439.4 162.4,445.9 163.5,448.4 163.7,449.4 163.6,450.4 162.9,451.1" fill="#000" fill-opacity="0.05" stroke="rgb(81,81,81)" stroke-width="0.6"/>
<polygon points="164.4,457.9 162.9,457.7 162.4,456.9 162.4,456.4 163.4,454.4 164.9,452.4 171.4,446.2 175.7,443.9 180.4,440.5 181.5,439.4 183.4,436.8 184.4,436.3 186.7,435.9 189.9,435.0 191.9,435.2 193.2,435.9 193.5,436.4 193.6,437.4 193.2,438.9 192.6,439.9 191.0,441.9 187.9,444.8 185.4,446.4 179.2,450.9 175.9,453.8 172.4,455.0 167.4,457.3 164.4,457.9" fill="#000" fill-opacity="0.05" stroke="rgb(62,62,62)" stroke-width="0.6"/>
<polygon points="156.9,449.0 154.9,449.1 152.9,448.3 151.5,446.9 150.5,444.9 150.1,442.4 150.6,439.4 151.7,437.4 152.4,436.8 153.4,436.3 155.4,436.2 158.4,437.1 160.0,437.9 160.5,438.4 161.0,439.4 161.0,443.9 160.4,447.2 159.9,447.8 159.4,448.1 156.9,449.0" fill="#000" fill-opacity="0.05" stroke="rgb(62,62,62)" stroke-width="0.6"/>
<polygon points="190.9,467.6 189.4,467.9 188.4,467.2 187.9,466.4 187.2,463.4 187.1,458.9 187.7,454.4 189.7,447.4 189.9,446.9 190.9,446.1 192.4,445.9 193.4,446.4 194.4,448.0 195.6,452.9 195.9,455.4 194.7,459.9 193.3,462.9 192.3,465.9 191.7,466.9 190.9,467.6" fill="#000" fill-opacity="0.05" stroke="rgb(62,62,62)" stroke-width="0.6"/>
<polygon points="189.9,491.4 188.4,491.0 185.9,489.7 182.9,489.0 180.9,488.3 178.4,486.5 176.8,484.4 176.2,482.9 176.0,481.4 176.0,479.9 176.4,478.4 177.1,476.9 178.3,475.4 179.4,474.5 180.9,473.5 182.9,472.8 184.9,472.3 186.9,472.1 188.4,472.2 190.4,473.1 192.4,474.3 194.1,475.9 195.0,477.4 195.6,478.9 195.9,480.9 195.7,482.4 195.2,484.4 193.8,487.9 192.7,489.9 191.4,491.0 189.9,491.4" fill="#000" fill-opacity="0.05" stroke="rgb(62,62,62)" stroke-width="0.6"/>
<polygon points="167.9,456.1 165.9,456.4 164.9,456.1 164.6,455.4 164.8,454.4 166.2,452.4 171.7,446.9 175.9,444.4 180.2,441.4 181.4,440.4 183.4,438.1 184.4,437.4 189.9,436.0 191.4,436.2 192.2,436.9 192.4,437.4 192.3,438.4 191.6,439.9 190.4,441.4 187.4,444.2 182.4,448.0 178.8,450.4 175.4,453.2 167.9,456.1" fill="#000" fill-opacity="0.05" stroke="rgb(42,42,42)" stroke-width="0.6"/>
<polygon points="156.9,447.6 155.4,447.8 153.9,447.3 152.9,446.4 152.2,444.9 151.9,442.9 152.3,440.4 152.9,439.1 153.9,438.3 155.4,438.2 157.0,438.9 158.3,439.9 159.1,441.4 159.4,443.4 159.2,445.4 158.4,446.6 156.9,447.6" fill="#000" fill-opacity="0.05" stroke="rgb(42,42,42)" stroke-width="0.6"/>
<polygon points="190.9,465.5 190.4,465.8 189.9,465.9 189.4,465.7 188.5,464.4 187.9,461.4 187.9,457.9 188.5,453.9 189.6,450.9 190.9,448.6 191.4,448.2 192.4,448.0 193.4,448.9 194.1,450.4 194.9,452.9 195.0,454.9 193.7,459.9 190.9,465.5" fill="#000" fill-opacity="0.05" stroke="rgb(42,42,42)" stroke-width="0.6"/>
<polygon points="190.4,490.4 189.4,490.4 186.4,488.9 181.9,487.7 179.8,486.4 178.1,484.4 177.6,483.4 177.2,481.9 177.3,479.4 177.8,477.9 178.5,476.9 179.4,475.8 180.9,474.7 182.4,474.0 184.4,473.5 186.4,473.3 188.4,473.5 190.4,474.2 191.9,475.2 193.2,476.4 193.9,477.4 194.5,478.9 194.7,480.4 194.7,481.9 194.2,483.9 193.5,486.4 192.7,488.4 191.5,489.9 190.4,490.4" fill="#000" fill-opacity="0.05" stroke="rgb(42,42,42)" stroke-width="0.6"/>
<polygon points="169.4,454.5 167.4,454.7 167.0,454.4 167.0,453.4 168.4,451.4 171.9,447.6 175.9,445.2 180.5,441.9 183.9,438.8 184.9,438.2 188.9,437.1 189.9,437.0 190.9,437.6 191.2,438.4 190.6,439.9 189.4,441.4 186.9,443.7 181.9,447.6 178.4,449.9 175.4,452.2 173.9,453.0 169.4,454.5" fill="#000" fill-opacity="0.05" stroke="rgb(23,23,23)" stroke-width="0.6"/>
<polygon points="155.9,446.0 154.9,445.9 154.4,445.4 154.0,444.4 154.1,443.4 154.4,442.7 154.9,442.2 155.4,442.0 156.5,442.4 157.0,442.9 157.4,443.9 157.3,444.9 157.0,445.4 155.9,446.0" fill="#000" fill-opacity="0.05" stroke="rgb(23,23,23)" stroke-width="0.6"/>
<polygon points="190.9,462.5 190.4,462.8 189.9,462.8 189.2,461.9 188.8,459.9 188.8,457.4 189.2,454.4 189.8,452.4 190.9,450.7 191.9,450.1 192.4,450.2 192.9,450.5 193.4,451.2 194.0,452.9 194.1,454.4 192.8,459.4 191.9,461.2 190.9,462.5" fill="#000" fill-opacity="0.05" stroke="rgb(23,23,23)" stroke-width="0.6"/>
<polygon points="190.9,489.1 190.4,489.3 189.4,489.3 186.9,488.0 182.9,487.1 180.9,486.0 179.7,484.9 178.6,482.9 178.2,481.4 178.2,480.4 178.6,478.9 179.1,477.9 179.8,476.9 180.9,475.9 183.4,474.7 185.4,474.3 186.9,474.3 188.4,474.5 189.9,475.0 191.4,475.9 192.4,476.9 193.0,477.9 193.6,479.4 193.6,481.9 192.5,486.9 191.9,488.1 190.9,489.1" fill="#000" fill-opacity="0.05" stroke="rgb(23,23,23)" stroke-width="0.6"/>
<polygon points="170.9,452.9 169.7,452.9 169.4,452.4 169.5,451.9 171.2,449.4 172.8,447.9 176.9,445.3 181.5,441.9 184.9,439.1 186.4,438.5 187.9,438.2 188.9,438.2 189.5,438.4 189.7,438.9 189.7,439.4 189.2,440.4 188.4,441.4 186.8,442.9 181.9,446.8 177.9,449.4 174.9,451.6 173.0,452.4 170.9,452.9" fill="#000" fill-opacity="0.05" stroke="rgb(15,15,15)" stroke-width="0.6"/>
<polygon points="190.9,459.5 190.4,459.5 190.0,458.4 190.0,455.4 190.3,453.9 190.7,452.9 191.4,452.1 191.9,452.0 192.4,452.2 192.9,452.8 193.1,454.4 192.9,455.5 191.9,458.2 191.4,459.1 190.9,459.5" fill="#000" fill-opacity="0.05" stroke="rgb(15,15,15)" stroke-width="0.6"/>
<polygon points="190.4,487.9 189.4,488.0 186.9,487.0 183.4,486.4 181.9,485.7 180.5,484.4 179.5,482.4 179.4,480.4 180.0,478.4 181.4,476.8 182.4,476.2 183.9,475.6 185.4,475.3 186.9,475.3 188.4,475.5 189.9,476.0 191.7,477.4 192.3,478.4 192.6,479.4 192.6,481.4 191.8,485.9 191.4,487.0 190.4,487.9" fill="#000" fill-opacity="0.05" stroke="rgb(15,15,15)" stroke-width="0.6"/>
<polygon points="172.9,450.9 172.4,450.4 172.6,449.9 174.0,448.4 176.9,446.5 184.9,440.2 186.4,439.7 186.9,439.6 187.6,439.9 187.4,440.9 186.6,441.9 181.1,446.4 177.4,448.5 174.6,450.4 172.9,450.9" fill="#000" fill-opacity="0.05" stroke="rgb(15,15,15)" stroke-width="0.6"/>
<polygon points="189.9,486.2 189.4,486.3 184.4,485.8 182.9,485.3 181.8,484.4 180.8,482.9 180.5,480.9 180.8,479.4 181.9,477.9 183.9,476.7 186.4,476.3 188.9,476.7 189.9,477.1 190.8,477.9 191.5,479.4 191.6,480.9 190.8,484.9 190.4,485.8 189.9,486.2" fill="#000" fill-opacity="0.05" stroke="rgb(15,15,15)" stroke-width="0.6"/>
<polygon points="186.9,484.9 184.9,485.0 183.4,484.6 182.4,483.8 181.7,482.4 181.6,480.9 182.2,479.4 183.2,478.4 184.4,477.8 186.4,477.4 188.4,477.6 189.7,478.4 190.3,479.4 190.4,480.4 190.3,481.4 189.4,483.8 188.4,484.6 186.9,484.9" fill="#000" fill-opacity="0.05" stroke="rgb(15,15,15)" stroke-width="0.6"/>
</g>
<ellipse cx="160.8" cy="480.3" rx="7.50" ry="5.00" fill="none" stroke="#888" stroke-width="0.45"/>
<ellipse cx="160.8" cy="480.3" rx="6.08" ry="4.06" fill="none" stroke="#888" stroke-width="0.45"/>
<ellipse cx="160.8" cy="480.3" rx="4.67" ry="3.11" fill="none" stroke="#888" stroke-width="0.45"/>
<ellipse cx="160.8" cy="480.3" rx="3.25" ry="2.17" fill="none" stroke="#888" stroke-width="0.45"/>
<ellipse cx="160.8" cy="480.3" rx="1.84" ry="1.23" fill="none" stroke="#888" stroke-width="0.45"/>
<polygon points="145.7,422.8 188.5,422.8 153.6,458.1 145.7,450.3" fill="none" stroke="#2a2a2a" stroke-width="0.9" stroke-linejoin="miter"/>
<polygon points="189.5,425.5 206.4,425.5 204.3,433.4 170.5,469.3 154.2,469.3 154.2,459.2" fill="none" stroke="#2a2a2a" stroke-width="0.9" stroke-linejoin="miter"/>
<polygon points="199.5,436.1 209.6,436.1 206.4,493.7 170.5,493.7 170.5,470.6" fill="none" stroke="#2a2a2a" stroke-width="0.9" stroke-linejoin="miter"/>
<rect x="140.8" y="406.3" width="88.1" height="88.7" fill="none" stroke="#666" stroke-width="0.8"/>
<text x="141.50" y="413.10" font-size="5.4" fill="#555" stroke="#555" stroke-width="0.06" textLength="10.60" lengthAdjust="spacingAndGlyphs" >8.03</text>
<text x="154.60" y="413.10" font-size="5.4" fill="#222" font-weight="bold" textLength="25.80" lengthAdjust="spacingAndGlyphs" >Allogeneic</text>
<text x="154.60" y="419.10" font-size="5.4" fill="#222" font-weight="bold" textLength="13.00" lengthAdjust="spacingAndGlyphs" >donor</text>
<text x="191.60" y="413.10" font-size="5.4" fill="#555" stroke="#555" stroke-width="0.06" textLength="10.60" lengthAdjust="spacingAndGlyphs" >24.1</text>
<text x="203.70" y="413.10" font-size="5.4" fill="#222" font-weight="bold" textLength="24.50" lengthAdjust="spacingAndGlyphs" >syngeneic</text>
<text x="203.70" y="419.10" font-size="5.4" fill="#222" font-weight="bold" textLength="13.00" lengthAdjust="spacingAndGlyphs" >donor</text>
<text x="206.50" y="486.00" font-size="5.4" fill="#222" font-weight="bold" textLength="21.60" lengthAdjust="spacingAndGlyphs" >Recipient</text>
<text x="216.00" y="492.20" font-size="5.4" fill="#555" stroke="#555" stroke-width="0.06" textLength="10.60" lengthAdjust="spacingAndGlyphs" >65.0</text>
<text x="139.60" y="415.40" font-size="4.8" fill="#444" stroke="#444" stroke-width="0.06" text-anchor="end" >10<tspan dy="-1.73" font-size="3.36">5</tspan></text>
<text x="139.60" y="436.10" font-size="4.8" fill="#444" stroke="#444" stroke-width="0.06" text-anchor="end" >10<tspan dy="-1.73" font-size="3.36">4</tspan></text>
<text x="139.60" y="456.90" font-size="4.8" fill="#444" stroke="#444" stroke-width="0.06" text-anchor="end" >10<tspan dy="-1.73" font-size="3.36">3</tspan></text>
<text x="139.60" y="478.00" font-size="4.8" fill="#444" stroke="#444" stroke-width="0.06" text-anchor="end" >10<tspan dy="-1.73" font-size="3.36">2</tspan></text>
<text x="139.60" y="485.80" font-size="4.8" fill="#444" stroke="#444" stroke-width="0.06" text-anchor="end" >0</text>
<text x="139.60" y="493.70" font-size="4.8" fill="#444" stroke="#444" stroke-width="0.06" text-anchor="end" >-10<tspan dy="-1.73" font-size="3.36">2</tspan></text>
<text x="154.50" y="502.00" font-size="4.8" fill="#444" stroke="#444" stroke-width="0.06" text-anchor="middle" >0</text>
<text x="178.50" y="502.00" font-size="4.8" fill="#444" stroke="#444" stroke-width="0.06" text-anchor="middle" >10<tspan dy="-1.73" font-size="3.36">3</tspan></text>
<text x="200.00" y="502.00" font-size="4.8" fill="#444" stroke="#444" stroke-width="0.06" text-anchor="middle" >10<tspan dy="-1.73" font-size="3.36">4</tspan></text>
<text x="221.00" y="502.00" font-size="4.8" fill="#444" stroke="#444" stroke-width="0.06" text-anchor="middle" >10<tspan dy="-1.73" font-size="3.36">5</tspan></text>
<rect x="138.00" y="483.20" width="2.40" height="2.00" fill="#111"/>
<rect x="148.00" y="495.60" width="5.50" height="1.60" fill="#222"/>
<text x="154.50" y="403.10" font-size="8.7" fill="#333" stroke="#333" stroke-width="0.12" textLength="31.80" lengthAdjust="spacingAndGlyphs" >αNK1.1</text>
<text x="189.90" y="403.10" font-size="7.9" fill="#333" stroke="#333" stroke-width="0.12" textLength="25.80" lengthAdjust="spacingAndGlyphs" ><tspan font-style="italic">Ifnlr1</tspan><tspan dy="-2.84" font-size="5.53">–/–</tspan></text>
<text x="241.30" y="406.60" font-size="9.7" fill="#000" font-weight="bold" >P</text>
<line x1="267.50" y1="410.90" x2="267.50" y2="496.20" stroke="#262626" stroke-width="1"/>
<line x1="264.70" y1="496.50" x2="267.50" y2="496.50" stroke="#262626" stroke-width="1"/>
<text x="262.60" y="499.82" font-size="8.4" fill="#2c2c2c" stroke="#2c2c2c" stroke-width="0.12" text-anchor="end" >0</text>
<line x1="264.70" y1="474.50" x2="267.50" y2="474.50" stroke="#262626" stroke-width="1"/>
<text x="262.60" y="478.62" font-size="8.4" fill="#2c2c2c" stroke="#2c2c2c" stroke-width="0.12" text-anchor="end" >2</text>
<line x1="264.70" y1="453.50" x2="267.50" y2="453.50" stroke="#262626" stroke-width="1"/>
<text x="262.60" y="457.42" font-size="8.4" fill="#2c2c2c" stroke="#2c2c2c" stroke-width="0.12" text-anchor="end" >4</text>
<line x1="264.70" y1="432.50" x2="267.50" y2="432.50" stroke="#262626" stroke-width="1"/>
<text x="262.60" y="436.22" font-size="8.4" fill="#2c2c2c" stroke="#2c2c2c" stroke-width="0.12" text-anchor="end" >6</text>
<line x1="264.70" y1="411.50" x2="267.50" y2="411.50" stroke="#262626" stroke-width="1"/>
<text x="262.60" y="415.02" font-size="8.4" fill="#2c2c2c" stroke="#2c2c2c" stroke-width="0.12" text-anchor="end" >8</text>
<line x1="265.00" y1="496.50" x2="321.00" y2="496.50" stroke="#262626" stroke-width="1"/>
<rect x="273.50" y="440.50" width="8.00" height="56.00" fill="#fff" stroke="#262626" stroke-width="1"/>
<line x1="277.50" y1="435.80" x2="277.50" y2="440.50" stroke="#262626" stroke-width="1"/>
<line x1="275.80" y1="435.50" x2="279.20" y2="435.50" stroke="#262626" stroke-width="1"/>
<rect x="284.50" y="461.50" width="8.00" height="35.00" fill="#c3c3c9" stroke="#262626" stroke-width="1"/>
<line x1="288.50" y1="457.50" x2="288.50" y2="461.50" stroke="#262626" stroke-width="1"/>
<line x1="286.80" y1="457.50" x2="290.20" y2="457.50" stroke="#262626" stroke-width="1"/>
<rect x="299.50" y="475.50" width="7.00" height="21.00" fill="#fff" stroke="#262626" stroke-width="1"/>
<line x1="302.50" y1="473.50" x2="302.50" y2="475.50" stroke="#262626" stroke-width="1"/>
<line x1="300.80" y1="473.50" x2="304.20" y2="473.50" stroke="#262626" stroke-width="1"/>
<rect x="310.50" y="473.50" width="8.00" height="23.00" fill="#c3c3c9" stroke="#262626" stroke-width="1"/>
<line x1="314.50" y1="471.50" x2="314.50" y2="473.50" stroke="#262626" stroke-width="1"/>
<line x1="312.80" y1="471.50" x2="316.20" y2="471.50" stroke="#262626" stroke-width="1"/>
<circle cx="275.70" cy="428.40" r="1.5" fill="#c8102e"/>
<circle cx="274.40" cy="434.10" r="1.5" fill="#c8102e"/>
<circle cx="279.10" cy="431.90" r="1.5" fill="#c8102e"/>
<circle cx="280.30" cy="435.30" r="1.5" fill="#c8102e"/>
<circle cx="277.40" cy="445.00" r="1.5" fill="#c8102e"/>
<circle cx="275.10" cy="452.60" r="1.5" fill="#c8102e"/>
<circle cx="279.10" cy="451.40" r="1.5" fill="#c8102e"/>
<circle cx="288.60" cy="444.50" r="1.5" fill="#1d5b9c"/>
<circle cx="288.60" cy="453.10" r="1.5" fill="#1d5b9c"/>
<circle cx="290.40" cy="459.60" r="1.5" fill="#1d5b9c"/>
<circle cx="286.60" cy="460.50" r="1.5" fill="#1d5b9c"/>
<circle cx="285.20" cy="465.80" r="1.5" fill="#1d5b9c"/>
<circle cx="288.60" cy="465.80" r="1.5" fill="#1d5b9c"/>
<circle cx="291.20" cy="465.80" r="1.5" fill="#1d5b9c"/>
<circle cx="288.60" cy="469.60" r="1.5" fill="#1d5b9c"/>
<circle cx="302.80" cy="468.20" r="1.5" fill="#c8102e"/>
<circle cx="300.40" cy="472.70" r="1.5" fill="#c8102e"/>
<circle cx="305.10" cy="472.70" r="1.5" fill="#c8102e"/>
<circle cx="302.00" cy="474.50" r="1.5" fill="#c8102e"/>
<circle cx="304.50" cy="475.50" r="1.5" fill="#c8102e"/>
<circle cx="301.00" cy="476.50" r="1.5" fill="#c8102e"/>
<circle cx="303.30" cy="477.50" r="1.5" fill="#c8102e"/>
<circle cx="314.60" cy="466.10" r="1.5" fill="#1d5b9c"/>
<circle cx="312.00" cy="470.40" r="1.5" fill="#1d5b9c"/>
<circle cx="317.20" cy="470.40" r="1.5" fill="#1d5b9c"/>
<circle cx="314.00" cy="472.50" r="1.5" fill="#1d5b9c"/>
<circle cx="316.50" cy="473.80" r="1.5" fill="#1d5b9c"/>
<circle cx="312.50" cy="474.50" r="1.5" fill="#1d5b9c"/>
<circle cx="314.80" cy="476.00" r="1.5" fill="#1d5b9c"/>
<circle cx="317.00" cy="476.50" r="1.5" fill="#1d5b9c"/>
<line x1="273.40" y1="411.30" x2="293.80" y2="411.30" stroke="#4a4a4a" stroke-width="1.25"/>
<text x="283.60" y="412.70" font-size="7.5" fill="#333" stroke="#333" stroke-width="0.12" text-anchor="middle" ></text>
<path d="M281.25,405.75L281.25,408.65M282.51,406.48L279.99,407.93M282.51,407.93L279.99,406.48" stroke="#222" stroke-width="1.0" stroke-linecap="round"/>
<circle cx="281.25" cy="407.20" r="0.8" fill="#222"/>
<path d="M285.55,405.75L285.55,408.65M286.81,406.48L284.29,407.93M286.81,407.93L284.29,406.48" stroke="#222" stroke-width="1.0" stroke-linecap="round"/>
<circle cx="285.55" cy="407.20" r="0.8" fill="#222"/>
<text x="0" y="0" font-size="8.8" fill="#2c2c2c" stroke="#2c2c2c" stroke-width="0.12" text-anchor="middle" textLength="58.30" lengthAdjust="spacingAndGlyphs" transform="translate(251.70,452.90) rotate(-90)" >Cytotoxicity index</text>
<text x="0" y="0" font-size="8.5" fill="#2c2c2c" stroke="#2c2c2c" stroke-width="0.12" text-anchor="end" textLength="27.00" lengthAdjust="spacingAndGlyphs" transform="translate(289.70,503.40) rotate(-45)" >Isotype</text>
<text x="0" y="0" font-size="9.8" fill="#2c2c2c" stroke="#2c2c2c" stroke-width="0.12" text-anchor="end" textLength="32.00" lengthAdjust="spacingAndGlyphs" transform="translate(312.40,502.30) rotate(-45)" >αNK1.1</text>
<text x="338.60" y="406.60" font-size="9.7" fill="#000" font-weight="bold" >Q</text>
<line x1="363.50" y1="414.70" x2="363.50" y2="497.20" stroke="#262626" stroke-width="1"/>
<line x1="360.60" y1="497.50" x2="363.40" y2="497.50" stroke="#262626" stroke-width="1"/>
<text x="358.50" y="500.82" font-size="8.4" fill="#2c2c2c" stroke="#2c2c2c" stroke-width="0.12" text-anchor="end" >0</text>
<line x1="360.60" y1="476.50" x2="363.40" y2="476.50" stroke="#262626" stroke-width="1"/>
<text x="358.50" y="480.32" font-size="8.4" fill="#2c2c2c" stroke="#2c2c2c" stroke-width="0.12" text-anchor="end" >1</text>
<line x1="360.60" y1="456.50" x2="363.40" y2="456.50" stroke="#262626" stroke-width="1"/>
<text x="358.50" y="459.82" font-size="8.4" fill="#2c2c2c" stroke="#2c2c2c" stroke-width="0.12" text-anchor="end" >2</text>
<line x1="360.60" y1="435.50" x2="363.40" y2="435.50" stroke="#262626" stroke-width="1"/>
<text x="358.50" y="439.32" font-size="8.4" fill="#2c2c2c" stroke="#2c2c2c" stroke-width="0.12" text-anchor="end" >3</text>
<line x1="360.60" y1="415.50" x2="363.40" y2="415.50" stroke="#262626" stroke-width="1"/>
<text x="358.50" y="418.82" font-size="8.4" fill="#2c2c2c" stroke="#2c2c2c" stroke-width="0.12" text-anchor="end" >4</text>
<line x1="363.40" y1="497.50" x2="418.80" y2="497.50" stroke="#262626" stroke-width="1"/>
<rect x="368.50" y="439.50" width="8.00" height="58.00" fill="#fff" stroke="#262626" stroke-width="1"/>
<line x1="372.50" y1="430.30" x2="372.50" y2="439.50" stroke="#262626" stroke-width="1"/>
<line x1="370.80" y1="430.50" x2="374.20" y2="430.50" stroke="#262626" stroke-width="1"/>
<rect x="380.50" y="454.50" width="7.00" height="43.00" fill="#c3c3c9" stroke="#262626" stroke-width="1"/>
<line x1="383.50" y1="449.20" x2="383.50" y2="454.50" stroke="#262626" stroke-width="1"/>
<line x1="381.80" y1="449.50" x2="385.20" y2="449.50" stroke="#262626" stroke-width="1"/>
<rect x="393.50" y="439.50" width="8.00" height="58.00" fill="#fff" stroke="#262626" stroke-width="1"/>
<line x1="397.50" y1="427.70" x2="397.50" y2="439.50" stroke="#262626" stroke-width="1"/>
<line x1="395.80" y1="427.50" x2="399.20" y2="427.50" stroke="#262626" stroke-width="1"/>
<rect x="405.50" y="446.50" width="7.00" height="51.00" fill="#c3c3c9" stroke="#262626" stroke-width="1"/>
<line x1="408.50" y1="442.20" x2="408.50" y2="446.50" stroke="#262626" stroke-width="1"/>
<line x1="406.80" y1="442.50" x2="410.20" y2="442.50" stroke="#262626" stroke-width="1"/>
<circle cx="371.40" cy="426.00" r="1.5" fill="#c8102e"/>
<circle cx="373.40" cy="426.30" r="1.5" fill="#c8102e"/>
<circle cx="372.60" cy="428.40" r="1.5" fill="#c8102e"/>
<circle cx="370.30" cy="439.80" r="1.5" fill="#c8102e"/>
<circle cx="374.30" cy="440.20" r="1.5" fill="#c8102e"/>
<circle cx="372.60" cy="436.70" r="1.5" fill="#c8102e"/>
<circle cx="371.70" cy="442.80" r="1.5" fill="#c8102e"/>
<circle cx="375.20" cy="442.80" r="1.5" fill="#c8102e"/>
<circle cx="372.60" cy="452.30" r="1.5" fill="#c8102e"/>
<circle cx="370.00" cy="441.50" r="1.5" fill="#c8102e"/>
<circle cx="383.50" cy="444.00" r="1.5" fill="#1d5b9c"/>
<circle cx="381.20" cy="449.70" r="1.5" fill="#1d5b9c"/>
<circle cx="385.60" cy="449.70" r="1.5" fill="#1d5b9c"/>
<circle cx="380.00" cy="454.00" r="1.5" fill="#1d5b9c"/>
<circle cx="382.50" cy="452.50" r="1.5" fill="#1d5b9c"/>
<circle cx="386.00" cy="453.00" r="1.5" fill="#1d5b9c"/>
<circle cx="383.00" cy="455.50" r="1.5" fill="#1d5b9c"/>
<circle cx="385.50" cy="456.00" r="1.5" fill="#1d5b9c"/>
<circle cx="381.50" cy="457.00" r="1.5" fill="#1d5b9c"/>
<circle cx="384.70" cy="459.60" r="1.5" fill="#1d5b9c"/>
<circle cx="383.30" cy="458.00" r="1.5" fill="#1d5b9c"/>
<circle cx="380.80" cy="452.00" r="1.5" fill="#1d5b9c"/>
<circle cx="386.80" cy="455.50" r="1.5" fill="#1d5b9c"/>
<circle cx="397.70" cy="417.70" r="1.5" fill="#3cb63c"/>
<circle cx="397.70" cy="422.50" r="1.5" fill="#3cb63c"/>
<circle cx="395.90" cy="441.60" r="1.5" fill="#3cb63c"/>
<circle cx="399.40" cy="441.90" r="1.5" fill="#3cb63c"/>
<circle cx="395.10" cy="446.20" r="1.5" fill="#3cb63c"/>
<circle cx="398.50" cy="446.20" r="1.5" fill="#3cb63c"/>
<circle cx="396.80" cy="450.60" r="1.5" fill="#3cb63c"/>
<circle cx="397.50" cy="444.00" r="1.5" fill="#3cb63c"/>
<circle cx="408.60" cy="432.00" r="1.5" fill="#f39a1e"/>
<circle cx="406.30" cy="445.00" r="1.5" fill="#f39a1e"/>
<circle cx="409.80" cy="445.00" r="1.5" fill="#f39a1e"/>
<circle cx="407.50" cy="447.50" r="1.5" fill="#f39a1e"/>
<circle cx="410.80" cy="447.50" r="1.5" fill="#f39a1e"/>
<circle cx="406.00" cy="449.50" r="1.5" fill="#f39a1e"/>
<circle cx="409.00" cy="449.80" r="1.5" fill="#f39a1e"/>
<circle cx="407.20" cy="452.30" r="1.5" fill="#f39a1e"/>
<circle cx="408.90" cy="456.60" r="1.5" fill="#f39a1e"/>
<circle cx="410.50" cy="446.00" r="1.5" fill="#f39a1e"/>
<line x1="368.60" y1="415.40" x2="387.60" y2="415.40" stroke="#4a4a4a" stroke-width="1.25"/>
<text x="378.10" y="416.80" font-size="7.5" fill="#333" stroke="#333" stroke-width="0.12" text-anchor="middle" ></text>
<path d="M371.35,409.75L371.35,412.65M372.61,410.48L370.09,411.93M372.61,411.93L370.09,410.48" stroke="#222" stroke-width="1.0" stroke-linecap="round"/>
<circle cx="371.35" cy="411.20" r="0.8" fill="#222"/>
<path d="M375.65,409.75L375.65,412.65M376.91,410.48L374.39,411.93M376.91,411.93L374.39,410.48" stroke="#222" stroke-width="1.0" stroke-linecap="round"/>
<circle cx="375.65" cy="411.20" r="0.8" fill="#222"/>
<path d="M379.95,409.75L379.95,412.65M381.21,410.48L378.69,411.93M381.21,411.93L378.69,410.48" stroke="#222" stroke-width="1.0" stroke-linecap="round"/>
<circle cx="379.95" cy="411.20" r="0.8" fill="#222"/>
<path d="M384.25,409.75L384.25,412.65M385.51,410.48L382.99,411.93M385.51,411.93L382.99,410.48" stroke="#222" stroke-width="1.0" stroke-linecap="round"/>
<circle cx="384.25" cy="411.20" r="0.8" fill="#222"/>
<line x1="394.60" y1="415.40" x2="413.60" y2="415.40" stroke="#4a4a4a" stroke-width="1.25"/>
<text x="404.10" y="416.80" font-size="7.5" fill="#333" stroke="#333" stroke-width="0.12" text-anchor="middle" ></text>
<path d="M402.45,409.75L402.45,412.65M403.71,410.48L401.19,411.93M403.71,411.93L401.19,410.48" stroke="#222" stroke-width="1.0" stroke-linecap="round"/>
<circle cx="402.45" cy="411.20" r="0.8" fill="#222"/>
<path d="M406.75,409.75L406.75,412.65M408.01,410.48L405.49,411.93M408.01,411.93L405.49,410.48" stroke="#222" stroke-width="1.0" stroke-linecap="round"/>
<circle cx="406.75" cy="411.20" r="0.8" fill="#222"/>
<text x="0" y="0" font-size="8.8" fill="#2c2c2c" stroke="#2c2c2c" stroke-width="0.12" text-anchor="middle" textLength="58.00" lengthAdjust="spacingAndGlyphs" transform="translate(348.70,454.85) rotate(-90)" >Cytotoxicity index</text>
<circle cx="390.70" cy="510.40" r="2.1" fill="#c8102e"/>
<text x="395.90" y="513.00" font-size="8.0" fill="#333" stroke="#333" stroke-width="0.12" textLength="12.80" lengthAdjust="spacingAndGlyphs" >WT</text>
<circle cx="390.70" cy="521.30" r="2.1" fill="#1d5b9c"/>
<text x="395.90" y="524.00" font-size="8.0" fill="#333" stroke="#333" stroke-width="0.12" textLength="27.80" lengthAdjust="spacingAndGlyphs" ><tspan font-style="italic">Ifnlr1</tspan><tspan dy="-2.88" font-size="5.60">–/–</tspan></text>
<circle cx="431.80" cy="510.40" r="2.1" fill="#3cb63c"/>
<text x="437.00" y="513.00" font-size="8.0" fill="#333" stroke="#333" stroke-width="0.12" textLength="69.00" lengthAdjust="spacingAndGlyphs" >NKp46<tspan dy="-2.88" font-size="5.60">Cre–</tspan><tspan dy="2.88">, </tspan><tspan font-style="italic">Ifnlr1</tspan><tspan dy="-2.88" font-size="5.60" font-style="italic">fl,fl</tspan></text>
<circle cx="431.80" cy="521.30" r="2.1" fill="#f39a1e"/>
<text x="437.00" y="524.00" font-size="8.0" fill="#333" stroke="#333" stroke-width="0.12" textLength="69.80" lengthAdjust="spacingAndGlyphs" >NKp46<tspan dy="-2.88" font-size="5.60">Cre+</tspan><tspan dy="2.88">, </tspan><tspan font-style="italic">Ifnlr1</tspan><tspan dy="-2.88" font-size="5.60" font-style="italic">fl,fl</tspan></text>
<text x="431.80" y="406.60" font-size="9.7" fill="#000" font-weight="bold" >R</text>
<line x1="474.50" y1="414.90" x2="474.50" y2="497.40" stroke="#262626" stroke-width="1"/>
<line x1="471.70" y1="497.50" x2="474.50" y2="497.50" stroke="#262626" stroke-width="1"/>
<text x="469.60" y="501.02" font-size="8.4" fill="#2c2c2c" stroke="#2c2c2c" stroke-width="0.12" text-anchor="end" >0.0</text>
<line x1="471.70" y1="476.50" x2="474.50" y2="476.50" stroke="#262626" stroke-width="1"/>
<text x="469.60" y="480.52" font-size="8.4" fill="#2c2c2c" stroke="#2c2c2c" stroke-width="0.12" text-anchor="end" >0.2</text>
<line x1="471.70" y1="456.50" x2="474.50" y2="456.50" stroke="#262626" stroke-width="1"/>
<text x="469.60" y="460.02" font-size="8.4" fill="#2c2c2c" stroke="#2c2c2c" stroke-width="0.12" text-anchor="end" >0.4</text>
<line x1="471.70" y1="435.50" x2="474.50" y2="435.50" stroke="#262626" stroke-width="1"/>
<text x="469.60" y="439.52" font-size="8.4" fill="#2c2c2c" stroke="#2c2c2c" stroke-width="0.12" text-anchor="end" >0.6</text>
<line x1="471.70" y1="415.50" x2="474.50" y2="415.50" stroke="#262626" stroke-width="1"/>
<text x="469.60" y="419.02" font-size="8.4" fill="#2c2c2c" stroke="#2c2c2c" stroke-width="0.12" text-anchor="end" >0.8</text>
<line x1="474.50" y1="497.50" x2="506.00" y2="497.50" stroke="#262626" stroke-width="1"/>
<rect x="480.50" y="449.50" width="10.00" height="48.00" fill="#fff" stroke="#262626" stroke-width="1"/>
<line x1="485.50" y1="437.30" x2="485.50" y2="449.50" stroke="#262626" stroke-width="1"/>
<line x1="483.80" y1="437.50" x2="487.20" y2="437.50" stroke="#262626" stroke-width="1"/>
<rect x="494.50" y="467.50" width="10.00" height="30.00" fill="#c3c3c9" stroke="#262626" stroke-width="1"/>
<line x1="499.50" y1="460.50" x2="499.50" y2="467.50" stroke="#262626" stroke-width="1"/>
<line x1="497.80" y1="460.50" x2="501.20" y2="460.50" stroke="#262626" stroke-width="1"/>
<circle cx="481.80" cy="429.00" r="1.5" fill="#3cb63c"/>
<circle cx="490.50" cy="432.50" r="1.5" fill="#3cb63c"/>
<circle cx="481.80" cy="443.50" r="1.5" fill="#3cb63c"/>
<circle cx="490.50" cy="445.60" r="1.5" fill="#3cb63c"/>
<circle cx="482.20" cy="450.10" r="1.5" fill="#3cb63c"/>
<circle cx="486.00" cy="450.50" r="1.5" fill="#3cb63c"/>
<circle cx="481.20" cy="453.30" r="1.5" fill="#3cb63c"/>
<circle cx="490.50" cy="456.00" r="1.5" fill="#3cb63c"/>
<circle cx="481.80" cy="458.40" r="1.5" fill="#3cb63c"/>
<circle cx="486.80" cy="461.50" r="1.5" fill="#3cb63c"/>
<circle cx="486.40" cy="467.80" r="1.5" fill="#3cb63c"/>
<circle cx="498.80" cy="454.30" r="1.5" fill="#f39a1e"/>
<circle cx="501.30" cy="456.80" r="1.5" fill="#f39a1e"/>
<circle cx="504.00" cy="463.60" r="1.5" fill="#f39a1e"/>
<circle cx="497.00" cy="465.50" r="1.5" fill="#f39a1e"/>
<circle cx="499.50" cy="466.50" r="1.5" fill="#f39a1e"/>
<circle cx="502.00" cy="467.00" r="1.5" fill="#f39a1e"/>
<circle cx="496.70" cy="471.30" r="1.5" fill="#f39a1e"/>
<circle cx="499.50" cy="470.50" r="1.5" fill="#f39a1e"/>
<circle cx="502.30" cy="471.00" r="1.5" fill="#f39a1e"/>
<circle cx="498.00" cy="473.50" r="1.5" fill="#f39a1e"/>
<circle cx="500.80" cy="474.00" r="1.5" fill="#f39a1e"/>
<circle cx="503.50" cy="469.50" r="1.5" fill="#f39a1e"/>
<line x1="486.80" y1="413.80" x2="499.80" y2="413.80" stroke="#4a4a4a" stroke-width="1.25"/>
<text x="493.30" y="415.20" font-size="7.5" fill="#333" stroke="#333" stroke-width="0.12" text-anchor="middle" ></text>
<path d="M491.25,408.35L491.25,411.25M492.51,409.07L489.99,410.53M492.51,410.53L489.99,409.07" stroke="#222" stroke-width="1.0" stroke-linecap="round"/>
<circle cx="491.25" cy="409.80" r="0.8" fill="#222"/>
<path d="M495.55,408.35L495.55,411.25M496.81,409.07L494.29,410.53M496.81,410.53L494.29,409.07" stroke="#222" stroke-width="1.0" stroke-linecap="round"/>
<circle cx="495.55" cy="409.80" r="0.8" fill="#222"/>
<text x="0" y="0" font-size="8.8" fill="#2c2c2c" stroke="#2c2c2c" stroke-width="0.12" text-anchor="middle" textLength="29.30" lengthAdjust="spacingAndGlyphs" transform="translate(441.80,453.80) rotate(-90)" >Recipient</text>
<text x="0" y="0" font-size="8.8" fill="#2c2c2c" stroke="#2c2c2c" stroke-width="0.12" text-anchor="middle" textLength="70.20" lengthAdjust="spacingAndGlyphs" transform="translate(453.10,453.85) rotate(-90)" >NK cells × 10<tspan dy="-3.17" font-size="6.16">6</tspan><tspan dy="3.17">/spleen</tspan></text>
<rect x="0" y="0" width="520" height="1.05" fill="#505050"/>
<rect x="0" y="0" width="1.2" height="530" fill="#4a4a4a"/>
<rect x="518.9" y="0" width="1.1" height="530" fill="#383838"/>
<rect x="0" y="528.6" width="520" height="1.4" fill="#404040"/>
</svg></body></html>
